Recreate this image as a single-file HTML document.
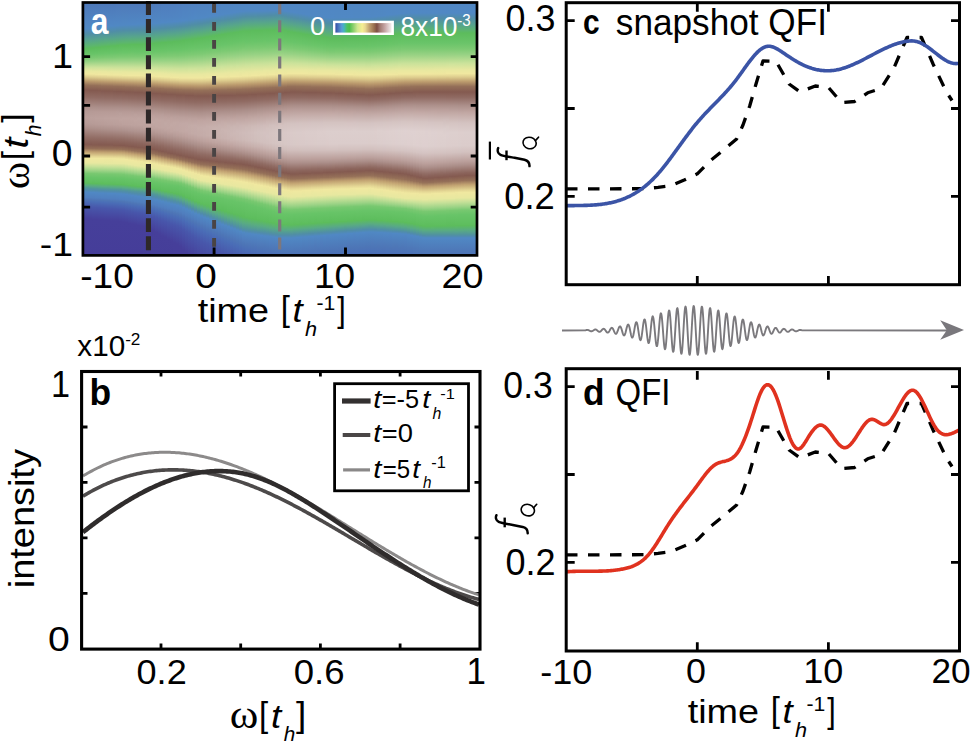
<!DOCTYPE html>
<html><head><meta charset="utf-8"><title>figure</title>
<style>html,body{margin:0;padding:0;background:#fff;} body{width:971px;height:742px;overflow:hidden;} svg{display:block;}</style>
</head><body>
<svg width="971" height="742" viewBox="0 0 971 742">
<rect width="971" height="742" fill="#fff"/>
<defs><linearGradient id="g0" x1="0" y1="0" x2="0" y2="1"><stop offset=".0000" stop-color="#4e78b8"/><stop offset=".0731" stop-color="#5084c2"/><stop offset=".1047" stop-color="#5088c3"/><stop offset=".1265" stop-color="#508ea6"/><stop offset=".1522" stop-color="#57a58b"/><stop offset=".1739" stop-color="#5cb66d"/><stop offset=".1838" stop-color="#5cbc5c"/><stop offset=".2075" stop-color="#6ac569"/><stop offset=".2213" stop-color="#7dca73"/><stop offset=".2332" stop-color="#94d182"/><stop offset=".2530" stop-color="#c5e098"/><stop offset=".2648" stop-color="#dee69e"/><stop offset=".2727" stop-color="#eae8a0"/><stop offset=".2826" stop-color="#efe79f"/><stop offset=".2945" stop-color="#dccb8c"/><stop offset=".3103" stop-color="#bb9b6d"/><stop offset=".3261" stop-color="#957058"/><stop offset=".3458" stop-color="#845a50"/><stop offset=".3735" stop-color="#906b63"/><stop offset=".4130" stop-color="#ab8e89"/><stop offset=".4289" stop-color="#b49995"/><stop offset=".4545" stop-color="#ba9f9b"/><stop offset=".4802" stop-color="#b59a96"/><stop offset=".4960" stop-color="#ac8f8b"/><stop offset=".5336" stop-color="#916c64"/><stop offset=".5613" stop-color="#845a50"/><stop offset=".5771" stop-color="#957058"/><stop offset=".5909" stop-color="#c2a372"/><stop offset=".6087" stop-color="#e5d795"/><stop offset=".6166" stop-color="#f0e8a0"/><stop offset=".6344" stop-color="#e8e8a0"/><stop offset=".6482" stop-color="#c5e098"/><stop offset=".6640" stop-color="#9bd386"/><stop offset=".6719" stop-color="#83cc78"/><stop offset=".6759" stop-color="#78c870"/><stop offset=".6917" stop-color="#67c467"/><stop offset=".7115" stop-color="#5ebe5e"/><stop offset=".7134" stop-color="#5cbc5c"/><stop offset=".7233" stop-color="#59ac81"/><stop offset=".7312" stop-color="#529997"/><stop offset=".7391" stop-color="#508ca8"/><stop offset=".7490" stop-color="#5088c3"/><stop offset=".7708" stop-color="#507ebe"/><stop offset=".7787" stop-color="#4d75b6"/><stop offset=".7866" stop-color="#4a6cb6"/><stop offset=".8063" stop-color="#4857ab"/><stop offset=".8538" stop-color="#463f9a"/><stop offset="1.0000" stop-color="#453d99"/></linearGradient>
<linearGradient id="g1" x1="0" y1="0" x2="0" y2="1"><stop offset=".0000" stop-color="#4e78b8"/><stop offset=".0731" stop-color="#5084c2"/><stop offset=".1028" stop-color="#5088c4"/><stop offset=".1245" stop-color="#508da7"/><stop offset=".1502" stop-color="#56a48c"/><stop offset=".1719" stop-color="#5cb56f"/><stop offset=".1818" stop-color="#5cbc5c"/><stop offset=".2055" stop-color="#69c468"/><stop offset=".2213" stop-color="#7eca74"/><stop offset=".2332" stop-color="#95d183"/><stop offset=".2549" stop-color="#cae29a"/><stop offset=".2708" stop-color="#e8e8a0"/><stop offset=".2826" stop-color="#f0e8a0"/><stop offset=".2945" stop-color="#ddcc8d"/><stop offset=".3103" stop-color="#bd9c6e"/><stop offset=".3261" stop-color="#967259"/><stop offset=".3458" stop-color="#855b50"/><stop offset=".3735" stop-color="#906a62"/><stop offset=".4130" stop-color="#ab8e89"/><stop offset=".4289" stop-color="#b49995"/><stop offset=".4545" stop-color="#bb9f9b"/><stop offset=".4802" stop-color="#b69a96"/><stop offset=".4960" stop-color="#ad908b"/><stop offset=".5336" stop-color="#926d65"/><stop offset=".5593" stop-color="#855b52"/><stop offset=".5632" stop-color="#865c51"/><stop offset=".5771" stop-color="#956f58"/><stop offset=".5909" stop-color="#c2a372"/><stop offset=".6087" stop-color="#e5d795"/><stop offset=".6166" stop-color="#f0e8a0"/><stop offset=".6344" stop-color="#e8e8a0"/><stop offset=".6482" stop-color="#c6e098"/><stop offset=".6640" stop-color="#9cd386"/><stop offset=".6719" stop-color="#84cc78"/><stop offset=".6759" stop-color="#78c870"/><stop offset=".6917" stop-color="#67c467"/><stop offset=".7115" stop-color="#5ebe5e"/><stop offset=".7134" stop-color="#5dbd5d"/><stop offset=".7154" stop-color="#5cba61"/><stop offset=".7233" stop-color="#5aad7f"/><stop offset=".7312" stop-color="#539a96"/><stop offset=".7411" stop-color="#508bac"/><stop offset=".7490" stop-color="#5088c1"/><stop offset=".7530" stop-color="#5087c3"/><stop offset=".7708" stop-color="#507fbf"/><stop offset=".7787" stop-color="#4e76b6"/><stop offset=".7866" stop-color="#4a6db7"/><stop offset=".8083" stop-color="#4857ab"/><stop offset=".8557" stop-color="#463f9a"/><stop offset="1.0000" stop-color="#453d99"/></linearGradient>
<linearGradient id="g2" x1="0" y1="0" x2="0" y2="1"><stop offset=".0000" stop-color="#4e78b8"/><stop offset=".0731" stop-color="#5084c2"/><stop offset=".1028" stop-color="#5088c3"/><stop offset=".1245" stop-color="#508ea5"/><stop offset=".1522" stop-color="#58a789"/><stop offset=".1719" stop-color="#5cb66c"/><stop offset=".1798" stop-color="#5cbb5e"/><stop offset=".1877" stop-color="#5fbf5f"/><stop offset=".2055" stop-color="#6ac469"/><stop offset=".2194" stop-color="#7bc972"/><stop offset=".2332" stop-color="#96d183"/><stop offset=".2549" stop-color="#cae29a"/><stop offset=".2708" stop-color="#e8e8a0"/><stop offset=".2826" stop-color="#f0e8a0"/><stop offset=".2945" stop-color="#dece8e"/><stop offset=".3123" stop-color="#b9986c"/><stop offset=".3281" stop-color="#946f58"/><stop offset=".3478" stop-color="#845a50"/><stop offset=".3755" stop-color="#916c64"/><stop offset=".4150" stop-color="#ad908b"/><stop offset=".4308" stop-color="#b59a96"/><stop offset=".4565" stop-color="#bba09c"/><stop offset=".4802" stop-color="#b69b97"/><stop offset=".4960" stop-color="#ae918c"/><stop offset=".5316" stop-color="#947068"/><stop offset=".5474" stop-color="#8a635a"/><stop offset=".5613" stop-color="#845a51"/><stop offset=".5771" stop-color="#946f58"/><stop offset=".5909" stop-color="#c1a271"/><stop offset=".6087" stop-color="#e4d694"/><stop offset=".6166" stop-color="#f0e8a0"/><stop offset=".6344" stop-color="#e8e8a0"/><stop offset=".6482" stop-color="#c6e098"/><stop offset=".6660" stop-color="#97d284"/><stop offset=".6759" stop-color="#79c870"/><stop offset=".6917" stop-color="#67c467"/><stop offset=".7115" stop-color="#5fbf5f"/><stop offset=".7154" stop-color="#5cbb5f"/><stop offset=".7253" stop-color="#59aa84"/><stop offset=".7352" stop-color="#51949d"/><stop offset=".7411" stop-color="#508caa"/><stop offset=".7510" stop-color="#5088c4"/><stop offset=".7708" stop-color="#507fbf"/><stop offset=".7787" stop-color="#4e76b6"/><stop offset=".7866" stop-color="#4a6eb7"/><stop offset=".8083" stop-color="#4857ab"/><stop offset=".8557" stop-color="#463f9a"/><stop offset="1.0000" stop-color="#453d99"/></linearGradient>
<linearGradient id="g3" x1="0" y1="0" x2="0" y2="1"><stop offset=".0000" stop-color="#4e78b8"/><stop offset=".0731" stop-color="#5084c2"/><stop offset=".1008" stop-color="#5088c4"/><stop offset=".1225" stop-color="#508da6"/><stop offset=".1482" stop-color="#57a48c"/><stop offset=".1700" stop-color="#5cb66e"/><stop offset=".1798" stop-color="#5cbc5c"/><stop offset=".2036" stop-color="#68c468"/><stop offset=".2194" stop-color="#7cc973"/><stop offset=".2332" stop-color="#96d283"/><stop offset=".2549" stop-color="#cae29a"/><stop offset=".2727" stop-color="#e9e8a0"/><stop offset=".2826" stop-color="#f0e8a0"/><stop offset=".2945" stop-color="#dfcf8f"/><stop offset=".3123" stop-color="#ba996d"/><stop offset=".3281" stop-color="#956f58"/><stop offset=".3478" stop-color="#845a50"/><stop offset=".3755" stop-color="#916c64"/><stop offset=".4150" stop-color="#ad908b"/><stop offset=".4308" stop-color="#b69a96"/><stop offset=".4565" stop-color="#bba09c"/><stop offset=".4802" stop-color="#b79b97"/><stop offset=".4960" stop-color="#ae928d"/><stop offset=".5336" stop-color="#936e66"/><stop offset=".5494" stop-color="#8a6259"/><stop offset=".5632" stop-color="#855b50"/><stop offset=".5771" stop-color="#946f58"/><stop offset=".5830" stop-color="#a68362"/><stop offset=".5909" stop-color="#c1a171"/><stop offset=".6087" stop-color="#e4d694"/><stop offset=".6166" stop-color="#f0e8a0"/><stop offset=".6344" stop-color="#e8e8a0"/><stop offset=".6482" stop-color="#c7e199"/><stop offset=".6660" stop-color="#98d284"/><stop offset=".6759" stop-color="#79c871"/><stop offset=".6917" stop-color="#68c468"/><stop offset=".7134" stop-color="#5dbd5d"/><stop offset=".7154" stop-color="#5cbc5d"/><stop offset=".7253" stop-color="#59ab82"/><stop offset=".7352" stop-color="#52959c"/><stop offset=".7411" stop-color="#508ca8"/><stop offset=".7510" stop-color="#5088c4"/><stop offset=".7727" stop-color="#507ebe"/><stop offset=".7806" stop-color="#4d75b6"/><stop offset=".7885" stop-color="#4a6db6"/><stop offset=".8103" stop-color="#4857ab"/><stop offset=".8577" stop-color="#463f9a"/><stop offset="1.0000" stop-color="#453d99"/></linearGradient>
<linearGradient id="g4" x1="0" y1="0" x2="0" y2="1"><stop offset=".0000" stop-color="#4e78b8"/><stop offset=".0731" stop-color="#5084c2"/><stop offset=".0988" stop-color="#5088c4"/><stop offset=".1225" stop-color="#508ea5"/><stop offset=".1482" stop-color="#57a68a"/><stop offset=".1700" stop-color="#5cb66c"/><stop offset=".1779" stop-color="#5cbc5d"/><stop offset=".1996" stop-color="#66c366"/><stop offset=".2174" stop-color="#7ac971"/><stop offset=".2332" stop-color="#97d284"/><stop offset=".2569" stop-color="#cee39b"/><stop offset=".2727" stop-color="#e9e8a0"/><stop offset=".2846" stop-color="#efe69f"/><stop offset=".2964" stop-color="#dcca8c"/><stop offset=".3123" stop-color="#bb9b6d"/><stop offset=".3281" stop-color="#957058"/><stop offset=".3478" stop-color="#845a50"/><stop offset=".3755" stop-color="#916b63"/><stop offset=".4150" stop-color="#ac908b"/><stop offset=".4328" stop-color="#b79b97"/><stop offset=".4585" stop-color="#bca19d"/><stop offset=".4822" stop-color="#b79b97"/><stop offset=".4980" stop-color="#ae918c"/><stop offset=".5336" stop-color="#936f67"/><stop offset=".5494" stop-color="#8a6259"/><stop offset=".5632" stop-color="#855b50"/><stop offset=".5771" stop-color="#946e57"/><stop offset=".5810" stop-color="#9e7b5d"/><stop offset=".5909" stop-color="#c0a070"/><stop offset=".6087" stop-color="#e4d594"/><stop offset=".6166" stop-color="#f0e8a0"/><stop offset=".6344" stop-color="#e8e8a0"/><stop offset=".6482" stop-color="#c8e199"/><stop offset=".6660" stop-color="#98d284"/><stop offset=".6759" stop-color="#7ac971"/><stop offset=".6917" stop-color="#68c468"/><stop offset=".7134" stop-color="#5ebe5e"/><stop offset=".7154" stop-color="#5cbc5c"/><stop offset=".7253" stop-color="#59ac80"/><stop offset=".7352" stop-color="#52969b"/><stop offset=".7431" stop-color="#508bac"/><stop offset=".7510" stop-color="#5088c2"/><stop offset=".7569" stop-color="#5086c3"/><stop offset=".7727" stop-color="#507fbf"/><stop offset=".7806" stop-color="#4e76b6"/><stop offset=".7885" stop-color="#4a6eb7"/><stop offset=".8103" stop-color="#4857ab"/><stop offset=".8577" stop-color="#463f9a"/><stop offset="1.0000" stop-color="#453d99"/></linearGradient>
<linearGradient id="g5" x1="0" y1="0" x2="0" y2="1"><stop offset=".0000" stop-color="#4e78b8"/><stop offset=".0751" stop-color="#5084c2"/><stop offset=".0988" stop-color="#5088c3"/><stop offset=".1206" stop-color="#508ea6"/><stop offset=".1462" stop-color="#57a58b"/><stop offset=".1680" stop-color="#5cb66d"/><stop offset=".1779" stop-color="#5cbc5c"/><stop offset=".2036" stop-color="#6ac569"/><stop offset=".2194" stop-color="#7eca74"/><stop offset=".2332" stop-color="#98d284"/><stop offset=".2569" stop-color="#cee39b"/><stop offset=".2727" stop-color="#e9e8a0"/><stop offset=".2846" stop-color="#f0e7a0"/><stop offset=".2964" stop-color="#ddcc8d"/><stop offset=".3123" stop-color="#bc9c6e"/><stop offset=".3281" stop-color="#967159"/><stop offset=".3478" stop-color="#855b50"/><stop offset=".3755" stop-color="#906b63"/><stop offset=".4150" stop-color="#ac8f8b"/><stop offset=".4328" stop-color="#b79b97"/><stop offset=".4585" stop-color="#bca19d"/><stop offset=".4822" stop-color="#b79c98"/><stop offset=".5000" stop-color="#ad908b"/><stop offset=".5356" stop-color="#926d65"/><stop offset=".5573" stop-color="#865d54"/><stop offset=".5632" stop-color="#845a50"/><stop offset=".5791" stop-color="#977259"/><stop offset=".5909" stop-color="#c0a070"/><stop offset=".6087" stop-color="#e3d593"/><stop offset=".6166" stop-color="#f0e8a0"/><stop offset=".6344" stop-color="#e8e8a0"/><stop offset=".6482" stop-color="#c8e199"/><stop offset=".6640" stop-color="#9fd487"/><stop offset=".6739" stop-color="#81cb76"/><stop offset=".6779" stop-color="#77c86f"/><stop offset=".6937" stop-color="#67c467"/><stop offset=".7134" stop-color="#5ebe5e"/><stop offset=".7154" stop-color="#5dbd5d"/><stop offset=".7174" stop-color="#5cba61"/><stop offset=".7273" stop-color="#58a985"/><stop offset=".7372" stop-color="#51949d"/><stop offset=".7431" stop-color="#508caa"/><stop offset=".7530" stop-color="#5088c4"/><stop offset=".7727" stop-color="#507fbf"/><stop offset=".7806" stop-color="#4e76b6"/><stop offset=".7885" stop-color="#4a6eb7"/><stop offset=".8123" stop-color="#4856ab"/><stop offset=".8597" stop-color="#463f9a"/><stop offset="1.0000" stop-color="#453d99"/></linearGradient>
<linearGradient id="g6" x1="0" y1="0" x2="0" y2="1"><stop offset=".0000" stop-color="#4e78b8"/><stop offset=".0751" stop-color="#5085c2"/><stop offset=".0968" stop-color="#5088c4"/><stop offset=".1186" stop-color="#508da7"/><stop offset=".1443" stop-color="#56a48c"/><stop offset=".1660" stop-color="#5cb56e"/><stop offset=".1759" stop-color="#5cbc5c"/><stop offset=".2016" stop-color="#69c468"/><stop offset=".2174" stop-color="#7cc972"/><stop offset=".2332" stop-color="#98d284"/><stop offset=".2569" stop-color="#cee39b"/><stop offset=".2727" stop-color="#e8e8a0"/><stop offset=".2846" stop-color="#f0e8a0"/><stop offset=".2964" stop-color="#decd8e"/><stop offset=".3123" stop-color="#bd9d6f"/><stop offset=".3300" stop-color="#946f58"/><stop offset=".3498" stop-color="#845a51"/><stop offset=".3775" stop-color="#916d65"/><stop offset=".4150" stop-color="#ac8f8a"/><stop offset=".4328" stop-color="#b79b97"/><stop offset=".4585" stop-color="#bca19d"/><stop offset=".4822" stop-color="#b89c98"/><stop offset=".5000" stop-color="#ad918c"/><stop offset=".5356" stop-color="#926e66"/><stop offset=".5514" stop-color="#896159"/><stop offset=".5632" stop-color="#845a50"/><stop offset=".5791" stop-color="#967158"/><stop offset=".5909" stop-color="#bf9f6f"/><stop offset=".6087" stop-color="#e3d593"/><stop offset=".6166" stop-color="#f0e8a0"/><stop offset=".6344" stop-color="#e8e8a0"/><stop offset=".6423" stop-color="#d7e59d"/><stop offset=".6601" stop-color="#aad78d"/><stop offset=".6719" stop-color="#88cd7b"/><stop offset=".6779" stop-color="#77c870"/><stop offset=".6937" stop-color="#67c467"/><stop offset=".7134" stop-color="#5ebe5e"/><stop offset=".7154" stop-color="#5dbd5d"/><stop offset=".7174" stop-color="#5cbb5f"/><stop offset=".7273" stop-color="#59ab83"/><stop offset=".7372" stop-color="#51959c"/><stop offset=".7431" stop-color="#508ca9"/><stop offset=".7530" stop-color="#5088c4"/><stop offset=".7727" stop-color="#5080c0"/><stop offset=".7826" stop-color="#4d75b6"/><stop offset=".7905" stop-color="#4a6db7"/><stop offset=".8123" stop-color="#4857ab"/><stop offset=".8597" stop-color="#463f9a"/><stop offset="1.0000" stop-color="#453d99"/></linearGradient>
<linearGradient id="g7" x1="0" y1="0" x2="0" y2="1"><stop offset=".0000" stop-color="#4e78b8"/><stop offset=".0751" stop-color="#5085c2"/><stop offset=".0968" stop-color="#5088c2"/><stop offset=".1186" stop-color="#508ea5"/><stop offset=".1462" stop-color="#58a789"/><stop offset=".1660" stop-color="#5cb66c"/><stop offset=".1739" stop-color="#5cbb5e"/><stop offset=".1858" stop-color="#60c060"/><stop offset=".2036" stop-color="#6cc56a"/><stop offset=".2174" stop-color="#7dca73"/><stop offset=".2332" stop-color="#99d284"/><stop offset=".2569" stop-color="#cde39b"/><stop offset=".2727" stop-color="#e8e8a0"/><stop offset=".2846" stop-color="#f0e8a0"/><stop offset=".2964" stop-color="#dfce8f"/><stop offset=".3142" stop-color="#ba996d"/><stop offset=".3300" stop-color="#956f58"/><stop offset=".3498" stop-color="#845a50"/><stop offset=".3775" stop-color="#916c64"/><stop offset=".4150" stop-color="#ac8f8a"/><stop offset=".4328" stop-color="#b79b97"/><stop offset=".4585" stop-color="#bda29e"/><stop offset=".4822" stop-color="#b89d99"/><stop offset=".5000" stop-color="#ae928d"/><stop offset=".5356" stop-color="#936e66"/><stop offset=".5494" stop-color="#8a635a"/><stop offset=".5632" stop-color="#845a50"/><stop offset=".5791" stop-color="#957058"/><stop offset=".5909" stop-color="#be9e6f"/><stop offset=".6087" stop-color="#e3d493"/><stop offset=".6166" stop-color="#efe79f"/><stop offset=".6364" stop-color="#e6e8a0"/><stop offset=".6502" stop-color="#c4e098"/><stop offset=".6660" stop-color="#9ad385"/><stop offset=".6779" stop-color="#77c870"/><stop offset=".6937" stop-color="#67c467"/><stop offset=".7134" stop-color="#5fbf5f"/><stop offset=".7174" stop-color="#5cbc5d"/><stop offset=".7273" stop-color="#59ac82"/><stop offset=".7372" stop-color="#52969b"/><stop offset=".7451" stop-color="#508bad"/><stop offset=".7530" stop-color="#5088c2"/><stop offset=".7727" stop-color="#5080c0"/><stop offset=".7826" stop-color="#4e76b6"/><stop offset=".7905" stop-color="#4a6eb7"/><stop offset=".8142" stop-color="#4856ab"/><stop offset=".8617" stop-color="#463f9a"/><stop offset="1.0000" stop-color="#453d99"/></linearGradient>
<linearGradient id="g8" x1="0" y1="0" x2="0" y2="1"><stop offset=".0000" stop-color="#4e78b8"/><stop offset=".0751" stop-color="#5085c2"/><stop offset=".0949" stop-color="#5088c3"/><stop offset=".1166" stop-color="#508da6"/><stop offset=".1423" stop-color="#57a48c"/><stop offset=".1640" stop-color="#5cb66e"/><stop offset=".1739" stop-color="#5cbc5c"/><stop offset=".1996" stop-color="#68c468"/><stop offset=".2174" stop-color="#7dca74"/><stop offset=".2332" stop-color="#9ad285"/><stop offset=".2569" stop-color="#cde39b"/><stop offset=".2747" stop-color="#e9e8a0"/><stop offset=".2846" stop-color="#efe8a0"/><stop offset=".2885" stop-color="#ece29c"/><stop offset=".2984" stop-color="#dcca8c"/><stop offset=".3142" stop-color="#bb9a6d"/><stop offset=".3300" stop-color="#957058"/><stop offset=".3498" stop-color="#845a50"/><stop offset=".3775" stop-color="#916c64"/><stop offset=".4150" stop-color="#ac8f8a"/><stop offset=".4328" stop-color="#b79b97"/><stop offset=".4585" stop-color="#bda29e"/><stop offset=".4822" stop-color="#b99e9a"/><stop offset=".5020" stop-color="#ad918c"/><stop offset=".5375" stop-color="#926d65"/><stop offset=".5632" stop-color="#845a50"/><stop offset=".5791" stop-color="#957058"/><stop offset=".5929" stop-color="#c2a472"/><stop offset=".6087" stop-color="#e2d492"/><stop offset=".6166" stop-color="#efe79f"/><stop offset=".6364" stop-color="#e7e8a0"/><stop offset=".6502" stop-color="#c5e098"/><stop offset=".6660" stop-color="#9bd386"/><stop offset=".6739" stop-color="#84cc78"/><stop offset=".6779" stop-color="#78c870"/><stop offset=".6937" stop-color="#67c467"/><stop offset=".7154" stop-color="#5ebe5e"/><stop offset=".7174" stop-color="#5cbc5c"/><stop offset=".7273" stop-color="#59ac80"/><stop offset=".7372" stop-color="#52979a"/><stop offset=".7451" stop-color="#508cab"/><stop offset=".7530" stop-color="#5088c1"/><stop offset=".7549" stop-color="#5088c4"/><stop offset=".7747" stop-color="#507fbf"/><stop offset=".7826" stop-color="#4e76b6"/><stop offset=".7925" stop-color="#4a6db6"/><stop offset=".8142" stop-color="#4857ab"/><stop offset=".8617" stop-color="#463f9a"/><stop offset="1.0000" stop-color="#453d99"/></linearGradient>
<linearGradient id="g9" x1="0" y1="0" x2="0" y2="1"><stop offset=".0000" stop-color="#4e78b8"/><stop offset=".0771" stop-color="#5085c3"/><stop offset=".0929" stop-color="#5088c4"/><stop offset=".1166" stop-color="#508ea5"/><stop offset=".1423" stop-color="#57a68a"/><stop offset=".1640" stop-color="#5cb66b"/><stop offset=".1719" stop-color="#5cbc5d"/><stop offset=".1976" stop-color="#68c468"/><stop offset=".2154" stop-color="#7bc972"/><stop offset=".2312" stop-color="#96d183"/><stop offset=".2549" stop-color="#c9e199"/><stop offset=".2727" stop-color="#e7e8a0"/><stop offset=".2866" stop-color="#efe79f"/><stop offset=".2984" stop-color="#ddcb8d"/><stop offset=".3142" stop-color="#bc9c6e"/><stop offset=".3300" stop-color="#967159"/><stop offset=".3498" stop-color="#855b50"/><stop offset=".3775" stop-color="#916c64"/><stop offset=".4150" stop-color="#ac8f8a"/><stop offset=".4328" stop-color="#b79b97"/><stop offset=".4585" stop-color="#bea39f"/><stop offset=".4822" stop-color="#ba9e9a"/><stop offset=".5020" stop-color="#ae918d"/><stop offset=".5375" stop-color="#926d65"/><stop offset=".5573" stop-color="#875e55"/><stop offset=".5632" stop-color="#845b51"/><stop offset=".5771" stop-color="#926c57"/><stop offset=".5791" stop-color="#946f58"/><stop offset=".5929" stop-color="#c2a372"/><stop offset=".6087" stop-color="#e2d392"/><stop offset=".6166" stop-color="#efe69f"/><stop offset=".6364" stop-color="#e7e8a0"/><stop offset=".6502" stop-color="#c5e098"/><stop offset=".6660" stop-color="#9cd386"/><stop offset=".6759" stop-color="#7eca74"/><stop offset=".6779" stop-color="#78c870"/><stop offset=".6937" stop-color="#68c468"/><stop offset=".7154" stop-color="#5ebe5e"/><stop offset=".7174" stop-color="#5dbd5d"/><stop offset=".7194" stop-color="#5cba61"/><stop offset=".7292" stop-color="#59aa85"/><stop offset=".7391" stop-color="#51959d"/><stop offset=".7451" stop-color="#508ca9"/><stop offset=".7549" stop-color="#5088c4"/><stop offset=".7767" stop-color="#507ebe"/><stop offset=".7846" stop-color="#4d75b6"/><stop offset=".7925" stop-color="#4a6db7"/><stop offset=".8162" stop-color="#4856ab"/><stop offset=".8636" stop-color="#463f9a"/><stop offset="1.0000" stop-color="#453d99"/></linearGradient>
<linearGradient id="g10" x1="0" y1="0" x2="0" y2="1"><stop offset=".0000" stop-color="#4e78b8"/><stop offset=".0791" stop-color="#5086c3"/><stop offset=".0929" stop-color="#5088c3"/><stop offset=".1146" stop-color="#508ea6"/><stop offset=".1403" stop-color="#57a58b"/><stop offset=".1621" stop-color="#5cb66d"/><stop offset=".1719" stop-color="#5cbc5c"/><stop offset=".1996" stop-color="#6ac469"/><stop offset=".2174" stop-color="#7fca75"/><stop offset=".2312" stop-color="#97d283"/><stop offset=".2549" stop-color="#c8e199"/><stop offset=".2727" stop-color="#e6e8a0"/><stop offset=".2866" stop-color="#f0e8a0"/><stop offset=".2984" stop-color="#decd8e"/><stop offset=".3142" stop-color="#bd9d6e"/><stop offset=".3320" stop-color="#946f58"/><stop offset=".3518" stop-color="#845b51"/><stop offset=".3775" stop-color="#906b63"/><stop offset=".4150" stop-color="#ac8f8a"/><stop offset=".4328" stop-color="#b79b97"/><stop offset=".4585" stop-color="#bea39f"/><stop offset=".4822" stop-color="#ba9f9b"/><stop offset=".5020" stop-color="#af928e"/><stop offset=".5356" stop-color="#947068"/><stop offset=".5494" stop-color="#8b645b"/><stop offset=".5652" stop-color="#855b50"/><stop offset=".5791" stop-color="#946f58"/><stop offset=".5889" stop-color="#b5936a"/><stop offset=".5949" stop-color="#c6a876"/><stop offset=".6107" stop-color="#e5d795"/><stop offset=".6166" stop-color="#efe69f"/><stop offset=".6245" stop-color="#ede8a0"/><stop offset=".6364" stop-color="#e7e8a0"/><stop offset=".6502" stop-color="#c6e098"/><stop offset=".6680" stop-color="#97d284"/><stop offset=".6779" stop-color="#79c871"/><stop offset=".6937" stop-color="#68c468"/><stop offset=".7154" stop-color="#5ebe5e"/><stop offset=".7174" stop-color="#5dbd5d"/><stop offset=".7194" stop-color="#5cbb5f"/><stop offset=".7292" stop-color="#59ab83"/><stop offset=".7391" stop-color="#52969b"/><stop offset=".7451" stop-color="#508ca8"/><stop offset=".7549" stop-color="#5088c3"/><stop offset=".7767" stop-color="#507ebe"/><stop offset=".7846" stop-color="#4e76b6"/><stop offset=".7925" stop-color="#4a6eb7"/><stop offset=".8162" stop-color="#4857ab"/><stop offset=".8636" stop-color="#463f9a"/><stop offset="1.0000" stop-color="#453d99"/></linearGradient>
<linearGradient id="g11" x1="0" y1="0" x2="0" y2="1"><stop offset=".0000" stop-color="#4f79b9"/><stop offset=".0791" stop-color="#5086c3"/><stop offset=".0909" stop-color="#5088c4"/><stop offset=".1126" stop-color="#508da6"/><stop offset=".1383" stop-color="#57a48c"/><stop offset=".1601" stop-color="#5cb56e"/><stop offset=".1700" stop-color="#5cbc5c"/><stop offset=".1976" stop-color="#69c468"/><stop offset=".2154" stop-color="#7dca73"/><stop offset=".2312" stop-color="#97d284"/><stop offset=".2549" stop-color="#c8e199"/><stop offset=".2727" stop-color="#e6e8a0"/><stop offset=".2866" stop-color="#f0e8a0"/><stop offset=".2984" stop-color="#dfce8f"/><stop offset=".3162" stop-color="#ba996c"/><stop offset=".3320" stop-color="#946f58"/><stop offset=".3518" stop-color="#845a50"/><stop offset=".3775" stop-color="#906b63"/><stop offset=".4150" stop-color="#ac8f8a"/><stop offset=".4328" stop-color="#b79c98"/><stop offset=".4585" stop-color="#bea39f"/><stop offset=".4822" stop-color="#bb9f9b"/><stop offset=".5020" stop-color="#af938f"/><stop offset=".5356" stop-color="#957169"/><stop offset=".5494" stop-color="#8b645c"/><stop offset=".5652" stop-color="#855b50"/><stop offset=".5791" stop-color="#946e57"/><stop offset=".5830" stop-color="#9f7b5e"/><stop offset=".5929" stop-color="#c1a171"/><stop offset=".6107" stop-color="#e5d795"/><stop offset=".6166" stop-color="#eee59e"/><stop offset=".6206" stop-color="#efe8a0"/><stop offset=".6364" stop-color="#e8e8a0"/><stop offset=".6502" stop-color="#c6e098"/><stop offset=".6680" stop-color="#98d284"/><stop offset=".6779" stop-color="#7ac971"/><stop offset=".6957" stop-color="#67c467"/><stop offset=".7154" stop-color="#5fbf5f"/><stop offset=".7194" stop-color="#5cbc5d"/><stop offset=".7292" stop-color="#59ac81"/><stop offset=".7411" stop-color="#51939e"/><stop offset=".7470" stop-color="#508cab"/><stop offset=".7549" stop-color="#5088c1"/><stop offset=".7589" stop-color="#5087c3"/><stop offset=".7767" stop-color="#507fbf"/><stop offset=".7846" stop-color="#4e77b7"/><stop offset=".7945" stop-color="#4a6db6"/><stop offset=".8182" stop-color="#4856ab"/><stop offset=".8636" stop-color="#463f9a"/><stop offset="1.0000" stop-color="#453d99"/></linearGradient>
<linearGradient id="g12" x1="0" y1="0" x2="0" y2="1"><stop offset=".0000" stop-color="#4f79b9"/><stop offset=".0791" stop-color="#5086c3"/><stop offset=".0909" stop-color="#5088c2"/><stop offset=".1126" stop-color="#508ea5"/><stop offset=".1383" stop-color="#57a58b"/><stop offset=".1601" stop-color="#5cb66c"/><stop offset=".1680" stop-color="#5cbc5d"/><stop offset=".1897" stop-color="#65c265"/><stop offset=".2016" stop-color="#6ec56b"/><stop offset=".2154" stop-color="#7eca74"/><stop offset=".2312" stop-color="#98d284"/><stop offset=".2549" stop-color="#c8e199"/><stop offset=".2727" stop-color="#e5e8a0"/><stop offset=".2866" stop-color="#efe8a0"/><stop offset=".2945" stop-color="#e6d896"/><stop offset=".3024" stop-color="#d8c388"/><stop offset=".3162" stop-color="#bb9a6d"/><stop offset=".3320" stop-color="#957058"/><stop offset=".3518" stop-color="#845a50"/><stop offset=".3794" stop-color="#916d65"/><stop offset=".4170" stop-color="#ad908c"/><stop offset=".4387" stop-color="#ba9f9b"/><stop offset=".4644" stop-color="#bfa4a0"/><stop offset=".4862" stop-color="#ba9e9a"/><stop offset=".5059" stop-color="#ad908b"/><stop offset=".5395" stop-color="#926d65"/><stop offset=".5632" stop-color="#855b51"/><stop offset=".5652" stop-color="#845a50"/><stop offset=".5810" stop-color="#977359"/><stop offset=".5929" stop-color="#c0a170"/><stop offset=".6107" stop-color="#e4d794"/><stop offset=".6186" stop-color="#f0e8a0"/><stop offset=".6364" stop-color="#e8e8a0"/><stop offset=".6502" stop-color="#c7e098"/><stop offset=".6680" stop-color="#98d284"/><stop offset=".6779" stop-color="#7bc972"/><stop offset=".6937" stop-color="#68c468"/><stop offset=".7174" stop-color="#5ebe5e"/><stop offset=".7194" stop-color="#5cbc5c"/><stop offset=".7292" stop-color="#5aad7f"/><stop offset=".7391" stop-color="#529799"/><stop offset=".7470" stop-color="#508caa"/><stop offset=".7569" stop-color="#5088c4"/><stop offset=".7767" stop-color="#5080c0"/><stop offset=".7866" stop-color="#4d75b6"/><stop offset=".7945" stop-color="#4a6eb7"/><stop offset=".8182" stop-color="#4857ab"/><stop offset=".8656" stop-color="#463f9a"/><stop offset="1.0000" stop-color="#453d99"/></linearGradient>
<linearGradient id="g13" x1="0" y1="0" x2="0" y2="1"><stop offset=".0000" stop-color="#4f79b9"/><stop offset=".0810" stop-color="#5087c3"/><stop offset=".0889" stop-color="#5088c4"/><stop offset=".1107" stop-color="#508da6"/><stop offset=".1364" stop-color="#57a48c"/><stop offset=".1581" stop-color="#5cb56e"/><stop offset=".1680" stop-color="#5cbc5c"/><stop offset=".1976" stop-color="#6ac569"/><stop offset=".2154" stop-color="#7eca74"/><stop offset=".2312" stop-color="#98d284"/><stop offset=".2549" stop-color="#c8e199"/><stop offset=".2747" stop-color="#e8e8a0"/><stop offset=".2885" stop-color="#efe79f"/><stop offset=".3004" stop-color="#dccb8c"/><stop offset=".3162" stop-color="#bc9b6e"/><stop offset=".3320" stop-color="#967158"/><stop offset=".3518" stop-color="#855b50"/><stop offset=".3775" stop-color="#906a62"/><stop offset=".4150" stop-color="#ac8e89"/><stop offset=".4328" stop-color="#b79b97"/><stop offset=".4585" stop-color="#bfa4a0"/><stop offset=".4822" stop-color="#bca19d"/><stop offset=".5040" stop-color="#af938f"/><stop offset=".5375" stop-color="#947068"/><stop offset=".5514" stop-color="#8b645b"/><stop offset=".5652" stop-color="#845a50"/><stop offset=".5810" stop-color="#957058"/><stop offset=".5929" stop-color="#be9e6f"/><stop offset=".6107" stop-color="#e3d593"/><stop offset=".6186" stop-color="#f0e8a0"/><stop offset=".6364" stop-color="#e8e8a0"/><stop offset=".6502" stop-color="#c9e199"/><stop offset=".6660" stop-color="#a0d488"/><stop offset=".6759" stop-color="#83cc77"/><stop offset=".6798" stop-color="#78c870"/><stop offset=".6957" stop-color="#67c467"/><stop offset=".7174" stop-color="#5ebe5e"/><stop offset=".7194" stop-color="#5dbd5d"/><stop offset=".7213" stop-color="#5cbb60"/><stop offset=".7312" stop-color="#59ab83"/><stop offset=".7431" stop-color="#51939f"/><stop offset=".7490" stop-color="#508bac"/><stop offset=".7569" stop-color="#5088c2"/><stop offset=".7648" stop-color="#5085c3"/><stop offset=".7787" stop-color="#507fbf"/><stop offset=".7866" stop-color="#4e76b6"/><stop offset=".7964" stop-color="#4a6db6"/><stop offset=".8202" stop-color="#4856ab"/><stop offset=".8676" stop-color="#463f9a"/><stop offset="1.0000" stop-color="#453d99"/></linearGradient>
<linearGradient id="g14" x1="0" y1="0" x2="0" y2="1"><stop offset=".0000" stop-color="#4f79b9"/><stop offset=".0810" stop-color="#5087c3"/><stop offset=".0889" stop-color="#5088c3"/><stop offset=".1107" stop-color="#508ea6"/><stop offset=".1364" stop-color="#57a58b"/><stop offset=".1581" stop-color="#5cb66d"/><stop offset=".1680" stop-color="#5cbc5c"/><stop offset=".1976" stop-color="#6ac569"/><stop offset=".2154" stop-color="#7eca74"/><stop offset=".2312" stop-color="#98d284"/><stop offset=".2549" stop-color="#c8e199"/><stop offset=".2747" stop-color="#e8e8a0"/><stop offset=".2885" stop-color="#efe79f"/><stop offset=".3004" stop-color="#ddcc8d"/><stop offset=".3162" stop-color="#bd9c6e"/><stop offset=".3340" stop-color="#946f58"/><stop offset=".3538" stop-color="#845a50"/><stop offset=".3794" stop-color="#916c64"/><stop offset=".4150" stop-color="#ab8e89"/><stop offset=".4328" stop-color="#b79b97"/><stop offset=".4585" stop-color="#bfa4a0"/><stop offset=".4822" stop-color="#bda19d"/><stop offset=".5040" stop-color="#b09490"/><stop offset=".5375" stop-color="#95726a"/><stop offset=".5514" stop-color="#8c655c"/><stop offset=".5672" stop-color="#845a50"/><stop offset=".5830" stop-color="#967259"/><stop offset=".5949" stop-color="#c0a070"/><stop offset=".6126" stop-color="#e4d594"/><stop offset=".6206" stop-color="#f0e8a0"/><stop offset=".6383" stop-color="#e8e8a0"/><stop offset=".6522" stop-color="#c8e199"/><stop offset=".6700" stop-color="#99d285"/><stop offset=".6818" stop-color="#77c870"/><stop offset=".6976" stop-color="#67c467"/><stop offset=".7194" stop-color="#5ebe5e"/><stop offset=".7213" stop-color="#5cbc5c"/><stop offset=".7332" stop-color="#59aa85"/><stop offset=".7431" stop-color="#51959c"/><stop offset=".7490" stop-color="#508ca8"/><stop offset=".7589" stop-color="#5088c3"/><stop offset=".7806" stop-color="#507fbf"/><stop offset=".7885" stop-color="#4e76b6"/><stop offset=".7984" stop-color="#4a6db6"/><stop offset=".8221" stop-color="#4857ab"/><stop offset=".8696" stop-color="#463f9a"/><stop offset="1.0000" stop-color="#453d99"/></linearGradient>
<linearGradient id="g15" x1="0" y1="0" x2="0" y2="1"><stop offset=".0000" stop-color="#4f79b9"/><stop offset=".0830" stop-color="#5087c4"/><stop offset=".0889" stop-color="#5088c3"/><stop offset=".1107" stop-color="#508ea5"/><stop offset=".1383" stop-color="#58a789"/><stop offset=".1581" stop-color="#5cb66c"/><stop offset=".1660" stop-color="#5cbb5e"/><stop offset=".1759" stop-color="#5fbf5f"/><stop offset=".1976" stop-color="#6bc569"/><stop offset=".2154" stop-color="#7fca74"/><stop offset=".2312" stop-color="#98d284"/><stop offset=".2549" stop-color="#c8e199"/><stop offset=".2747" stop-color="#e7e8a0"/><stop offset=".2885" stop-color="#f0e8a0"/><stop offset=".3004" stop-color="#decd8e"/><stop offset=".3182" stop-color="#b9986c"/><stop offset=".3340" stop-color="#946f58"/><stop offset=".3538" stop-color="#845a50"/><stop offset=".3794" stop-color="#906b63"/><stop offset=".4150" stop-color="#ab8e88"/><stop offset=".4328" stop-color="#b79b97"/><stop offset=".4565" stop-color="#bfa4a0"/><stop offset=".4822" stop-color="#bda29e"/><stop offset=".5059" stop-color="#b09490"/><stop offset=".5415" stop-color="#936f67"/><stop offset=".5553" stop-color="#8a635a"/><stop offset=".5692" stop-color="#855b50"/><stop offset=".5830" stop-color="#946f57"/><stop offset=".5870" stop-color="#9f7b5e"/><stop offset=".5968" stop-color="#c1a171"/><stop offset=".6146" stop-color="#e4d694"/><stop offset=".6225" stop-color="#f0e8a0"/><stop offset=".6403" stop-color="#e8e8a0"/><stop offset=".6542" stop-color="#c7e199"/><stop offset=".6719" stop-color="#98d284"/><stop offset=".6818" stop-color="#7ac971"/><stop offset=".6976" stop-color="#68c468"/><stop offset=".7194" stop-color="#5fbf5f"/><stop offset=".7233" stop-color="#5cbc5d"/><stop offset=".7332" stop-color="#59ac80"/><stop offset=".7431" stop-color="#529799"/><stop offset=".7510" stop-color="#508ca9"/><stop offset=".7609" stop-color="#5088c3"/><stop offset=".7826" stop-color="#507ebe"/><stop offset=".7905" stop-color="#4e76b6"/><stop offset=".8004" stop-color="#4a6db6"/><stop offset=".8241" stop-color="#4857ab"/><stop offset=".8735" stop-color="#463f9a"/><stop offset="1.0000" stop-color="#453d99"/></linearGradient>
<linearGradient id="g16" x1="0" y1="0" x2="0" y2="1"><stop offset=".0000" stop-color="#4f79b9"/><stop offset=".0870" stop-color="#5088c4"/><stop offset=".1107" stop-color="#508ea5"/><stop offset=".1364" stop-color="#57a68a"/><stop offset=".1581" stop-color="#5cb66b"/><stop offset=".1660" stop-color="#5cbc5d"/><stop offset=".1917" stop-color="#67c367"/><stop offset=".2134" stop-color="#7cc973"/><stop offset=".2312" stop-color="#99d284"/><stop offset=".2549" stop-color="#c8e199"/><stop offset=".2747" stop-color="#e7e8a0"/><stop offset=".2885" stop-color="#f0e8a0"/><stop offset=".3004" stop-color="#dece8e"/><stop offset=".3182" stop-color="#ba996d"/><stop offset=".3340" stop-color="#957058"/><stop offset=".3538" stop-color="#845b50"/><stop offset=".3794" stop-color="#906a62"/><stop offset=".4170" stop-color="#ac8f8a"/><stop offset=".4348" stop-color="#b79c98"/><stop offset=".4585" stop-color="#bfa4a0"/><stop offset=".4842" stop-color="#bda29e"/><stop offset=".5079" stop-color="#af938f"/><stop offset=".5415" stop-color="#947068"/><stop offset=".5553" stop-color="#8b645b"/><stop offset=".5692" stop-color="#845a50"/><stop offset=".5850" stop-color="#946f58"/><stop offset=".5988" stop-color="#c2a272"/><stop offset=".6166" stop-color="#e5d795"/><stop offset=".6245" stop-color="#f0e8a0"/><stop offset=".6423" stop-color="#e8e8a0"/><stop offset=".6561" stop-color="#c6e098"/><stop offset=".6719" stop-color="#9cd386"/><stop offset=".6818" stop-color="#7eca74"/><stop offset=".6838" stop-color="#78c870"/><stop offset=".6996" stop-color="#67c467"/><stop offset=".7213" stop-color="#5ebe5e"/><stop offset=".7233" stop-color="#5dbd5d"/><stop offset=".7253" stop-color="#5cbb5f"/><stop offset=".7352" stop-color="#59ab82"/><stop offset=".7451" stop-color="#52969b"/><stop offset=".7530" stop-color="#508caa"/><stop offset=".7628" stop-color="#5088c3"/><stop offset=".7846" stop-color="#507ebe"/><stop offset=".7925" stop-color="#4e76b6"/><stop offset=".8024" stop-color="#4a6db6"/><stop offset=".8281" stop-color="#4856aa"/><stop offset=".8755" stop-color="#463f9a"/><stop offset="1.0000" stop-color="#453d99"/></linearGradient>
<linearGradient id="g17" x1="0" y1="0" x2="0" y2="1"><stop offset=".0000" stop-color="#4f79b9"/><stop offset=".0870" stop-color="#5088c4"/><stop offset=".1087" stop-color="#508da7"/><stop offset=".1344" stop-color="#57a48c"/><stop offset=".1561" stop-color="#5cb56e"/><stop offset=".1660" stop-color="#5cbc5c"/><stop offset=".1957" stop-color="#69c469"/><stop offset=".2134" stop-color="#7cc973"/><stop offset=".2312" stop-color="#99d284"/><stop offset=".2569" stop-color="#cbe29a"/><stop offset=".2767" stop-color="#e9e8a0"/><stop offset=".2885" stop-color="#f0e8a0"/><stop offset=".3004" stop-color="#dfcf8f"/><stop offset=".3182" stop-color="#bb9b6d"/><stop offset=".3340" stop-color="#967159"/><stop offset=".3557" stop-color="#845a51"/><stop offset=".3814" stop-color="#916c64"/><stop offset=".4190" stop-color="#ad908b"/><stop offset=".4427" stop-color="#bba09c"/><stop offset=".4664" stop-color="#c0a5a1"/><stop offset=".4881" stop-color="#bca19d"/><stop offset=".5099" stop-color="#af938e"/><stop offset=".5435" stop-color="#947068"/><stop offset=".5573" stop-color="#8b635b"/><stop offset=".5711" stop-color="#845a50"/><stop offset=".5870" stop-color="#957058"/><stop offset=".6008" stop-color="#c2a472"/><stop offset=".6166" stop-color="#e2d392"/><stop offset=".6245" stop-color="#eee59e"/><stop offset=".6285" stop-color="#efe8a0"/><stop offset=".6443" stop-color="#e8e8a0"/><stop offset=".6581" stop-color="#c5e098"/><stop offset=".6739" stop-color="#9bd386"/><stop offset=".6818" stop-color="#83cc77"/><stop offset=".6858" stop-color="#77c870"/><stop offset=".7016" stop-color="#67c467"/><stop offset=".7233" stop-color="#5ebe5e"/><stop offset=".7253" stop-color="#5cbc5c"/><stop offset=".7372" stop-color="#59aa84"/><stop offset=".7470" stop-color="#52959c"/><stop offset=".7549" stop-color="#508cab"/><stop offset=".7648" stop-color="#5088c4"/><stop offset=".7866" stop-color="#507ebe"/><stop offset=".7945" stop-color="#4e76b6"/><stop offset=".8043" stop-color="#4a6db6"/><stop offset=".8300" stop-color="#4856ab"/><stop offset=".8775" stop-color="#463f9a"/><stop offset="1.0000" stop-color="#453d99"/></linearGradient>
<linearGradient id="g18" x1="0" y1="0" x2="0" y2="1"><stop offset=".0000" stop-color="#4f79b9"/><stop offset=".0850" stop-color="#5088c4"/><stop offset=".0909" stop-color="#5089be"/><stop offset=".1087" stop-color="#508da6"/><stop offset=".1344" stop-color="#57a48c"/><stop offset=".1561" stop-color="#5cb66d"/><stop offset=".1660" stop-color="#5cbc5c"/><stop offset=".1957" stop-color="#69c469"/><stop offset=".2134" stop-color="#7cc973"/><stop offset=".2312" stop-color="#99d284"/><stop offset=".2569" stop-color="#cbe29a"/><stop offset=".2767" stop-color="#e9e8a0"/><stop offset=".2885" stop-color="#f0e8a0"/><stop offset=".3004" stop-color="#e0d090"/><stop offset=".3182" stop-color="#bc9c6e"/><stop offset=".3360" stop-color="#946f58"/><stop offset=".3557" stop-color="#845a50"/><stop offset=".3814" stop-color="#906b63"/><stop offset=".4170" stop-color="#ab8e89"/><stop offset=".4348" stop-color="#b79b97"/><stop offset=".4585" stop-color="#bfa5a1"/><stop offset=".4842" stop-color="#bea39f"/><stop offset=".5079" stop-color="#b19591"/><stop offset=".5415" stop-color="#97746c"/><stop offset=".5553" stop-color="#8c665d"/><stop offset=".5731" stop-color="#855b50"/><stop offset=".5889" stop-color="#977259"/><stop offset=".6008" stop-color="#bf9e6f"/><stop offset=".6186" stop-color="#e2d392"/><stop offset=".6265" stop-color="#efe69f"/><stop offset=".6364" stop-color="#ece8a0"/><stop offset=".6462" stop-color="#e7e8a0"/><stop offset=".6601" stop-color="#c4e098"/><stop offset=".6759" stop-color="#9ad285"/><stop offset=".6877" stop-color="#77c86f"/><stop offset=".7036" stop-color="#67c367"/><stop offset=".7233" stop-color="#5fbf5f"/><stop offset=".7273" stop-color="#5cbc5d"/><stop offset=".7372" stop-color="#59ac80"/><stop offset=".7470" stop-color="#529799"/><stop offset=".7569" stop-color="#508bac"/><stop offset=".7668" stop-color="#5088c4"/><stop offset=".7885" stop-color="#507ebe"/><stop offset=".7964" stop-color="#4e76b6"/><stop offset=".8063" stop-color="#4a6db7"/><stop offset=".8320" stop-color="#4856ab"/><stop offset=".8814" stop-color="#463f9a"/><stop offset="1.0000" stop-color="#453d99"/></linearGradient>
<linearGradient id="g19" x1="0" y1="0" x2="0" y2="1"><stop offset=".0000" stop-color="#4f79b9"/><stop offset=".0850" stop-color="#5088c4"/><stop offset=".1087" stop-color="#508ea6"/><stop offset=".1344" stop-color="#57a58b"/><stop offset=".1561" stop-color="#5cb66d"/><stop offset=".1660" stop-color="#5cbc5c"/><stop offset=".1957" stop-color="#6ac469"/><stop offset=".2134" stop-color="#7dca73"/><stop offset=".2312" stop-color="#99d284"/><stop offset=".2569" stop-color="#cbe29a"/><stop offset=".2767" stop-color="#e9e8a0"/><stop offset=".2885" stop-color="#efe8a0"/><stop offset=".2964" stop-color="#e6d996"/><stop offset=".3043" stop-color="#d9c589"/><stop offset=".3182" stop-color="#bd9d6e"/><stop offset=".3360" stop-color="#956f58"/><stop offset=".3557" stop-color="#845b50"/><stop offset=".3814" stop-color="#906b63"/><stop offset=".4170" stop-color="#ab8e88"/><stop offset=".4348" stop-color="#b79b97"/><stop offset=".4585" stop-color="#c0a5a1"/><stop offset=".4842" stop-color="#bfa4a0"/><stop offset=".5079" stop-color="#b29793"/><stop offset=".5415" stop-color="#98756d"/><stop offset=".5573" stop-color="#8c655d"/><stop offset=".5731" stop-color="#845b51"/><stop offset=".5889" stop-color="#946f58"/><stop offset=".5949" stop-color="#a68361"/><stop offset=".6028" stop-color="#c0a070"/><stop offset=".6206" stop-color="#e3d493"/><stop offset=".6285" stop-color="#efe79f"/><stop offset=".6482" stop-color="#e7e8a0"/><stop offset=".6621" stop-color="#c3df97"/><stop offset=".6779" stop-color="#98d284"/><stop offset=".6877" stop-color="#79c871"/><stop offset=".7036" stop-color="#68c468"/><stop offset=".7253" stop-color="#5ebe5e"/><stop offset=".7273" stop-color="#5dbd5d"/><stop offset=".7292" stop-color="#5cbb5f"/><stop offset=".7391" stop-color="#59ab82"/><stop offset=".7490" stop-color="#52969a"/><stop offset=".7589" stop-color="#508bad"/><stop offset=".7688" stop-color="#5088c4"/><stop offset=".7905" stop-color="#507ebe"/><stop offset=".7984" stop-color="#4e76b6"/><stop offset=".8083" stop-color="#4a6db7"/><stop offset=".8340" stop-color="#4856ab"/><stop offset=".8834" stop-color="#463f9a"/><stop offset="1.0000" stop-color="#453d99"/></linearGradient>
<linearGradient id="g20" x1="0" y1="0" x2="0" y2="1"><stop offset=".0000" stop-color="#4f79b9"/><stop offset=".0850" stop-color="#5088c4"/><stop offset=".1087" stop-color="#508ea5"/><stop offset=".1344" stop-color="#57a58b"/><stop offset=".1561" stop-color="#5cb66c"/><stop offset=".1640" stop-color="#5cbc5d"/><stop offset=".1877" stop-color="#65c365"/><stop offset=".1996" stop-color="#6ec56b"/><stop offset=".2134" stop-color="#7dca73"/><stop offset=".2312" stop-color="#99d285"/><stop offset=".2569" stop-color="#cbe29a"/><stop offset=".2767" stop-color="#e8e8a0"/><stop offset=".2905" stop-color="#efe69f"/><stop offset=".3024" stop-color="#ddcc8d"/><stop offset=".3202" stop-color="#b9996c"/><stop offset=".3360" stop-color="#957058"/><stop offset=".3577" stop-color="#845b51"/><stop offset=".3834" stop-color="#916c64"/><stop offset=".4209" stop-color="#ad918c"/><stop offset=".4447" stop-color="#bca09c"/><stop offset=".4704" stop-color="#c0a6a2"/><stop offset=".4941" stop-color="#bca19d"/><stop offset=".5158" stop-color="#ae918c"/><stop offset=".5494" stop-color="#926e66"/><stop offset=".5672" stop-color="#885f56"/><stop offset=".5751" stop-color="#845a50"/><stop offset=".5909" stop-color="#956f58"/><stop offset=".6047" stop-color="#c1a171"/><stop offset=".6225" stop-color="#e3d593"/><stop offset=".6304" stop-color="#efe79f"/><stop offset=".6502" stop-color="#e6e8a0"/><stop offset=".6621" stop-color="#c8e199"/><stop offset=".6779" stop-color="#9dd386"/><stop offset=".6877" stop-color="#7eca74"/><stop offset=".6897" stop-color="#78c870"/><stop offset=".7055" stop-color="#67c467"/><stop offset=".7273" stop-color="#5ebe5e"/><stop offset=".7292" stop-color="#5cbc5c"/><stop offset=".7332" stop-color="#5cb769"/><stop offset=".7431" stop-color="#57a68a"/><stop offset=".7510" stop-color="#52969b"/><stop offset=".7609" stop-color="#508bae"/><stop offset=".7708" stop-color="#5088c4"/><stop offset=".7925" stop-color="#507ebe"/><stop offset=".8004" stop-color="#4e76b6"/><stop offset=".8103" stop-color="#4a6db7"/><stop offset=".8360" stop-color="#4856ab"/><stop offset=".8854" stop-color="#463f9a"/><stop offset="1.0000" stop-color="#453e99"/></linearGradient>
<linearGradient id="g21" x1="0" y1="0" x2="0" y2="1"><stop offset=".0000" stop-color="#4f79b9"/><stop offset=".0850" stop-color="#5088c4"/><stop offset=".1087" stop-color="#508fa5"/><stop offset=".1344" stop-color="#57a68a"/><stop offset=".1561" stop-color="#5cb76b"/><stop offset=".1640" stop-color="#5cbc5c"/><stop offset=".1937" stop-color="#68c468"/><stop offset=".2134" stop-color="#7dca73"/><stop offset=".2312" stop-color="#99d285"/><stop offset=".2569" stop-color="#cbe29a"/><stop offset=".2767" stop-color="#e8e8a0"/><stop offset=".2905" stop-color="#efe79f"/><stop offset=".3024" stop-color="#decd8e"/><stop offset=".3202" stop-color="#ba9a6d"/><stop offset=".3360" stop-color="#967159"/><stop offset=".3577" stop-color="#845a50"/><stop offset=".3834" stop-color="#916c64"/><stop offset=".4190" stop-color="#ac8e89"/><stop offset=".4387" stop-color="#b99d99"/><stop offset=".4625" stop-color="#c0a6a2"/><stop offset=".4881" stop-color="#bfa4a0"/><stop offset=".5138" stop-color="#b09490"/><stop offset=".5494" stop-color="#936f67"/><stop offset=".5632" stop-color="#8a635a"/><stop offset=".5771" stop-color="#855b50"/><stop offset=".5929" stop-color="#957058"/><stop offset=".6067" stop-color="#c2a372"/><stop offset=".6245" stop-color="#e4d594"/><stop offset=".6324" stop-color="#f0e8a0"/><stop offset=".6502" stop-color="#e8e8a0"/><stop offset=".6601" stop-color="#d1e49c"/><stop offset=".6779" stop-color="#a1d489"/><stop offset=".6858" stop-color="#8ace7c"/><stop offset=".6917" stop-color="#77c870"/><stop offset=".7075" stop-color="#67c467"/><stop offset=".7292" stop-color="#5dbd5d"/><stop offset=".7312" stop-color="#5cbc5c"/><stop offset=".7411" stop-color="#5aad80"/><stop offset=".7510" stop-color="#529799"/><stop offset=".7609" stop-color="#508cab"/><stop offset=".7727" stop-color="#5088c4"/><stop offset=".7925" stop-color="#507fbf"/><stop offset=".8024" stop-color="#4e76b6"/><stop offset=".8123" stop-color="#4a6db7"/><stop offset=".8379" stop-color="#4857ab"/><stop offset=".8893" stop-color="#463f9a"/><stop offset="1.0000" stop-color="#453e99"/></linearGradient>
<linearGradient id="g22" x1="0" y1="0" x2="0" y2="1"><stop offset=".0000" stop-color="#4f7aba"/><stop offset=".0830" stop-color="#5088c4"/><stop offset=".0968" stop-color="#508ab3"/><stop offset=".1087" stop-color="#518fa4"/><stop offset=".1403" stop-color="#59ac81"/><stop offset=".1561" stop-color="#5cb769"/><stop offset=".1640" stop-color="#5cbc5c"/><stop offset=".1937" stop-color="#69c468"/><stop offset=".2134" stop-color="#7eca74"/><stop offset=".2312" stop-color="#99d285"/><stop offset=".2569" stop-color="#cae29a"/><stop offset=".2787" stop-color="#e9e8a0"/><stop offset=".2905" stop-color="#f0e8a0"/><stop offset=".3043" stop-color="#dbc98b"/><stop offset=".3202" stop-color="#bc9b6e"/><stop offset=".3379" stop-color="#946f58"/><stop offset=".3577" stop-color="#845b50"/><stop offset=".3834" stop-color="#906b63"/><stop offset=".4190" stop-color="#ab8e88"/><stop offset=".4368" stop-color="#b79b97"/><stop offset=".4605" stop-color="#c0a5a1"/><stop offset=".4862" stop-color="#c0a5a1"/><stop offset=".5079" stop-color="#b69a96"/><stop offset=".5237" stop-color="#aa8d87"/><stop offset=".5613" stop-color="#8c665d"/><stop offset=".5791" stop-color="#845a50"/><stop offset=".5949" stop-color="#957058"/><stop offset=".6087" stop-color="#c1a271"/><stop offset=".6265" stop-color="#e3d593"/><stop offset=".6344" stop-color="#f0e7a0"/><stop offset=".6522" stop-color="#e8e8a0"/><stop offset=".6601" stop-color="#d6e59d"/><stop offset=".6779" stop-color="#a7d68b"/><stop offset=".6877" stop-color="#89ce7b"/><stop offset=".6937" stop-color="#77c870"/><stop offset=".7095" stop-color="#67c367"/><stop offset=".7312" stop-color="#5dbd5d"/><stop offset=".7332" stop-color="#5cbc5c"/><stop offset=".7431" stop-color="#5aad7e"/><stop offset=".7530" stop-color="#529898"/><stop offset=".7628" stop-color="#508ca9"/><stop offset=".7747" stop-color="#5088c4"/><stop offset=".7964" stop-color="#507ebe"/><stop offset=".8063" stop-color="#4d75b6"/><stop offset=".8142" stop-color="#4a6eb7"/><stop offset=".8419" stop-color="#4857ab"/><stop offset=".8953" stop-color="#463f9a"/><stop offset="1.0000" stop-color="#453e99"/></linearGradient>
<linearGradient id="g23" x1="0" y1="0" x2="0" y2="1"><stop offset=".0000" stop-color="#4f7aba"/><stop offset=".0830" stop-color="#5088c4"/><stop offset=".1047" stop-color="#508da7"/><stop offset=".1304" stop-color="#56a48c"/><stop offset=".1522" stop-color="#5cb56f"/><stop offset=".1621" stop-color="#5cbc5c"/><stop offset=".1937" stop-color="#69c469"/><stop offset=".2134" stop-color="#7eca74"/><stop offset=".2312" stop-color="#99d285"/><stop offset=".2589" stop-color="#cde39b"/><stop offset=".2787" stop-color="#e9e8a0"/><stop offset=".2905" stop-color="#f0e8a0"/><stop offset=".3024" stop-color="#e0d190"/><stop offset=".3221" stop-color="#b9986c"/><stop offset=".3379" stop-color="#957058"/><stop offset=".3597" stop-color="#845a51"/><stop offset=".3854" stop-color="#916c64"/><stop offset=".4229" stop-color="#ad908c"/><stop offset=".4486" stop-color="#bda19d"/><stop offset=".4743" stop-color="#c1a7a3"/><stop offset=".4980" stop-color="#bda29e"/><stop offset=".5217" stop-color="#ae918c"/><stop offset=".5553" stop-color="#926e66"/><stop offset=".5711" stop-color="#896158"/><stop offset=".5810" stop-color="#845a50"/><stop offset=".5968" stop-color="#946f58"/><stop offset=".6107" stop-color="#c0a170"/><stop offset=".6285" stop-color="#e3d493"/><stop offset=".6364" stop-color="#efe79f"/><stop offset=".6561" stop-color="#e6e8a0"/><stop offset=".6680" stop-color="#c7e199"/><stop offset=".6838" stop-color="#9bd386"/><stop offset=".6917" stop-color="#82cb77"/><stop offset=".6957" stop-color="#77c870"/><stop offset=".7095" stop-color="#68c468"/><stop offset=".7332" stop-color="#5ebe5e"/><stop offset=".7352" stop-color="#5dbd5d"/><stop offset=".7372" stop-color="#5cba60"/><stop offset=".7490" stop-color="#58a888"/><stop offset=".7589" stop-color="#51959d"/><stop offset=".7668" stop-color="#508cab"/><stop offset=".7767" stop-color="#5088c2"/><stop offset=".7806" stop-color="#5087c3"/><stop offset=".7984" stop-color="#507fbf"/><stop offset=".8083" stop-color="#4e76b6"/><stop offset=".8182" stop-color="#4a6eb7"/><stop offset=".8478" stop-color="#4856ab"/><stop offset=".9012" stop-color="#463f9a"/><stop offset="1.0000" stop-color="#453e99"/></linearGradient>
<linearGradient id="g24" x1="0" y1="0" x2="0" y2="1"><stop offset=".0000" stop-color="#4f7bbb"/><stop offset=".0830" stop-color="#5088c3"/><stop offset=".1047" stop-color="#508ea5"/><stop offset=".1324" stop-color="#58a789"/><stop offset=".1522" stop-color="#5cb66c"/><stop offset=".1601" stop-color="#5cbb5e"/><stop offset=".1680" stop-color="#5ebe5e"/><stop offset=".1937" stop-color="#6ac569"/><stop offset=".2134" stop-color="#7fca74"/><stop offset=".2312" stop-color="#9ad285"/><stop offset=".2589" stop-color="#cde39b"/><stop offset=".2787" stop-color="#e8e8a0"/><stop offset=".2925" stop-color="#efe79f"/><stop offset=".3043" stop-color="#decd8e"/><stop offset=".3221" stop-color="#bb9a6d"/><stop offset=".3379" stop-color="#977259"/><stop offset=".3597" stop-color="#845a50"/><stop offset=".3854" stop-color="#906b63"/><stop offset=".4209" stop-color="#ab8e88"/><stop offset=".4387" stop-color="#b79b97"/><stop offset=".4625" stop-color="#c0a6a2"/><stop offset=".4901" stop-color="#c0a6a2"/><stop offset=".5119" stop-color="#b79b97"/><stop offset=".5296" stop-color="#aa8c86"/><stop offset=".5672" stop-color="#8c655d"/><stop offset=".5830" stop-color="#845b51"/><stop offset=".5909" stop-color="#8b6353"/><stop offset=".6008" stop-color="#977359"/><stop offset=".6126" stop-color="#bf9f6f"/><stop offset=".6304" stop-color="#e2d392"/><stop offset=".6383" stop-color="#efe69f"/><stop offset=".6443" stop-color="#eee8a0"/><stop offset=".6581" stop-color="#e7e8a0"/><stop offset=".6700" stop-color="#c8e199"/><stop offset=".6858" stop-color="#9cd386"/><stop offset=".6937" stop-color="#82cb77"/><stop offset=".6976" stop-color="#77c870"/><stop offset=".7115" stop-color="#68c468"/><stop offset=".7352" stop-color="#5ebe5e"/><stop offset=".7391" stop-color="#5cbb5e"/><stop offset=".7490" stop-color="#5aad7f"/><stop offset=".7589" stop-color="#529997"/><stop offset=".7688" stop-color="#508ca9"/><stop offset=".7806" stop-color="#5088c4"/><stop offset=".8024" stop-color="#507ebe"/><stop offset=".8123" stop-color="#4e76b6"/><stop offset=".8221" stop-color="#4a6eb7"/><stop offset=".8518" stop-color="#4856ab"/><stop offset=".9091" stop-color="#463f9a"/><stop offset="1.0000" stop-color="#453e99"/></linearGradient>
<linearGradient id="g25" x1="0" y1="0" x2="0" y2="1"><stop offset=".0000" stop-color="#4f7bbb"/><stop offset=".0751" stop-color="#5087c3"/><stop offset=".0810" stop-color="#5088c4"/><stop offset=".1028" stop-color="#508da6"/><stop offset=".1285" stop-color="#57a48c"/><stop offset=".1502" stop-color="#5cb56e"/><stop offset=".1601" stop-color="#5cbc5c"/><stop offset=".1917" stop-color="#69c468"/><stop offset=".2115" stop-color="#7cc973"/><stop offset=".2292" stop-color="#96d283"/><stop offset=".2569" stop-color="#c8e199"/><stop offset=".2787" stop-color="#e8e8a0"/><stop offset=".2925" stop-color="#f0e8a0"/><stop offset=".3063" stop-color="#dcca8c"/><stop offset=".3221" stop-color="#bd9c6e"/><stop offset=".3399" stop-color="#956f58"/><stop offset=".3597" stop-color="#855b50"/><stop offset=".3854" stop-color="#906a62"/><stop offset=".4229" stop-color="#ac8f89"/><stop offset=".4447" stop-color="#ba9e9a"/><stop offset=".4664" stop-color="#c1a6a2"/><stop offset=".4941" stop-color="#c0a5a1"/><stop offset=".5158" stop-color="#b69a96"/><stop offset=".5316" stop-color="#aa8c87"/><stop offset=".5692" stop-color="#8c665d"/><stop offset=".5870" stop-color="#845a50"/><stop offset=".6028" stop-color="#967158"/><stop offset=".6166" stop-color="#c2a472"/><stop offset=".6344" stop-color="#e5d795"/><stop offset=".6423" stop-color="#f0e8a0"/><stop offset=".6601" stop-color="#e7e8a0"/><stop offset=".6719" stop-color="#c8e199"/><stop offset=".6877" stop-color="#9cd386"/><stop offset=".6957" stop-color="#82cb77"/><stop offset=".6996" stop-color="#77c870"/><stop offset=".7134" stop-color="#68c468"/><stop offset=".7391" stop-color="#5dbd5d"/><stop offset=".7411" stop-color="#5cbc5c"/><stop offset=".7530" stop-color="#59ab82"/><stop offset=".7648" stop-color="#52959c"/><stop offset=".7727" stop-color="#508cab"/><stop offset=".7826" stop-color="#5088c2"/><stop offset=".7866" stop-color="#5087c3"/><stop offset=".8063" stop-color="#507ebe"/><stop offset=".8162" stop-color="#4d75b6"/><stop offset=".8261" stop-color="#4a6db7"/><stop offset=".8557" stop-color="#4857ab"/><stop offset=".9150" stop-color="#463f9a"/><stop offset="1.0000" stop-color="#453e99"/></linearGradient>
<linearGradient id="g26" x1="0" y1="0" x2="0" y2="1"><stop offset=".0000" stop-color="#4f7cbc"/><stop offset=".0652" stop-color="#5085c3"/><stop offset=".0791" stop-color="#5088c4"/><stop offset=".1028" stop-color="#508ea5"/><stop offset=".1285" stop-color="#57a58b"/><stop offset=".1502" stop-color="#5cb66c"/><stop offset=".1581" stop-color="#5cbc5d"/><stop offset=".1818" stop-color="#64c264"/><stop offset=".1957" stop-color="#6dc56a"/><stop offset=".2115" stop-color="#7dca73"/><stop offset=".2292" stop-color="#96d283"/><stop offset=".2569" stop-color="#c8e199"/><stop offset=".2787" stop-color="#e7e8a0"/><stop offset=".2925" stop-color="#efe8a0"/><stop offset=".2984" stop-color="#e9de99"/><stop offset=".3083" stop-color="#d9c689"/><stop offset=".3241" stop-color="#ba996d"/><stop offset=".3399" stop-color="#967158"/><stop offset=".3617" stop-color="#845a50"/><stop offset=".3874" stop-color="#906b63"/><stop offset=".4229" stop-color="#ab8e88"/><stop offset=".4427" stop-color="#b89d99"/><stop offset=".4644" stop-color="#c0a6a2"/><stop offset=".4941" stop-color="#c0a6a2"/><stop offset=".5138" stop-color="#b99d99"/><stop offset=".5316" stop-color="#ac8f8a"/><stop offset=".5652" stop-color="#916b63"/><stop offset=".5889" stop-color="#845a50"/><stop offset=".6047" stop-color="#956f58"/><stop offset=".6186" stop-color="#c1a271"/><stop offset=".6364" stop-color="#e4d694"/><stop offset=".6443" stop-color="#f0e8a0"/><stop offset=".6621" stop-color="#e8e8a0"/><stop offset=".6739" stop-color="#c8e199"/><stop offset=".6897" stop-color="#9cd386"/><stop offset=".6976" stop-color="#83cc77"/><stop offset=".7016" stop-color="#77c86f"/><stop offset=".7154" stop-color="#68c468"/><stop offset=".7411" stop-color="#5ebe5e"/><stop offset=".7431" stop-color="#5dbd5d"/><stop offset=".7451" stop-color="#5cbb60"/><stop offset=".7569" stop-color="#59aa85"/><stop offset=".7688" stop-color="#51949d"/><stop offset=".7767" stop-color="#508bad"/><stop offset=".7866" stop-color="#5088c4"/><stop offset=".8083" stop-color="#507ebe"/><stop offset=".8202" stop-color="#4d75b6"/><stop offset=".8300" stop-color="#4a6db7"/><stop offset=".8617" stop-color="#4856ab"/><stop offset=".9229" stop-color="#463f9a"/><stop offset="1.0000" stop-color="#453e99"/></linearGradient>
<linearGradient id="g27" x1="0" y1="0" x2="0" y2="1"><stop offset=".0000" stop-color="#4f7dbd"/><stop offset=".0593" stop-color="#5084c2"/><stop offset=".0791" stop-color="#5088c3"/><stop offset=".1008" stop-color="#508da6"/><stop offset=".1265" stop-color="#57a48c"/><stop offset=".1482" stop-color="#5cb66e"/><stop offset=".1581" stop-color="#5cbc5c"/><stop offset=".1917" stop-color="#6ac469"/><stop offset=".2115" stop-color="#7dca73"/><stop offset=".2292" stop-color="#96d283"/><stop offset=".2589" stop-color="#cbe29a"/><stop offset=".2806" stop-color="#e8e8a0"/><stop offset=".2945" stop-color="#f0e8a0"/><stop offset=".3083" stop-color="#dbc88b"/><stop offset=".3241" stop-color="#bc9b6d"/><stop offset=".3419" stop-color="#946f58"/><stop offset=".3617" stop-color="#845a50"/><stop offset=".3893" stop-color="#916c64"/><stop offset=".4269" stop-color="#ad908b"/><stop offset=".4526" stop-color="#bda19d"/><stop offset=".4783" stop-color="#c1a8a4"/><stop offset=".5040" stop-color="#bfa4a0"/><stop offset=".5296" stop-color="#af938f"/><stop offset=".5632" stop-color="#957169"/><stop offset=".5771" stop-color="#8b645b"/><stop offset=".5909" stop-color="#845b51"/><stop offset=".5988" stop-color="#8b6453"/><stop offset=".6067" stop-color="#946f58"/><stop offset=".6126" stop-color="#a68361"/><stop offset=".6206" stop-color="#c0a170"/><stop offset=".6383" stop-color="#e4d594"/><stop offset=".6462" stop-color="#f0e8a0"/><stop offset=".6640" stop-color="#e8e8a0"/><stop offset=".6759" stop-color="#c9e199"/><stop offset=".6917" stop-color="#9cd386"/><stop offset=".6996" stop-color="#83cc77"/><stop offset=".7036" stop-color="#77c86f"/><stop offset=".7174" stop-color="#68c468"/><stop offset=".7431" stop-color="#5ebe5e"/><stop offset=".7470" stop-color="#5cbb5e"/><stop offset=".7589" stop-color="#59ab82"/><stop offset=".7727" stop-color="#51939f"/><stop offset=".7806" stop-color="#508baf"/><stop offset=".7885" stop-color="#5088c1"/><stop offset=".7925" stop-color="#5087c3"/><stop offset=".8123" stop-color="#507ebe"/><stop offset=".8221" stop-color="#4e76b6"/><stop offset=".8340" stop-color="#4a6db7"/><stop offset=".8656" stop-color="#4856ab"/><stop offset=".9289" stop-color="#463f9a"/><stop offset="1.0000" stop-color="#453e99"/></linearGradient>
<linearGradient id="g28" x1="0" y1="0" x2="0" y2="1"><stop offset=".0000" stop-color="#4f7dbd"/><stop offset=".0573" stop-color="#5084c2"/><stop offset=".0771" stop-color="#5088c4"/><stop offset=".1008" stop-color="#508ea5"/><stop offset=".1265" stop-color="#57a68a"/><stop offset=".1482" stop-color="#5cb66b"/><stop offset=".1561" stop-color="#5cbc5d"/><stop offset=".1877" stop-color="#68c468"/><stop offset=".2115" stop-color="#7eca74"/><stop offset=".2292" stop-color="#97d283"/><stop offset=".2589" stop-color="#cae29a"/><stop offset=".2826" stop-color="#e9e8a0"/><stop offset=".2945" stop-color="#f0e8a0"/><stop offset=".3083" stop-color="#dcca8c"/><stop offset=".3241" stop-color="#bd9d6e"/><stop offset=".3419" stop-color="#957058"/><stop offset=".3636" stop-color="#845b51"/><stop offset=".3893" stop-color="#916c64"/><stop offset=".4249" stop-color="#ab8e88"/><stop offset=".4447" stop-color="#b89c98"/><stop offset=".4664" stop-color="#c0a6a2"/><stop offset=".4960" stop-color="#c1a7a3"/><stop offset=".5158" stop-color="#bb9f9b"/><stop offset=".5356" stop-color="#ad908b"/><stop offset=".5711" stop-color="#906b63"/><stop offset=".5949" stop-color="#845a50"/><stop offset=".6107" stop-color="#977259"/><stop offset=".6225" stop-color="#bf9f70"/><stop offset=".6403" stop-color="#e3d493"/><stop offset=".6482" stop-color="#f0e7a0"/><stop offset=".6660" stop-color="#e8e8a0"/><stop offset=".6779" stop-color="#c9e29a"/><stop offset=".6937" stop-color="#9cd386"/><stop offset=".7016" stop-color="#83cc77"/><stop offset=".7055" stop-color="#77c86f"/><stop offset=".7194" stop-color="#68c468"/><stop offset=".7470" stop-color="#5dbd5d"/><stop offset=".7490" stop-color="#5cbc5c"/><stop offset=".7628" stop-color="#59aa85"/><stop offset=".7767" stop-color="#5192a0"/><stop offset=".7826" stop-color="#508bac"/><stop offset=".7925" stop-color="#5088c3"/><stop offset=".8142" stop-color="#507fbf"/><stop offset=".8261" stop-color="#4e75b6"/><stop offset=".8379" stop-color="#4a6db6"/><stop offset=".8696" stop-color="#4857ab"/><stop offset=".9368" stop-color="#463f9a"/><stop offset="1.0000" stop-color="#453e99"/></linearGradient>
<linearGradient id="g29" x1="0" y1="0" x2="0" y2="1"><stop offset=".0000" stop-color="#507ebe"/><stop offset=".0573" stop-color="#5084c2"/><stop offset=".0771" stop-color="#5088c3"/><stop offset=".0988" stop-color="#508ea6"/><stop offset=".1245" stop-color="#57a58b"/><stop offset=".1462" stop-color="#5cb66d"/><stop offset=".1561" stop-color="#5cbc5c"/><stop offset=".1897" stop-color="#69c469"/><stop offset=".2115" stop-color="#7eca74"/><stop offset=".2292" stop-color="#97d283"/><stop offset=".2589" stop-color="#c9e29a"/><stop offset=".2826" stop-color="#e9e8a0"/><stop offset=".2964" stop-color="#efe79f"/><stop offset=".3083" stop-color="#decd8e"/><stop offset=".3261" stop-color="#ba9a6d"/><stop offset=".3419" stop-color="#967159"/><stop offset=".3636" stop-color="#845a50"/><stop offset=".3913" stop-color="#926d65"/><stop offset=".4289" stop-color="#ad908b"/><stop offset=".4565" stop-color="#bea29e"/><stop offset=".4842" stop-color="#c2a8a4"/><stop offset=".5099" stop-color="#bfa4a0"/><stop offset=".5356" stop-color="#af928e"/><stop offset=".5692" stop-color="#947068"/><stop offset=".5830" stop-color="#8b635b"/><stop offset=".5968" stop-color="#845a50"/><stop offset=".6126" stop-color="#957058"/><stop offset=".6265" stop-color="#c3a473"/><stop offset=".6423" stop-color="#e2d492"/><stop offset=".6502" stop-color="#efe79f"/><stop offset=".6680" stop-color="#e8e8a0"/><stop offset=".6798" stop-color="#cae29a"/><stop offset=".6957" stop-color="#9cd386"/><stop offset=".7036" stop-color="#83cc77"/><stop offset=".7075" stop-color="#77c86f"/><stop offset=".7213" stop-color="#68c468"/><stop offset=".7490" stop-color="#5ebe5e"/><stop offset=".7510" stop-color="#5cbc5c"/><stop offset=".7549" stop-color="#5cb866"/><stop offset=".7668" stop-color="#58a887"/><stop offset=".7806" stop-color="#5191a2"/><stop offset=".7866" stop-color="#508bae"/><stop offset=".7964" stop-color="#5088c4"/><stop offset=".8182" stop-color="#507ebe"/><stop offset=".8300" stop-color="#4d75b6"/><stop offset=".8419" stop-color="#4a6db6"/><stop offset=".8755" stop-color="#4856ab"/><stop offset=".9427" stop-color="#463f9a"/><stop offset="1.0000" stop-color="#453e99"/></linearGradient>
<linearGradient id="g30" x1="0" y1="0" x2="0" y2="1"><stop offset=".0000" stop-color="#507ebe"/><stop offset=".0593" stop-color="#5085c2"/><stop offset=".0751" stop-color="#5088c4"/><stop offset=".0968" stop-color="#508da7"/><stop offset=".1225" stop-color="#56a48c"/><stop offset=".1443" stop-color="#5cb56f"/><stop offset=".1542" stop-color="#5cbc5c"/><stop offset=".1897" stop-color="#6ac469"/><stop offset=".2115" stop-color="#7fca74"/><stop offset=".2292" stop-color="#97d283"/><stop offset=".2589" stop-color="#c9e199"/><stop offset=".2826" stop-color="#e8e8a0"/><stop offset=".2964" stop-color="#f0e8a0"/><stop offset=".3103" stop-color="#dbc98b"/><stop offset=".3261" stop-color="#bc9c6e"/><stop offset=".3439" stop-color="#946f58"/><stop offset=".3636" stop-color="#845b50"/><stop offset=".3913" stop-color="#916c64"/><stop offset=".4289" stop-color="#ac8f8a"/><stop offset=".4526" stop-color="#bba09c"/><stop offset=".4763" stop-color="#c2a8a4"/><stop offset=".5059" stop-color="#c0a6a2"/><stop offset=".5277" stop-color="#b69b97"/><stop offset=".5455" stop-color="#a98c86"/><stop offset=".5830" stop-color="#8c655d"/><stop offset=".5988" stop-color="#845b51"/><stop offset=".6067" stop-color="#8c6454"/><stop offset=".6146" stop-color="#946f58"/><stop offset=".6285" stop-color="#c2a272"/><stop offset=".6443" stop-color="#e2d392"/><stop offset=".6522" stop-color="#eee69e"/><stop offset=".6581" stop-color="#eee8a0"/><stop offset=".6700" stop-color="#e8e8a0"/><stop offset=".6818" stop-color="#cae29a"/><stop offset=".6976" stop-color="#9dd386"/><stop offset=".7055" stop-color="#83cc77"/><stop offset=".7095" stop-color="#77c86f"/><stop offset=".7233" stop-color="#68c468"/><stop offset=".7510" stop-color="#5ebe5e"/><stop offset=".7549" stop-color="#5cbb5e"/><stop offset=".7688" stop-color="#59aa85"/><stop offset=".7826" stop-color="#51929f"/><stop offset=".7885" stop-color="#508cab"/><stop offset=".7984" stop-color="#5088c3"/><stop offset=".8202" stop-color="#507fbf"/><stop offset=".8320" stop-color="#4e76b6"/><stop offset=".8458" stop-color="#4a6db6"/><stop offset=".8794" stop-color="#4856ab"/><stop offset=".9506" stop-color="#463f9a"/><stop offset="1.0000" stop-color="#463e9a"/></linearGradient>
<linearGradient id="g31" x1="0" y1="0" x2="0" y2="1"><stop offset=".0000" stop-color="#507fbf"/><stop offset=".0573" stop-color="#5085c2"/><stop offset=".0751" stop-color="#5088c3"/><stop offset=".0968" stop-color="#508ea5"/><stop offset=".1245" stop-color="#58a789"/><stop offset=".1443" stop-color="#5cb66c"/><stop offset=".1522" stop-color="#5cbb5e"/><stop offset=".1601" stop-color="#5ebe5e"/><stop offset=".1897" stop-color="#6ac569"/><stop offset=".2095" stop-color="#7cc973"/><stop offset=".2292" stop-color="#97d283"/><stop offset=".2609" stop-color="#cce29a"/><stop offset=".2846" stop-color="#e9e8a0"/><stop offset=".2964" stop-color="#f0e8a0"/><stop offset=".3063" stop-color="#e3d593"/><stop offset=".3281" stop-color="#b9996c"/><stop offset=".3439" stop-color="#957058"/><stop offset=".3656" stop-color="#845a50"/><stop offset=".3913" stop-color="#906b63"/><stop offset=".4289" stop-color="#ac8e89"/><stop offset=".4506" stop-color="#ba9e9a"/><stop offset=".4723" stop-color="#c1a7a3"/><stop offset=".5040" stop-color="#c1a7a4"/><stop offset=".5237" stop-color="#bb9f9b"/><stop offset=".5435" stop-color="#ad908b"/><stop offset=".5791" stop-color="#906b63"/><stop offset=".6028" stop-color="#845a50"/><stop offset=".6186" stop-color="#987359"/><stop offset=".6304" stop-color="#c1a171"/><stop offset=".6482" stop-color="#e4d694"/><stop offset=".6561" stop-color="#f0e8a0"/><stop offset=".6719" stop-color="#e8e8a0"/><stop offset=".6779" stop-color="#dbe69e"/><stop offset=".6877" stop-color="#bfde96"/><stop offset=".7036" stop-color="#90d080"/><stop offset=".7115" stop-color="#77c86f"/><stop offset=".7253" stop-color="#67c467"/><stop offset=".7530" stop-color="#5ebe5e"/><stop offset=".7569" stop-color="#5cbc5c"/><stop offset=".7708" stop-color="#59ab82"/><stop offset=".7885" stop-color="#508fa5"/><stop offset=".8004" stop-color="#5088c1"/><stop offset=".8024" stop-color="#5088c4"/><stop offset=".8241" stop-color="#507ebe"/><stop offset=".8360" stop-color="#4e76b6"/><stop offset=".8478" stop-color="#4a6eb7"/><stop offset=".8834" stop-color="#4857ab"/><stop offset=".9565" stop-color="#463f9a"/><stop offset="1.0000" stop-color="#463e9a"/></linearGradient>
<linearGradient id="g32" x1="0" y1="0" x2="0" y2="1"><stop offset=".0000" stop-color="#507fbf"/><stop offset=".0573" stop-color="#5085c3"/><stop offset=".0731" stop-color="#5088c4"/><stop offset=".0949" stop-color="#508da6"/><stop offset=".1206" stop-color="#57a48c"/><stop offset=".1423" stop-color="#5cb56e"/><stop offset=".1522" stop-color="#5cbc5c"/><stop offset=".1877" stop-color="#69c469"/><stop offset=".2095" stop-color="#7dca73"/><stop offset=".2292" stop-color="#97d284"/><stop offset=".2609" stop-color="#cbe29a"/><stop offset=".2846" stop-color="#e9e8a0"/><stop offset=".2984" stop-color="#efe79f"/><stop offset=".3103" stop-color="#decd8e"/><stop offset=".3281" stop-color="#bb9a6d"/><stop offset=".3439" stop-color="#977259"/><stop offset=".3656" stop-color="#845a50"/><stop offset=".3933" stop-color="#916c64"/><stop offset=".4308" stop-color="#ac8f8a"/><stop offset=".4545" stop-color="#bba09c"/><stop offset=".4802" stop-color="#c2a8a5"/><stop offset=".5099" stop-color="#c1a7a3"/><stop offset=".5296" stop-color="#b89d99"/><stop offset=".5474" stop-color="#ac8f89"/><stop offset=".5810" stop-color="#906b63"/><stop offset=".6047" stop-color="#845a50"/><stop offset=".6206" stop-color="#957058"/><stop offset=".6324" stop-color="#bf9f6f"/><stop offset=".6502" stop-color="#e3d593"/><stop offset=".6581" stop-color="#f0e8a0"/><stop offset=".6759" stop-color="#e7e8a0"/><stop offset=".6877" stop-color="#c6e098"/><stop offset=".7016" stop-color="#9ed387"/><stop offset=".7095" stop-color="#84cc78"/><stop offset=".7134" stop-color="#77c870"/><stop offset=".7273" stop-color="#68c468"/><stop offset=".7569" stop-color="#5ebe5e"/><stop offset=".7609" stop-color="#5cbb5e"/><stop offset=".7747" stop-color="#59aa84"/><stop offset=".7925" stop-color="#508ea6"/><stop offset=".8043" stop-color="#5088c2"/><stop offset=".8142" stop-color="#5084c2"/><stop offset=".8281" stop-color="#507ebe"/><stop offset=".8399" stop-color="#4e76b6"/><stop offset=".8538" stop-color="#4a6db6"/><stop offset=".8893" stop-color="#4856ab"/><stop offset=".9644" stop-color="#463f9a"/><stop offset="1.0000" stop-color="#463e9a"/></linearGradient>
<linearGradient id="g33" x1="0" y1="0" x2="0" y2="1"><stop offset=".0000" stop-color="#5080c0"/><stop offset=".0573" stop-color="#5086c3"/><stop offset=".0711" stop-color="#5088c4"/><stop offset=".0929" stop-color="#508da7"/><stop offset=".1186" stop-color="#56a48c"/><stop offset=".1403" stop-color="#5cb56e"/><stop offset=".1502" stop-color="#5cbc5c"/><stop offset=".1858" stop-color="#69c468"/><stop offset=".2095" stop-color="#7eca74"/><stop offset=".2292" stop-color="#98d284"/><stop offset=".2609" stop-color="#cce29a"/><stop offset=".2846" stop-color="#e9e8a0"/><stop offset=".2984" stop-color="#f0e7a0"/><stop offset=".3123" stop-color="#dbc88b"/><stop offset=".3281" stop-color="#bc9b6e"/><stop offset=".3458" stop-color="#946f58"/><stop offset=".3656" stop-color="#855b50"/><stop offset=".3933" stop-color="#916c64"/><stop offset=".4308" stop-color="#ac8f8a"/><stop offset=".4545" stop-color="#bba09c"/><stop offset=".4783" stop-color="#c2a8a5"/><stop offset=".5099" stop-color="#c2a8a4"/><stop offset=".5296" stop-color="#bb9f9b"/><stop offset=".5494" stop-color="#ac908b"/><stop offset=".5830" stop-color="#916c64"/><stop offset=".6067" stop-color="#845b51"/><stop offset=".6206" stop-color="#926c57"/><stop offset=".6245" stop-color="#99755a"/><stop offset=".6364" stop-color="#c1a171"/><stop offset=".6542" stop-color="#e4d694"/><stop offset=".6621" stop-color="#f0e8a0"/><stop offset=".6798" stop-color="#e7e8a0"/><stop offset=".6917" stop-color="#c7e199"/><stop offset=".7055" stop-color="#9fd487"/><stop offset=".7154" stop-color="#7eca74"/><stop offset=".7174" stop-color="#78c870"/><stop offset=".7312" stop-color="#68c468"/><stop offset=".7609" stop-color="#5ebe5e"/><stop offset=".7648" stop-color="#5cbc5c"/><stop offset=".7787" stop-color="#59ac80"/><stop offset=".7964" stop-color="#5190a2"/><stop offset=".8043" stop-color="#508ab4"/><stop offset=".8103" stop-color="#5088c3"/><stop offset=".8340" stop-color="#507ebe"/><stop offset=".8478" stop-color="#4d74b7"/><stop offset=".8597" stop-color="#4a6db7"/><stop offset=".8972" stop-color="#4856ab"/><stop offset=".9763" stop-color="#463f9a"/><stop offset="1.0000" stop-color="#463f9a"/></linearGradient>
<linearGradient id="g34" x1="0" y1="0" x2="0" y2="1"><stop offset=".0000" stop-color="#5080c0"/><stop offset=".0573" stop-color="#5086c3"/><stop offset=".0692" stop-color="#5088c4"/><stop offset=".0929" stop-color="#508ea5"/><stop offset=".1186" stop-color="#57a68a"/><stop offset=".1403" stop-color="#5cb66b"/><stop offset=".1482" stop-color="#5cbc5d"/><stop offset=".1838" stop-color="#68c468"/><stop offset=".2075" stop-color="#7dca73"/><stop offset=".2273" stop-color="#96d283"/><stop offset=".2589" stop-color="#c9e199"/><stop offset=".2846" stop-color="#e9e8a0"/><stop offset=".2984" stop-color="#f0e7a0"/><stop offset=".3123" stop-color="#dbc88b"/><stop offset=".3281" stop-color="#bc9c6e"/><stop offset=".3458" stop-color="#957058"/><stop offset=".3676" stop-color="#845a51"/><stop offset=".3933" stop-color="#906b63"/><stop offset=".4308" stop-color="#ac8e89"/><stop offset=".4545" stop-color="#bb9f9b"/><stop offset=".4763" stop-color="#c2a8a5"/><stop offset=".5079" stop-color="#c3a9a6"/><stop offset=".5296" stop-color="#bda19d"/><stop offset=".5514" stop-color="#ad918c"/><stop offset=".5850" stop-color="#926d65"/><stop offset=".6087" stop-color="#855b51"/><stop offset=".6126" stop-color="#875d51"/><stop offset=".6265" stop-color="#967158"/><stop offset=".6403" stop-color="#c2a472"/><stop offset=".6581" stop-color="#e5d795"/><stop offset=".6660" stop-color="#f0e8a0"/><stop offset=".6838" stop-color="#e7e8a0"/><stop offset=".6957" stop-color="#c7e199"/><stop offset=".7115" stop-color="#9ad285"/><stop offset=".7213" stop-color="#79c871"/><stop offset=".7352" stop-color="#68c468"/><stop offset=".7668" stop-color="#5ebe5e"/><stop offset=".7708" stop-color="#5cbc5d"/><stop offset=".7846" stop-color="#59ac81"/><stop offset=".8024" stop-color="#5190a3"/><stop offset=".8103" stop-color="#508ab5"/><stop offset=".8162" stop-color="#5088c4"/><stop offset=".8399" stop-color="#507ebe"/><stop offset=".8538" stop-color="#4d75b6"/><stop offset=".8656" stop-color="#4a6eb7"/><stop offset=".9051" stop-color="#4857ab"/><stop offset=".9881" stop-color="#463f9a"/><stop offset="1.0000" stop-color="#463f9a"/></linearGradient>
<linearGradient id="g35" x1="0" y1="0" x2="0" y2="1"><stop offset=".0000" stop-color="#5081c0"/><stop offset=".0593" stop-color="#5087c3"/><stop offset=".0692" stop-color="#5088c2"/><stop offset=".0909" stop-color="#508ea5"/><stop offset=".1166" stop-color="#57a58b"/><stop offset=".1383" stop-color="#5cb66c"/><stop offset=".1462" stop-color="#5cbc5d"/><stop offset=".1759" stop-color="#66c366"/><stop offset=".1937" stop-color="#71c66d"/><stop offset=".2095" stop-color="#81cb76"/><stop offset=".2292" stop-color="#9bd385"/><stop offset=".2628" stop-color="#d0e49c"/><stop offset=".2846" stop-color="#e9e8a0"/><stop offset=".2984" stop-color="#f0e8a0"/><stop offset=".3123" stop-color="#dbc98b"/><stop offset=".3281" stop-color="#bd9c6e"/><stop offset=".3458" stop-color="#957058"/><stop offset=".3676" stop-color="#845a50"/><stop offset=".3953" stop-color="#916c64"/><stop offset=".4328" stop-color="#ac908b"/><stop offset=".4605" stop-color="#bea39f"/><stop offset=".4881" stop-color="#c3aba7"/><stop offset=".5178" stop-color="#c2a8a5"/><stop offset=".5356" stop-color="#bba09c"/><stop offset=".5553" stop-color="#ac908b"/><stop offset=".5889" stop-color="#916c64"/><stop offset=".6126" stop-color="#845a50"/><stop offset=".6285" stop-color="#946f58"/><stop offset=".6423" stop-color="#c0a070"/><stop offset=".6601" stop-color="#e2d392"/><stop offset=".6700" stop-color="#f0e8a0"/><stop offset=".6877" stop-color="#e7e8a0"/><stop offset=".6996" stop-color="#c8e199"/><stop offset=".7154" stop-color="#9bd385"/><stop offset=".7233" stop-color="#81cb76"/><stop offset=".7273" stop-color="#76c86f"/><stop offset=".7411" stop-color="#68c468"/><stop offset=".7727" stop-color="#5dbd5d"/><stop offset=".7747" stop-color="#5cbc5c"/><stop offset=".7787" stop-color="#5cb965"/><stop offset=".7925" stop-color="#58a887"/><stop offset=".8083" stop-color="#518fa3"/><stop offset=".8182" stop-color="#5089bb"/><stop offset=".8221" stop-color="#5088c4"/><stop offset=".8458" stop-color="#4f7dbd"/><stop offset=".8597" stop-color="#4d75b6"/><stop offset=".8735" stop-color="#4a6db6"/><stop offset=".9130" stop-color="#4857ab"/><stop offset="1.0000" stop-color="#463f9a"/></linearGradient>
<linearGradient id="g36" x1="0" y1="0" x2="0" y2="1"><stop offset=".0000" stop-color="#5081c1"/><stop offset=".0613" stop-color="#5087c4"/><stop offset=".0672" stop-color="#5088c3"/><stop offset=".0889" stop-color="#508ea5"/><stop offset=".1166" stop-color="#58a789"/><stop offset=".1364" stop-color="#5cb66c"/><stop offset=".1443" stop-color="#5cbb5e"/><stop offset=".1542" stop-color="#5ebe5e"/><stop offset=".1838" stop-color="#6ac569"/><stop offset=".2055" stop-color="#7dca73"/><stop offset=".2273" stop-color="#99d284"/><stop offset=".2609" stop-color="#cde39b"/><stop offset=".2846" stop-color="#e9e8a0"/><stop offset=".2984" stop-color="#f0e8a0"/><stop offset=".3123" stop-color="#dcc98c"/><stop offset=".3300" stop-color="#b9986c"/><stop offset=".3458" stop-color="#967159"/><stop offset=".3676" stop-color="#845a50"/><stop offset=".3953" stop-color="#916c64"/><stop offset=".4328" stop-color="#ac8f8a"/><stop offset=".4585" stop-color="#bca19d"/><stop offset=".4862" stop-color="#c4aba7"/><stop offset=".5178" stop-color="#c3aaa6"/><stop offset=".5375" stop-color="#bca09c"/><stop offset=".5573" stop-color="#ad918c"/><stop offset=".5909" stop-color="#916c64"/><stop offset=".6146" stop-color="#845a50"/><stop offset=".6324" stop-color="#967159"/><stop offset=".6462" stop-color="#c2a272"/><stop offset=".6640" stop-color="#e3d493"/><stop offset=".6719" stop-color="#efe69f"/><stop offset=".6779" stop-color="#eee8a0"/><stop offset=".6917" stop-color="#e8e8a0"/><stop offset=".7036" stop-color="#c8e199"/><stop offset=".7194" stop-color="#9cd386"/><stop offset=".7273" stop-color="#83cc77"/><stop offset=".7312" stop-color="#77c86f"/><stop offset=".7451" stop-color="#68c468"/><stop offset=".7767" stop-color="#5ebe5e"/><stop offset=".7806" stop-color="#5cbc5c"/><stop offset=".7945" stop-color="#5aad7f"/><stop offset=".8063" stop-color="#539b95"/><stop offset=".8162" stop-color="#508ca8"/><stop offset=".8281" stop-color="#5088c4"/><stop offset=".8518" stop-color="#4f7dbd"/><stop offset=".8656" stop-color="#4d75b6"/><stop offset=".8794" stop-color="#4a6db7"/><stop offset=".9209" stop-color="#4857ab"/><stop offset="1.0000" stop-color="#46409b"/></linearGradient>
<linearGradient id="g37" x1="0" y1="0" x2="0" y2="1"><stop offset=".0000" stop-color="#5081c1"/><stop offset=".0632" stop-color="#5088c4"/><stop offset=".0870" stop-color="#508ea6"/><stop offset=".1126" stop-color="#57a58b"/><stop offset=".1344" stop-color="#5cb66d"/><stop offset=".1443" stop-color="#5cbc5c"/><stop offset=".1818" stop-color="#6ac469"/><stop offset=".2055" stop-color="#7eca74"/><stop offset=".2273" stop-color="#9ad285"/><stop offset=".2609" stop-color="#cee39b"/><stop offset=".2846" stop-color="#e9e8a0"/><stop offset=".2984" stop-color="#f0e8a0"/><stop offset=".3123" stop-color="#dcca8c"/><stop offset=".3300" stop-color="#ba996c"/><stop offset=".3478" stop-color="#946f58"/><stop offset=".3696" stop-color="#845b51"/><stop offset=".3953" stop-color="#906b63"/><stop offset=".4328" stop-color="#ac8f89"/><stop offset=".4585" stop-color="#bca19d"/><stop offset=".4862" stop-color="#c4aba8"/><stop offset=".5198" stop-color="#c3aaa7"/><stop offset=".5395" stop-color="#bca19d"/><stop offset=".5613" stop-color="#ac908b"/><stop offset=".5929" stop-color="#926d65"/><stop offset=".6126" stop-color="#875e54"/><stop offset=".6186" stop-color="#855b50"/><stop offset=".6344" stop-color="#956f58"/><stop offset=".6482" stop-color="#bf9f6f"/><stop offset=".6680" stop-color="#e3d593"/><stop offset=".6759" stop-color="#efe69f"/><stop offset=".6957" stop-color="#e8e8a0"/><stop offset=".7095" stop-color="#c3df97"/><stop offset=".7253" stop-color="#97d283"/><stop offset=".7352" stop-color="#78c870"/><stop offset=".7490" stop-color="#68c468"/><stop offset=".7826" stop-color="#5ebe5e"/><stop offset=".7866" stop-color="#5cbb5e"/><stop offset=".8004" stop-color="#59ac80"/><stop offset=".8221" stop-color="#508ca8"/><stop offset=".8340" stop-color="#5088c4"/><stop offset=".8577" stop-color="#4f7dbd"/><stop offset=".8715" stop-color="#4d75b6"/><stop offset=".8854" stop-color="#4a6eb7"/><stop offset=".9289" stop-color="#4857ab"/><stop offset="1.0000" stop-color="#46439d"/></linearGradient>
<linearGradient id="g38" x1="0" y1="0" x2="0" y2="1"><stop offset=".0000" stop-color="#5082c1"/><stop offset=".0632" stop-color="#5088c3"/><stop offset=".0850" stop-color="#508da6"/><stop offset=".1107" stop-color="#57a48c"/><stop offset=".1324" stop-color="#5cb66d"/><stop offset=".1423" stop-color="#5cbc5c"/><stop offset=".1798" stop-color="#69c469"/><stop offset=".2036" stop-color="#7dca73"/><stop offset=".2253" stop-color="#98d284"/><stop offset=".2569" stop-color="#c8e199"/><stop offset=".2826" stop-color="#e8e8a0"/><stop offset=".2984" stop-color="#f0e8a0"/><stop offset=".3123" stop-color="#dcca8c"/><stop offset=".3300" stop-color="#ba9a6d"/><stop offset=".3478" stop-color="#946f58"/><stop offset=".3696" stop-color="#845a50"/><stop offset=".3972" stop-color="#926d65"/><stop offset=".4348" stop-color="#ad908b"/><stop offset=".4664" stop-color="#c0a5a1"/><stop offset=".4960" stop-color="#c5ada9"/><stop offset=".5257" stop-color="#c3aaa6"/><stop offset=".5455" stop-color="#bb9f9b"/><stop offset=".5652" stop-color="#ac8f89"/><stop offset=".6047" stop-color="#8c655c"/><stop offset=".6206" stop-color="#845a50"/><stop offset=".6383" stop-color="#977259"/><stop offset=".6522" stop-color="#c1a171"/><stop offset=".6719" stop-color="#e4d694"/><stop offset=".6798" stop-color="#efe79f"/><stop offset=".6996" stop-color="#e8e8a0"/><stop offset=".7115" stop-color="#c9e29a"/><stop offset=".7273" stop-color="#9ed387"/><stop offset=".7372" stop-color="#7fca74"/><stop offset=".7391" stop-color="#78c870"/><stop offset=".7549" stop-color="#67c467"/><stop offset=".7866" stop-color="#5ebe5e"/><stop offset=".7905" stop-color="#5cbc5c"/><stop offset=".8083" stop-color="#58a986"/><stop offset=".8281" stop-color="#508ca9"/><stop offset=".8379" stop-color="#5088c2"/><stop offset=".8419" stop-color="#5087c3"/><stop offset=".8636" stop-color="#4f7dbd"/><stop offset=".8775" stop-color="#4e75b6"/><stop offset=".8933" stop-color="#4a6db7"/><stop offset=".9368" stop-color="#4857ab"/><stop offset="1.0000" stop-color="#47469f"/></linearGradient>
<linearGradient id="g39" x1="0" y1="0" x2="0" y2="1"><stop offset=".0000" stop-color="#5082c1"/><stop offset=".0613" stop-color="#5088c4"/><stop offset=".0830" stop-color="#508da6"/><stop offset=".1087" stop-color="#57a48c"/><stop offset=".1304" stop-color="#5cb56e"/><stop offset=".1403" stop-color="#5cbc5c"/><stop offset=".1798" stop-color="#6ac569"/><stop offset=".2036" stop-color="#7eca74"/><stop offset=".2253" stop-color="#99d285"/><stop offset=".2589" stop-color="#cce39b"/><stop offset=".2846" stop-color="#e9e8a0"/><stop offset=".2984" stop-color="#f0e8a0"/><stop offset=".3123" stop-color="#dcca8c"/><stop offset=".3300" stop-color="#bb9a6d"/><stop offset=".3478" stop-color="#957058"/><stop offset=".3696" stop-color="#845a50"/><stop offset=".3972" stop-color="#916c64"/><stop offset=".4348" stop-color="#ac8f8a"/><stop offset=".4644" stop-color="#bfa4a0"/><stop offset=".4941" stop-color="#c5adaa"/><stop offset=".5257" stop-color="#c4aba8"/><stop offset=".5474" stop-color="#bba09c"/><stop offset=".5672" stop-color="#ac8f8b"/><stop offset=".5988" stop-color="#916d65"/><stop offset=".6206" stop-color="#855b52"/><stop offset=".6225" stop-color="#845a50"/><stop offset=".6403" stop-color="#957058"/><stop offset=".6561" stop-color="#c3a473"/><stop offset=".6759" stop-color="#e5d795"/><stop offset=".6838" stop-color="#f0e8a0"/><stop offset=".7036" stop-color="#e8e8a0"/><stop offset=".7174" stop-color="#c4df97"/><stop offset=".7332" stop-color="#98d284"/><stop offset=".7431" stop-color="#79c870"/><stop offset=".7589" stop-color="#68c468"/><stop offset=".7925" stop-color="#5ebe5e"/><stop offset=".7964" stop-color="#5cbc5d"/><stop offset=".8103" stop-color="#5aad7f"/><stop offset=".8221" stop-color="#549c94"/><stop offset=".8340" stop-color="#508caa"/><stop offset=".8439" stop-color="#5088c3"/><stop offset=".8676" stop-color="#507ebe"/><stop offset=".8834" stop-color="#4e75b6"/><stop offset=".8992" stop-color="#4a6db7"/><stop offset=".9447" stop-color="#4857ab"/><stop offset="1.0000" stop-color="#4749a1"/></linearGradient>
<linearGradient id="g40" x1="0" y1="0" x2="0" y2="1"><stop offset=".0000" stop-color="#5082c1"/><stop offset=".0593" stop-color="#5088c4"/><stop offset=".0810" stop-color="#508da6"/><stop offset=".1067" stop-color="#57a48c"/><stop offset=".1285" stop-color="#5cb56e"/><stop offset=".1383" stop-color="#5cbc5c"/><stop offset=".1779" stop-color="#6ac469"/><stop offset=".2016" stop-color="#7dca74"/><stop offset=".2233" stop-color="#98d284"/><stop offset=".2569" stop-color="#cae29a"/><stop offset=".2826" stop-color="#e8e8a0"/><stop offset=".2984" stop-color="#efe79f"/><stop offset=".3123" stop-color="#dbc98b"/><stop offset=".3300" stop-color="#ba996d"/><stop offset=".3478" stop-color="#946f58"/><stop offset=".3696" stop-color="#845a50"/><stop offset=".3972" stop-color="#916d65"/><stop offset=".4348" stop-color="#ad908b"/><stop offset=".4684" stop-color="#c1a6a3"/><stop offset=".4980" stop-color="#c6aeab"/><stop offset=".5277" stop-color="#c4aca9"/><stop offset=".5494" stop-color="#bca19d"/><stop offset=".5692" stop-color="#ac908b"/><stop offset=".6008" stop-color="#916c64"/><stop offset=".6225" stop-color="#855b51"/><stop offset=".6265" stop-color="#865d51"/><stop offset=".6423" stop-color="#967159"/><stop offset=".6561" stop-color="#c0a070"/><stop offset=".6759" stop-color="#e2d392"/><stop offset=".6858" stop-color="#f0e8a0"/><stop offset=".7055" stop-color="#e8e8a0"/><stop offset=".7194" stop-color="#c4e098"/><stop offset=".7352" stop-color="#99d285"/><stop offset=".7451" stop-color="#7ac971"/><stop offset=".7609" stop-color="#68c468"/><stop offset=".7964" stop-color="#5ebe5e"/><stop offset=".8004" stop-color="#5cbb5e"/><stop offset=".8142" stop-color="#5aad7e"/><stop offset=".8379" stop-color="#508ca8"/><stop offset=".8498" stop-color="#5088c4"/><stop offset=".8755" stop-color="#4f7cbc"/><stop offset=".8893" stop-color="#4d75b6"/><stop offset=".9051" stop-color="#4a6db7"/><stop offset=".9506" stop-color="#4857ab"/><stop offset="1.0000" stop-color="#474ba2"/></linearGradient>
<linearGradient id="g41" x1="0" y1="0" x2="0" y2="1"><stop offset=".0000" stop-color="#5082c1"/><stop offset=".0573" stop-color="#5088c4"/><stop offset=".0791" stop-color="#508da6"/><stop offset=".1047" stop-color="#57a48c"/><stop offset=".1265" stop-color="#5cb56e"/><stop offset=".1364" stop-color="#5cbc5c"/><stop offset=".1759" stop-color="#69c469"/><stop offset=".1996" stop-color="#7dca73"/><stop offset=".2233" stop-color="#9ad285"/><stop offset=".2589" stop-color="#cfe39b"/><stop offset=".2826" stop-color="#e9e8a0"/><stop offset=".2964" stop-color="#f0e8a0"/><stop offset=".3083" stop-color="#e1d291"/><stop offset=".3300" stop-color="#b9986c"/><stop offset=".3478" stop-color="#946f58"/><stop offset=".3696" stop-color="#845a50"/><stop offset=".3953" stop-color="#906b63"/><stop offset=".4328" stop-color="#ac8f8a"/><stop offset=".4605" stop-color="#bea39f"/><stop offset=".4901" stop-color="#c6aeab"/><stop offset=".5257" stop-color="#c6aeaa"/><stop offset=".5494" stop-color="#bea29e"/><stop offset=".5711" stop-color="#ad908b"/><stop offset=".6028" stop-color="#916c64"/><stop offset=".6245" stop-color="#845a51"/><stop offset=".6423" stop-color="#946f58"/><stop offset=".6502" stop-color="#a98763"/><stop offset=".6581" stop-color="#c1a171"/><stop offset=".6779" stop-color="#e3d493"/><stop offset=".6877" stop-color="#f0e8a0"/><stop offset=".7075" stop-color="#e8e8a0"/><stop offset=".7213" stop-color="#c5e098"/><stop offset=".7372" stop-color="#9ad285"/><stop offset=".7470" stop-color="#7bc972"/><stop offset=".7569" stop-color="#6ec56b"/><stop offset=".7648" stop-color="#67c467"/><stop offset=".8004" stop-color="#5dbd5d"/><stop offset=".8043" stop-color="#5cbb5e"/><stop offset=".8202" stop-color="#59ab82"/><stop offset=".8419" stop-color="#508da7"/><stop offset=".8538" stop-color="#5088c4"/><stop offset=".8794" stop-color="#4f7dbd"/><stop offset=".8953" stop-color="#4d75b6"/><stop offset=".9111" stop-color="#4a6db6"/><stop offset=".9565" stop-color="#4857ab"/><stop offset="1.0000" stop-color="#474da4"/></linearGradient>
<linearGradient id="g42" x1="0" y1="0" x2="0" y2="1"><stop offset=".0000" stop-color="#5083c1"/><stop offset=".0553" stop-color="#5088c4"/><stop offset=".0771" stop-color="#508da6"/><stop offset=".1028" stop-color="#57a48c"/><stop offset=".1245" stop-color="#5cb56e"/><stop offset=".1344" stop-color="#5cbc5c"/><stop offset=".1739" stop-color="#69c469"/><stop offset=".1976" stop-color="#7cc973"/><stop offset=".2213" stop-color="#98d284"/><stop offset=".2549" stop-color="#cae29a"/><stop offset=".2826" stop-color="#e9e8a0"/><stop offset=".2964" stop-color="#f0e8a0"/><stop offset=".3103" stop-color="#ddcc8d"/><stop offset=".3281" stop-color="#bc9c6e"/><stop offset=".3458" stop-color="#967159"/><stop offset=".3696" stop-color="#845b51"/><stop offset=".3953" stop-color="#916b63"/><stop offset=".4328" stop-color="#ac8f8a"/><stop offset=".4625" stop-color="#bfa4a0"/><stop offset=".4921" stop-color="#c7afac"/><stop offset=".5257" stop-color="#c7afac"/><stop offset=".5494" stop-color="#bfa4a0"/><stop offset=".5731" stop-color="#ad908b"/><stop offset=".6047" stop-color="#906b63"/><stop offset=".6265" stop-color="#845a50"/><stop offset=".6443" stop-color="#956f58"/><stop offset=".6601" stop-color="#c1a271"/><stop offset=".6798" stop-color="#e3d493"/><stop offset=".6897" stop-color="#f0e8a0"/><stop offset=".7095" stop-color="#e8e8a0"/><stop offset=".7233" stop-color="#c5e098"/><stop offset=".7391" stop-color="#9bd385"/><stop offset=".7510" stop-color="#77c870"/><stop offset=".7668" stop-color="#67c467"/><stop offset=".8043" stop-color="#5dbd5d"/><stop offset=".8083" stop-color="#5cbb5f"/><stop offset=".8241" stop-color="#59ac81"/><stop offset=".8458" stop-color="#508ea6"/><stop offset=".8577" stop-color="#5088c2"/><stop offset=".8715" stop-color="#5083c1"/><stop offset=".8992" stop-color="#4d75b6"/><stop offset=".9150" stop-color="#4a6db7"/><stop offset=".9625" stop-color="#4857ab"/><stop offset="1.0000" stop-color="#474ea5"/></linearGradient>
<linearGradient id="g43" x1="0" y1="0" x2="0" y2="1"><stop offset=".0000" stop-color="#5083c1"/><stop offset=".0534" stop-color="#5088c4"/><stop offset=".0751" stop-color="#508da7"/><stop offset=".1008" stop-color="#56a48c"/><stop offset=".1225" stop-color="#5cb56e"/><stop offset=".1324" stop-color="#5cbc5c"/><stop offset=".1719" stop-color="#69c468"/><stop offset=".1976" stop-color="#7eca74"/><stop offset=".2194" stop-color="#97d284"/><stop offset=".2549" stop-color="#cbe29a"/><stop offset=".2826" stop-color="#e9e8a0"/><stop offset=".2964" stop-color="#f0e8a0"/><stop offset=".3103" stop-color="#dccb8c"/><stop offset=".3281" stop-color="#bb9b6d"/><stop offset=".3458" stop-color="#957058"/><stop offset=".3676" stop-color="#855b50"/><stop offset=".3953" stop-color="#916c64"/><stop offset=".4328" stop-color="#ac908b"/><stop offset=".4664" stop-color="#c1a7a3"/><stop offset=".4960" stop-color="#c8b1ae"/><stop offset=".5296" stop-color="#c7afac"/><stop offset=".5534" stop-color="#bea39f"/><stop offset=".5751" stop-color="#ad908b"/><stop offset=".6067" stop-color="#906b63"/><stop offset=".6265" stop-color="#855b51"/><stop offset=".6324" stop-color="#886052"/><stop offset=".6462" stop-color="#957058"/><stop offset=".6621" stop-color="#c2a372"/><stop offset=".6818" stop-color="#e3d593"/><stop offset=".6917" stop-color="#f0e8a0"/><stop offset=".7115" stop-color="#e8e8a0"/><stop offset=".7253" stop-color="#c5e098"/><stop offset=".7411" stop-color="#9bd386"/><stop offset=".7490" stop-color="#84cc78"/><stop offset=".7530" stop-color="#78c870"/><stop offset=".7688" stop-color="#68c468"/><stop offset=".8063" stop-color="#5ebe5e"/><stop offset=".8103" stop-color="#5cbc5c"/><stop offset=".8300" stop-color="#59aa85"/><stop offset=".8478" stop-color="#5192a1"/><stop offset=".8538" stop-color="#508bad"/><stop offset=".8636" stop-color="#5088c4"/><stop offset=".8893" stop-color="#4f7dbd"/><stop offset=".9051" stop-color="#4d75b6"/><stop offset=".9209" stop-color="#4a6db7"/><stop offset=".9704" stop-color="#4857ab"/><stop offset="1.0000" stop-color="#4750a6"/></linearGradient>
<linearGradient id="g44" x1="0" y1="0" x2="0" y2="1"><stop offset=".0000" stop-color="#5083c2"/><stop offset=".0514" stop-color="#5088c4"/><stop offset=".0731" stop-color="#508da7"/><stop offset=".0988" stop-color="#56a48c"/><stop offset=".1206" stop-color="#5cb56e"/><stop offset=".1304" stop-color="#5cbc5c"/><stop offset=".1719" stop-color="#6ac569"/><stop offset=".1957" stop-color="#7dca73"/><stop offset=".2194" stop-color="#99d284"/><stop offset=".2530" stop-color="#cae29a"/><stop offset=".2806" stop-color="#e9e8a0"/><stop offset=".2964" stop-color="#efe79f"/><stop offset=".3103" stop-color="#dcc98c"/><stop offset=".3281" stop-color="#bb9a6d"/><stop offset=".3458" stop-color="#957058"/><stop offset=".3676" stop-color="#845b50"/><stop offset=".3953" stop-color="#916c64"/><stop offset=".4328" stop-color="#ad908b"/><stop offset=".4664" stop-color="#c1a7a4"/><stop offset=".4960" stop-color="#c8b2ae"/><stop offset=".5296" stop-color="#c8b1ae"/><stop offset=".5534" stop-color="#c0a5a1"/><stop offset=".5771" stop-color="#ad908b"/><stop offset=".6087" stop-color="#906a62"/><stop offset=".6285" stop-color="#845a50"/><stop offset=".6482" stop-color="#977259"/><stop offset=".6621" stop-color="#bf9f6f"/><stop offset=".6838" stop-color="#e4d594"/><stop offset=".6937" stop-color="#f0e8a0"/><stop offset=".7134" stop-color="#e8e8a0"/><stop offset=".7273" stop-color="#c6e098"/><stop offset=".7431" stop-color="#9cd386"/><stop offset=".7530" stop-color="#7eca74"/><stop offset=".7549" stop-color="#78c870"/><stop offset=".7708" stop-color="#68c468"/><stop offset=".8103" stop-color="#5ebe5e"/><stop offset=".8142" stop-color="#5cbc5c"/><stop offset=".8340" stop-color="#59aa84"/><stop offset=".8518" stop-color="#51939f"/><stop offset=".8577" stop-color="#508cab"/><stop offset=".8676" stop-color="#5088c4"/><stop offset=".8933" stop-color="#4f7dbd"/><stop offset=".9091" stop-color="#4d75b6"/><stop offset=".9269" stop-color="#4a6db6"/><stop offset=".9763" stop-color="#4857ab"/><stop offset="1.0000" stop-color="#4751a7"/></linearGradient>
<linearGradient id="g45" x1="0" y1="0" x2="0" y2="1"><stop offset=".0000" stop-color="#5083c2"/><stop offset=".0494" stop-color="#5088c4"/><stop offset=".0711" stop-color="#508da7"/><stop offset=".0968" stop-color="#56a48c"/><stop offset=".1186" stop-color="#5cb56f"/><stop offset=".1285" stop-color="#5cbc5c"/><stop offset=".1700" stop-color="#6ac469"/><stop offset=".1937" stop-color="#7cc973"/><stop offset=".2174" stop-color="#98d284"/><stop offset=".2530" stop-color="#cbe29a"/><stop offset=".2806" stop-color="#e9e8a0"/><stop offset=".2945" stop-color="#f0e8a0"/><stop offset=".3083" stop-color="#decd8e"/><stop offset=".3281" stop-color="#ba996c"/><stop offset=".3458" stop-color="#956f58"/><stop offset=".3676" stop-color="#845a50"/><stop offset=".3933" stop-color="#906b63"/><stop offset=".4308" stop-color="#ac8f8a"/><stop offset=".4565" stop-color="#bda29e"/><stop offset=".4862" stop-color="#c7b0ad"/><stop offset=".5138" stop-color="#c9b3b0"/><stop offset=".5375" stop-color="#c7b0ac"/><stop offset=".5613" stop-color="#bca09c"/><stop offset=".5791" stop-color="#ad908b"/><stop offset=".6087" stop-color="#916c64"/><stop offset=".6304" stop-color="#845a50"/><stop offset=".6482" stop-color="#946f58"/><stop offset=".6640" stop-color="#c0a070"/><stop offset=".6858" stop-color="#e4d694"/><stop offset=".6957" stop-color="#f0e8a0"/><stop offset=".7154" stop-color="#e8e8a0"/><stop offset=".7292" stop-color="#c6e098"/><stop offset=".7470" stop-color="#97d284"/><stop offset=".7569" stop-color="#79c871"/><stop offset=".7727" stop-color="#68c468"/><stop offset=".8142" stop-color="#5ebe5e"/><stop offset=".8182" stop-color="#5cbc5c"/><stop offset=".8379" stop-color="#59ab83"/><stop offset=".8557" stop-color="#51949e"/><stop offset=".8636" stop-color="#508bae"/><stop offset=".8715" stop-color="#5088c2"/><stop offset=".8775" stop-color="#5086c3"/><stop offset=".9012" stop-color="#4f7bbb"/><stop offset=".9150" stop-color="#4d75b6"/><stop offset=".9328" stop-color="#4a6cb6"/><stop offset=".9822" stop-color="#4857ab"/><stop offset="1.0000" stop-color="#4853a8"/></linearGradient>
<linearGradient id="g46" x1="0" y1="0" x2="0" y2="1"><stop offset=".0000" stop-color="#5084c2"/><stop offset=".0474" stop-color="#5088c4"/><stop offset=".0711" stop-color="#508fa5"/><stop offset=".0968" stop-color="#57a68a"/><stop offset=".1186" stop-color="#5cb76b"/><stop offset=".1265" stop-color="#5cbc5c"/><stop offset=".1680" stop-color="#69c469"/><stop offset=".1937" stop-color="#7eca74"/><stop offset=".2174" stop-color="#99d285"/><stop offset=".2530" stop-color="#cce39b"/><stop offset=".2806" stop-color="#e9e8a0"/><stop offset=".2945" stop-color="#f0e8a0"/><stop offset=".3083" stop-color="#ddcc8d"/><stop offset=".3261" stop-color="#bd9d6e"/><stop offset=".3458" stop-color="#946f58"/><stop offset=".3676" stop-color="#845a50"/><stop offset=".3933" stop-color="#906b63"/><stop offset=".4289" stop-color="#ab8d88"/><stop offset=".4486" stop-color="#b89d99"/><stop offset=".4723" stop-color="#c4aba8"/><stop offset=".5020" stop-color="#cab4b1"/><stop offset=".5356" stop-color="#c8b2af"/><stop offset=".5593" stop-color="#bfa4a0"/><stop offset=".5810" stop-color="#ad908b"/><stop offset=".6107" stop-color="#916c64"/><stop offset=".6304" stop-color="#845b51"/><stop offset=".6502" stop-color="#957058"/><stop offset=".6660" stop-color="#c1a171"/><stop offset=".6877" stop-color="#e4d694"/><stop offset=".6976" stop-color="#f0e8a0"/><stop offset=".7174" stop-color="#e8e8a0"/><stop offset=".7312" stop-color="#c6e098"/><stop offset=".7490" stop-color="#98d284"/><stop offset=".7589" stop-color="#7ac972"/><stop offset=".7747" stop-color="#68c468"/><stop offset=".8182" stop-color="#5dbd5d"/><stop offset=".8221" stop-color="#5cbc5c"/><stop offset=".8399" stop-color="#5aad7f"/><stop offset=".8617" stop-color="#5192a0"/><stop offset=".8676" stop-color="#508bad"/><stop offset=".8775" stop-color="#5088c4"/><stop offset=".9051" stop-color="#4f7cbc"/><stop offset=".9190" stop-color="#4d75b6"/><stop offset=".9368" stop-color="#4a6db7"/><stop offset=".9881" stop-color="#4857ab"/><stop offset="1.0000" stop-color="#4854a9"/></linearGradient>
<linearGradient id="g47" x1="0" y1="0" x2="0" y2="1"><stop offset=".0000" stop-color="#5084c2"/><stop offset=".0455" stop-color="#5088c4"/><stop offset=".0692" stop-color="#508ea5"/><stop offset=".0949" stop-color="#57a68a"/><stop offset=".1166" stop-color="#5cb66b"/><stop offset=".1245" stop-color="#5cbc5c"/><stop offset=".1660" stop-color="#69c469"/><stop offset=".1917" stop-color="#7dca73"/><stop offset=".2154" stop-color="#98d284"/><stop offset=".2510" stop-color="#cae29a"/><stop offset=".2787" stop-color="#e9e8a0"/><stop offset=".2945" stop-color="#f0e7a0"/><stop offset=".3083" stop-color="#ddcb8d"/><stop offset=".3261" stop-color="#bc9c6e"/><stop offset=".3458" stop-color="#946f58"/><stop offset=".3676" stop-color="#845a50"/><stop offset=".3933" stop-color="#906b63"/><stop offset=".4289" stop-color="#ab8e89"/><stop offset=".4506" stop-color="#ba9e9a"/><stop offset=".4763" stop-color="#c6aeaa"/><stop offset=".5059" stop-color="#cbb5b2"/><stop offset=".5375" stop-color="#c9b2af"/><stop offset=".5613" stop-color="#bfa4a0"/><stop offset=".5830" stop-color="#ad908b"/><stop offset=".6107" stop-color="#926e66"/><stop offset=".6245" stop-color="#896057"/><stop offset=".6324" stop-color="#845a50"/><stop offset=".6522" stop-color="#967159"/><stop offset=".6680" stop-color="#c2a272"/><stop offset=".6897" stop-color="#e5d795"/><stop offset=".6976" stop-color="#efe69f"/><stop offset=".7194" stop-color="#e8e8a0"/><stop offset=".7332" stop-color="#c7e199"/><stop offset=".7510" stop-color="#99d284"/><stop offset=".7628" stop-color="#77c870"/><stop offset=".7787" stop-color="#68c468"/><stop offset=".8221" stop-color="#5dbd5d"/><stop offset=".8261" stop-color="#5cbc5d"/><stop offset=".8439" stop-color="#5aad7f"/><stop offset=".8597" stop-color="#539b95"/><stop offset=".8715" stop-color="#508cab"/><stop offset=".8814" stop-color="#5088c3"/><stop offset=".9071" stop-color="#4f7dbd"/><stop offset=".9249" stop-color="#4d75b6"/><stop offset=".9427" stop-color="#4a6db6"/><stop offset=".9941" stop-color="#4857ab"/><stop offset="1.0000" stop-color="#4856aa"/></linearGradient>
<linearGradient id="g48" x1="0" y1="0" x2="0" y2="1"><stop offset=".0000" stop-color="#5084c2"/><stop offset=".0435" stop-color="#5088c4"/><stop offset=".0672" stop-color="#508ea5"/><stop offset=".0929" stop-color="#57a68a"/><stop offset=".1146" stop-color="#5cb66b"/><stop offset=".1225" stop-color="#5cbc5d"/><stop offset=".1640" stop-color="#69c468"/><stop offset=".1897" stop-color="#7cc973"/><stop offset=".2134" stop-color="#97d284"/><stop offset=".2490" stop-color="#c9e199"/><stop offset=".2767" stop-color="#e8e8a0"/><stop offset=".2945" stop-color="#efe69f"/><stop offset=".3083" stop-color="#dcca8c"/><stop offset=".3261" stop-color="#bb9b6d"/><stop offset=".3439" stop-color="#967158"/><stop offset=".3676" stop-color="#845a50"/><stop offset=".3933" stop-color="#916c64"/><stop offset=".4289" stop-color="#ab8e89"/><stop offset=".4545" stop-color="#bda29e"/><stop offset=".4862" stop-color="#c8b2af"/><stop offset=".5119" stop-color="#cbb6b3"/><stop offset=".5375" stop-color="#cab4b1"/><stop offset=".5593" stop-color="#c2a8a4"/><stop offset=".5850" stop-color="#ad908b"/><stop offset=".6126" stop-color="#926d65"/><stop offset=".6285" stop-color="#875e55"/><stop offset=".6344" stop-color="#855b50"/><stop offset=".6522" stop-color="#946f58"/><stop offset=".6660" stop-color="#b9986c"/><stop offset=".6739" stop-color="#c9ad79"/><stop offset=".6917" stop-color="#e5d795"/><stop offset=".6996" stop-color="#efe79f"/><stop offset=".7213" stop-color="#e8e8a0"/><stop offset=".7352" stop-color="#c7e199"/><stop offset=".7530" stop-color="#9ad285"/><stop offset=".7648" stop-color="#78c870"/><stop offset=".7806" stop-color="#68c468"/><stop offset=".8241" stop-color="#5ebe5e"/><stop offset=".8300" stop-color="#5cbc5d"/><stop offset=".8498" stop-color="#59ab82"/><stop offset=".8696" stop-color="#51949e"/><stop offset=".8775" stop-color="#508bae"/><stop offset=".8854" stop-color="#5088c2"/><stop offset=".8893" stop-color="#5087c3"/><stop offset=".9150" stop-color="#4f7cbc"/><stop offset=".9289" stop-color="#4d75b6"/><stop offset=".9466" stop-color="#4a6db7"/><stop offset="1.0000" stop-color="#4857ab"/></linearGradient>
<linearGradient id="g49" x1="0" y1="0" x2="0" y2="1"><stop offset=".0000" stop-color="#5084c2"/><stop offset=".0415" stop-color="#5088c4"/><stop offset=".0652" stop-color="#508ea5"/><stop offset=".0909" stop-color="#57a68a"/><stop offset=".1126" stop-color="#5cb66b"/><stop offset=".1206" stop-color="#5cbc5d"/><stop offset=".1621" stop-color="#69c468"/><stop offset=".1897" stop-color="#7eca74"/><stop offset=".2134" stop-color="#99d284"/><stop offset=".2510" stop-color="#cde39b"/><stop offset=".2787" stop-color="#e9e8a0"/><stop offset=".2925" stop-color="#f0e8a0"/><stop offset=".3063" stop-color="#dece8e"/><stop offset=".3261" stop-color="#ba9a6d"/><stop offset=".3439" stop-color="#957058"/><stop offset=".3676" stop-color="#845a51"/><stop offset=".3933" stop-color="#916c64"/><stop offset=".4308" stop-color="#ad918c"/><stop offset=".4644" stop-color="#c2a8a5"/><stop offset=".4941" stop-color="#cab5b2"/><stop offset=".5237" stop-color="#ccb7b5"/><stop offset=".5455" stop-color="#c9b2af"/><stop offset=".5692" stop-color="#bda19d"/><stop offset=".5870" stop-color="#ad908b"/><stop offset=".6146" stop-color="#916c64"/><stop offset=".6344" stop-color="#845a51"/><stop offset=".6542" stop-color="#957058"/><stop offset=".6700" stop-color="#c0a070"/><stop offset=".6917" stop-color="#e3d493"/><stop offset=".7016" stop-color="#efe79f"/><stop offset=".7233" stop-color="#e8e8a0"/><stop offset=".7372" stop-color="#c7e199"/><stop offset=".7549" stop-color="#9ad385"/><stop offset=".7648" stop-color="#7eca74"/><stop offset=".7668" stop-color="#78c870"/><stop offset=".7826" stop-color="#68c468"/><stop offset=".8281" stop-color="#5ebe5e"/><stop offset=".8340" stop-color="#5cbb5e"/><stop offset=".8538" stop-color="#59ac81"/><stop offset=".8735" stop-color="#51959c"/><stop offset=".8814" stop-color="#508bac"/><stop offset=".8913" stop-color="#5088c4"/><stop offset=".9190" stop-color="#4f7cbc"/><stop offset=".9348" stop-color="#4d75b6"/><stop offset=".9526" stop-color="#4a6db7"/><stop offset="1.0000" stop-color="#4858ac"/></linearGradient>
<linearGradient id="g50" x1="0" y1="0" x2="0" y2="1"><stop offset=".0000" stop-color="#5085c2"/><stop offset=".0395" stop-color="#5088c4"/><stop offset=".0632" stop-color="#508ea5"/><stop offset=".0889" stop-color="#57a68a"/><stop offset=".1107" stop-color="#5cb66b"/><stop offset=".1186" stop-color="#5cbc5d"/><stop offset=".1561" stop-color="#67c367"/><stop offset=".1858" stop-color="#7bc972"/><stop offset=".2115" stop-color="#97d284"/><stop offset=".2470" stop-color="#c8e199"/><stop offset=".2747" stop-color="#e7e8a0"/><stop offset=".2925" stop-color="#f0e8a0"/><stop offset=".3063" stop-color="#decc8e"/><stop offset=".3261" stop-color="#ba996c"/><stop offset=".3439" stop-color="#957058"/><stop offset=".3676" stop-color="#845b51"/><stop offset=".3933" stop-color="#916c64"/><stop offset=".4289" stop-color="#ac8f8a"/><stop offset=".4605" stop-color="#c1a6a2"/><stop offset=".4901" stop-color="#cab5b2"/><stop offset=".5158" stop-color="#cdb8b6"/><stop offset=".5415" stop-color="#cbb5b2"/><stop offset=".5632" stop-color="#c2a8a5"/><stop offset=".5889" stop-color="#ad908b"/><stop offset=".6166" stop-color="#916c64"/><stop offset=".6364" stop-color="#845a50"/><stop offset=".6561" stop-color="#967158"/><stop offset=".6719" stop-color="#c0a170"/><stop offset=".6937" stop-color="#e3d493"/><stop offset=".7036" stop-color="#f0e7a0"/><stop offset=".7253" stop-color="#e8e8a0"/><stop offset=".7391" stop-color="#c8e199"/><stop offset=".7569" stop-color="#9bd386"/><stop offset=".7668" stop-color="#7fca75"/><stop offset=".7688" stop-color="#79c871"/><stop offset=".7846" stop-color="#68c468"/><stop offset=".8320" stop-color="#5ebe5e"/><stop offset=".8379" stop-color="#5cbb5e"/><stop offset=".8577" stop-color="#59ac81"/><stop offset=".8775" stop-color="#52969b"/><stop offset=".8854" stop-color="#508cab"/><stop offset=".8953" stop-color="#5088c3"/><stop offset=".9209" stop-color="#4f7dbd"/><stop offset=".9387" stop-color="#4e75b6"/><stop offset=".9585" stop-color="#4a6db6"/><stop offset="1.0000" stop-color="#485bad"/></linearGradient>
<linearGradient id="g51" x1="0" y1="0" x2="0" y2="1"><stop offset=".0000" stop-color="#5085c2"/><stop offset=".0375" stop-color="#5088c4"/><stop offset=".0613" stop-color="#508ea5"/><stop offset=".0870" stop-color="#57a58b"/><stop offset=".1087" stop-color="#5cb66c"/><stop offset=".1166" stop-color="#5cbc5d"/><stop offset=".1542" stop-color="#67c367"/><stop offset=".1858" stop-color="#7cc973"/><stop offset=".2115" stop-color="#99d285"/><stop offset=".2490" stop-color="#cce39b"/><stop offset=".2767" stop-color="#e9e8a0"/><stop offset=".2925" stop-color="#f0e7a0"/><stop offset=".3063" stop-color="#ddcb8d"/><stop offset=".3241" stop-color="#bd9c6e"/><stop offset=".3439" stop-color="#946f58"/><stop offset=".3656" stop-color="#845b50"/><stop offset=".3913" stop-color="#906b63"/><stop offset=".4269" stop-color="#ab8e89"/><stop offset=".4486" stop-color="#ba9f9b"/><stop offset=".4783" stop-color="#c8b1ae"/><stop offset=".5099" stop-color="#cdb9b7"/><stop offset=".5415" stop-color="#ccb7b4"/><stop offset=".5632" stop-color="#c3aaa7"/><stop offset=".5830" stop-color="#b49894"/><stop offset=".6047" stop-color="#9f7f77"/><stop offset=".6225" stop-color="#8d675e"/><stop offset=".6383" stop-color="#855b50"/><stop offset=".6581" stop-color="#977259"/><stop offset=".6739" stop-color="#c1a271"/><stop offset=".6957" stop-color="#e3d593"/><stop offset=".7055" stop-color="#f0e8a0"/><stop offset=".7273" stop-color="#e8e8a0"/><stop offset=".7411" stop-color="#c8e199"/><stop offset=".7589" stop-color="#9cd386"/><stop offset=".7688" stop-color="#80cb75"/><stop offset=".7727" stop-color="#77c86f"/><stop offset=".7885" stop-color="#68c468"/><stop offset=".8360" stop-color="#5ebe5e"/><stop offset=".8399" stop-color="#5cbc5c"/><stop offset=".8636" stop-color="#59aa84"/><stop offset=".8834" stop-color="#51949e"/><stop offset=".8913" stop-color="#508bae"/><stop offset=".8992" stop-color="#5088c1"/><stop offset=".9032" stop-color="#5087c3"/><stop offset=".9308" stop-color="#4f7bbb"/><stop offset=".9447" stop-color="#4d75b6"/><stop offset=".9625" stop-color="#4a6db7"/><stop offset="1.0000" stop-color="#485daf"/></linearGradient>
<linearGradient id="g52" x1="0" y1="0" x2="0" y2="1"><stop offset=".0000" stop-color="#5085c2"/><stop offset=".0356" stop-color="#5088c4"/><stop offset=".0593" stop-color="#508ea5"/><stop offset=".0850" stop-color="#57a58b"/><stop offset=".1067" stop-color="#5cb66c"/><stop offset=".1146" stop-color="#5cbc5d"/><stop offset=".1502" stop-color="#66c366"/><stop offset=".1798" stop-color="#78c870"/><stop offset=".2095" stop-color="#98d284"/><stop offset=".2451" stop-color="#c8e199"/><stop offset=".2727" stop-color="#e6e8a0"/><stop offset=".2925" stop-color="#efe69f"/><stop offset=".3063" stop-color="#dcca8c"/><stop offset=".3241" stop-color="#bc9c6e"/><stop offset=".3439" stop-color="#946f58"/><stop offset=".3656" stop-color="#845a50"/><stop offset=".3913" stop-color="#906b63"/><stop offset=".4269" stop-color="#ab8e89"/><stop offset=".4526" stop-color="#bda29e"/><stop offset=".4862" stop-color="#cab4b2"/><stop offset=".5138" stop-color="#cebab8"/><stop offset=".5435" stop-color="#ccb7b5"/><stop offset=".5652" stop-color="#c3aba7"/><stop offset=".5850" stop-color="#b49894"/><stop offset=".6067" stop-color="#9f7f77"/><stop offset=".6245" stop-color="#8d665e"/><stop offset=".6383" stop-color="#845a50"/><stop offset=".6581" stop-color="#946f58"/><stop offset=".6759" stop-color="#c2a372"/><stop offset=".6976" stop-color="#e4d594"/><stop offset=".7075" stop-color="#f0e8a0"/><stop offset=".7292" stop-color="#e8e8a0"/><stop offset=".7431" stop-color="#c8e199"/><stop offset=".7609" stop-color="#9dd386"/><stop offset=".7747" stop-color="#77c86f"/><stop offset=".7905" stop-color="#68c468"/><stop offset=".8399" stop-color="#5dbd5d"/><stop offset=".8439" stop-color="#5cbc5c"/><stop offset=".8676" stop-color="#59ab83"/><stop offset=".8874" stop-color="#51959c"/><stop offset=".8953" stop-color="#508bac"/><stop offset=".9051" stop-color="#5088c4"/><stop offset=".9348" stop-color="#4f7bbb"/><stop offset=".9506" stop-color="#4d75b6"/><stop offset=".9704" stop-color="#4a6cb6"/><stop offset="1.0000" stop-color="#4960b0"/></linearGradient>
<linearGradient id="g53" x1="0" y1="0" x2="0" y2="1"><stop offset=".0000" stop-color="#5085c3"/><stop offset=".0356" stop-color="#5088c3"/><stop offset=".0573" stop-color="#508ea5"/><stop offset=".0830" stop-color="#57a58b"/><stop offset=".1047" stop-color="#5cb66c"/><stop offset=".1126" stop-color="#5cbc5d"/><stop offset=".1482" stop-color="#66c366"/><stop offset=".1739" stop-color="#75c76e"/><stop offset=".2055" stop-color="#94d182"/><stop offset=".2431" stop-color="#c7e098"/><stop offset=".2668" stop-color="#e1e79f"/><stop offset=".2787" stop-color="#eae8a0"/><stop offset=".2905" stop-color="#f0e8a0"/><stop offset=".3043" stop-color="#dfce8f"/><stop offset=".3241" stop-color="#bb9b6d"/><stop offset=".3419" stop-color="#967159"/><stop offset=".3656" stop-color="#845a50"/><stop offset=".3913" stop-color="#916b63"/><stop offset=".4269" stop-color="#ac8f8a"/><stop offset=".4506" stop-color="#bca19d"/><stop offset=".4862" stop-color="#cbb5b2"/><stop offset=".5138" stop-color="#cfbbb9"/><stop offset=".5435" stop-color="#cdb9b6"/><stop offset=".5652" stop-color="#c5aca9"/><stop offset=".5830" stop-color="#b89c98"/><stop offset=".5968" stop-color="#ab8d88"/><stop offset=".6265" stop-color="#8c665d"/><stop offset=".6403" stop-color="#845a50"/><stop offset=".6601" stop-color="#957058"/><stop offset=".6779" stop-color="#c3a473"/><stop offset=".6996" stop-color="#e4d694"/><stop offset=".7095" stop-color="#f0e8a0"/><stop offset=".7312" stop-color="#e8e8a0"/><stop offset=".7451" stop-color="#c9e199"/><stop offset=".7628" stop-color="#9dd387"/><stop offset=".7727" stop-color="#82cb77"/><stop offset=".7767" stop-color="#77c870"/><stop offset=".7925" stop-color="#68c468"/><stop offset=".8439" stop-color="#5dbd5d"/><stop offset=".8478" stop-color="#5cbc5c"/><stop offset=".8715" stop-color="#59ab83"/><stop offset=".8913" stop-color="#52969b"/><stop offset=".8992" stop-color="#508caa"/><stop offset=".9091" stop-color="#5088c3"/><stop offset=".9348" stop-color="#507ebe"/><stop offset=".9545" stop-color="#4d75b6"/><stop offset=".9743" stop-color="#4a6db6"/><stop offset="1.0000" stop-color="#4962b1"/></linearGradient>
<linearGradient id="g54" x1="0" y1="0" x2="0" y2="1"><stop offset=".0000" stop-color="#5085c3"/><stop offset=".0336" stop-color="#5088c4"/><stop offset=".0553" stop-color="#508da6"/><stop offset=".0810" stop-color="#57a48c"/><stop offset=".1028" stop-color="#5cb66e"/><stop offset=".1126" stop-color="#5cbc5c"/><stop offset=".1561" stop-color="#69c469"/><stop offset=".1838" stop-color="#7eca74"/><stop offset=".2075" stop-color="#98d284"/><stop offset=".2451" stop-color="#cae29a"/><stop offset=".2747" stop-color="#e9e8a0"/><stop offset=".2905" stop-color="#f0e8a0"/><stop offset=".3043" stop-color="#ddcc8d"/><stop offset=".3241" stop-color="#ba996d"/><stop offset=".3419" stop-color="#957058"/><stop offset=".3656" stop-color="#845a50"/><stop offset=".3913" stop-color="#916c64"/><stop offset=".4269" stop-color="#ac908b"/><stop offset=".4625" stop-color="#c3a9a6"/><stop offset=".4941" stop-color="#cdb9b6"/><stop offset=".5178" stop-color="#cfbcba"/><stop offset=".5455" stop-color="#cebab7"/><stop offset=".5672" stop-color="#c5adaa"/><stop offset=".5850" stop-color="#b89d99"/><stop offset=".5988" stop-color="#ab8e88"/><stop offset=".6285" stop-color="#8c665d"/><stop offset=".6423" stop-color="#845a50"/><stop offset=".6621" stop-color="#957058"/><stop offset=".6798" stop-color="#c2a372"/><stop offset=".7016" stop-color="#e4d594"/><stop offset=".7115" stop-color="#f0e8a0"/><stop offset=".7332" stop-color="#e8e8a0"/><stop offset=".7490" stop-color="#c5e098"/><stop offset=".7668" stop-color="#9ad385"/><stop offset=".7767" stop-color="#7fca74"/><stop offset=".7787" stop-color="#79c871"/><stop offset=".7964" stop-color="#68c468"/><stop offset=".8458" stop-color="#5ebe5e"/><stop offset=".8518" stop-color="#5cbb5e"/><stop offset=".8735" stop-color="#59ab82"/><stop offset=".8953" stop-color="#51949d"/><stop offset=".9032" stop-color="#508bae"/><stop offset=".9111" stop-color="#5088c1"/><stop offset=".9150" stop-color="#5087c3"/><stop offset=".9447" stop-color="#4f7bbb"/><stop offset=".9585" stop-color="#4d75b6"/><stop offset=".9783" stop-color="#4a6db6"/><stop offset="1.0000" stop-color="#4964b2"/></linearGradient>
<linearGradient id="g55" x1="0" y1="0" x2="0" y2="1"><stop offset=".0000" stop-color="#5086c3"/><stop offset=".0336" stop-color="#5088c4"/><stop offset=".0553" stop-color="#508ea6"/><stop offset=".0810" stop-color="#57a58b"/><stop offset=".1028" stop-color="#5cb66d"/><stop offset=".1126" stop-color="#5cbc5c"/><stop offset=".1561" stop-color="#6ac469"/><stop offset=".1838" stop-color="#7fca74"/><stop offset=".2075" stop-color="#99d284"/><stop offset=".2451" stop-color="#cbe29a"/><stop offset=".2747" stop-color="#e9e8a0"/><stop offset=".2905" stop-color="#efe79f"/><stop offset=".3043" stop-color="#dcca8c"/><stop offset=".3221" stop-color="#bd9c6e"/><stop offset=".3419" stop-color="#956f58"/><stop offset=".3636" stop-color="#855b50"/><stop offset=".3893" stop-color="#906b63"/><stop offset=".4249" stop-color="#ac8f8a"/><stop offset=".4506" stop-color="#bea39f"/><stop offset=".4862" stop-color="#ccb7b4"/><stop offset=".5138" stop-color="#d0bdbb"/><stop offset=".5455" stop-color="#cfbbb9"/><stop offset=".5672" stop-color="#c7afac"/><stop offset=".5870" stop-color="#b99d99"/><stop offset=".6008" stop-color="#ab8e89"/><stop offset=".6265" stop-color="#906b63"/><stop offset=".6443" stop-color="#845a50"/><stop offset=".6640" stop-color="#946f58"/><stop offset=".6818" stop-color="#c2a272"/><stop offset=".7036" stop-color="#e3d593"/><stop offset=".7134" stop-color="#efe79f"/><stop offset=".7352" stop-color="#e8e8a0"/><stop offset=".7470" stop-color="#d0e49c"/><stop offset=".7668" stop-color="#a2d489"/><stop offset=".7787" stop-color="#82cb77"/><stop offset=".7826" stop-color="#77c870"/><stop offset=".8004" stop-color="#68c468"/><stop offset=".8478" stop-color="#5ebe5e"/><stop offset=".8538" stop-color="#5cbc5d"/><stop offset=".8735" stop-color="#5aad7f"/><stop offset=".8893" stop-color="#549d93"/><stop offset=".8992" stop-color="#5191a2"/><stop offset=".9051" stop-color="#508bae"/><stop offset=".9130" stop-color="#5088c2"/><stop offset=".9190" stop-color="#5086c3"/><stop offset=".9486" stop-color="#4f7aba"/><stop offset=".9625" stop-color="#4d74b7"/><stop offset=".9822" stop-color="#4a6cb6"/><stop offset="1.0000" stop-color="#4965b3"/></linearGradient>
<linearGradient id="g56" x1="0" y1="0" x2="0" y2="1"><stop offset=".0000" stop-color="#5086c3"/><stop offset=".0336" stop-color="#5088c4"/><stop offset=".0553" stop-color="#508ea5"/><stop offset=".0810" stop-color="#57a58b"/><stop offset=".1028" stop-color="#5cb66c"/><stop offset=".1107" stop-color="#5cbc5d"/><stop offset=".1443" stop-color="#65c365"/><stop offset=".1640" stop-color="#6fc66c"/><stop offset=".1838" stop-color="#7fca75"/><stop offset=".2075" stop-color="#99d285"/><stop offset=".2470" stop-color="#cfe39b"/><stop offset=".2747" stop-color="#e9e8a0"/><stop offset=".2885" stop-color="#f0e8a0"/><stop offset=".3024" stop-color="#dfce8f"/><stop offset=".3221" stop-color="#bb9b6d"/><stop offset=".3399" stop-color="#967259"/><stop offset=".3636" stop-color="#845a50"/><stop offset=".3893" stop-color="#916c64"/><stop offset=".4249" stop-color="#ad908b"/><stop offset=".4585" stop-color="#c2a9a5"/><stop offset=".4901" stop-color="#cebab7"/><stop offset=".5138" stop-color="#d1bebc"/><stop offset=".5474" stop-color="#cfbcba"/><stop offset=".5692" stop-color="#c7b0ac"/><stop offset=".5889" stop-color="#b99e9a"/><stop offset=".6028" stop-color="#ac8f8a"/><stop offset=".6285" stop-color="#916c64"/><stop offset=".6462" stop-color="#845b51"/><stop offset=".6680" stop-color="#977259"/><stop offset=".6838" stop-color="#c1a171"/><stop offset=".7055" stop-color="#e3d493"/><stop offset=".7154" stop-color="#efe69f"/><stop offset=".7391" stop-color="#e7e8a0"/><stop offset=".7530" stop-color="#c9e199"/><stop offset=".7727" stop-color="#9ad285"/><stop offset=".7826" stop-color="#7fca75"/><stop offset=".7866" stop-color="#77c86f"/><stop offset=".8024" stop-color="#68c468"/><stop offset=".8498" stop-color="#5ebe5e"/><stop offset=".8557" stop-color="#5cbc5c"/><stop offset=".8755" stop-color="#5aad7e"/><stop offset=".8913" stop-color="#549d93"/><stop offset=".8992" stop-color="#51939e"/><stop offset=".9071" stop-color="#508baf"/><stop offset=".9150" stop-color="#5088c3"/><stop offset=".9427" stop-color="#4f7dbd"/><stop offset=".9625" stop-color="#4d75b6"/><stop offset=".9842" stop-color="#4a6db6"/><stop offset="1.0000" stop-color="#4967b3"/></linearGradient>
<linearGradient id="g57" x1="0" y1="0" x2="0" y2="1"><stop offset=".0000" stop-color="#5086c3"/><stop offset=".0336" stop-color="#5088c4"/><stop offset=".0553" stop-color="#508fa5"/><stop offset=".0810" stop-color="#57a68a"/><stop offset=".1028" stop-color="#5cb76b"/><stop offset=".1107" stop-color="#5cbc5c"/><stop offset=".1542" stop-color="#69c469"/><stop offset=".1818" stop-color="#7eca74"/><stop offset=".2055" stop-color="#98d284"/><stop offset=".2431" stop-color="#cae29a"/><stop offset=".2727" stop-color="#e9e8a0"/><stop offset=".2885" stop-color="#f0e8a0"/><stop offset=".3024" stop-color="#ddcc8d"/><stop offset=".3221" stop-color="#ba996d"/><stop offset=".3399" stop-color="#957058"/><stop offset=".3636" stop-color="#845a50"/><stop offset=".3874" stop-color="#906b63"/><stop offset=".4229" stop-color="#ac8f8a"/><stop offset=".4545" stop-color="#c1a7a3"/><stop offset=".4881" stop-color="#cebab7"/><stop offset=".5138" stop-color="#d2c0be"/><stop offset=".5474" stop-color="#d0bebb"/><stop offset=".5692" stop-color="#c8b2af"/><stop offset=".5909" stop-color="#ba9e9a"/><stop offset=".6047" stop-color="#ad908b"/><stop offset=".6304" stop-color="#916d65"/><stop offset=".6482" stop-color="#855b51"/><stop offset=".6522" stop-color="#865d51"/><stop offset=".6700" stop-color="#967158"/><stop offset=".6858" stop-color="#c0a070"/><stop offset=".7095" stop-color="#e5d795"/><stop offset=".7194" stop-color="#f0e8a0"/><stop offset=".7411" stop-color="#e8e8a0"/><stop offset=".7569" stop-color="#c6e098"/><stop offset=".7747" stop-color="#9cd386"/><stop offset=".7866" stop-color="#7dca73"/><stop offset=".7905" stop-color="#76c76f"/><stop offset=".8063" stop-color="#68c468"/><stop offset=".8538" stop-color="#5dbd5d"/><stop offset=".8577" stop-color="#5cbc5c"/><stop offset=".8794" stop-color="#59ac82"/><stop offset=".8992" stop-color="#52959b"/><stop offset=".9071" stop-color="#508cab"/><stop offset=".9170" stop-color="#5088c3"/><stop offset=".9466" stop-color="#4f7cbc"/><stop offset=".9664" stop-color="#4d74b7"/><stop offset=".9881" stop-color="#4a6cb6"/><stop offset="1.0000" stop-color="#4968b4"/></linearGradient>
<linearGradient id="g58" x1="0" y1="0" x2="0" y2="1"><stop offset=".0000" stop-color="#5086c3"/><stop offset=".0336" stop-color="#5088c4"/><stop offset=".0534" stop-color="#508da6"/><stop offset=".0791" stop-color="#57a48c"/><stop offset=".1008" stop-color="#5cb66e"/><stop offset=".1107" stop-color="#5cbc5c"/><stop offset=".1542" stop-color="#6ac469"/><stop offset=".1818" stop-color="#7eca74"/><stop offset=".2055" stop-color="#98d284"/><stop offset=".2431" stop-color="#cbe29a"/><stop offset=".2727" stop-color="#e9e8a0"/><stop offset=".2885" stop-color="#efe79f"/><stop offset=".3024" stop-color="#dcca8c"/><stop offset=".3202" stop-color="#bd9c6e"/><stop offset=".3399" stop-color="#956f58"/><stop offset=".3617" stop-color="#855b50"/><stop offset=".3874" stop-color="#916c64"/><stop offset=".4209" stop-color="#ac8f89"/><stop offset=".4427" stop-color="#bba09c"/><stop offset=".4842" stop-color="#ceb9b7"/><stop offset=".5119" stop-color="#d2c1bf"/><stop offset=".5494" stop-color="#d1bfbc"/><stop offset=".5711" stop-color="#c9b2af"/><stop offset=".5929" stop-color="#ba9f9b"/><stop offset=".6087" stop-color="#ab8e89"/><stop offset=".6383" stop-color="#8d665e"/><stop offset=".6522" stop-color="#845a50"/><stop offset=".6719" stop-color="#957058"/><stop offset=".6897" stop-color="#c3a473"/><stop offset=".7115" stop-color="#e4d694"/><stop offset=".7213" stop-color="#f0e8a0"/><stop offset=".7431" stop-color="#e8e8a0"/><stop offset=".7589" stop-color="#c7e199"/><stop offset=".7787" stop-color="#9ad285"/><stop offset=".7925" stop-color="#77c86f"/><stop offset=".8103" stop-color="#68c468"/><stop offset=".8557" stop-color="#5ebe5e"/><stop offset=".8597" stop-color="#5cbc5c"/><stop offset=".8834" stop-color="#59aa85"/><stop offset=".9012" stop-color="#52959c"/><stop offset=".9091" stop-color="#508bac"/><stop offset=".9190" stop-color="#5088c4"/><stop offset=".9526" stop-color="#4f7bbb"/><stop offset=".9684" stop-color="#4d75b6"/><stop offset=".9901" stop-color="#4a6db6"/><stop offset="1.0000" stop-color="#4969b5"/></linearGradient>
<linearGradient id="g59" x1="0" y1="0" x2="0" y2="1"><stop offset=".0000" stop-color="#5086c3"/><stop offset=".0336" stop-color="#5088c3"/><stop offset=".0534" stop-color="#508ea6"/><stop offset=".0791" stop-color="#57a58b"/><stop offset=".1008" stop-color="#5cb66d"/><stop offset=".1107" stop-color="#5cbc5c"/><stop offset=".1542" stop-color="#6ac469"/><stop offset=".1798" stop-color="#7dca73"/><stop offset=".2055" stop-color="#99d285"/><stop offset=".2431" stop-color="#cce29a"/><stop offset=".2727" stop-color="#e9e8a0"/><stop offset=".2866" stop-color="#f0e8a0"/><stop offset=".3004" stop-color="#dfce8f"/><stop offset=".3202" stop-color="#bb9b6d"/><stop offset=".3379" stop-color="#967159"/><stop offset=".3617" stop-color="#845a50"/><stop offset=".3854" stop-color="#906b63"/><stop offset=".4209" stop-color="#ac908b"/><stop offset=".4545" stop-color="#c2a9a5"/><stop offset=".4881" stop-color="#cfbcba"/><stop offset=".5138" stop-color="#d3c2c0"/><stop offset=".5514" stop-color="#d2c0be"/><stop offset=".5751" stop-color="#c8b1ae"/><stop offset=".5968" stop-color="#b99e9a"/><stop offset=".6107" stop-color="#ac8f8a"/><stop offset=".6364" stop-color="#906b63"/><stop offset=".6542" stop-color="#845a50"/><stop offset=".6739" stop-color="#946f58"/><stop offset=".6917" stop-color="#c2a372"/><stop offset=".7134" stop-color="#e4d594"/><stop offset=".7233" stop-color="#f0e8a0"/><stop offset=".7470" stop-color="#e6e8a0"/><stop offset=".7628" stop-color="#c5e098"/><stop offset=".7826" stop-color="#98d284"/><stop offset=".7945" stop-color="#78c870"/><stop offset=".8123" stop-color="#68c468"/><stop offset=".8577" stop-color="#5ebe5e"/><stop offset=".8636" stop-color="#5cbb5e"/><stop offset=".8834" stop-color="#59ac81"/><stop offset=".9032" stop-color="#51959c"/><stop offset=".9111" stop-color="#508bac"/><stop offset=".9209" stop-color="#5088c4"/><stop offset=".9565" stop-color="#4f7aba"/><stop offset=".9704" stop-color="#4d75b6"/><stop offset=".9921" stop-color="#4a6db7"/><stop offset="1.0000" stop-color="#4a6ab5"/></linearGradient>
<linearGradient id="g60" x1="0" y1="0" x2="0" y2="1"><stop offset=".0000" stop-color="#5086c3"/><stop offset=".0336" stop-color="#5088c3"/><stop offset=".0534" stop-color="#508ea5"/><stop offset=".0791" stop-color="#57a58b"/><stop offset=".1008" stop-color="#5cb66c"/><stop offset=".1087" stop-color="#5cbc5d"/><stop offset=".1443" stop-color="#66c366"/><stop offset=".1719" stop-color="#76c86f"/><stop offset=".2016" stop-color="#95d182"/><stop offset=".2391" stop-color="#c7e199"/><stop offset=".2688" stop-color="#e8e8a0"/><stop offset=".2866" stop-color="#f0e8a0"/><stop offset=".3004" stop-color="#ddcc8d"/><stop offset=".3202" stop-color="#ba996d"/><stop offset=".3379" stop-color="#957058"/><stop offset=".3617" stop-color="#845a50"/><stop offset=".3854" stop-color="#916c64"/><stop offset=".4190" stop-color="#ac8f8a"/><stop offset=".4447" stop-color="#bea39f"/><stop offset=".4862" stop-color="#d0bcba"/><stop offset=".5138" stop-color="#d4c2c1"/><stop offset=".5534" stop-color="#d2c0be"/><stop offset=".5751" stop-color="#cab4b1"/><stop offset=".5988" stop-color="#ba9e9a"/><stop offset=".6126" stop-color="#ac908b"/><stop offset=".6383" stop-color="#916c64"/><stop offset=".6561" stop-color="#855b51"/><stop offset=".6719" stop-color="#916a56"/><stop offset=".6779" stop-color="#977359"/><stop offset=".6937" stop-color="#c1a271"/><stop offset=".7154" stop-color="#e3d593"/><stop offset=".7253" stop-color="#efe79f"/><stop offset=".7490" stop-color="#e7e8a0"/><stop offset=".7648" stop-color="#c6e098"/><stop offset=".7846" stop-color="#9ad285"/><stop offset=".7984" stop-color="#77c870"/><stop offset=".8162" stop-color="#68c468"/><stop offset=".8597" stop-color="#5ebe5e"/><stop offset=".8656" stop-color="#5cbc5d"/><stop offset=".8854" stop-color="#59ac81"/><stop offset=".9051" stop-color="#51949d"/><stop offset=".9130" stop-color="#508bad"/><stop offset=".9229" stop-color="#5088c4"/><stop offset=".9625" stop-color="#4e78b8"/><stop offset=".9763" stop-color="#4c74b7"/><stop offset="1.0000" stop-color="#4a6bb6"/></linearGradient>
<linearGradient id="g61" x1="0" y1="0" x2="0" y2="1"><stop offset=".0000" stop-color="#5086c3"/><stop offset=".0336" stop-color="#5088c2"/><stop offset=".0514" stop-color="#508da7"/><stop offset=".0771" stop-color="#56a48c"/><stop offset=".0988" stop-color="#5cb56f"/><stop offset=".1087" stop-color="#5cbc5c"/><stop offset=".1522" stop-color="#69c469"/><stop offset=".1798" stop-color="#7eca74"/><stop offset=".2036" stop-color="#98d284"/><stop offset=".2391" stop-color="#c8e199"/><stop offset=".2688" stop-color="#e8e8a0"/><stop offset=".2866" stop-color="#efe69f"/><stop offset=".3004" stop-color="#dcca8c"/><stop offset=".3182" stop-color="#bc9c6e"/><stop offset=".3379" stop-color="#946f58"/><stop offset=".3597" stop-color="#855b50"/><stop offset=".3834" stop-color="#906a62"/><stop offset=".4170" stop-color="#ab8e89"/><stop offset=".4368" stop-color="#ba9e9a"/><stop offset=".4723" stop-color="#ccb7b4"/><stop offset=".4980" stop-color="#d3c1bf"/><stop offset=".5296" stop-color="#d4c3c2"/><stop offset=".5573" stop-color="#d2c0be"/><stop offset=".5791" stop-color="#c9b3b0"/><stop offset=".6008" stop-color="#ba9f9b"/><stop offset=".6166" stop-color="#ab8e89"/><stop offset=".6462" stop-color="#8c665d"/><stop offset=".6601" stop-color="#845b50"/><stop offset=".6798" stop-color="#967159"/><stop offset=".6957" stop-color="#c0a170"/><stop offset=".7174" stop-color="#e3d493"/><stop offset=".7273" stop-color="#efe69f"/><stop offset=".7510" stop-color="#e8e8a0"/><stop offset=".7668" stop-color="#c8e199"/><stop offset=".7866" stop-color="#9cd386"/><stop offset=".7984" stop-color="#7eca74"/><stop offset=".8024" stop-color="#77c86f"/><stop offset=".8202" stop-color="#68c468"/><stop offset=".8636" stop-color="#5dbd5d"/><stop offset=".8676" stop-color="#5cbc5c"/><stop offset=".8874" stop-color="#59ac81"/><stop offset=".9071" stop-color="#51949e"/><stop offset=".9150" stop-color="#508bae"/><stop offset=".9229" stop-color="#5088c2"/><stop offset=".9269" stop-color="#5087c3"/><stop offset=".9743" stop-color="#4d75b6"/><stop offset=".9980" stop-color="#4a6db7"/><stop offset="1.0000" stop-color="#4a6cb6"/></linearGradient>
<linearGradient id="g62" x1="0" y1="0" x2="0" y2="1"><stop offset=".0000" stop-color="#5086c3"/><stop offset=".0316" stop-color="#5088c4"/><stop offset=".0514" stop-color="#508da6"/><stop offset=".0771" stop-color="#57a48c"/><stop offset=".0988" stop-color="#5cb66e"/><stop offset=".1087" stop-color="#5cbc5c"/><stop offset=".1522" stop-color="#6ac469"/><stop offset=".1798" stop-color="#7fca74"/><stop offset=".2036" stop-color="#99d284"/><stop offset=".2411" stop-color="#cce29a"/><stop offset=".2708" stop-color="#e9e8a0"/><stop offset=".2846" stop-color="#f0e8a0"/><stop offset=".2984" stop-color="#dece8e"/><stop offset=".3182" stop-color="#bb9b6d"/><stop offset=".3360" stop-color="#967159"/><stop offset=".3597" stop-color="#845a50"/><stop offset=".3834" stop-color="#906b63"/><stop offset=".4170" stop-color="#ac8f8a"/><stop offset=".4447" stop-color="#c0a5a1"/><stop offset=".4862" stop-color="#d1bfbd"/><stop offset=".5158" stop-color="#d5c4c2"/><stop offset=".5553" stop-color="#d4c2c0"/><stop offset=".5751" stop-color="#cdb8b5"/><stop offset=".6028" stop-color="#bba09c"/><stop offset=".6186" stop-color="#ac8f8a"/><stop offset=".6443" stop-color="#906b63"/><stop offset=".6621" stop-color="#845a50"/><stop offset=".6818" stop-color="#957058"/><stop offset=".6976" stop-color="#bf9f70"/><stop offset=".7213" stop-color="#e4d794"/><stop offset=".7312" stop-color="#f0e8a0"/><stop offset=".7530" stop-color="#e8e8a0"/><stop offset=".7688" stop-color="#c9e199"/><stop offset=".7885" stop-color="#9ed487"/><stop offset=".7984" stop-color="#86cd7a"/><stop offset=".8043" stop-color="#78c870"/><stop offset=".8241" stop-color="#67c467"/><stop offset=".8656" stop-color="#5ebe5e"/><stop offset=".8696" stop-color="#5cbc5c"/><stop offset=".8913" stop-color="#59aa85"/><stop offset=".9091" stop-color="#51939e"/><stop offset=".9170" stop-color="#508baf"/><stop offset=".9249" stop-color="#5088c2"/><stop offset=".9427" stop-color="#5081c1"/><stop offset=".9763" stop-color="#4d75b6"/><stop offset="1.0000" stop-color="#4a6db7"/></linearGradient>
<linearGradient id="g63" x1="0" y1="0" x2="0" y2="1"><stop offset=".0000" stop-color="#5086c3"/><stop offset=".0316" stop-color="#5088c4"/><stop offset=".0514" stop-color="#508ea6"/><stop offset=".0771" stop-color="#57a58b"/><stop offset=".0988" stop-color="#5cb66d"/><stop offset=".1087" stop-color="#5cbc5c"/><stop offset=".1522" stop-color="#6ac569"/><stop offset=".1779" stop-color="#7dca73"/><stop offset=".2016" stop-color="#97d284"/><stop offset=".2391" stop-color="#cae29a"/><stop offset=".2688" stop-color="#e9e8a0"/><stop offset=".2846" stop-color="#f0e8a0"/><stop offset=".2984" stop-color="#ddcc8d"/><stop offset=".3182" stop-color="#ba996c"/><stop offset=".3360" stop-color="#957058"/><stop offset=".3597" stop-color="#845a50"/><stop offset=".3834" stop-color="#916c64"/><stop offset=".4170" stop-color="#ad908b"/><stop offset=".4486" stop-color="#c2a9a5"/><stop offset=".4862" stop-color="#d2c0be"/><stop offset=".5158" stop-color="#d6c5c3"/><stop offset=".5573" stop-color="#d4c3c1"/><stop offset=".5771" stop-color="#cdb9b6"/><stop offset=".6047" stop-color="#bca09c"/><stop offset=".6206" stop-color="#ac8f8b"/><stop offset=".6462" stop-color="#916c64"/><stop offset=".6640" stop-color="#845a51"/><stop offset=".6838" stop-color="#946f58"/><stop offset=".7016" stop-color="#c2a372"/><stop offset=".7233" stop-color="#e4d694"/><stop offset=".7332" stop-color="#f0e8a0"/><stop offset=".7569" stop-color="#e6e8a0"/><stop offset=".7727" stop-color="#c7e098"/><stop offset=".7945" stop-color="#98d284"/><stop offset=".8063" stop-color="#7ac971"/><stop offset=".8261" stop-color="#68c468"/><stop offset=".8676" stop-color="#5ebe5e"/><stop offset=".8715" stop-color="#5cbc5c"/><stop offset=".8794" stop-color="#5cb76b"/><stop offset=".8972" stop-color="#57a58b"/><stop offset=".9111" stop-color="#51939f"/><stop offset=".9170" stop-color="#508cab"/><stop offset=".9269" stop-color="#5088c3"/><stop offset=".9605" stop-color="#4f7bbb"/><stop offset=".9802" stop-color="#4d75b6"/><stop offset="1.0000" stop-color="#4a6eb7"/></linearGradient>
<linearGradient id="g64" x1="0" y1="0" x2="0" y2="1"><stop offset=".0000" stop-color="#5086c3"/><stop offset=".0316" stop-color="#5088c4"/><stop offset=".0494" stop-color="#508da7"/><stop offset=".0751" stop-color="#56a38d"/><stop offset=".0968" stop-color="#5cb56f"/><stop offset=".1067" stop-color="#5cbc5d"/><stop offset=".1423" stop-color="#66c366"/><stop offset=".1719" stop-color="#78c870"/><stop offset=".2016" stop-color="#98d284"/><stop offset=".2372" stop-color="#c8e199"/><stop offset=".2648" stop-color="#e6e8a0"/><stop offset=".2846" stop-color="#efe69f"/><stop offset=".2984" stop-color="#dcca8c"/><stop offset=".3162" stop-color="#bc9c6e"/><stop offset=".3360" stop-color="#946f58"/><stop offset=".3577" stop-color="#855b50"/><stop offset=".3814" stop-color="#906b63"/><stop offset=".4130" stop-color="#ab8d88"/><stop offset=".4328" stop-color="#ba9e9a"/><stop offset=".4684" stop-color="#ccb7b5"/><stop offset=".4921" stop-color="#d4c2c0"/><stop offset=".5178" stop-color="#d6c6c4"/><stop offset=".5573" stop-color="#d5c4c2"/><stop offset=".5751" stop-color="#cfbcba"/><stop offset=".6087" stop-color="#ba9f9b"/><stop offset=".6245" stop-color="#ab8e88"/><stop offset=".6542" stop-color="#8c655d"/><stop offset=".6680" stop-color="#855b50"/><stop offset=".6877" stop-color="#977359"/><stop offset=".7036" stop-color="#c1a271"/><stop offset=".7253" stop-color="#e3d593"/><stop offset=".7352" stop-color="#f0e8a0"/><stop offset=".7589" stop-color="#e7e8a0"/><stop offset=".7747" stop-color="#c8e199"/><stop offset=".7945" stop-color="#9ed487"/><stop offset=".8063" stop-color="#82cb77"/><stop offset=".8103" stop-color="#78c870"/><stop offset=".8300" stop-color="#68c468"/><stop offset=".8696" stop-color="#5ebe5e"/><stop offset=".8755" stop-color="#5cbb5e"/><stop offset=".8933" stop-color="#59ac81"/><stop offset=".9130" stop-color="#51929f"/><stop offset=".9190" stop-color="#508cab"/><stop offset=".9289" stop-color="#5088c4"/><stop offset=".9743" stop-color="#4e77b7"/><stop offset="1.0000" stop-color="#4a6fb8"/></linearGradient>
<linearGradient id="g65" x1="0" y1="0" x2="0" y2="1"><stop offset=".0000" stop-color="#5086c3"/><stop offset=".0316" stop-color="#5088c4"/><stop offset=".0494" stop-color="#508da7"/><stop offset=".0751" stop-color="#56a48c"/><stop offset=".0968" stop-color="#5cb56e"/><stop offset=".1067" stop-color="#5cbc5c"/><stop offset=".1502" stop-color="#69c469"/><stop offset=".1779" stop-color="#7eca74"/><stop offset=".2016" stop-color="#99d284"/><stop offset=".2391" stop-color="#cce29a"/><stop offset=".2688" stop-color="#e9e8a0"/><stop offset=".2826" stop-color="#f0e8a0"/><stop offset=".2964" stop-color="#dece8e"/><stop offset=".3162" stop-color="#bb9a6d"/><stop offset=".3340" stop-color="#967159"/><stop offset=".3577" stop-color="#845a50"/><stop offset=".3814" stop-color="#916c64"/><stop offset=".4150" stop-color="#ad908c"/><stop offset=".4466" stop-color="#c3a9a6"/><stop offset=".4842" stop-color="#d3c1bf"/><stop offset=".5138" stop-color="#d7c7c5"/><stop offset=".5593" stop-color="#d5c5c3"/><stop offset=".5791" stop-color="#cfbcb9"/><stop offset=".6107" stop-color="#bba09c"/><stop offset=".6265" stop-color="#ac8f89"/><stop offset=".6561" stop-color="#8d665e"/><stop offset=".6700" stop-color="#845a50"/><stop offset=".6897" stop-color="#967159"/><stop offset=".7055" stop-color="#c1a171"/><stop offset=".7273" stop-color="#e3d493"/><stop offset=".7372" stop-color="#efe79f"/><stop offset=".7609" stop-color="#e8e8a0"/><stop offset=".7787" stop-color="#c5e098"/><stop offset=".8004" stop-color="#98d284"/><stop offset=".8142" stop-color="#77c870"/><stop offset=".8340" stop-color="#67c467"/><stop offset=".8735" stop-color="#5dbd5d"/><stop offset=".8775" stop-color="#5cbc5d"/><stop offset=".8953" stop-color="#59ac81"/><stop offset=".9150" stop-color="#5192a0"/><stop offset=".9209" stop-color="#508bac"/><stop offset=".9308" stop-color="#5088c4"/><stop offset=".9842" stop-color="#4d75b6"/><stop offset="1.0000" stop-color="#4a70b8"/></linearGradient>
<linearGradient id="g66" x1="0" y1="0" x2="0" y2="1"><stop offset=".0000" stop-color="#5086c3"/><stop offset=".0336" stop-color="#5088c3"/><stop offset=".0514" stop-color="#508da7"/><stop offset=".0771" stop-color="#56a48c"/><stop offset=".0988" stop-color="#5cb56f"/><stop offset=".1087" stop-color="#5cbc5c"/><stop offset=".1522" stop-color="#6ac469"/><stop offset=".1779" stop-color="#7dca74"/><stop offset=".2016" stop-color="#98d284"/><stop offset=".2372" stop-color="#c9e199"/><stop offset=".2668" stop-color="#e9e8a0"/><stop offset=".2826" stop-color="#f0e8a0"/><stop offset=".2964" stop-color="#ddcc8d"/><stop offset=".3162" stop-color="#ba996c"/><stop offset=".3340" stop-color="#957058"/><stop offset=".3577" stop-color="#845b51"/><stop offset=".3794" stop-color="#906b63"/><stop offset=".4111" stop-color="#ab8e88"/><stop offset=".4289" stop-color="#b99d99"/><stop offset=".4585" stop-color="#c9b3b0"/><stop offset=".4862" stop-color="#d4c2c0"/><stop offset=".5158" stop-color="#d8c8c6"/><stop offset=".5593" stop-color="#d6c6c4"/><stop offset=".5791" stop-color="#d0bdbb"/><stop offset=".6126" stop-color="#bba09c"/><stop offset=".6285" stop-color="#ac8f8a"/><stop offset=".6542" stop-color="#906b63"/><stop offset=".6719" stop-color="#845a50"/><stop offset=".6917" stop-color="#967158"/><stop offset=".7075" stop-color="#c0a170"/><stop offset=".7292" stop-color="#e3d493"/><stop offset=".7391" stop-color="#efe79f"/><stop offset=".7628" stop-color="#e8e8a0"/><stop offset=".7787" stop-color="#c9e199"/><stop offset=".8004" stop-color="#9bd386"/><stop offset=".8142" stop-color="#79c871"/><stop offset=".8340" stop-color="#68c468"/><stop offset=".8735" stop-color="#5ebe5e"/><stop offset=".8775" stop-color="#5cbc5c"/><stop offset=".8972" stop-color="#59aa84"/><stop offset=".9150" stop-color="#51929f"/><stop offset=".9209" stop-color="#508cab"/><stop offset=".9308" stop-color="#5088c4"/><stop offset=".9862" stop-color="#4d75b6"/><stop offset="1.0000" stop-color="#4a71b8"/></linearGradient>
<linearGradient id="g67" x1="0" y1="0" x2="0" y2="1"><stop offset=".0000" stop-color="#5086c3"/><stop offset=".0336" stop-color="#5088c4"/><stop offset=".0553" stop-color="#508ea5"/><stop offset=".0810" stop-color="#57a58b"/><stop offset=".1028" stop-color="#5cb66c"/><stop offset=".1107" stop-color="#5cbc5d"/><stop offset=".1423" stop-color="#65c265"/><stop offset=".1621" stop-color="#70c66c"/><stop offset=".1798" stop-color="#7eca74"/><stop offset=".2036" stop-color="#99d285"/><stop offset=".2391" stop-color="#cbe29a"/><stop offset=".2668" stop-color="#e9e8a0"/><stop offset=".2826" stop-color="#efe79f"/><stop offset=".2964" stop-color="#dcca8c"/><stop offset=".3142" stop-color="#bc9c6e"/><stop offset=".3340" stop-color="#946f58"/><stop offset=".3557" stop-color="#845a50"/><stop offset=".3794" stop-color="#916c64"/><stop offset=".4111" stop-color="#ac8f8a"/><stop offset=".4387" stop-color="#c0a6a2"/><stop offset=".4802" stop-color="#d3c1bf"/><stop offset=".5138" stop-color="#d8c8c7"/><stop offset=".5593" stop-color="#d7c7c5"/><stop offset=".5810" stop-color="#d0bebb"/><stop offset=".6146" stop-color="#bba09c"/><stop offset=".6304" stop-color="#ac8f8a"/><stop offset=".6561" stop-color="#906b63"/><stop offset=".6739" stop-color="#845a50"/><stop offset=".6937" stop-color="#967158"/><stop offset=".7095" stop-color="#c0a170"/><stop offset=".7312" stop-color="#e3d493"/><stop offset=".7411" stop-color="#efe79f"/><stop offset=".7648" stop-color="#e8e8a0"/><stop offset=".7806" stop-color="#c9e199"/><stop offset=".8004" stop-color="#9ed487"/><stop offset=".8123" stop-color="#82cb76"/><stop offset=".8162" stop-color="#78c870"/><stop offset=".8360" stop-color="#68c468"/><stop offset=".8735" stop-color="#5ebe5e"/><stop offset=".8775" stop-color="#5cbc5c"/><stop offset=".8854" stop-color="#5cb66c"/><stop offset=".9012" stop-color="#57a68a"/><stop offset=".9150" stop-color="#51929f"/><stop offset=".9209" stop-color="#508cab"/><stop offset=".9308" stop-color="#5088c4"/><stop offset=".9862" stop-color="#4d75b6"/><stop offset="1.0000" stop-color="#4b71b8"/></linearGradient>
<linearGradient id="g68" x1="0" y1="0" x2="0" y2="1"><stop offset=".0000" stop-color="#5086c3"/><stop offset=".0356" stop-color="#5088c3"/><stop offset=".0573" stop-color="#508ea6"/><stop offset=".0830" stop-color="#57a58b"/><stop offset=".1047" stop-color="#5cb66d"/><stop offset=".1146" stop-color="#5cbc5c"/><stop offset=".1561" stop-color="#6ac569"/><stop offset=".1818" stop-color="#7fca75"/><stop offset=".2036" stop-color="#98d284"/><stop offset=".2391" stop-color="#cbe29a"/><stop offset=".2668" stop-color="#e9e8a0"/><stop offset=".2806" stop-color="#f0e8a0"/><stop offset=".2945" stop-color="#dfce8f"/><stop offset=".3142" stop-color="#ba9a6d"/><stop offset=".3320" stop-color="#957058"/><stop offset=".3557" stop-color="#845b51"/><stop offset=".3775" stop-color="#906b63"/><stop offset=".4091" stop-color="#ac8e89"/><stop offset=".4289" stop-color="#bb9f9b"/><stop offset=".4783" stop-color="#d3c1bf"/><stop offset=".5138" stop-color="#d9c9c8"/><stop offset=".5613" stop-color="#d7c7c6"/><stop offset=".5830" stop-color="#d1bebc"/><stop offset=".6166" stop-color="#bba09c"/><stop offset=".6324" stop-color="#ac8f8a"/><stop offset=".6581" stop-color="#906b63"/><stop offset=".6759" stop-color="#845a50"/><stop offset=".6957" stop-color="#967158"/><stop offset=".7115" stop-color="#c0a170"/><stop offset=".7332" stop-color="#e3d493"/><stop offset=".7431" stop-color="#efe79f"/><stop offset=".7668" stop-color="#e8e8a0"/><stop offset=".7826" stop-color="#c8e199"/><stop offset=".8024" stop-color="#9dd387"/><stop offset=".8123" stop-color="#85cc79"/><stop offset=".8182" stop-color="#77c870"/><stop offset=".8360" stop-color="#68c468"/><stop offset=".8755" stop-color="#5dbd5d"/><stop offset=".8794" stop-color="#5cbb5e"/><stop offset=".8972" stop-color="#59ab83"/><stop offset=".9150" stop-color="#51929f"/><stop offset=".9209" stop-color="#508cab"/><stop offset=".9308" stop-color="#5088c4"/><stop offset=".9862" stop-color="#4d75b6"/><stop offset="1.0000" stop-color="#4b71b8"/></linearGradient>
<linearGradient id="g69" x1="0" y1="0" x2="0" y2="1"><stop offset=".0000" stop-color="#5086c3"/><stop offset=".0375" stop-color="#5088c4"/><stop offset=".0593" stop-color="#508da6"/><stop offset=".0850" stop-color="#57a48c"/><stop offset=".1067" stop-color="#5cb56e"/><stop offset=".1166" stop-color="#5cbc5c"/><stop offset=".1561" stop-color="#69c468"/><stop offset=".1818" stop-color="#7eca74"/><stop offset=".2036" stop-color="#97d284"/><stop offset=".2391" stop-color="#cbe29a"/><stop offset=".2668" stop-color="#e9e8a0"/><stop offset=".2806" stop-color="#f0e8a0"/><stop offset=".2945" stop-color="#ddcc8d"/><stop offset=".3123" stop-color="#bd9d6e"/><stop offset=".3320" stop-color="#946f58"/><stop offset=".3538" stop-color="#845a50"/><stop offset=".3755" stop-color="#906a62"/><stop offset=".4071" stop-color="#ab8e88"/><stop offset=".4249" stop-color="#b99d99"/><stop offset=".4545" stop-color="#c9b3b0"/><stop offset=".4802" stop-color="#d4c3c1"/><stop offset=".5138" stop-color="#dacac9"/><stop offset=".5613" stop-color="#d8c8c7"/><stop offset=".5850" stop-color="#d1bebc"/><stop offset=".6186" stop-color="#bba09c"/><stop offset=".6344" stop-color="#ac8f8a"/><stop offset=".6581" stop-color="#926e66"/><stop offset=".6680" stop-color="#8a635a"/><stop offset=".6779" stop-color="#845a50"/><stop offset=".6976" stop-color="#957158"/><stop offset=".7134" stop-color="#c0a070"/><stop offset=".7352" stop-color="#e3d493"/><stop offset=".7451" stop-color="#efe79f"/><stop offset=".7688" stop-color="#e8e8a0"/><stop offset=".7846" stop-color="#c7e199"/><stop offset=".8043" stop-color="#9cd386"/><stop offset=".8162" stop-color="#7eca74"/><stop offset=".8202" stop-color="#76c86f"/><stop offset=".8379" stop-color="#68c468"/><stop offset=".8755" stop-color="#5ebe5e"/><stop offset=".8794" stop-color="#5cbc5d"/><stop offset=".8972" stop-color="#59ab83"/><stop offset=".9170" stop-color="#5190a3"/><stop offset=".9249" stop-color="#508ab5"/><stop offset=".9308" stop-color="#5088c4"/><stop offset=".9881" stop-color="#4d75b6"/><stop offset="1.0000" stop-color="#4b72b7"/></linearGradient>
<linearGradient id="g70" x1="0" y1="0" x2="0" y2="1"><stop offset=".0000" stop-color="#5086c3"/><stop offset=".0395" stop-color="#5088c4"/><stop offset=".0613" stop-color="#508da6"/><stop offset=".0870" stop-color="#57a48c"/><stop offset=".1087" stop-color="#5cb66e"/><stop offset=".1186" stop-color="#5cbc5c"/><stop offset=".1581" stop-color="#69c469"/><stop offset=".1818" stop-color="#7cc973"/><stop offset=".2055" stop-color="#99d284"/><stop offset=".2391" stop-color="#cae29a"/><stop offset=".2668" stop-color="#e9e8a0"/><stop offset=".2806" stop-color="#f0e8a0"/><stop offset=".2945" stop-color="#decc8e"/><stop offset=".3142" stop-color="#b9986c"/><stop offset=".3320" stop-color="#946f58"/><stop offset=".3538" stop-color="#845a50"/><stop offset=".3755" stop-color="#906a62"/><stop offset=".4071" stop-color="#ab8e89"/><stop offset=".4249" stop-color="#b99e9a"/><stop offset=".4526" stop-color="#c8b2af"/><stop offset=".4802" stop-color="#d4c3c1"/><stop offset=".5138" stop-color="#dacbc9"/><stop offset=".5613" stop-color="#d8c9c7"/><stop offset=".5850" stop-color="#d1bebc"/><stop offset=".6186" stop-color="#bba09c"/><stop offset=".6344" stop-color="#ac8f8a"/><stop offset=".6581" stop-color="#926e66"/><stop offset=".6700" stop-color="#896158"/><stop offset=".6779" stop-color="#845a50"/><stop offset=".6976" stop-color="#967159"/><stop offset=".7134" stop-color="#c1a171"/><stop offset=".7352" stop-color="#e3d593"/><stop offset=".7451" stop-color="#f0e8a0"/><stop offset=".7688" stop-color="#e7e8a0"/><stop offset=".7846" stop-color="#c6e098"/><stop offset=".8043" stop-color="#9bd385"/><stop offset=".8182" stop-color="#78c870"/><stop offset=".8379" stop-color="#67c467"/><stop offset=".8755" stop-color="#5dbd5d"/><stop offset=".8794" stop-color="#5cbb5e"/><stop offset=".8953" stop-color="#59ac81"/><stop offset=".9170" stop-color="#508ea5"/><stop offset=".9289" stop-color="#5088c1"/><stop offset=".9328" stop-color="#5087c3"/><stop offset=".9862" stop-color="#4d75b6"/><stop offset="1.0000" stop-color="#4b71b8"/></linearGradient>
<linearGradient id="g71" x1="0" y1="0" x2="0" y2="1"><stop offset=".0000" stop-color="#5086c3"/><stop offset=".0415" stop-color="#5088c3"/><stop offset=".0632" stop-color="#508da6"/><stop offset=".0889" stop-color="#57a48c"/><stop offset=".1107" stop-color="#5cb66e"/><stop offset=".1206" stop-color="#5cbc5c"/><stop offset=".1601" stop-color="#6ac469"/><stop offset=".1838" stop-color="#7dca73"/><stop offset=".2055" stop-color="#97d284"/><stop offset=".2411" stop-color="#cce39b"/><stop offset=".2668" stop-color="#e9e8a0"/><stop offset=".2806" stop-color="#f0e8a0"/><stop offset=".2945" stop-color="#decd8e"/><stop offset=".3142" stop-color="#ba996c"/><stop offset=".3320" stop-color="#957058"/><stop offset=".3538" stop-color="#845b50"/><stop offset=".3755" stop-color="#8f6a62"/><stop offset=".4071" stop-color="#ab8e89"/><stop offset=".4249" stop-color="#b99e9a"/><stop offset=".4526" stop-color="#c9b2af"/><stop offset=".4783" stop-color="#d4c2c1"/><stop offset=".5138" stop-color="#dacbca"/><stop offset=".5613" stop-color="#d9c9c7"/><stop offset=".5850" stop-color="#d1bebc"/><stop offset=".6186" stop-color="#bba09c"/><stop offset=".6344" stop-color="#ac8f8a"/><stop offset=".6640" stop-color="#8c665d"/><stop offset=".6779" stop-color="#855b50"/><stop offset=".6957" stop-color="#946f58"/><stop offset=".7055" stop-color="#ad8b66"/><stop offset=".7134" stop-color="#c2a272"/><stop offset=".7352" stop-color="#e4d694"/><stop offset=".7451" stop-color="#f0e8a0"/><stop offset=".7668" stop-color="#e8e8a0"/><stop offset=".7826" stop-color="#c9e199"/><stop offset=".8024" stop-color="#9ed387"/><stop offset=".8123" stop-color="#86cd79"/><stop offset=".8182" stop-color="#77c870"/><stop offset=".8360" stop-color="#68c468"/><stop offset=".8735" stop-color="#5ebe5e"/><stop offset=".8775" stop-color="#5cbc5c"/><stop offset=".8953" stop-color="#59ab82"/><stop offset=".9150" stop-color="#5190a3"/><stop offset=".9229" stop-color="#508ab5"/><stop offset=".9289" stop-color="#5088c4"/><stop offset=".9862" stop-color="#4d75b6"/><stop offset="1.0000" stop-color="#4b71b8"/></linearGradient>
<linearGradient id="g72" x1="0" y1="0" x2="0" y2="1"><stop offset=".0000" stop-color="#5086c3"/><stop offset=".0435" stop-color="#5088c3"/><stop offset=".0652" stop-color="#508ea6"/><stop offset=".0909" stop-color="#57a58b"/><stop offset=".1126" stop-color="#5cb66d"/><stop offset=".1225" stop-color="#5cbc5c"/><stop offset=".1621" stop-color="#6ac569"/><stop offset=".1858" stop-color="#7eca74"/><stop offset=".2075" stop-color="#99d284"/><stop offset=".2411" stop-color="#cce29a"/><stop offset=".2668" stop-color="#e9e8a0"/><stop offset=".2806" stop-color="#f0e8a0"/><stop offset=".2945" stop-color="#dece8e"/><stop offset=".3142" stop-color="#ba9a6d"/><stop offset=".3320" stop-color="#957058"/><stop offset=".3538" stop-color="#855b50"/><stop offset=".3755" stop-color="#8f6a62"/><stop offset=".4071" stop-color="#ab8e89"/><stop offset=".4229" stop-color="#b89c98"/><stop offset=".4466" stop-color="#c6aeab"/><stop offset=".4783" stop-color="#d4c3c1"/><stop offset=".5138" stop-color="#dacbca"/><stop offset=".5613" stop-color="#d9c9c8"/><stop offset=".5850" stop-color="#d1bfbc"/><stop offset=".6186" stop-color="#bba09c"/><stop offset=".6344" stop-color="#ac8e89"/><stop offset=".6640" stop-color="#8c655d"/><stop offset=".6759" stop-color="#845b51"/><stop offset=".6957" stop-color="#956f58"/><stop offset=".7134" stop-color="#c3a473"/><stop offset=".7352" stop-color="#e5d795"/><stop offset=".7451" stop-color="#f0e8a0"/><stop offset=".7668" stop-color="#e8e8a0"/><stop offset=".7826" stop-color="#c8e199"/><stop offset=".8024" stop-color="#9cd386"/><stop offset=".8142" stop-color="#7fca74"/><stop offset=".8182" stop-color="#77c86f"/><stop offset=".8360" stop-color="#68c468"/><stop offset=".8735" stop-color="#5dbd5d"/><stop offset=".8775" stop-color="#5cbb5e"/><stop offset=".8933" stop-color="#59ac80"/><stop offset=".9150" stop-color="#508fa5"/><stop offset=".9269" stop-color="#5088c1"/><stop offset=".9289" stop-color="#5088c4"/><stop offset=".9862" stop-color="#4d75b6"/><stop offset="1.0000" stop-color="#4b71b8"/></linearGradient>
<linearGradient id="g73" x1="0" y1="0" x2="0" y2="1"><stop offset=".0000" stop-color="#5086c3"/><stop offset=".0455" stop-color="#5088c3"/><stop offset=".0672" stop-color="#508ea6"/><stop offset=".0929" stop-color="#57a58b"/><stop offset=".1146" stop-color="#5cb66d"/><stop offset=".1245" stop-color="#5cbc5c"/><stop offset=".1621" stop-color="#69c469"/><stop offset=".1858" stop-color="#7dca73"/><stop offset=".2075" stop-color="#98d284"/><stop offset=".2411" stop-color="#cbe29a"/><stop offset=".2668" stop-color="#e9e8a0"/><stop offset=".2806" stop-color="#f0e8a0"/><stop offset=".2945" stop-color="#dfce8f"/><stop offset=".3142" stop-color="#bb9a6d"/><stop offset=".3320" stop-color="#957058"/><stop offset=".3557" stop-color="#845b51"/><stop offset=".3775" stop-color="#916c64"/><stop offset=".4091" stop-color="#ad908b"/><stop offset=".4387" stop-color="#c2a9a5"/><stop offset=".4763" stop-color="#d4c2c0"/><stop offset=".5119" stop-color="#dbcbca"/><stop offset=".5613" stop-color="#d9c9c8"/><stop offset=".5850" stop-color="#d1bfbd"/><stop offset=".6186" stop-color="#bba09c"/><stop offset=".6344" stop-color="#ab8e89"/><stop offset=".6640" stop-color="#8c655c"/><stop offset=".6759" stop-color="#845a50"/><stop offset=".6957" stop-color="#957058"/><stop offset=".7115" stop-color="#c0a070"/><stop offset=".7332" stop-color="#e3d493"/><stop offset=".7431" stop-color="#efe79f"/><stop offset=".7668" stop-color="#e7e8a0"/><stop offset=".7826" stop-color="#c6e098"/><stop offset=".8024" stop-color="#9bd385"/><stop offset=".8162" stop-color="#78c870"/><stop offset=".8360" stop-color="#67c467"/><stop offset=".8715" stop-color="#5ebe5e"/><stop offset=".8755" stop-color="#5cbc5c"/><stop offset=".8933" stop-color="#59ab82"/><stop offset=".9150" stop-color="#508da6"/><stop offset=".9269" stop-color="#5088c3"/><stop offset=".9743" stop-color="#4e78b8"/><stop offset=".9941" stop-color="#4c72b7"/><stop offset="1.0000" stop-color="#4a71b8"/></linearGradient>
<linearGradient id="g74" x1="0" y1="0" x2="0" y2="1"><stop offset=".0000" stop-color="#5086c3"/><stop offset=".0474" stop-color="#5088c3"/><stop offset=".0692" stop-color="#508ea6"/><stop offset=".0949" stop-color="#57a58b"/><stop offset=".1166" stop-color="#5cb66d"/><stop offset=".1265" stop-color="#5cbc5c"/><stop offset=".1640" stop-color="#69c469"/><stop offset=".1877" stop-color="#7eca74"/><stop offset=".2075" stop-color="#96d283"/><stop offset=".2411" stop-color="#cae29a"/><stop offset=".2668" stop-color="#e9e8a0"/><stop offset=".2806" stop-color="#efe8a0"/><stop offset=".2885" stop-color="#e7db97"/><stop offset=".2984" stop-color="#d8c488"/><stop offset=".3142" stop-color="#bb9b6d"/><stop offset=".3320" stop-color="#967158"/><stop offset=".3557" stop-color="#845a50"/><stop offset=".3775" stop-color="#916c64"/><stop offset=".4091" stop-color="#ad908b"/><stop offset=".4387" stop-color="#c2a9a5"/><stop offset=".4763" stop-color="#d4c2c0"/><stop offset=".5119" stop-color="#dbcccb"/><stop offset=".5593" stop-color="#d9cac9"/><stop offset=".5850" stop-color="#d1bfbd"/><stop offset=".6186" stop-color="#bba09c"/><stop offset=".6344" stop-color="#ab8e89"/><stop offset=".6621" stop-color="#8d665e"/><stop offset=".6759" stop-color="#845a50"/><stop offset=".6957" stop-color="#967259"/><stop offset=".7115" stop-color="#c1a271"/><stop offset=".7332" stop-color="#e4d594"/><stop offset=".7431" stop-color="#f0e8a0"/><stop offset=".7648" stop-color="#e8e8a0"/><stop offset=".7806" stop-color="#c9e29a"/><stop offset=".8004" stop-color="#9ed487"/><stop offset=".8103" stop-color="#86cd79"/><stop offset=".8162" stop-color="#77c870"/><stop offset=".8340" stop-color="#68c468"/><stop offset=".8715" stop-color="#5ebe5e"/><stop offset=".8755" stop-color="#5cbc5d"/><stop offset=".8933" stop-color="#59aa84"/><stop offset=".9130" stop-color="#508fa4"/><stop offset=".9209" stop-color="#508ab7"/><stop offset=".9269" stop-color="#5088c4"/><stop offset=".9842" stop-color="#4d75b6"/><stop offset="1.0000" stop-color="#4a71b8"/></linearGradient>
<linearGradient id="g75" x1="0" y1="0" x2="0" y2="1"><stop offset=".0000" stop-color="#5086c3"/><stop offset=".0494" stop-color="#5088c3"/><stop offset=".0711" stop-color="#508ea6"/><stop offset=".0968" stop-color="#57a58b"/><stop offset=".1186" stop-color="#5cb66d"/><stop offset=".1285" stop-color="#5cbc5c"/><stop offset=".1660" stop-color="#6ac469"/><stop offset=".1877" stop-color="#7cc973"/><stop offset=".2095" stop-color="#98d284"/><stop offset=".2411" stop-color="#c9e199"/><stop offset=".2668" stop-color="#e8e8a0"/><stop offset=".2826" stop-color="#efe79f"/><stop offset=".2964" stop-color="#dcca8c"/><stop offset=".3142" stop-color="#bc9b6e"/><stop offset=".3320" stop-color="#967159"/><stop offset=".3557" stop-color="#845a50"/><stop offset=".3775" stop-color="#916b63"/><stop offset=".4091" stop-color="#ad908b"/><stop offset=".4387" stop-color="#c2a9a5"/><stop offset=".4763" stop-color="#d4c2c1"/><stop offset=".5119" stop-color="#dbcccb"/><stop offset=".5593" stop-color="#dacac9"/><stop offset=".5850" stop-color="#d1bfbd"/><stop offset=".6186" stop-color="#bba09c"/><stop offset=".6344" stop-color="#ab8e88"/><stop offset=".6621" stop-color="#8d665e"/><stop offset=".6759" stop-color="#855b50"/><stop offset=".6937" stop-color="#946f58"/><stop offset=".7055" stop-color="#b39169"/><stop offset=".7115" stop-color="#c2a372"/><stop offset=".7332" stop-color="#e4d794"/><stop offset=".7431" stop-color="#f0e8a0"/><stop offset=".7648" stop-color="#e8e8a0"/><stop offset=".7806" stop-color="#c8e199"/><stop offset=".8004" stop-color="#9dd386"/><stop offset=".8123" stop-color="#7fca75"/><stop offset=".8162" stop-color="#77c86f"/><stop offset=".8340" stop-color="#68c468"/><stop offset=".8715" stop-color="#5dbd5d"/><stop offset=".8755" stop-color="#5cbb5f"/><stop offset=".8913" stop-color="#59ac81"/><stop offset=".9130" stop-color="#508da6"/><stop offset=".9249" stop-color="#5088c3"/><stop offset=".9664" stop-color="#4f7aba"/><stop offset=".9842" stop-color="#4d75b6"/><stop offset="1.0000" stop-color="#4a70b8"/></linearGradient>
<linearGradient id="g76" x1="0" y1="0" x2="0" y2="1"><stop offset=".0000" stop-color="#5086c3"/><stop offset=".0514" stop-color="#5088c3"/><stop offset=".0731" stop-color="#508ea6"/><stop offset=".0988" stop-color="#57a58b"/><stop offset=".1206" stop-color="#5cb66d"/><stop offset=".1304" stop-color="#5cbc5c"/><stop offset=".1680" stop-color="#6ac569"/><stop offset=".1897" stop-color="#7dca74"/><stop offset=".2095" stop-color="#96d283"/><stop offset=".2411" stop-color="#c8e199"/><stop offset=".2668" stop-color="#e8e8a0"/><stop offset=".2826" stop-color="#efe79f"/><stop offset=".2964" stop-color="#dcca8c"/><stop offset=".3142" stop-color="#bc9c6e"/><stop offset=".3340" stop-color="#946f58"/><stop offset=".3557" stop-color="#845a50"/><stop offset=".3775" stop-color="#906b63"/><stop offset=".4091" stop-color="#ad908b"/><stop offset=".4387" stop-color="#c2a9a5"/><stop offset=".4763" stop-color="#d4c3c1"/><stop offset=".5119" stop-color="#dbcccb"/><stop offset=".5593" stop-color="#dacac9"/><stop offset=".5850" stop-color="#d1bfbd"/><stop offset=".6186" stop-color="#bb9f9b"/><stop offset=".6324" stop-color="#ad908b"/><stop offset=".6561" stop-color="#926d65"/><stop offset=".6680" stop-color="#886057"/><stop offset=".6739" stop-color="#845b51"/><stop offset=".6937" stop-color="#956f58"/><stop offset=".7095" stop-color="#bf9f70"/><stop offset=".7312" stop-color="#e3d493"/><stop offset=".7411" stop-color="#efe79f"/><stop offset=".7648" stop-color="#e7e8a0"/><stop offset=".7806" stop-color="#c7e199"/><stop offset=".8004" stop-color="#9bd386"/><stop offset=".8123" stop-color="#7dca74"/><stop offset=".8142" stop-color="#78c870"/><stop offset=".8340" stop-color="#67c467"/><stop offset=".8696" stop-color="#5ebe5e"/><stop offset=".8735" stop-color="#5cbc5c"/><stop offset=".8913" stop-color="#59ab83"/><stop offset=".9130" stop-color="#508ca8"/><stop offset=".9249" stop-color="#5088c4"/><stop offset=".9822" stop-color="#4d75b6"/><stop offset="1.0000" stop-color="#4a70b8"/></linearGradient>
<linearGradient id="g77" x1="0" y1="0" x2="0" y2="1"><stop offset=".0000" stop-color="#5086c3"/><stop offset=".0534" stop-color="#5088c3"/><stop offset=".0751" stop-color="#508ea5"/><stop offset=".1028" stop-color="#58a789"/><stop offset=".1225" stop-color="#5cb66c"/><stop offset=".1304" stop-color="#5cbb5e"/><stop offset=".1403" stop-color="#5ebe5e"/><stop offset=".1700" stop-color="#6bc569"/><stop offset=".1917" stop-color="#7eca74"/><stop offset=".2115" stop-color="#98d284"/><stop offset=".2431" stop-color="#cbe29a"/><stop offset=".2688" stop-color="#e9e8a0"/><stop offset=".2826" stop-color="#efe79f"/><stop offset=".2964" stop-color="#ddcb8d"/><stop offset=".3142" stop-color="#bd9c6e"/><stop offset=".3340" stop-color="#946f58"/><stop offset=".3557" stop-color="#845a50"/><stop offset=".3775" stop-color="#906b63"/><stop offset=".4091" stop-color="#ad908b"/><stop offset=".4387" stop-color="#c2a9a5"/><stop offset=".4763" stop-color="#d4c3c1"/><stop offset=".5119" stop-color="#dbcccb"/><stop offset=".5593" stop-color="#dacbc9"/><stop offset=".5850" stop-color="#d1bfbd"/><stop offset=".6186" stop-color="#bb9f9b"/><stop offset=".6324" stop-color="#ad908b"/><stop offset=".6561" stop-color="#926d65"/><stop offset=".6739" stop-color="#845a50"/><stop offset=".6937" stop-color="#957058"/><stop offset=".7095" stop-color="#c0a170"/><stop offset=".7312" stop-color="#e3d593"/><stop offset=".7411" stop-color="#f0e8a0"/><stop offset=".7648" stop-color="#e6e8a0"/><stop offset=".7806" stop-color="#c5e098"/><stop offset=".8004" stop-color="#9ad285"/><stop offset=".8142" stop-color="#77c870"/><stop offset=".8340" stop-color="#67c467"/><stop offset=".8696" stop-color="#5dbd5d"/><stop offset=".8735" stop-color="#5cbb5e"/><stop offset=".8893" stop-color="#59ac81"/><stop offset=".9111" stop-color="#508ea6"/><stop offset=".9229" stop-color="#5088c3"/><stop offset=".9625" stop-color="#4f7aba"/><stop offset=".9822" stop-color="#4d75b6"/><stop offset="1.0000" stop-color="#4a70b8"/></linearGradient>
<linearGradient id="g78" x1="0" y1="0" x2="0" y2="1"><stop offset=".0000" stop-color="#5086c3"/><stop offset=".0553" stop-color="#5088c2"/><stop offset=".0771" stop-color="#508ea5"/><stop offset=".1047" stop-color="#58a789"/><stop offset=".1245" stop-color="#5cb66c"/><stop offset=".1324" stop-color="#5cbb5e"/><stop offset=".1502" stop-color="#61c061"/><stop offset=".1719" stop-color="#6bc56a"/><stop offset=".1917" stop-color="#7dca73"/><stop offset=".2115" stop-color="#97d283"/><stop offset=".2411" stop-color="#c7e098"/><stop offset=".2589" stop-color="#dfe69e"/><stop offset=".2688" stop-color="#e9e8a0"/><stop offset=".2826" stop-color="#f0e8a0"/><stop offset=".2964" stop-color="#ddcb8d"/><stop offset=".3142" stop-color="#bd9d6e"/><stop offset=".3340" stop-color="#956f58"/><stop offset=".3557" stop-color="#855b50"/><stop offset=".3775" stop-color="#906b63"/><stop offset=".4091" stop-color="#ad908b"/><stop offset=".4387" stop-color="#c2a9a5"/><stop offset=".4763" stop-color="#d4c3c1"/><stop offset=".5119" stop-color="#dccdcc"/><stop offset=".5593" stop-color="#dacbca"/><stop offset=".5850" stop-color="#d1bfbd"/><stop offset=".6186" stop-color="#bb9f9b"/><stop offset=".6324" stop-color="#ac8f8b"/><stop offset=".6561" stop-color="#916c64"/><stop offset=".6739" stop-color="#845a50"/><stop offset=".6937" stop-color="#977259"/><stop offset=".7095" stop-color="#c1a271"/><stop offset=".7312" stop-color="#e4d694"/><stop offset=".7411" stop-color="#f0e8a0"/><stop offset=".7628" stop-color="#e8e8a0"/><stop offset=".7787" stop-color="#c8e199"/><stop offset=".7984" stop-color="#9dd386"/><stop offset=".8083" stop-color="#84cc78"/><stop offset=".8142" stop-color="#77c86f"/><stop offset=".8320" stop-color="#68c468"/><stop offset=".8676" stop-color="#5ebe5e"/><stop offset=".8715" stop-color="#5cbc5c"/><stop offset=".8893" stop-color="#59ab83"/><stop offset=".9111" stop-color="#508ca8"/><stop offset=".9229" stop-color="#5088c4"/><stop offset=".9802" stop-color="#4d75b6"/><stop offset="1.0000" stop-color="#4a70b8"/></linearGradient>
<linearGradient id="g79" x1="0" y1="0" x2="0" y2="1"><stop offset=".0000" stop-color="#5086c3"/><stop offset=".0553" stop-color="#5088c4"/><stop offset=".0791" stop-color="#508ea5"/><stop offset=".1047" stop-color="#57a58b"/><stop offset=".1265" stop-color="#5cb66c"/><stop offset=".1344" stop-color="#5cbc5d"/><stop offset=".1621" stop-color="#65c365"/><stop offset=".1779" stop-color="#6fc66c"/><stop offset=".1957" stop-color="#80cb76"/><stop offset=".2134" stop-color="#98d284"/><stop offset=".2451" stop-color="#cce39b"/><stop offset=".2688" stop-color="#e9e8a0"/><stop offset=".2826" stop-color="#f0e8a0"/><stop offset=".2964" stop-color="#ddcc8d"/><stop offset=".3162" stop-color="#b9996c"/><stop offset=".3340" stop-color="#957058"/><stop offset=".3577" stop-color="#845b51"/><stop offset=".3775" stop-color="#906a62"/><stop offset=".4091" stop-color="#ad908b"/><stop offset=".4387" stop-color="#c3a9a6"/><stop offset=".4763" stop-color="#d4c3c2"/><stop offset=".5119" stop-color="#dccdcc"/><stop offset=".5593" stop-color="#dacbca"/><stop offset=".5850" stop-color="#d2bfbd"/><stop offset=".6186" stop-color="#ba9f9b"/><stop offset=".6324" stop-color="#ac8f8a"/><stop offset=".6561" stop-color="#916c64"/><stop offset=".6739" stop-color="#855b50"/><stop offset=".6917" stop-color="#946f58"/><stop offset=".7095" stop-color="#c2a372"/><stop offset=".7292" stop-color="#e2d392"/><stop offset=".7391" stop-color="#efe79f"/><stop offset=".7628" stop-color="#e8e8a0"/><stop offset=".7787" stop-color="#c7e199"/><stop offset=".7984" stop-color="#9bd386"/><stop offset=".8103" stop-color="#7eca74"/><stop offset=".8142" stop-color="#76c86f"/><stop offset=".8320" stop-color="#67c467"/><stop offset=".8676" stop-color="#5ebe5e"/><stop offset=".8715" stop-color="#5cbc5d"/><stop offset=".8874" stop-color="#59ac81"/><stop offset=".9091" stop-color="#508ea6"/><stop offset=".9209" stop-color="#5088c2"/><stop offset=".9466" stop-color="#507ebe"/><stop offset=".9802" stop-color="#4d75b6"/><stop offset="1.0000" stop-color="#4a6fb8"/></linearGradient>
<linearGradient id="g80" x1="0" y1="0" x2="0" y2="1"><stop offset=".0000" stop-color="#5086c3"/><stop offset=".0573" stop-color="#5088c4"/><stop offset=".0810" stop-color="#508ea5"/><stop offset=".1067" stop-color="#57a58b"/><stop offset=".1285" stop-color="#5cb66c"/><stop offset=".1364" stop-color="#5cbc5d"/><stop offset=".1640" stop-color="#65c365"/><stop offset=".1818" stop-color="#71c66d"/><stop offset=".1976" stop-color="#81cb76"/><stop offset=".2154" stop-color="#9ad385"/><stop offset=".2470" stop-color="#cfe39b"/><stop offset=".2688" stop-color="#e9e8a0"/><stop offset=".2826" stop-color="#f0e8a0"/><stop offset=".2964" stop-color="#decc8e"/><stop offset=".3162" stop-color="#ba996d"/><stop offset=".3340" stop-color="#957058"/><stop offset=".3577" stop-color="#845a50"/><stop offset=".3775" stop-color="#906a62"/><stop offset=".4091" stop-color="#ad908b"/><stop offset=".4387" stop-color="#c3a9a6"/><stop offset=".4743" stop-color="#d4c3c1"/><stop offset=".5099" stop-color="#dccdcc"/><stop offset=".5593" stop-color="#dacbca"/><stop offset=".5850" stop-color="#d2bfbd"/><stop offset=".6186" stop-color="#ba9f9b"/><stop offset=".6324" stop-color="#ac8f8a"/><stop offset=".6601" stop-color="#8d665e"/><stop offset=".6719" stop-color="#855b51"/><stop offset=".6917" stop-color="#957058"/><stop offset=".7075" stop-color="#c0a070"/><stop offset=".7292" stop-color="#e3d593"/><stop offset=".7391" stop-color="#f0e8a0"/><stop offset=".7628" stop-color="#e6e8a0"/><stop offset=".7787" stop-color="#c6e098"/><stop offset=".7984" stop-color="#9ad385"/><stop offset=".8123" stop-color="#78c870"/><stop offset=".8320" stop-color="#67c467"/><stop offset=".8676" stop-color="#5dbd5d"/><stop offset=".8696" stop-color="#5cbc5c"/><stop offset=".8735" stop-color="#5cb964"/><stop offset=".8893" stop-color="#58a986"/><stop offset=".9071" stop-color="#518fa4"/><stop offset=".9150" stop-color="#508ab6"/><stop offset=".9209" stop-color="#5088c4"/><stop offset=".9783" stop-color="#4d75b6"/><stop offset="1.0000" stop-color="#4a6fb8"/></linearGradient>
<linearGradient id="g81" x1="0" y1="0" x2="0" y2="1"><stop offset=".0000" stop-color="#5086c3"/><stop offset=".0593" stop-color="#5088c4"/><stop offset=".0830" stop-color="#508ea5"/><stop offset=".1087" stop-color="#57a58b"/><stop offset=".1304" stop-color="#5cb66c"/><stop offset=".1383" stop-color="#5cbc5d"/><stop offset=".1680" stop-color="#66c366"/><stop offset=".1917" stop-color="#79c870"/><stop offset=".2154" stop-color="#99d284"/><stop offset=".2451" stop-color="#cae29a"/><stop offset=".2688" stop-color="#e9e8a0"/><stop offset=".2826" stop-color="#f0e8a0"/><stop offset=".2964" stop-color="#decd8e"/><stop offset=".3162" stop-color="#ba9a6d"/><stop offset=".3340" stop-color="#967158"/><stop offset=".3577" stop-color="#845a50"/><stop offset=".3794" stop-color="#916c64"/><stop offset=".4091" stop-color="#ad908b"/><stop offset=".4368" stop-color="#c2a8a4"/><stop offset=".4743" stop-color="#d4c3c1"/><stop offset=".5099" stop-color="#dccecd"/><stop offset=".5593" stop-color="#dbcbca"/><stop offset=".5830" stop-color="#d3c1bf"/><stop offset=".6186" stop-color="#ba9f9b"/><stop offset=".6324" stop-color="#ac8f8a"/><stop offset=".6601" stop-color="#8c665d"/><stop offset=".6719" stop-color="#845a50"/><stop offset=".6917" stop-color="#957058"/><stop offset=".7075" stop-color="#c1a171"/><stop offset=".7292" stop-color="#e4d694"/><stop offset=".7391" stop-color="#f0e8a0"/><stop offset=".7609" stop-color="#e8e8a0"/><stop offset=".7767" stop-color="#c9e199"/><stop offset=".7964" stop-color="#9dd387"/><stop offset=".8063" stop-color="#85cc79"/><stop offset=".8123" stop-color="#77c86f"/><stop offset=".8300" stop-color="#68c468"/><stop offset=".8656" stop-color="#5ebe5e"/><stop offset=".8696" stop-color="#5cbc5c"/><stop offset=".8874" stop-color="#59aa84"/><stop offset=".9071" stop-color="#508ea6"/><stop offset=".9190" stop-color="#5088c2"/><stop offset=".9289" stop-color="#5084c2"/><stop offset=".9783" stop-color="#4d75b6"/><stop offset="1.0000" stop-color="#4a6fb7"/></linearGradient>
<linearGradient id="g82" x1="0" y1="0" x2="0" y2="1"><stop offset=".0000" stop-color="#5086c3"/><stop offset=".0613" stop-color="#5088c4"/><stop offset=".0830" stop-color="#508da6"/><stop offset=".1087" stop-color="#57a48c"/><stop offset=".1304" stop-color="#5cb56e"/><stop offset=".1403" stop-color="#5cbc5c"/><stop offset=".1759" stop-color="#6ac569"/><stop offset=".1957" stop-color="#7cc973"/><stop offset=".2154" stop-color="#97d284"/><stop offset=".2451" stop-color="#cae29a"/><stop offset=".2688" stop-color="#e9e8a0"/><stop offset=".2826" stop-color="#f0e8a0"/><stop offset=".2964" stop-color="#dece8e"/><stop offset=".3162" stop-color="#bb9a6d"/><stop offset=".3340" stop-color="#967159"/><stop offset=".3577" stop-color="#845a50"/><stop offset=".3794" stop-color="#916c64"/><stop offset=".4091" stop-color="#ad908b"/><stop offset=".4368" stop-color="#c2a8a4"/><stop offset=".4743" stop-color="#d4c3c1"/><stop offset=".5099" stop-color="#dccecd"/><stop offset=".5593" stop-color="#dbcccb"/><stop offset=".5830" stop-color="#d3c1bf"/><stop offset=".6186" stop-color="#ba9f9b"/><stop offset=".6324" stop-color="#ab8e89"/><stop offset=".6601" stop-color="#8c655d"/><stop offset=".6719" stop-color="#845a50"/><stop offset=".6917" stop-color="#977259"/><stop offset=".7075" stop-color="#c2a272"/><stop offset=".7292" stop-color="#e4d794"/><stop offset=".7391" stop-color="#f0e8a0"/><stop offset=".7609" stop-color="#e8e8a0"/><stop offset=".7767" stop-color="#c7e199"/><stop offset=".7964" stop-color="#9cd386"/><stop offset=".8083" stop-color="#7eca74"/><stop offset=".8123" stop-color="#76c86f"/><stop offset=".8300" stop-color="#67c467"/><stop offset=".8656" stop-color="#5dbd5d"/><stop offset=".8696" stop-color="#5cbb5e"/><stop offset=".8854" stop-color="#59ab82"/><stop offset=".9071" stop-color="#508da7"/><stop offset=".9190" stop-color="#5088c4"/><stop offset=".9763" stop-color="#4d75b6"/><stop offset="1.0000" stop-color="#4a6fb7"/></linearGradient>
<linearGradient id="g83" x1="0" y1="0" x2="0" y2="1"><stop offset=".0000" stop-color="#5086c3"/><stop offset=".0613" stop-color="#5088c4"/><stop offset=".0830" stop-color="#508da6"/><stop offset=".1087" stop-color="#57a48c"/><stop offset=".1304" stop-color="#5cb66e"/><stop offset=".1403" stop-color="#5cbc5c"/><stop offset=".1739" stop-color="#69c468"/><stop offset=".1957" stop-color="#7cc973"/><stop offset=".2154" stop-color="#97d284"/><stop offset=".2470" stop-color="#cde39b"/><stop offset=".2688" stop-color="#e8e8a0"/><stop offset=".2826" stop-color="#f0e8a0"/><stop offset=".2964" stop-color="#dfcf8f"/><stop offset=".3162" stop-color="#bc9b6e"/><stop offset=".3360" stop-color="#946f58"/><stop offset=".3577" stop-color="#855b50"/><stop offset=".3794" stop-color="#916c64"/><stop offset=".4091" stop-color="#ac8f8a"/><stop offset=".4387" stop-color="#c3a9a6"/><stop offset=".4743" stop-color="#d4c3c1"/><stop offset=".5099" stop-color="#dccecd"/><stop offset=".5593" stop-color="#dbcccb"/><stop offset=".5830" stop-color="#d3c1bf"/><stop offset=".6166" stop-color="#bca09c"/><stop offset=".6324" stop-color="#ab8e88"/><stop offset=".6601" stop-color="#8c655c"/><stop offset=".6719" stop-color="#855b50"/><stop offset=".6897" stop-color="#946f58"/><stop offset=".7075" stop-color="#c2a472"/><stop offset=".7273" stop-color="#e2d492"/><stop offset=".7372" stop-color="#efe79f"/><stop offset=".7609" stop-color="#e7e8a0"/><stop offset=".7767" stop-color="#c6e098"/><stop offset=".7964" stop-color="#9bd385"/><stop offset=".8103" stop-color="#78c870"/><stop offset=".8300" stop-color="#67c467"/><stop offset=".8636" stop-color="#5ebe5e"/><stop offset=".8676" stop-color="#5cbc5c"/><stop offset=".8854" stop-color="#59aa84"/><stop offset=".9071" stop-color="#508ca9"/><stop offset=".9170" stop-color="#5088c2"/><stop offset=".9209" stop-color="#5087c3"/><stop offset=".9763" stop-color="#4d75b6"/><stop offset="1.0000" stop-color="#4a6fb7"/></linearGradient>
<linearGradient id="g84" x1="0" y1="0" x2="0" y2="1"><stop offset=".0000" stop-color="#5086c3"/><stop offset=".0613" stop-color="#5088c3"/><stop offset=".0830" stop-color="#508ea6"/><stop offset=".1087" stop-color="#57a58b"/><stop offset=".1304" stop-color="#5cb66d"/><stop offset=".1403" stop-color="#5cbc5c"/><stop offset=".1739" stop-color="#69c468"/><stop offset=".1957" stop-color="#7dca73"/><stop offset=".2154" stop-color="#97d284"/><stop offset=".2470" stop-color="#cce39b"/><stop offset=".2688" stop-color="#e8e8a0"/><stop offset=".2846" stop-color="#efe69f"/><stop offset=".2984" stop-color="#dcca8c"/><stop offset=".3162" stop-color="#bd9c6e"/><stop offset=".3360" stop-color="#957058"/><stop offset=".3597" stop-color="#845b51"/><stop offset=".3794" stop-color="#906b63"/><stop offset=".4091" stop-color="#ac8f8a"/><stop offset=".4328" stop-color="#bfa5a1"/><stop offset=".4743" stop-color="#d4c3c1"/><stop offset=".5099" stop-color="#dccecd"/><stop offset=".5593" stop-color="#dbcccb"/><stop offset=".5830" stop-color="#d2c1bf"/><stop offset=".6166" stop-color="#bba09c"/><stop offset=".6304" stop-color="#ad908b"/><stop offset=".6542" stop-color="#916b63"/><stop offset=".6700" stop-color="#845b51"/><stop offset=".6897" stop-color="#957058"/><stop offset=".7055" stop-color="#c0a070"/><stop offset=".7273" stop-color="#e3d493"/><stop offset=".7372" stop-color="#f0e7a0"/><stop offset=".7609" stop-color="#e6e8a0"/><stop offset=".7767" stop-color="#c6e098"/><stop offset=".7964" stop-color="#9ad285"/><stop offset=".8103" stop-color="#77c870"/><stop offset=".8281" stop-color="#68c468"/><stop offset=".8636" stop-color="#5ebe5e"/><stop offset=".8676" stop-color="#5cbc5d"/><stop offset=".8834" stop-color="#59ac81"/><stop offset=".9051" stop-color="#508da7"/><stop offset=".9170" stop-color="#5088c4"/><stop offset=".9763" stop-color="#4d75b6"/><stop offset="1.0000" stop-color="#4a6eb7"/></linearGradient>
<linearGradient id="g85" x1="0" y1="0" x2="0" y2="1"><stop offset=".0000" stop-color="#5086c3"/><stop offset=".0613" stop-color="#5088c3"/><stop offset=".0830" stop-color="#508ea6"/><stop offset=".1087" stop-color="#57a58b"/><stop offset=".1304" stop-color="#5cb66d"/><stop offset=".1403" stop-color="#5cbc5c"/><stop offset=".1739" stop-color="#69c468"/><stop offset=".1957" stop-color="#7dca73"/><stop offset=".2154" stop-color="#97d284"/><stop offset=".2470" stop-color="#cce39b"/><stop offset=".2708" stop-color="#e9e8a0"/><stop offset=".2846" stop-color="#efe79f"/><stop offset=".2984" stop-color="#ddcb8d"/><stop offset=".3182" stop-color="#ba996c"/><stop offset=".3360" stop-color="#957058"/><stop offset=".3597" stop-color="#845a50"/><stop offset=".3794" stop-color="#906a62"/><stop offset=".4091" stop-color="#ac8e89"/><stop offset=".4289" stop-color="#bca19d"/><stop offset=".4743" stop-color="#d4c3c1"/><stop offset=".5099" stop-color="#dccecd"/><stop offset=".5573" stop-color="#dbcccb"/><stop offset=".5830" stop-color="#d2c0be"/><stop offset=".6166" stop-color="#bba09c"/><stop offset=".6304" stop-color="#ac8f8a"/><stop offset=".6581" stop-color="#8c665d"/><stop offset=".6700" stop-color="#845a50"/><stop offset=".6897" stop-color="#957058"/><stop offset=".7055" stop-color="#c1a171"/><stop offset=".7273" stop-color="#e3d593"/><stop offset=".7372" stop-color="#f0e8a0"/><stop offset=".7589" stop-color="#e8e8a0"/><stop offset=".7747" stop-color="#c9e199"/><stop offset=".7945" stop-color="#9dd387"/><stop offset=".8043" stop-color="#84cc78"/><stop offset=".8103" stop-color="#77c86f"/><stop offset=".8281" stop-color="#68c468"/><stop offset=".8617" stop-color="#5ebe5e"/><stop offset=".8656" stop-color="#5cbc5c"/><stop offset=".8696" stop-color="#5cb964"/><stop offset=".8854" stop-color="#58a987"/><stop offset=".9032" stop-color="#508ea5"/><stop offset=".9150" stop-color="#5088c1"/><stop offset=".9190" stop-color="#5087c3"/><stop offset=".9743" stop-color="#4d75b6"/><stop offset="1.0000" stop-color="#4a6eb7"/></linearGradient>
<linearGradient id="g86" x1="0" y1="0" x2="0" y2="1"><stop offset=".0000" stop-color="#5086c3"/><stop offset=".0593" stop-color="#5088c4"/><stop offset=".0830" stop-color="#508ea5"/><stop offset=".1087" stop-color="#57a58b"/><stop offset=".1304" stop-color="#5cb66c"/><stop offset=".1383" stop-color="#5cbb5d"/><stop offset=".1640" stop-color="#64c264"/><stop offset=".1798" stop-color="#6ec56b"/><stop offset=".1976" stop-color="#7fca75"/><stop offset=".2154" stop-color="#97d284"/><stop offset=".2470" stop-color="#cce29a"/><stop offset=".2708" stop-color="#e9e8a0"/><stop offset=".2846" stop-color="#f0e8a0"/><stop offset=".2984" stop-color="#decc8e"/><stop offset=".3182" stop-color="#bb9a6d"/><stop offset=".3360" stop-color="#967159"/><stop offset=".3597" stop-color="#845a50"/><stop offset=".3814" stop-color="#916c64"/><stop offset=".4111" stop-color="#ad908b"/><stop offset=".4387" stop-color="#c2a9a5"/><stop offset=".4743" stop-color="#d4c3c1"/><stop offset=".5099" stop-color="#dccecd"/><stop offset=".5573" stop-color="#dbcccb"/><stop offset=".5830" stop-color="#d2c0be"/><stop offset=".6166" stop-color="#ba9f9b"/><stop offset=".6304" stop-color="#ac8f89"/><stop offset=".6581" stop-color="#8c655d"/><stop offset=".6700" stop-color="#845b50"/><stop offset=".6897" stop-color="#977259"/><stop offset=".7055" stop-color="#c1a271"/><stop offset=".7273" stop-color="#e4d694"/><stop offset=".7372" stop-color="#f0e8a0"/><stop offset=".7589" stop-color="#e8e8a0"/><stop offset=".7747" stop-color="#c8e199"/><stop offset=".7945" stop-color="#9cd386"/><stop offset=".8063" stop-color="#7eca74"/><stop offset=".8103" stop-color="#76c86f"/><stop offset=".8281" stop-color="#67c467"/><stop offset=".8617" stop-color="#5ebe5e"/><stop offset=".8656" stop-color="#5cbc5c"/><stop offset=".8834" stop-color="#59aa85"/><stop offset=".9032" stop-color="#508da6"/><stop offset=".9150" stop-color="#5088c3"/><stop offset=".9743" stop-color="#4d75b6"/><stop offset="1.0000" stop-color="#4a6eb7"/></linearGradient>
<linearGradient id="g87" x1="0" y1="0" x2="0" y2="1"><stop offset=".0000" stop-color="#5086c3"/><stop offset=".0593" stop-color="#5088c4"/><stop offset=".0830" stop-color="#508ea5"/><stop offset=".1087" stop-color="#57a68a"/><stop offset=".1304" stop-color="#5cb66c"/><stop offset=".1383" stop-color="#5cbc5d"/><stop offset=".1700" stop-color="#67c367"/><stop offset=".1957" stop-color="#7dca73"/><stop offset=".2154" stop-color="#97d284"/><stop offset=".2470" stop-color="#cce29a"/><stop offset=".2708" stop-color="#e9e8a0"/><stop offset=".2846" stop-color="#f0e8a0"/><stop offset=".2984" stop-color="#decd8e"/><stop offset=".3182" stop-color="#bb9b6d"/><stop offset=".3379" stop-color="#946f58"/><stop offset=".3617" stop-color="#855b51"/><stop offset=".3814" stop-color="#916b63"/><stop offset=".4111" stop-color="#ad908b"/><stop offset=".4387" stop-color="#c2a8a5"/><stop offset=".4763" stop-color="#d5c4c2"/><stop offset=".5099" stop-color="#dccecd"/><stop offset=".5573" stop-color="#dbcccb"/><stop offset=".5830" stop-color="#d2c0be"/><stop offset=".6166" stop-color="#ba9f9b"/><stop offset=".6304" stop-color="#ab8e89"/><stop offset=".6522" stop-color="#916c64"/><stop offset=".6680" stop-color="#855b51"/><stop offset=".6779" stop-color="#8c6454"/><stop offset=".6877" stop-color="#946f58"/><stop offset=".7055" stop-color="#c2a372"/><stop offset=".7273" stop-color="#e4d694"/><stop offset=".7372" stop-color="#f0e8a0"/><stop offset=".7589" stop-color="#e8e8a0"/><stop offset=".7747" stop-color="#c7e199"/><stop offset=".7945" stop-color="#9bd385"/><stop offset=".8083" stop-color="#78c870"/><stop offset=".8261" stop-color="#68c468"/><stop offset=".8617" stop-color="#5ebe5e"/><stop offset=".8656" stop-color="#5cbb5d"/><stop offset=".8794" stop-color="#5aad7e"/><stop offset=".8933" stop-color="#539a96"/><stop offset=".9032" stop-color="#508ca8"/><stop offset=".9150" stop-color="#5088c4"/><stop offset=".9723" stop-color="#4d75b6"/><stop offset="1.0000" stop-color="#4a6eb7"/></linearGradient>
<linearGradient id="g88" x1="0" y1="0" x2="0" y2="1"><stop offset=".0000" stop-color="#5086c3"/><stop offset=".0593" stop-color="#5088c4"/><stop offset=".0830" stop-color="#508fa5"/><stop offset=".1087" stop-color="#57a68a"/><stop offset=".1304" stop-color="#5cb76b"/><stop offset=".1383" stop-color="#5cbc5c"/><stop offset=".1739" stop-color="#69c469"/><stop offset=".1957" stop-color="#7dca73"/><stop offset=".2154" stop-color="#97d284"/><stop offset=".2470" stop-color="#cbe29a"/><stop offset=".2708" stop-color="#e9e8a0"/><stop offset=".2846" stop-color="#f0e8a0"/><stop offset=".3004" stop-color="#dbc98b"/><stop offset=".3182" stop-color="#bc9c6e"/><stop offset=".3379" stop-color="#957058"/><stop offset=".3617" stop-color="#845a50"/><stop offset=".3814" stop-color="#906b63"/><stop offset=".4091" stop-color="#aa8d88"/><stop offset=".4229" stop-color="#b69b97"/><stop offset=".4447" stop-color="#c5ada9"/><stop offset=".4763" stop-color="#d5c3c2"/><stop offset=".5099" stop-color="#dccecd"/><stop offset=".5573" stop-color="#dbcccb"/><stop offset=".5830" stop-color="#d2c0be"/><stop offset=".6146" stop-color="#bca09c"/><stop offset=".6285" stop-color="#ad908b"/><stop offset=".6502" stop-color="#936f67"/><stop offset=".6581" stop-color="#8b645b"/><stop offset=".6680" stop-color="#845a50"/><stop offset=".6877" stop-color="#957058"/><stop offset=".7036" stop-color="#bf9f70"/><stop offset=".7253" stop-color="#e2d392"/><stop offset=".7372" stop-color="#f0e8a0"/><stop offset=".7589" stop-color="#e8e8a0"/><stop offset=".7747" stop-color="#c6e098"/><stop offset=".7945" stop-color="#9ad285"/><stop offset=".8083" stop-color="#77c870"/><stop offset=".8261" stop-color="#68c468"/><stop offset=".8597" stop-color="#5ebe5e"/><stop offset=".8636" stop-color="#5cbc5c"/><stop offset=".8814" stop-color="#59aa84"/><stop offset=".9012" stop-color="#508ea6"/><stop offset=".9130" stop-color="#5088c3"/><stop offset=".9545" stop-color="#4f7aba"/><stop offset=".9743" stop-color="#4d74b7"/><stop offset="1.0000" stop-color="#4a6db7"/></linearGradient>
<linearGradient id="g89" x1="0" y1="0" x2="0" y2="1"><stop offset=".0000" stop-color="#5086c3"/><stop offset=".0593" stop-color="#5088c4"/><stop offset=".0810" stop-color="#508da6"/><stop offset=".1067" stop-color="#57a48c"/><stop offset=".1285" stop-color="#5cb56e"/><stop offset=".1383" stop-color="#5cbc5c"/><stop offset=".1739" stop-color="#69c469"/><stop offset=".1957" stop-color="#7dca73"/><stop offset=".2154" stop-color="#97d284"/><stop offset=".2470" stop-color="#cbe29a"/><stop offset=".2708" stop-color="#e9e8a0"/><stop offset=".2846" stop-color="#f0e8a0"/><stop offset=".3004" stop-color="#dcca8c"/><stop offset=".3202" stop-color="#b9986c"/><stop offset=".3379" stop-color="#957058"/><stop offset=".3617" stop-color="#845a50"/><stop offset=".3814" stop-color="#906a62"/><stop offset=".4111" stop-color="#ac8f8a"/><stop offset=".4348" stop-color="#c0a5a1"/><stop offset=".4763" stop-color="#d5c3c2"/><stop offset=".5099" stop-color="#dccecd"/><stop offset=".5573" stop-color="#dbcccb"/><stop offset=".5810" stop-color="#d3c1bf"/><stop offset=".6146" stop-color="#bba09c"/><stop offset=".6285" stop-color="#ac8f8b"/><stop offset=".6561" stop-color="#8c655d"/><stop offset=".6680" stop-color="#845a50"/><stop offset=".6877" stop-color="#967158"/><stop offset=".7036" stop-color="#c0a070"/><stop offset=".7253" stop-color="#e3d493"/><stop offset=".7352" stop-color="#efe79f"/><stop offset=".7589" stop-color="#e7e8a0"/><stop offset=".7747" stop-color="#c6e098"/><stop offset=".7945" stop-color="#99d284"/><stop offset=".8063" stop-color="#7ac971"/><stop offset=".8261" stop-color="#67c467"/><stop offset=".8597" stop-color="#5ebe5e"/><stop offset=".8636" stop-color="#5cbc5c"/><stop offset=".8794" stop-color="#59ac81"/><stop offset=".9012" stop-color="#508ca8"/><stop offset=".9130" stop-color="#5088c4"/><stop offset=".9704" stop-color="#4d75b6"/><stop offset="1.0000" stop-color="#4a6db7"/></linearGradient>
<linearGradient id="g90" x1="0" y1="0" x2="0" y2="1"><stop offset=".0000" stop-color="#5086c3"/><stop offset=".0593" stop-color="#5088c3"/><stop offset=".0810" stop-color="#508da6"/><stop offset=".1067" stop-color="#57a48c"/><stop offset=".1285" stop-color="#5cb66e"/><stop offset=".1383" stop-color="#5cbc5c"/><stop offset=".1739" stop-color="#69c469"/><stop offset=".1957" stop-color="#7dca73"/><stop offset=".2154" stop-color="#97d283"/><stop offset=".2470" stop-color="#cbe29a"/><stop offset=".2708" stop-color="#e9e8a0"/><stop offset=".2866" stop-color="#efe69f"/><stop offset=".3004" stop-color="#ddcb8d"/><stop offset=".3202" stop-color="#ba996d"/><stop offset=".3379" stop-color="#967159"/><stop offset=".3617" stop-color="#855b50"/><stop offset=".3814" stop-color="#8f6961"/><stop offset=".4111" stop-color="#ac8e89"/><stop offset=".4308" stop-color="#bca19d"/><stop offset=".4743" stop-color="#d4c2c1"/><stop offset=".5079" stop-color="#dccecd"/><stop offset=".5573" stop-color="#dbcccb"/><stop offset=".5810" stop-color="#d3c1bf"/><stop offset=".6146" stop-color="#bba09c"/><stop offset=".6285" stop-color="#ac8f8a"/><stop offset=".6561" stop-color="#8c655d"/><stop offset=".6680" stop-color="#855b50"/><stop offset=".6877" stop-color="#977259"/><stop offset=".7036" stop-color="#c1a271"/><stop offset=".7253" stop-color="#e3d593"/><stop offset=".7352" stop-color="#f0e7a0"/><stop offset=".7589" stop-color="#e6e8a0"/><stop offset=".7747" stop-color="#c5e098"/><stop offset=".7945" stop-color="#98d284"/><stop offset=".8063" stop-color="#78c870"/><stop offset=".8261" stop-color="#67c467"/><stop offset=".8597" stop-color="#5dbd5d"/><stop offset=".8636" stop-color="#5cbb5e"/><stop offset=".8775" stop-color="#5aad7f"/><stop offset=".9012" stop-color="#508caa"/><stop offset=".9111" stop-color="#5088c2"/><stop offset=".9209" stop-color="#5084c2"/><stop offset=".9704" stop-color="#4d75b6"/><stop offset="1.0000" stop-color="#4a6db7"/></linearGradient>
<linearGradient id="g91" x1="0" y1="0" x2="0" y2="1"><stop offset=".0000" stop-color="#5086c3"/><stop offset=".0593" stop-color="#5088c3"/><stop offset=".0810" stop-color="#508ea6"/><stop offset=".1067" stop-color="#57a58b"/><stop offset=".1285" stop-color="#5cb66d"/><stop offset=".1383" stop-color="#5cbc5c"/><stop offset=".1739" stop-color="#6ac469"/><stop offset=".1957" stop-color="#7dca73"/><stop offset=".2154" stop-color="#97d283"/><stop offset=".2451" stop-color="#c7e199"/><stop offset=".2668" stop-color="#e4e79f"/><stop offset=".2787" stop-color="#ede8a0"/><stop offset=".2866" stop-color="#efe79f"/><stop offset=".3004" stop-color="#ddcc8d"/><stop offset=".3202" stop-color="#bb9a6d"/><stop offset=".3399" stop-color="#946f58"/><stop offset=".3636" stop-color="#845a51"/><stop offset=".3834" stop-color="#916b63"/><stop offset=".4130" stop-color="#ad908b"/><stop offset=".4407" stop-color="#c2a9a6"/><stop offset=".4763" stop-color="#d4c3c2"/><stop offset=".5099" stop-color="#dccecd"/><stop offset=".5573" stop-color="#dbcccb"/><stop offset=".5810" stop-color="#d3c1bf"/><stop offset=".6146" stop-color="#ba9f9b"/><stop offset=".6285" stop-color="#ab8e89"/><stop offset=".6502" stop-color="#916c64"/><stop offset=".6660" stop-color="#845b51"/><stop offset=".6858" stop-color="#946f58"/><stop offset=".7036" stop-color="#c2a372"/><stop offset=".7253" stop-color="#e4d594"/><stop offset=".7352" stop-color="#f0e8a0"/><stop offset=".7569" stop-color="#e8e8a0"/><stop offset=".7727" stop-color="#c8e199"/><stop offset=".7925" stop-color="#9bd386"/><stop offset=".8063" stop-color="#78c870"/><stop offset=".8241" stop-color="#68c468"/><stop offset=".8577" stop-color="#5ebe5e"/><stop offset=".8617" stop-color="#5cbc5c"/><stop offset=".8794" stop-color="#59aa85"/><stop offset=".8992" stop-color="#508da7"/><stop offset=".9111" stop-color="#5088c4"/><stop offset=".9704" stop-color="#4d75b6"/><stop offset="1.0000" stop-color="#4a6db6"/></linearGradient>
<linearGradient id="g92" x1="0" y1="0" x2="0" y2="1"><stop offset=".0000" stop-color="#5086c3"/><stop offset=".0593" stop-color="#5088c3"/><stop offset=".0810" stop-color="#508ea5"/><stop offset=".1087" stop-color="#58a789"/><stop offset=".1285" stop-color="#5cb66c"/><stop offset=".1364" stop-color="#5cbb5e"/><stop offset=".1443" stop-color="#5ebe5e"/><stop offset=".1759" stop-color="#6bc56a"/><stop offset=".1957" stop-color="#7dca73"/><stop offset=".2154" stop-color="#97d283"/><stop offset=".2451" stop-color="#c7e199"/><stop offset=".2648" stop-color="#e1e79f"/><stop offset=".2747" stop-color="#eae8a0"/><stop offset=".2866" stop-color="#f0e7a0"/><stop offset=".3004" stop-color="#decd8e"/><stop offset=".3202" stop-color="#bc9b6e"/><stop offset=".3399" stop-color="#957058"/><stop offset=".3636" stop-color="#845a50"/><stop offset=".3834" stop-color="#906b63"/><stop offset=".4111" stop-color="#ab8e88"/><stop offset=".4249" stop-color="#b79b97"/><stop offset=".4447" stop-color="#c4aca9"/><stop offset=".4763" stop-color="#d4c3c1"/><stop offset=".5099" stop-color="#dccecd"/><stop offset=".5573" stop-color="#dbcccb"/><stop offset=".5810" stop-color="#d2c1bf"/><stop offset=".6146" stop-color="#ba9f9b"/><stop offset=".6285" stop-color="#ab8e88"/><stop offset=".6542" stop-color="#8c665e"/><stop offset=".6660" stop-color="#845a50"/><stop offset=".6858" stop-color="#957058"/><stop offset=".7036" stop-color="#c2a472"/><stop offset=".7253" stop-color="#e4d694"/><stop offset=".7352" stop-color="#f0e8a0"/><stop offset=".7569" stop-color="#e8e8a0"/><stop offset=".7727" stop-color="#c7e199"/><stop offset=".7925" stop-color="#9ad385"/><stop offset=".8063" stop-color="#77c870"/><stop offset=".8241" stop-color="#67c467"/><stop offset=".8577" stop-color="#5ebe5e"/><stop offset=".8617" stop-color="#5cbc5d"/><stop offset=".8755" stop-color="#5aad7e"/><stop offset=".8992" stop-color="#508ca9"/><stop offset=".9091" stop-color="#5088c2"/><stop offset=".9130" stop-color="#5087c3"/><stop offset=".9684" stop-color="#4d75b6"/><stop offset=".9980" stop-color="#4a6db7"/><stop offset="1.0000" stop-color="#4a6db6"/></linearGradient>
<linearGradient id="g93" x1="0" y1="0" x2="0" y2="1"><stop offset=".0000" stop-color="#5086c3"/><stop offset=".0573" stop-color="#5088c4"/><stop offset=".0810" stop-color="#508ea5"/><stop offset=".1067" stop-color="#57a58b"/><stop offset=".1285" stop-color="#5cb66c"/><stop offset=".1364" stop-color="#5cbc5d"/><stop offset=".1640" stop-color="#65c265"/><stop offset=".1798" stop-color="#6fc66b"/><stop offset=".1976" stop-color="#80cb75"/><stop offset=".2154" stop-color="#97d283"/><stop offset=".2451" stop-color="#c7e199"/><stop offset=".2628" stop-color="#dfe69e"/><stop offset=".2727" stop-color="#e9e8a0"/><stop offset=".2866" stop-color="#f0e8a0"/><stop offset=".3024" stop-color="#dbc98b"/><stop offset=".3202" stop-color="#bd9c6e"/><stop offset=".3399" stop-color="#957058"/><stop offset=".3636" stop-color="#845b50"/><stop offset=".3834" stop-color="#906a62"/><stop offset=".4111" stop-color="#aa8d88"/><stop offset=".4249" stop-color="#b79b97"/><stop offset=".4447" stop-color="#c4aca8"/><stop offset=".4763" stop-color="#d4c3c1"/><stop offset=".5099" stop-color="#dccecd"/><stop offset=".5573" stop-color="#dbcccb"/><stop offset=".5810" stop-color="#d2c0be"/><stop offset=".6126" stop-color="#bca09c"/><stop offset=".6265" stop-color="#ad908b"/><stop offset=".6542" stop-color="#8c655d"/><stop offset=".6660" stop-color="#855b50"/><stop offset=".6858" stop-color="#967158"/><stop offset=".7016" stop-color="#c0a070"/><stop offset=".7253" stop-color="#e5d795"/><stop offset=".7352" stop-color="#f0e8a0"/><stop offset=".7569" stop-color="#e8e8a0"/><stop offset=".7727" stop-color="#c6e098"/><stop offset=".7905" stop-color="#9ed387"/><stop offset=".8004" stop-color="#84cc78"/><stop offset=".8043" stop-color="#79c871"/><stop offset=".8221" stop-color="#68c468"/><stop offset=".8577" stop-color="#5dbd5d"/><stop offset=".8597" stop-color="#5cbc5c"/><stop offset=".8636" stop-color="#5cb964"/><stop offset=".8794" stop-color="#58a888"/><stop offset=".8972" stop-color="#508da7"/><stop offset=".9091" stop-color="#5088c4"/><stop offset=".9684" stop-color="#4d75b6"/><stop offset=".9980" stop-color="#4a6db7"/><stop offset="1.0000" stop-color="#4a6cb6"/></linearGradient>
<linearGradient id="g94" x1="0" y1="0" x2="0" y2="1"><stop offset=".0000" stop-color="#5086c3"/><stop offset=".0573" stop-color="#5088c4"/><stop offset=".0810" stop-color="#508ea5"/><stop offset=".1067" stop-color="#57a68a"/><stop offset=".1285" stop-color="#5cb66b"/><stop offset=".1364" stop-color="#5cbc5d"/><stop offset=".1719" stop-color="#68c468"/><stop offset=".1957" stop-color="#7dca73"/><stop offset=".2154" stop-color="#97d283"/><stop offset=".2451" stop-color="#c6e098"/><stop offset=".2628" stop-color="#dee69e"/><stop offset=".2727" stop-color="#e9e8a0"/><stop offset=".2866" stop-color="#f0e8a0"/><stop offset=".3024" stop-color="#dcca8c"/><stop offset=".3221" stop-color="#ba996c"/><stop offset=".3419" stop-color="#946f58"/><stop offset=".3656" stop-color="#845b51"/><stop offset=".3854" stop-color="#916c64"/><stop offset=".4130" stop-color="#ac8f8a"/><stop offset=".4368" stop-color="#c0a5a1"/><stop offset=".4763" stop-color="#d4c3c1"/><stop offset=".5099" stop-color="#dccecd"/><stop offset=".5573" stop-color="#dbcccb"/><stop offset=".5810" stop-color="#d2c0be"/><stop offset=".6126" stop-color="#bba09c"/><stop offset=".6265" stop-color="#ac8f8a"/><stop offset=".6542" stop-color="#8c655c"/><stop offset=".6640" stop-color="#855b51"/><stop offset=".6838" stop-color="#946f58"/><stop offset=".6897" stop-color="#a27e5f"/><stop offset=".7016" stop-color="#c1a171"/><stop offset=".7233" stop-color="#e3d493"/><stop offset=".7352" stop-color="#f0e8a0"/><stop offset=".7569" stop-color="#e8e8a0"/><stop offset=".7727" stop-color="#c6e098"/><stop offset=".7905" stop-color="#9dd386"/><stop offset=".8024" stop-color="#7dca74"/><stop offset=".8043" stop-color="#78c870"/><stop offset=".8221" stop-color="#68c468"/><stop offset=".8557" stop-color="#5ebe5e"/><stop offset=".8597" stop-color="#5cbc5c"/><stop offset=".8775" stop-color="#58a986"/><stop offset=".8972" stop-color="#508ca9"/><stop offset=".9071" stop-color="#5088c1"/><stop offset=".9111" stop-color="#5087c3"/><stop offset=".9664" stop-color="#4d75b6"/><stop offset=".9960" stop-color="#4a6db7"/><stop offset="1.0000" stop-color="#4a6cb6"/></linearGradient>
<linearGradient id="g95" x1="0" y1="0" x2="0" y2="1"><stop offset=".0000" stop-color="#5086c3"/><stop offset=".0573" stop-color="#5088c4"/><stop offset=".0791" stop-color="#508da7"/><stop offset=".1047" stop-color="#56a48c"/><stop offset=".1265" stop-color="#5cb56f"/><stop offset=".1364" stop-color="#5cbc5c"/><stop offset=".1739" stop-color="#6ac569"/><stop offset=".1957" stop-color="#7dca73"/><stop offset=".2154" stop-color="#97d283"/><stop offset=".2451" stop-color="#c6e098"/><stop offset=".2628" stop-color="#dee69e"/><stop offset=".2727" stop-color="#e9e8a0"/><stop offset=".2866" stop-color="#f0e8a0"/><stop offset=".3024" stop-color="#dccb8c"/><stop offset=".3221" stop-color="#bb9a6d"/><stop offset=".3419" stop-color="#946f58"/><stop offset=".3656" stop-color="#845a50"/><stop offset=".3854" stop-color="#916b63"/><stop offset=".4130" stop-color="#ac8e89"/><stop offset=".4328" stop-color="#bda29e"/><stop offset=".4763" stop-color="#d4c3c1"/><stop offset=".5099" stop-color="#dccecd"/><stop offset=".5573" stop-color="#dbccca"/><stop offset=".5810" stop-color="#d2c0be"/><stop offset=".6126" stop-color="#bba09c"/><stop offset=".6265" stop-color="#ac8f89"/><stop offset=".6482" stop-color="#916c64"/><stop offset=".6640" stop-color="#845a50"/><stop offset=".6838" stop-color="#946f58"/><stop offset=".7016" stop-color="#c1a271"/><stop offset=".7233" stop-color="#e3d593"/><stop offset=".7332" stop-color="#efe79f"/><stop offset=".7569" stop-color="#e7e8a0"/><stop offset=".7727" stop-color="#c5e098"/><stop offset=".7925" stop-color="#97d283"/><stop offset=".8043" stop-color="#77c870"/><stop offset=".8221" stop-color="#68c468"/><stop offset=".8557" stop-color="#5ebe5e"/><stop offset=".8597" stop-color="#5cbb5e"/><stop offset=".8735" stop-color="#5aad7f"/><stop offset=".8854" stop-color="#539c94"/><stop offset=".8972" stop-color="#508cab"/><stop offset=".9071" stop-color="#5088c3"/><stop offset=".9664" stop-color="#4d75b6"/><stop offset=".9960" stop-color="#4a6db7"/><stop offset="1.0000" stop-color="#4a6cb6"/></linearGradient>
<linearGradient id="g96" x1="0" y1="0" x2="0" y2="1"><stop offset=".0000" stop-color="#5086c3"/><stop offset=".0573" stop-color="#5088c3"/><stop offset=".0791" stop-color="#508ea6"/><stop offset=".1047" stop-color="#57a58b"/><stop offset=".1265" stop-color="#5cb66d"/><stop offset=".1364" stop-color="#5cbc5c"/><stop offset=".1719" stop-color="#69c469"/><stop offset=".1957" stop-color="#7eca74"/><stop offset=".2154" stop-color="#98d284"/><stop offset=".2470" stop-color="#cae29a"/><stop offset=".2727" stop-color="#e9e8a0"/><stop offset=".2866" stop-color="#f0e8a0"/><stop offset=".3024" stop-color="#dcca8c"/><stop offset=".3221" stop-color="#ba996d"/><stop offset=".3419" stop-color="#946f58"/><stop offset=".3656" stop-color="#845a51"/><stop offset=".3854" stop-color="#916c64"/><stop offset=".4150" stop-color="#ae918d"/><stop offset=".4407" stop-color="#c2a9a5"/><stop offset=".4763" stop-color="#d4c3c2"/><stop offset=".5099" stop-color="#dccecd"/><stop offset=".5573" stop-color="#dbcccb"/><stop offset=".5810" stop-color="#d2c0be"/><stop offset=".6126" stop-color="#bba09c"/><stop offset=".6265" stop-color="#ac8f8a"/><stop offset=".6542" stop-color="#8c655c"/><stop offset=".6640" stop-color="#855b51"/><stop offset=".6858" stop-color="#977259"/><stop offset=".7016" stop-color="#c0a070"/><stop offset=".7253" stop-color="#e4d794"/><stop offset=".7352" stop-color="#f0e8a0"/><stop offset=".7569" stop-color="#e8e8a0"/><stop offset=".7727" stop-color="#c6e098"/><stop offset=".7905" stop-color="#9dd386"/><stop offset=".8004" stop-color="#83cc77"/><stop offset=".8043" stop-color="#78c870"/><stop offset=".8221" stop-color="#68c468"/><stop offset=".8557" stop-color="#5ebe5e"/><stop offset=".8597" stop-color="#5cbc5d"/><stop offset=".8735" stop-color="#5aad7e"/><stop offset=".8854" stop-color="#549c94"/><stop offset=".8972" stop-color="#508caa"/><stop offset=".9071" stop-color="#5088c3"/><stop offset=".9526" stop-color="#4f79b9"/><stop offset=".9684" stop-color="#4d75b6"/><stop offset=".9980" stop-color="#4a6db6"/><stop offset="1.0000" stop-color="#4a6cb6"/></linearGradient>
<linearGradient id="g97" x1="0" y1="0" x2="0" y2="1"><stop offset=".0000" stop-color="#5086c3"/><stop offset=".0553" stop-color="#5088c4"/><stop offset=".0771" stop-color="#508da6"/><stop offset=".1028" stop-color="#57a48c"/><stop offset=".1245" stop-color="#5cb66e"/><stop offset=".1344" stop-color="#5cbc5c"/><stop offset=".1719" stop-color="#6ac469"/><stop offset=".1937" stop-color="#7dca73"/><stop offset=".2154" stop-color="#99d284"/><stop offset=".2490" stop-color="#cee39b"/><stop offset=".2727" stop-color="#e9e8a0"/><stop offset=".2866" stop-color="#f0e8a0"/><stop offset=".3024" stop-color="#dbc98b"/><stop offset=".3202" stop-color="#bd9c6e"/><stop offset=".3399" stop-color="#957058"/><stop offset=".3636" stop-color="#845b50"/><stop offset=".3834" stop-color="#906a62"/><stop offset=".4111" stop-color="#ab8e88"/><stop offset=".4249" stop-color="#b79b97"/><stop offset=".4447" stop-color="#c5aca9"/><stop offset=".4763" stop-color="#d5c4c2"/><stop offset=".5099" stop-color="#ddcecd"/><stop offset=".5573" stop-color="#dbcccb"/><stop offset=".5810" stop-color="#d3c1bf"/><stop offset=".6146" stop-color="#ba9f9b"/><stop offset=".6285" stop-color="#ab8e89"/><stop offset=".6502" stop-color="#906b63"/><stop offset=".6660" stop-color="#845a50"/><stop offset=".6858" stop-color="#946f58"/><stop offset=".7036" stop-color="#c1a271"/><stop offset=".7253" stop-color="#e2d492"/><stop offset=".7372" stop-color="#f0e8a0"/><stop offset=".7589" stop-color="#e8e8a0"/><stop offset=".7747" stop-color="#c5e098"/><stop offset=".7925" stop-color="#9bd385"/><stop offset=".8024" stop-color="#80cb75"/><stop offset=".8063" stop-color="#77c86f"/><stop offset=".8241" stop-color="#67c467"/><stop offset=".8557" stop-color="#5ebe5e"/><stop offset=".8597" stop-color="#5cbc5c"/><stop offset=".8775" stop-color="#59aa85"/><stop offset=".8972" stop-color="#508ca8"/><stop offset=".9071" stop-color="#5088c1"/><stop offset=".9111" stop-color="#5087c3"/><stop offset=".9684" stop-color="#4d75b6"/><stop offset=".9980" stop-color="#4a6db6"/><stop offset="1.0000" stop-color="#4a6cb6"/></linearGradient>
<linearGradient id="g98" x1="0" y1="0" x2="0" y2="1"><stop offset=".0000" stop-color="#5086c3"/><stop offset=".0534" stop-color="#5088c4"/><stop offset=".0771" stop-color="#508ea5"/><stop offset=".1028" stop-color="#57a68a"/><stop offset=".1245" stop-color="#5cb66b"/><stop offset=".1324" stop-color="#5cbc5d"/><stop offset=".1700" stop-color="#69c469"/><stop offset=".1937" stop-color="#7eca74"/><stop offset=".2154" stop-color="#9ad385"/><stop offset=".2470" stop-color="#cce29a"/><stop offset=".2708" stop-color="#e8e8a0"/><stop offset=".2866" stop-color="#f0e8a0"/><stop offset=".3004" stop-color="#decd8e"/><stop offset=".3202" stop-color="#bc9b6e"/><stop offset=".3399" stop-color="#956f58"/><stop offset=".3636" stop-color="#845a50"/><stop offset=".3834" stop-color="#916b63"/><stop offset=".4130" stop-color="#ad918c"/><stop offset=".4387" stop-color="#c2a8a4"/><stop offset=".4743" stop-color="#d4c3c1"/><stop offset=".5079" stop-color="#ddcfce"/><stop offset=".5573" stop-color="#dbcdcc"/><stop offset=".5810" stop-color="#d3c2c0"/><stop offset=".6146" stop-color="#bba09c"/><stop offset=".6285" stop-color="#ac8f8b"/><stop offset=".6561" stop-color="#8c655d"/><stop offset=".6680" stop-color="#855b50"/><stop offset=".6877" stop-color="#957058"/><stop offset=".7055" stop-color="#c2a372"/><stop offset=".7273" stop-color="#e3d493"/><stop offset=".7391" stop-color="#f0e8a0"/><stop offset=".7609" stop-color="#e7e8a0"/><stop offset=".7747" stop-color="#c8e199"/><stop offset=".7925" stop-color="#9dd387"/><stop offset=".8024" stop-color="#83cc77"/><stop offset=".8063" stop-color="#78c870"/><stop offset=".8241" stop-color="#67c467"/><stop offset=".8577" stop-color="#5ebe5e"/><stop offset=".8617" stop-color="#5cbc5d"/><stop offset=".8755" stop-color="#5aad7f"/><stop offset=".8992" stop-color="#508cab"/><stop offset=".9091" stop-color="#5088c4"/><stop offset=".9644" stop-color="#4e76b6"/><stop offset=".9980" stop-color="#4a6db7"/><stop offset="1.0000" stop-color="#4a6db6"/></linearGradient>
<linearGradient id="g99" x1="0" y1="0" x2="0" y2="1"><stop offset=".0000" stop-color="#5086c3"/><stop offset=".0534" stop-color="#5088c2"/><stop offset=".0751" stop-color="#508ea5"/><stop offset=".1028" stop-color="#58a789"/><stop offset=".1225" stop-color="#5cb66c"/><stop offset=".1304" stop-color="#5cbb5e"/><stop offset=".1443" stop-color="#5fbf5f"/><stop offset=".1719" stop-color="#6cc56a"/><stop offset=".1917" stop-color="#7dca73"/><stop offset=".2134" stop-color="#98d284"/><stop offset=".2451" stop-color="#cae29a"/><stop offset=".2708" stop-color="#e9e8a0"/><stop offset=".2866" stop-color="#efe79f"/><stop offset=".3004" stop-color="#ddcc8d"/><stop offset=".3202" stop-color="#ba9a6d"/><stop offset=".3399" stop-color="#946f58"/><stop offset=".3617" stop-color="#855b50"/><stop offset=".3814" stop-color="#8f6a62"/><stop offset=".4091" stop-color="#aa8d88"/><stop offset=".4229" stop-color="#b79b97"/><stop offset=".4427" stop-color="#c4aca8"/><stop offset=".4743" stop-color="#d4c3c2"/><stop offset=".5079" stop-color="#ddcfce"/><stop offset=".5573" stop-color="#dccdcc"/><stop offset=".5830" stop-color="#d3c1bf"/><stop offset=".6166" stop-color="#ba9f9b"/><stop offset=".6304" stop-color="#ab8e89"/><stop offset=".6522" stop-color="#916c64"/><stop offset=".6680" stop-color="#845a51"/><stop offset=".6897" stop-color="#967259"/><stop offset=".7055" stop-color="#bf9f70"/><stop offset=".7292" stop-color="#e3d593"/><stop offset=".7391" stop-color="#efe79f"/><stop offset=".7628" stop-color="#e6e8a0"/><stop offset=".7767" stop-color="#c7e098"/><stop offset=".7945" stop-color="#9bd386"/><stop offset=".8043" stop-color="#80cb75"/><stop offset=".8083" stop-color="#77c86f"/><stop offset=".8241" stop-color="#68c468"/><stop offset=".8577" stop-color="#5ebe5e"/><stop offset=".8617" stop-color="#5cbc5c"/><stop offset=".8794" stop-color="#59aa85"/><stop offset=".8972" stop-color="#508fa4"/><stop offset=".9051" stop-color="#508ab8"/><stop offset=".9091" stop-color="#5088c3"/><stop offset=".9486" stop-color="#4f7bbb"/><stop offset=".9704" stop-color="#4d75b6"/><stop offset="1.0000" stop-color="#4a6db7"/></linearGradient>
<linearGradient id="g100" x1="0" y1="0" x2="0" y2="1"><stop offset=".0000" stop-color="#5086c3"/><stop offset=".0514" stop-color="#5088c3"/><stop offset=".0731" stop-color="#508ea6"/><stop offset=".0988" stop-color="#57a58b"/><stop offset=".1206" stop-color="#5cb66d"/><stop offset=".1304" stop-color="#5cbc5c"/><stop offset=".1680" stop-color="#69c469"/><stop offset=".1917" stop-color="#7eca74"/><stop offset=".2115" stop-color="#96d283"/><stop offset=".2451" stop-color="#cae29a"/><stop offset=".2708" stop-color="#e9e8a0"/><stop offset=".2846" stop-color="#f0e8a0"/><stop offset=".2984" stop-color="#e0cf90"/><stop offset=".3182" stop-color="#bd9d6e"/><stop offset=".3379" stop-color="#957058"/><stop offset=".3617" stop-color="#845a50"/><stop offset=".3814" stop-color="#906b63"/><stop offset=".4091" stop-color="#ab8e89"/><stop offset=".4249" stop-color="#b99d99"/><stop offset=".4506" stop-color="#c9b3b0"/><stop offset=".4763" stop-color="#d5c5c3"/><stop offset=".5099" stop-color="#ddcfce"/><stop offset=".5573" stop-color="#dccdcd"/><stop offset=".5830" stop-color="#d3c1c0"/><stop offset=".6166" stop-color="#bca09c"/><stop offset=".6304" stop-color="#ad908b"/><stop offset=".6581" stop-color="#8c655d"/><stop offset=".6700" stop-color="#845a50"/><stop offset=".6897" stop-color="#946f58"/><stop offset=".7075" stop-color="#c0a170"/><stop offset=".7312" stop-color="#e4d694"/><stop offset=".7411" stop-color="#f0e7a0"/><stop offset=".7628" stop-color="#e8e8a0"/><stop offset=".7787" stop-color="#c5e098"/><stop offset=".7964" stop-color="#99d284"/><stop offset=".8083" stop-color="#78c870"/><stop offset=".8241" stop-color="#68c468"/><stop offset=".8597" stop-color="#5ebe5e"/><stop offset=".8636" stop-color="#5cbb5e"/><stop offset=".8775" stop-color="#5aad7f"/><stop offset=".8992" stop-color="#508da6"/><stop offset=".9091" stop-color="#5088c1"/><stop offset=".9111" stop-color="#5088c4"/><stop offset=".9684" stop-color="#4e75b6"/><stop offset="1.0000" stop-color="#4a6db7"/></linearGradient>
<linearGradient id="g101" x1="0" y1="0" x2="0" y2="1"><stop offset=".0000" stop-color="#5086c3"/><stop offset=".0494" stop-color="#5088c4"/><stop offset=".0711" stop-color="#508da7"/><stop offset=".0968" stop-color="#56a48c"/><stop offset=".1186" stop-color="#5cb56e"/><stop offset=".1285" stop-color="#5cbc5c"/><stop offset=".1660" stop-color="#69c468"/><stop offset=".1897" stop-color="#7dca73"/><stop offset=".2115" stop-color="#98d284"/><stop offset=".2431" stop-color="#c8e199"/><stop offset=".2688" stop-color="#e8e8a0"/><stop offset=".2846" stop-color="#f0e8a0"/><stop offset=".2984" stop-color="#dfce8f"/><stop offset=".3182" stop-color="#bc9b6e"/><stop offset=".3379" stop-color="#946f58"/><stop offset=".3617" stop-color="#855b51"/><stop offset=".3814" stop-color="#916c64"/><stop offset=".4111" stop-color="#ae918c"/><stop offset=".4368" stop-color="#c2a8a5"/><stop offset=".4743" stop-color="#d5c4c2"/><stop offset=".5099" stop-color="#decfcf"/><stop offset=".5573" stop-color="#dccecd"/><stop offset=".5830" stop-color="#d4c2c0"/><stop offset=".6186" stop-color="#bb9f9b"/><stop offset=".6324" stop-color="#ac8e89"/><stop offset=".6581" stop-color="#8d675e"/><stop offset=".6700" stop-color="#855b51"/><stop offset=".6818" stop-color="#8d6554"/><stop offset=".6917" stop-color="#957058"/><stop offset=".7095" stop-color="#c1a271"/><stop offset=".7332" stop-color="#e4d694"/><stop offset=".7431" stop-color="#f0e8a0"/><stop offset=".7648" stop-color="#e8e8a0"/><stop offset=".7787" stop-color="#c8e199"/><stop offset=".7964" stop-color="#9cd386"/><stop offset=".8063" stop-color="#80cb75"/><stop offset=".8103" stop-color="#76c86f"/><stop offset=".8261" stop-color="#67c467"/><stop offset=".8597" stop-color="#5ebe5e"/><stop offset=".8636" stop-color="#5cbc5c"/><stop offset=".8814" stop-color="#59aa85"/><stop offset=".8972" stop-color="#5192a0"/><stop offset=".9032" stop-color="#508bae"/><stop offset=".9111" stop-color="#5088c4"/><stop offset=".9644" stop-color="#4e77b7"/><stop offset="1.0000" stop-color="#4a6eb7"/></linearGradient>
<linearGradient id="g102" x1="0" y1="0" x2="0" y2="1"><stop offset=".0000" stop-color="#5086c3"/><stop offset=".0474" stop-color="#5088c4"/><stop offset=".0711" stop-color="#508ea5"/><stop offset=".0968" stop-color="#57a58b"/><stop offset=".1186" stop-color="#5cb66c"/><stop offset=".1265" stop-color="#5cbc5d"/><stop offset=".1561" stop-color="#65c365"/><stop offset=".1719" stop-color="#6ec66b"/><stop offset=".1917" stop-color="#80cb75"/><stop offset=".2115" stop-color="#99d284"/><stop offset=".2451" stop-color="#cce39b"/><stop offset=".2708" stop-color="#e9e8a0"/><stop offset=".2846" stop-color="#f0e8a0"/><stop offset=".2984" stop-color="#decd8e"/><stop offset=".3182" stop-color="#bb9a6d"/><stop offset=".3360" stop-color="#967159"/><stop offset=".3597" stop-color="#845a50"/><stop offset=".3794" stop-color="#906b63"/><stop offset=".4071" stop-color="#ab8d88"/><stop offset=".4209" stop-color="#b79b97"/><stop offset=".4407" stop-color="#c4aca9"/><stop offset=".4743" stop-color="#d5c4c3"/><stop offset=".5099" stop-color="#ded0cf"/><stop offset=".5593" stop-color="#dccecd"/><stop offset=".5850" stop-color="#d3c1bf"/><stop offset=".6186" stop-color="#bca09c"/><stop offset=".6324" stop-color="#ad908b"/><stop offset=".6561" stop-color="#906b63"/><stop offset=".6719" stop-color="#845a50"/><stop offset=".6937" stop-color="#967159"/><stop offset=".7115" stop-color="#c2a372"/><stop offset=".7332" stop-color="#e2d392"/><stop offset=".7451" stop-color="#f0e8a0"/><stop offset=".7668" stop-color="#e8e8a0"/><stop offset=".7806" stop-color="#c7e199"/><stop offset=".7984" stop-color="#9ad285"/><stop offset=".8103" stop-color="#77c870"/><stop offset=".8261" stop-color="#68c468"/><stop offset=".8617" stop-color="#5dbd5d"/><stop offset=".8656" stop-color="#5cbb5e"/><stop offset=".8794" stop-color="#5aad7f"/><stop offset=".8992" stop-color="#5190a3"/><stop offset=".9051" stop-color="#508bb2"/><stop offset=".9111" stop-color="#5088c2"/><stop offset=".9209" stop-color="#5084c2"/><stop offset=".9723" stop-color="#4d75b6"/><stop offset="1.0000" stop-color="#4a6eb7"/></linearGradient>
<linearGradient id="g103" x1="0" y1="0" x2="0" y2="1"><stop offset=".0000" stop-color="#5086c3"/><stop offset=".0474" stop-color="#5088c3"/><stop offset=".0692" stop-color="#508ea6"/><stop offset=".0949" stop-color="#57a58b"/><stop offset=".1166" stop-color="#5cb66d"/><stop offset=".1265" stop-color="#5cbc5c"/><stop offset=".1640" stop-color="#69c468"/><stop offset=".1877" stop-color="#7dca73"/><stop offset=".2095" stop-color="#97d284"/><stop offset=".2431" stop-color="#cae29a"/><stop offset=".2688" stop-color="#e8e8a0"/><stop offset=".2846" stop-color="#f0e7a0"/><stop offset=".2984" stop-color="#ddcc8d"/><stop offset=".3182" stop-color="#b9996c"/><stop offset=".3360" stop-color="#957058"/><stop offset=".3597" stop-color="#845b51"/><stop offset=".3794" stop-color="#916c64"/><stop offset=".4091" stop-color="#ad918c"/><stop offset=".4368" stop-color="#c3a9a6"/><stop offset=".4723" stop-color="#d5c4c2"/><stop offset=".5079" stop-color="#ded0cf"/><stop offset=".5593" stop-color="#ddcecd"/><stop offset=".5850" stop-color="#d4c2c0"/><stop offset=".6206" stop-color="#bb9f9b"/><stop offset=".6344" stop-color="#ac8f8a"/><stop offset=".6621" stop-color="#8c655d"/><stop offset=".6739" stop-color="#845b50"/><stop offset=".6937" stop-color="#946f58"/><stop offset=".7134" stop-color="#c3a473"/><stop offset=".7352" stop-color="#e3d493"/><stop offset=".7470" stop-color="#f0e8a0"/><stop offset=".7688" stop-color="#e7e8a0"/><stop offset=".7826" stop-color="#c5e098"/><stop offset=".8004" stop-color="#97d284"/><stop offset=".8103" stop-color="#79c871"/><stop offset=".8261" stop-color="#68c468"/><stop offset=".8617" stop-color="#5ebe5e"/><stop offset=".8656" stop-color="#5cbc5c"/><stop offset=".8814" stop-color="#59ac81"/><stop offset=".8992" stop-color="#5192a1"/><stop offset=".9051" stop-color="#508baf"/><stop offset=".9130" stop-color="#5088c4"/><stop offset=".9684" stop-color="#4e76b6"/><stop offset="1.0000" stop-color="#4a6eb7"/></linearGradient>
<linearGradient id="g104" x1="0" y1="0" x2="0" y2="1"><stop offset=".0000" stop-color="#5086c3"/><stop offset=".0455" stop-color="#5088c4"/><stop offset=".0672" stop-color="#508da6"/><stop offset=".0929" stop-color="#57a48c"/><stop offset=".1146" stop-color="#5cb56e"/><stop offset=".1245" stop-color="#5cbc5c"/><stop offset=".1640" stop-color="#6ac469"/><stop offset=".1877" stop-color="#7eca74"/><stop offset=".2095" stop-color="#98d284"/><stop offset=".2411" stop-color="#c8e199"/><stop offset=".2668" stop-color="#e7e8a0"/><stop offset=".2846" stop-color="#efe79f"/><stop offset=".2984" stop-color="#dcca8c"/><stop offset=".3162" stop-color="#bc9c6e"/><stop offset=".3360" stop-color="#946f58"/><stop offset=".3577" stop-color="#845a50"/><stop offset=".3775" stop-color="#906a62"/><stop offset=".4051" stop-color="#aa8d88"/><stop offset=".4190" stop-color="#b69b97"/><stop offset=".4387" stop-color="#c4aca8"/><stop offset=".4723" stop-color="#d5c4c2"/><stop offset=".5079" stop-color="#ded0d0"/><stop offset=".5593" stop-color="#ddcece"/><stop offset=".5850" stop-color="#d4c3c1"/><stop offset=".6206" stop-color="#bca09c"/><stop offset=".6344" stop-color="#ad908b"/><stop offset=".6561" stop-color="#936f67"/><stop offset=".6640" stop-color="#8b645c"/><stop offset=".6739" stop-color="#845b51"/><stop offset=".6957" stop-color="#957058"/><stop offset=".7134" stop-color="#c1a171"/><stop offset=".7372" stop-color="#e3d593"/><stop offset=".7490" stop-color="#f0e8a0"/><stop offset=".7708" stop-color="#e6e8a0"/><stop offset=".7846" stop-color="#c4df97"/><stop offset=".8004" stop-color="#9ad385"/><stop offset=".8123" stop-color="#77c870"/><stop offset=".8281" stop-color="#68c468"/><stop offset=".8617" stop-color="#5ebe5e"/><stop offset=".8656" stop-color="#5cbc5c"/><stop offset=".8696" stop-color="#5cb964"/><stop offset=".8854" stop-color="#58a987"/><stop offset=".8992" stop-color="#51939e"/><stop offset=".9051" stop-color="#508bad"/><stop offset=".9130" stop-color="#5088c4"/><stop offset=".9644" stop-color="#4e77b7"/><stop offset="1.0000" stop-color="#4a6eb7"/></linearGradient>
<linearGradient id="g105" x1="0" y1="0" x2="0" y2="1"><stop offset=".0000" stop-color="#5086c3"/><stop offset=".0435" stop-color="#5088c4"/><stop offset=".0672" stop-color="#508ea5"/><stop offset=".0929" stop-color="#57a68a"/><stop offset=".1146" stop-color="#5cb66c"/><stop offset=".1225" stop-color="#5cbc5d"/><stop offset=".1581" stop-color="#67c467"/><stop offset=".1858" stop-color="#7cc973"/><stop offset=".2095" stop-color="#9ad285"/><stop offset=".2451" stop-color="#cfe49c"/><stop offset=".2688" stop-color="#e9e8a0"/><stop offset=".2826" stop-color="#f0e8a0"/><stop offset=".2964" stop-color="#dfce8f"/><stop offset=".3162" stop-color="#bb9a6d"/><stop offset=".3340" stop-color="#967158"/><stop offset=".3577" stop-color="#845a50"/><stop offset=".3775" stop-color="#906b63"/><stop offset=".4051" stop-color="#ab8e89"/><stop offset=".4209" stop-color="#b99d99"/><stop offset=".4447" stop-color="#c8b1ae"/><stop offset=".4723" stop-color="#d5c4c3"/><stop offset=".5079" stop-color="#ded1d0"/><stop offset=".5593" stop-color="#ddcfce"/><stop offset=".5850" stop-color="#d4c3c2"/><stop offset=".6225" stop-color="#bb9f9b"/><stop offset=".6364" stop-color="#ac8f8a"/><stop offset=".6640" stop-color="#8c655d"/><stop offset=".6759" stop-color="#845a50"/><stop offset=".6976" stop-color="#967159"/><stop offset=".7154" stop-color="#c1a271"/><stop offset=".7391" stop-color="#e4d694"/><stop offset=".7490" stop-color="#efe79f"/><stop offset=".7708" stop-color="#e8e8a0"/><stop offset=".7846" stop-color="#c7e199"/><stop offset=".8004" stop-color="#9dd387"/><stop offset=".8103" stop-color="#7fca75"/><stop offset=".8123" stop-color="#79c871"/><stop offset=".8281" stop-color="#68c468"/><stop offset=".8636" stop-color="#5ebe5e"/><stop offset=".8676" stop-color="#5cbc5c"/><stop offset=".8834" stop-color="#59ac81"/><stop offset=".8992" stop-color="#51959c"/><stop offset=".9051" stop-color="#508caa"/><stop offset=".9130" stop-color="#5088c2"/><stop offset=".9170" stop-color="#5087c3"/><stop offset=".9743" stop-color="#4d75b6"/><stop offset="1.0000" stop-color="#4a6fb7"/></linearGradient>
<linearGradient id="g106" x1="0" y1="0" x2="0" y2="1"><stop offset=".0000" stop-color="#5086c3"/><stop offset=".0435" stop-color="#5088c3"/><stop offset=".0652" stop-color="#508ea6"/><stop offset=".0909" stop-color="#57a58b"/><stop offset=".1126" stop-color="#5cb66d"/><stop offset=".1225" stop-color="#5cbc5c"/><stop offset=".1621" stop-color="#6ac569"/><stop offset=".1858" stop-color="#7eca74"/><stop offset=".2075" stop-color="#98d284"/><stop offset=".2411" stop-color="#cae29a"/><stop offset=".2688" stop-color="#e9e8a0"/><stop offset=".2826" stop-color="#f0e8a0"/><stop offset=".2964" stop-color="#decd8e"/><stop offset=".3162" stop-color="#ba996c"/><stop offset=".3340" stop-color="#957058"/><stop offset=".3557" stop-color="#845b50"/><stop offset=".3755" stop-color="#8f6a62"/><stop offset=".4051" stop-color="#ac8f8a"/><stop offset=".4269" stop-color="#bea39f"/><stop offset=".4704" stop-color="#d5c4c2"/><stop offset=".5079" stop-color="#dfd1d0"/><stop offset=".5593" stop-color="#ddcfcf"/><stop offset=".5850" stop-color="#d5c4c2"/><stop offset=".6225" stop-color="#bca19d"/><stop offset=".6383" stop-color="#ab8e88"/><stop offset=".6601" stop-color="#916c64"/><stop offset=".6759" stop-color="#855b51"/><stop offset=".6838" stop-color="#896153"/><stop offset=".6996" stop-color="#987359"/><stop offset=".7174" stop-color="#c2a372"/><stop offset=".7411" stop-color="#e4d694"/><stop offset=".7510" stop-color="#f0e7a0"/><stop offset=".7727" stop-color="#e8e8a0"/><stop offset=".7846" stop-color="#cbe29a"/><stop offset=".8004" stop-color="#a1d488"/><stop offset=".8083" stop-color="#89ce7b"/><stop offset=".8142" stop-color="#77c870"/><stop offset=".8281" stop-color="#68c468"/><stop offset=".8636" stop-color="#5ebe5e"/><stop offset=".8676" stop-color="#5cbc5c"/><stop offset=".8755" stop-color="#5cb66e"/><stop offset=".8893" stop-color="#57a68a"/><stop offset=".9012" stop-color="#51939e"/><stop offset=".9071" stop-color="#508bad"/><stop offset=".9150" stop-color="#5088c4"/><stop offset=".9664" stop-color="#4e77b7"/><stop offset="1.0000" stop-color="#4a6fb7"/></linearGradient>
<linearGradient id="g107" x1="0" y1="0" x2="0" y2="1"><stop offset=".0000" stop-color="#5086c3"/><stop offset=".0415" stop-color="#5088c4"/><stop offset=".0632" stop-color="#508da7"/><stop offset=".0889" stop-color="#56a48c"/><stop offset=".1107" stop-color="#5cb56e"/><stop offset=".1206" stop-color="#5cbc5c"/><stop offset=".1601" stop-color="#69c469"/><stop offset=".1838" stop-color="#7cc973"/><stop offset=".2075" stop-color="#99d284"/><stop offset=".2411" stop-color="#cae29a"/><stop offset=".2688" stop-color="#e9e8a0"/><stop offset=".2826" stop-color="#f0e8a0"/><stop offset=".2964" stop-color="#ddcc8d"/><stop offset=".3142" stop-color="#bd9c6e"/><stop offset=".3340" stop-color="#946f58"/><stop offset=".3557" stop-color="#845a50"/><stop offset=".3755" stop-color="#906b63"/><stop offset=".4032" stop-color="#aa8d88"/><stop offset=".4170" stop-color="#b69b97"/><stop offset=".4368" stop-color="#c4aba8"/><stop offset=".4704" stop-color="#d5c4c2"/><stop offset=".5079" stop-color="#dfd1d1"/><stop offset=".5613" stop-color="#ddcfce"/><stop offset=".5870" stop-color="#d4c3c2"/><stop offset=".6245" stop-color="#bba09c"/><stop offset=".6383" stop-color="#ad908b"/><stop offset=".6621" stop-color="#916b63"/><stop offset=".6779" stop-color="#845b51"/><stop offset=".6996" stop-color="#956f58"/><stop offset=".7174" stop-color="#c0a070"/><stop offset=".7411" stop-color="#e2d492"/><stop offset=".7530" stop-color="#f0e8a0"/><stop offset=".7747" stop-color="#e7e8a0"/><stop offset=".7885" stop-color="#c4df97"/><stop offset=".8043" stop-color="#99d284"/><stop offset=".8142" stop-color="#79c871"/><stop offset=".8300" stop-color="#68c468"/><stop offset=".8656" stop-color="#5ebe5e"/><stop offset=".8696" stop-color="#5cbc5c"/><stop offset=".8854" stop-color="#59ac80"/><stop offset=".9012" stop-color="#52969b"/><stop offset=".9071" stop-color="#508caa"/><stop offset=".9150" stop-color="#5088c2"/><stop offset=".9249" stop-color="#5084c2"/><stop offset=".9763" stop-color="#4d75b6"/><stop offset="1.0000" stop-color="#4a6fb8"/></linearGradient>
<linearGradient id="g108" x1="0" y1="0" x2="0" y2="1"><stop offset=".0000" stop-color="#5086c3"/><stop offset=".0415" stop-color="#5088c4"/><stop offset=".0632" stop-color="#508da7"/><stop offset=".0889" stop-color="#56a48c"/><stop offset=".1107" stop-color="#5cb56e"/><stop offset=".1206" stop-color="#5cbc5c"/><stop offset=".1601" stop-color="#69c469"/><stop offset=".1838" stop-color="#7cc973"/><stop offset=".2075" stop-color="#99d284"/><stop offset=".2411" stop-color="#cae29a"/><stop offset=".2688" stop-color="#e9e8a0"/><stop offset=".2826" stop-color="#f0e8a0"/><stop offset=".2964" stop-color="#ddcc8d"/><stop offset=".3142" stop-color="#bd9c6e"/><stop offset=".3340" stop-color="#946f58"/><stop offset=".3557" stop-color="#845a50"/><stop offset=".3755" stop-color="#906b63"/><stop offset=".4032" stop-color="#ab8d88"/><stop offset=".4170" stop-color="#b69b97"/><stop offset=".4387" stop-color="#c5ada9"/><stop offset=".4723" stop-color="#d6c5c3"/><stop offset=".5079" stop-color="#dfd1d0"/><stop offset=".5613" stop-color="#decfcf"/><stop offset=".5870" stop-color="#d5c4c3"/><stop offset=".6265" stop-color="#bba09c"/><stop offset=".6403" stop-color="#ad908b"/><stop offset=".6640" stop-color="#916c64"/><stop offset=".6798" stop-color="#855b52"/><stop offset=".6838" stop-color="#865d51"/><stop offset=".7016" stop-color="#946f58"/><stop offset=".7194" stop-color="#c1a171"/><stop offset=".7431" stop-color="#e4d594"/><stop offset=".7530" stop-color="#efe79f"/><stop offset=".7747" stop-color="#e8e8a0"/><stop offset=".7885" stop-color="#c7e199"/><stop offset=".8063" stop-color="#98d284"/><stop offset=".8162" stop-color="#79c871"/><stop offset=".8320" stop-color="#68c468"/><stop offset=".8676" stop-color="#5ebe5e"/><stop offset=".8715" stop-color="#5cbc5c"/><stop offset=".8893" stop-color="#59aa83"/><stop offset=".9051" stop-color="#51939f"/><stop offset=".9091" stop-color="#508ca8"/><stop offset=".9170" stop-color="#5088c1"/><stop offset=".9190" stop-color="#5088c4"/><stop offset=".9723" stop-color="#4e77b7"/><stop offset="1.0000" stop-color="#4a70b8"/></linearGradient>
<linearGradient id="g109" x1="0" y1="0" x2="0" y2="1"><stop offset=".0000" stop-color="#5086c3"/><stop offset=".0415" stop-color="#5088c4"/><stop offset=".0632" stop-color="#508da7"/><stop offset=".0889" stop-color="#56a48c"/><stop offset=".1107" stop-color="#5cb56e"/><stop offset=".1206" stop-color="#5cbc5c"/><stop offset=".1601" stop-color="#69c469"/><stop offset=".1838" stop-color="#7cc973"/><stop offset=".2075" stop-color="#99d284"/><stop offset=".2411" stop-color="#cae29a"/><stop offset=".2688" stop-color="#e9e8a0"/><stop offset=".2826" stop-color="#f0e8a0"/><stop offset=".2964" stop-color="#ddcc8d"/><stop offset=".3142" stop-color="#bc9c6e"/><stop offset=".3320" stop-color="#967159"/><stop offset=".3557" stop-color="#845b51"/><stop offset=".3755" stop-color="#906b63"/><stop offset=".4032" stop-color="#ab8d88"/><stop offset=".4190" stop-color="#b89c98"/><stop offset=".4427" stop-color="#c7b0ad"/><stop offset=".4723" stop-color="#d6c5c3"/><stop offset=".5099" stop-color="#dfd1d1"/><stop offset=".5632" stop-color="#ddcfce"/><stop offset=".5889" stop-color="#d5c4c2"/><stop offset=".6285" stop-color="#bba09c"/><stop offset=".6423" stop-color="#ad908c"/><stop offset=".6660" stop-color="#926d65"/><stop offset=".6818" stop-color="#855c52"/><stop offset=".6838" stop-color="#845a50"/><stop offset=".7036" stop-color="#946f58"/><stop offset=".7213" stop-color="#c1a271"/><stop offset=".7431" stop-color="#e3d493"/><stop offset=".7549" stop-color="#f0e8a0"/><stop offset=".7747" stop-color="#e8e8a0"/><stop offset=".7846" stop-color="#d3e59d"/><stop offset=".8043" stop-color="#a1d489"/><stop offset=".8142" stop-color="#85cc79"/><stop offset=".8182" stop-color="#79c871"/><stop offset=".8340" stop-color="#68c468"/><stop offset=".8696" stop-color="#5ebe5e"/><stop offset=".8735" stop-color="#5cbc5c"/><stop offset=".8775" stop-color="#5cb964"/><stop offset=".8933" stop-color="#58a987"/><stop offset=".9071" stop-color="#51949e"/><stop offset=".9130" stop-color="#508bad"/><stop offset=".9209" stop-color="#5088c4"/><stop offset=".9723" stop-color="#4e77b7"/><stop offset="1.0000" stop-color="#4a70b8"/></linearGradient>
<linearGradient id="g110" x1="0" y1="0" x2="0" y2="1"><stop offset=".0000" stop-color="#5086c3"/><stop offset=".0415" stop-color="#5088c4"/><stop offset=".0632" stop-color="#508da7"/><stop offset=".0889" stop-color="#56a48c"/><stop offset=".1107" stop-color="#5cb56e"/><stop offset=".1206" stop-color="#5cbc5c"/><stop offset=".1601" stop-color="#69c469"/><stop offset=".1838" stop-color="#7cc973"/><stop offset=".2075" stop-color="#99d284"/><stop offset=".2411" stop-color="#cae29a"/><stop offset=".2688" stop-color="#e9e8a0"/><stop offset=".2826" stop-color="#f0e8a0"/><stop offset=".2964" stop-color="#ddcb8d"/><stop offset=".3142" stop-color="#bc9b6e"/><stop offset=".3320" stop-color="#967158"/><stop offset=".3538" stop-color="#855b50"/><stop offset=".3715" stop-color="#8d675f"/><stop offset=".4071" stop-color="#ae928d"/><stop offset=".4348" stop-color="#c3aaa6"/><stop offset=".4723" stop-color="#d5c4c3"/><stop offset=".5099" stop-color="#dfd1d1"/><stop offset=".5632" stop-color="#ded0cf"/><stop offset=".5909" stop-color="#d5c4c2"/><stop offset=".6304" stop-color="#bba09c"/><stop offset=".6462" stop-color="#ab8e89"/><stop offset=".6739" stop-color="#8d665e"/><stop offset=".6858" stop-color="#855b51"/><stop offset=".6996" stop-color="#8f6855"/><stop offset=".7075" stop-color="#98735a"/><stop offset=".7233" stop-color="#c2a372"/><stop offset=".7451" stop-color="#e4d694"/><stop offset=".7549" stop-color="#f0e8a0"/><stop offset=".7767" stop-color="#e7e8a0"/><stop offset=".7905" stop-color="#c7e199"/><stop offset=".8083" stop-color="#9bd385"/><stop offset=".8182" stop-color="#7fca75"/><stop offset=".8202" stop-color="#79c871"/><stop offset=".8379" stop-color="#67c467"/><stop offset=".8735" stop-color="#5dbd5d"/><stop offset=".8775" stop-color="#5cbb5e"/><stop offset=".8933" stop-color="#59ab82"/><stop offset=".9091" stop-color="#51949d"/><stop offset=".9150" stop-color="#508bac"/><stop offset=".9229" stop-color="#5088c4"/><stop offset=".9723" stop-color="#4e78b8"/><stop offset=".9921" stop-color="#4c73b7"/><stop offset="1.0000" stop-color="#4b71b8"/></linearGradient>
<linearGradient id="g111" x1="0" y1="0" x2="0" y2="1"><stop offset=".0000" stop-color="#5086c3"/><stop offset=".0415" stop-color="#5088c4"/><stop offset=".0632" stop-color="#508da7"/><stop offset=".0889" stop-color="#56a48c"/><stop offset=".1107" stop-color="#5cb56e"/><stop offset=".1206" stop-color="#5cbc5c"/><stop offset=".1601" stop-color="#69c469"/><stop offset=".1838" stop-color="#7cc973"/><stop offset=".2075" stop-color="#99d284"/><stop offset=".2411" stop-color="#cae29a"/><stop offset=".2688" stop-color="#e9e8a0"/><stop offset=".2826" stop-color="#f0e8a0"/><stop offset=".2964" stop-color="#ddcb8d"/><stop offset=".3142" stop-color="#bc9b6e"/><stop offset=".3320" stop-color="#957058"/><stop offset=".3538" stop-color="#855b50"/><stop offset=".3755" stop-color="#916c64"/><stop offset=".4051" stop-color="#ac8f8a"/><stop offset=".4328" stop-color="#c2a8a4"/><stop offset=".4723" stop-color="#d5c4c3"/><stop offset=".5099" stop-color="#dfd1d0"/><stop offset=".5652" stop-color="#decfcf"/><stop offset=".5929" stop-color="#d5c4c2"/><stop offset=".6324" stop-color="#bba09c"/><stop offset=".6482" stop-color="#ab8e89"/><stop offset=".6759" stop-color="#8d665e"/><stop offset=".6897" stop-color="#845a50"/><stop offset=".7075" stop-color="#946f58"/><stop offset=".7154" stop-color="#a88563"/><stop offset=".7253" stop-color="#c2a372"/><stop offset=".7451" stop-color="#e3d493"/><stop offset=".7549" stop-color="#efe79f"/><stop offset=".7767" stop-color="#e8e8a0"/><stop offset=".7925" stop-color="#c5e098"/><stop offset=".8103" stop-color="#9ad285"/><stop offset=".8202" stop-color="#7fca74"/><stop offset=".8241" stop-color="#76c86f"/><stop offset=".8399" stop-color="#68c468"/><stop offset=".8755" stop-color="#5ebe5e"/><stop offset=".8794" stop-color="#5cbc5d"/><stop offset=".8953" stop-color="#59ac81"/><stop offset=".9111" stop-color="#52959c"/><stop offset=".9170" stop-color="#508caa"/><stop offset=".9249" stop-color="#5088c3"/><stop offset=".9743" stop-color="#4e78b8"/><stop offset=".9921" stop-color="#4c74b7"/><stop offset="1.0000" stop-color="#4b72b7"/></linearGradient>
<linearGradient id="g112" x1="0" y1="0" x2="0" y2="1"><stop offset=".0000" stop-color="#5086c3"/><stop offset=".0415" stop-color="#5088c4"/><stop offset=".0632" stop-color="#508da7"/><stop offset=".0889" stop-color="#56a48c"/><stop offset=".1107" stop-color="#5cb56e"/><stop offset=".1206" stop-color="#5cbc5c"/><stop offset=".1601" stop-color="#69c469"/><stop offset=".1838" stop-color="#7cc973"/><stop offset=".2075" stop-color="#99d284"/><stop offset=".2411" stop-color="#cae29a"/><stop offset=".2688" stop-color="#e9e8a0"/><stop offset=".2826" stop-color="#f0e8a0"/><stop offset=".2964" stop-color="#ddcb8d"/><stop offset=".3142" stop-color="#bb9b6d"/><stop offset=".3320" stop-color="#957058"/><stop offset=".3538" stop-color="#845a50"/><stop offset=".3755" stop-color="#916c64"/><stop offset=".4051" stop-color="#ac8f8a"/><stop offset=".4348" stop-color="#c3a9a6"/><stop offset=".4723" stop-color="#d5c4c2"/><stop offset=".5099" stop-color="#dfd1d0"/><stop offset=".5672" stop-color="#ddcfce"/><stop offset=".5949" stop-color="#d4c3c2"/><stop offset=".6344" stop-color="#bba09c"/><stop offset=".6502" stop-color="#ac8f8a"/><stop offset=".6798" stop-color="#8c655d"/><stop offset=".6917" stop-color="#845a50"/><stop offset=".7115" stop-color="#977359"/><stop offset=".7253" stop-color="#bf9f70"/><stop offset=".7470" stop-color="#e4d694"/><stop offset=".7569" stop-color="#f0e8a0"/><stop offset=".7767" stop-color="#e8e8a0"/><stop offset=".7925" stop-color="#c7e199"/><stop offset=".8103" stop-color="#9ed387"/><stop offset=".8202" stop-color="#84cc78"/><stop offset=".8241" stop-color="#79c870"/><stop offset=".8419" stop-color="#68c468"/><stop offset=".8775" stop-color="#5ebe5e"/><stop offset=".8814" stop-color="#5cbc5c"/><stop offset=".8992" stop-color="#59aa84"/><stop offset=".9130" stop-color="#52969b"/><stop offset=".9190" stop-color="#508ca9"/><stop offset=".9269" stop-color="#5088c2"/><stop offset=".9308" stop-color="#5087c3"/><stop offset=".9881" stop-color="#4d75b6"/><stop offset="1.0000" stop-color="#4b72b7"/></linearGradient>
<linearGradient id="g113" x1="0" y1="0" x2="0" y2="1"><stop offset=".0000" stop-color="#5086c3"/><stop offset=".0415" stop-color="#5088c4"/><stop offset=".0632" stop-color="#508da7"/><stop offset=".0889" stop-color="#56a48c"/><stop offset=".1107" stop-color="#5cb56e"/><stop offset=".1206" stop-color="#5cbc5c"/><stop offset=".1601" stop-color="#69c469"/><stop offset=".1838" stop-color="#7cc973"/><stop offset=".2075" stop-color="#99d284"/><stop offset=".2411" stop-color="#cae29a"/><stop offset=".2688" stop-color="#e9e8a0"/><stop offset=".2826" stop-color="#f0e8a0"/><stop offset=".2964" stop-color="#dccb8c"/><stop offset=".3142" stop-color="#bb9a6d"/><stop offset=".3320" stop-color="#957058"/><stop offset=".3538" stop-color="#845a50"/><stop offset=".3755" stop-color="#916c64"/><stop offset=".4051" stop-color="#ac8f8a"/><stop offset=".4348" stop-color="#c3a9a6"/><stop offset=".4723" stop-color="#d5c4c2"/><stop offset=".5099" stop-color="#dfd1d0"/><stop offset=".5672" stop-color="#decfcf"/><stop offset=".5949" stop-color="#d5c4c3"/><stop offset=".6364" stop-color="#bba09c"/><stop offset=".6522" stop-color="#ac8f8a"/><stop offset=".6759" stop-color="#926d65"/><stop offset=".6897" stop-color="#875f55"/><stop offset=".6957" stop-color="#855b50"/><stop offset=".7134" stop-color="#977259"/><stop offset=".7273" stop-color="#c0a070"/><stop offset=".7470" stop-color="#e3d493"/><stop offset=".7569" stop-color="#f0e8a0"/><stop offset=".7787" stop-color="#e7e8a0"/><stop offset=".7945" stop-color="#c5e098"/><stop offset=".8142" stop-color="#98d284"/><stop offset=".8261" stop-color="#79c870"/><stop offset=".8439" stop-color="#68c468"/><stop offset=".8794" stop-color="#5ebe5e"/><stop offset=".8834" stop-color="#5cbc5c"/><stop offset=".9012" stop-color="#59ab83"/><stop offset=".9170" stop-color="#51939e"/><stop offset=".9209" stop-color="#508ca8"/><stop offset=".9289" stop-color="#5089c0"/><stop offset=".9308" stop-color="#5088c4"/><stop offset=".9822" stop-color="#4e77b7"/><stop offset="1.0000" stop-color="#4c73b7"/></linearGradient>
<linearGradient id="g114" x1="0" y1="0" x2="0" y2="1"><stop offset=".0000" stop-color="#5086c3"/><stop offset=".0415" stop-color="#5088c4"/><stop offset=".0632" stop-color="#508da7"/><stop offset=".0889" stop-color="#56a48c"/><stop offset=".1107" stop-color="#5cb56e"/><stop offset=".1206" stop-color="#5cbc5c"/><stop offset=".1601" stop-color="#69c469"/><stop offset=".1838" stop-color="#7cc973"/><stop offset=".2055" stop-color="#96d183"/><stop offset=".2391" stop-color="#c7e199"/><stop offset=".2628" stop-color="#e4e79f"/><stop offset=".2767" stop-color="#ede8a0"/><stop offset=".2826" stop-color="#f0e8a0"/><stop offset=".2964" stop-color="#dcca8c"/><stop offset=".3142" stop-color="#bb9a6d"/><stop offset=".3320" stop-color="#957058"/><stop offset=".3538" stop-color="#845a50"/><stop offset=".3755" stop-color="#916c64"/><stop offset=".4051" stop-color="#ac8f8a"/><stop offset=".4348" stop-color="#c2a9a5"/><stop offset=".4723" stop-color="#d5c4c2"/><stop offset=".5099" stop-color="#ded0d0"/><stop offset=".5672" stop-color="#decfcf"/><stop offset=".5949" stop-color="#d5c4c3"/><stop offset=".6364" stop-color="#bca09c"/><stop offset=".6522" stop-color="#ac8f8a"/><stop offset=".6759" stop-color="#926e66"/><stop offset=".6877" stop-color="#896158"/><stop offset=".6957" stop-color="#855b50"/><stop offset=".7134" stop-color="#977259"/><stop offset=".7273" stop-color="#c0a070"/><stop offset=".7470" stop-color="#e3d493"/><stop offset=".7569" stop-color="#f0e8a0"/><stop offset=".7787" stop-color="#e7e8a0"/><stop offset=".7945" stop-color="#c5e098"/><stop offset=".8142" stop-color="#98d284"/><stop offset=".8261" stop-color="#79c871"/><stop offset=".8458" stop-color="#67c467"/><stop offset=".8814" stop-color="#5dbd5d"/><stop offset=".8854" stop-color="#5cbb5e"/><stop offset=".9012" stop-color="#59ab82"/><stop offset=".9170" stop-color="#51949d"/><stop offset=".9229" stop-color="#508cab"/><stop offset=".9308" stop-color="#5088c4"/><stop offset=".9802" stop-color="#4e78b8"/><stop offset="1.0000" stop-color="#4c73b7"/></linearGradient>
<linearGradient id="g115" x1="0" y1="0" x2="0" y2="1"><stop offset=".0000" stop-color="#5086c3"/><stop offset=".0415" stop-color="#5088c4"/><stop offset=".0632" stop-color="#508da7"/><stop offset=".0889" stop-color="#56a48c"/><stop offset=".1107" stop-color="#5cb56e"/><stop offset=".1206" stop-color="#5cbc5c"/><stop offset=".1601" stop-color="#69c469"/><stop offset=".1838" stop-color="#7cc973"/><stop offset=".2075" stop-color="#99d284"/><stop offset=".2411" stop-color="#cbe29a"/><stop offset=".2688" stop-color="#e9e8a0"/><stop offset=".2826" stop-color="#f0e8a0"/><stop offset=".2964" stop-color="#dcca8c"/><stop offset=".3142" stop-color="#bb9a6d"/><stop offset=".3320" stop-color="#957058"/><stop offset=".3538" stop-color="#845a50"/><stop offset=".3755" stop-color="#916c64"/><stop offset=".4051" stop-color="#ac8f8a"/><stop offset=".4328" stop-color="#c1a7a4"/><stop offset=".4743" stop-color="#d5c4c3"/><stop offset=".5119" stop-color="#dfd1d0"/><stop offset=".5672" stop-color="#ddcfce"/><stop offset=".5949" stop-color="#d5c4c2"/><stop offset=".6364" stop-color="#bba09c"/><stop offset=".6522" stop-color="#ab8e89"/><stop offset=".6818" stop-color="#8c655d"/><stop offset=".6937" stop-color="#845a51"/><stop offset=".7115" stop-color="#946f58"/><stop offset=".7273" stop-color="#c1a271"/><stop offset=".7470" stop-color="#e3d593"/><stop offset=".7569" stop-color="#f0e8a0"/><stop offset=".7767" stop-color="#e8e8a0"/><stop offset=".7925" stop-color="#c9e199"/><stop offset=".8123" stop-color="#9cd386"/><stop offset=".8241" stop-color="#7dca73"/><stop offset=".8261" stop-color="#78c870"/><stop offset=".8439" stop-color="#68c468"/><stop offset=".8814" stop-color="#5dbd5d"/><stop offset=".8854" stop-color="#5cbb5e"/><stop offset=".9012" stop-color="#59ab82"/><stop offset=".9170" stop-color="#51949d"/><stop offset=".9229" stop-color="#508cab"/><stop offset=".9308" stop-color="#5088c4"/><stop offset=".9802" stop-color="#4e78b8"/><stop offset="1.0000" stop-color="#4c73b7"/></linearGradient>
<linearGradient id="g116" x1="0" y1="0" x2="0" y2="1"><stop offset=".0000" stop-color="#5086c3"/><stop offset=".0415" stop-color="#5088c4"/><stop offset=".0632" stop-color="#508da7"/><stop offset=".0889" stop-color="#56a48c"/><stop offset=".1107" stop-color="#5cb56e"/><stop offset=".1206" stop-color="#5cbc5c"/><stop offset=".1601" stop-color="#69c469"/><stop offset=".1838" stop-color="#7cc973"/><stop offset=".2075" stop-color="#99d284"/><stop offset=".2411" stop-color="#cbe29a"/><stop offset=".2688" stop-color="#e9e8a0"/><stop offset=".2826" stop-color="#f0e7a0"/><stop offset=".2964" stop-color="#dcca8c"/><stop offset=".3142" stop-color="#ba9a6d"/><stop offset=".3320" stop-color="#957058"/><stop offset=".3538" stop-color="#845a50"/><stop offset=".3755" stop-color="#916c64"/><stop offset=".4051" stop-color="#ac8f8a"/><stop offset=".4308" stop-color="#c0a6a2"/><stop offset=".4743" stop-color="#d5c4c3"/><stop offset=".5119" stop-color="#ded0d0"/><stop offset=".5672" stop-color="#ddcfce"/><stop offset=".5949" stop-color="#d5c3c2"/><stop offset=".6344" stop-color="#bca19d"/><stop offset=".6502" stop-color="#ad908b"/><stop offset=".6739" stop-color="#936e66"/><stop offset=".6838" stop-color="#8a635a"/><stop offset=".6937" stop-color="#845a50"/><stop offset=".7115" stop-color="#957058"/><stop offset=".7273" stop-color="#c2a472"/><stop offset=".7470" stop-color="#e4d694"/><stop offset=".7549" stop-color="#efe79f"/><stop offset=".7767" stop-color="#e8e8a0"/><stop offset=".7925" stop-color="#c8e199"/><stop offset=".8123" stop-color="#9bd385"/><stop offset=".8261" stop-color="#77c870"/><stop offset=".8439" stop-color="#68c468"/><stop offset=".8814" stop-color="#5dbd5d"/><stop offset=".8834" stop-color="#5cbc5c"/><stop offset=".8913" stop-color="#5cb66d"/><stop offset=".9071" stop-color="#56a48c"/><stop offset=".9170" stop-color="#51949d"/><stop offset=".9229" stop-color="#508cab"/><stop offset=".9308" stop-color="#5088c4"/><stop offset=".9802" stop-color="#4e78b8"/><stop offset="1.0000" stop-color="#4c73b7"/></linearGradient>
<linearGradient id="g117" x1="0" y1="0" x2="0" y2="1"><stop offset=".0000" stop-color="#5086c3"/><stop offset=".0415" stop-color="#5088c4"/><stop offset=".0632" stop-color="#508da7"/><stop offset=".0889" stop-color="#56a48c"/><stop offset=".1107" stop-color="#5cb56e"/><stop offset=".1206" stop-color="#5cbc5c"/><stop offset=".1601" stop-color="#69c469"/><stop offset=".1838" stop-color="#7cc973"/><stop offset=".2075" stop-color="#99d285"/><stop offset=".2411" stop-color="#cbe29a"/><stop offset=".2668" stop-color="#e8e8a0"/><stop offset=".2826" stop-color="#efe79f"/><stop offset=".2964" stop-color="#dcca8c"/><stop offset=".3142" stop-color="#ba9a6d"/><stop offset=".3320" stop-color="#956f58"/><stop offset=".3538" stop-color="#845a50"/><stop offset=".3755" stop-color="#916c64"/><stop offset=".4051" stop-color="#ac8f8a"/><stop offset=".4289" stop-color="#bfa4a0"/><stop offset=".4743" stop-color="#d5c4c2"/><stop offset=".5119" stop-color="#ded0d0"/><stop offset=".5672" stop-color="#ddcece"/><stop offset=".5949" stop-color="#d4c3c1"/><stop offset=".6344" stop-color="#bba09c"/><stop offset=".6502" stop-color="#ac8f8a"/><stop offset=".6798" stop-color="#8c655d"/><stop offset=".6917" stop-color="#855b51"/><stop offset=".7095" stop-color="#946f57"/><stop offset=".7134" stop-color="#9d795d"/><stop offset=".7253" stop-color="#c0a070"/><stop offset=".7451" stop-color="#e2d392"/><stop offset=".7549" stop-color="#f0e8a0"/><stop offset=".7767" stop-color="#e8e8a0"/><stop offset=".7925" stop-color="#c6e098"/><stop offset=".8123" stop-color="#99d285"/><stop offset=".8261" stop-color="#77c86f"/><stop offset=".8439" stop-color="#67c467"/><stop offset=".8794" stop-color="#5ebe5e"/><stop offset=".8834" stop-color="#5cbc5c"/><stop offset=".9012" stop-color="#59ab82"/><stop offset=".9170" stop-color="#51949d"/><stop offset=".9229" stop-color="#508cab"/><stop offset=".9308" stop-color="#5088c4"/><stop offset=".9802" stop-color="#4e78b8"/><stop offset="1.0000" stop-color="#4c73b7"/></linearGradient>
<linearGradient id="g118" x1="0" y1="0" x2="0" y2="1"><stop offset=".0000" stop-color="#5086c3"/><stop offset=".0415" stop-color="#5088c4"/><stop offset=".0632" stop-color="#508da7"/><stop offset=".0889" stop-color="#56a48c"/><stop offset=".1107" stop-color="#5cb56e"/><stop offset=".1206" stop-color="#5cbc5c"/><stop offset=".1601" stop-color="#69c469"/><stop offset=".1838" stop-color="#7cc973"/><stop offset=".2075" stop-color="#99d285"/><stop offset=".2411" stop-color="#cbe29a"/><stop offset=".2668" stop-color="#e8e8a0"/><stop offset=".2826" stop-color="#efe79f"/><stop offset=".2964" stop-color="#dbc98b"/><stop offset=".3142" stop-color="#ba996d"/><stop offset=".3320" stop-color="#956f58"/><stop offset=".3538" stop-color="#845a50"/><stop offset=".3755" stop-color="#916c64"/><stop offset=".4051" stop-color="#ac8f89"/><stop offset=".4269" stop-color="#bda29e"/><stop offset=".4743" stop-color="#d5c4c2"/><stop offset=".5119" stop-color="#ded0cf"/><stop offset=".5672" stop-color="#ddcecd"/><stop offset=".5949" stop-color="#d4c3c1"/><stop offset=".6344" stop-color="#bb9f9b"/><stop offset=".6502" stop-color="#ab8e88"/><stop offset=".6779" stop-color="#8d675e"/><stop offset=".6917" stop-color="#845a50"/><stop offset=".7095" stop-color="#956f58"/><stop offset=".7253" stop-color="#c1a271"/><stop offset=".7451" stop-color="#e3d493"/><stop offset=".7549" stop-color="#f0e8a0"/><stop offset=".7767" stop-color="#e7e8a0"/><stop offset=".7925" stop-color="#c5e098"/><stop offset=".8123" stop-color="#98d284"/><stop offset=".8241" stop-color="#79c871"/><stop offset=".8419" stop-color="#68c468"/><stop offset=".8794" stop-color="#5ebe5e"/><stop offset=".8834" stop-color="#5cbc5c"/><stop offset=".9012" stop-color="#59ab83"/><stop offset=".9170" stop-color="#51949d"/><stop offset=".9229" stop-color="#508cab"/><stop offset=".9308" stop-color="#5088c4"/><stop offset=".9802" stop-color="#4e78b8"/><stop offset="1.0000" stop-color="#4c73b7"/></linearGradient>
<linearGradient id="g119" x1="0" y1="0" x2="0" y2="1"><stop offset=".0000" stop-color="#5086c3"/><stop offset=".0415" stop-color="#5088c4"/><stop offset=".0632" stop-color="#508da7"/><stop offset=".0889" stop-color="#56a48c"/><stop offset=".1107" stop-color="#5cb56e"/><stop offset=".1206" stop-color="#5cbc5c"/><stop offset=".1601" stop-color="#69c469"/><stop offset=".1838" stop-color="#7dca73"/><stop offset=".2075" stop-color="#99d285"/><stop offset=".2411" stop-color="#cbe29a"/><stop offset=".2668" stop-color="#e9e8a0"/><stop offset=".2826" stop-color="#efe79f"/><stop offset=".2964" stop-color="#dbc98b"/><stop offset=".3142" stop-color="#ba996d"/><stop offset=".3320" stop-color="#956f58"/><stop offset=".3538" stop-color="#845a50"/><stop offset=".3755" stop-color="#916c64"/><stop offset=".4051" stop-color="#ac8e89"/><stop offset=".4249" stop-color="#bba09c"/><stop offset=".4743" stop-color="#d5c4c2"/><stop offset=".5119" stop-color="#ded0cf"/><stop offset=".5672" stop-color="#dccecd"/><stop offset=".5949" stop-color="#d4c2c0"/><stop offset=".6324" stop-color="#bca19d"/><stop offset=".6482" stop-color="#ac8f8a"/><stop offset=".6719" stop-color="#926d65"/><stop offset=".6858" stop-color="#875f55"/><stop offset=".6917" stop-color="#855b50"/><stop offset=".7095" stop-color="#967158"/><stop offset=".7253" stop-color="#c2a472"/><stop offset=".7451" stop-color="#e4d694"/><stop offset=".7549" stop-color="#f0e8a0"/><stop offset=".7767" stop-color="#e6e8a0"/><stop offset=".7925" stop-color="#c4e098"/><stop offset=".8123" stop-color="#97d283"/><stop offset=".8241" stop-color="#78c870"/><stop offset=".8419" stop-color="#68c468"/><stop offset=".8794" stop-color="#5ebe5e"/><stop offset=".8834" stop-color="#5cbc5c"/><stop offset=".8992" stop-color="#5aad7f"/><stop offset=".9170" stop-color="#51949d"/><stop offset=".9229" stop-color="#508cab"/><stop offset=".9308" stop-color="#5088c4"/><stop offset=".9802" stop-color="#4e78b8"/><stop offset="1.0000" stop-color="#4c73b7"/></linearGradient>
<linearGradient id="g120" x1="0" y1="0" x2="0" y2="1"><stop offset=".0000" stop-color="#5086c3"/><stop offset=".0415" stop-color="#5088c4"/><stop offset=".0632" stop-color="#508da7"/><stop offset=".0889" stop-color="#56a48c"/><stop offset=".1107" stop-color="#5cb56e"/><stop offset=".1206" stop-color="#5cbc5c"/><stop offset=".1601" stop-color="#69c469"/><stop offset=".1838" stop-color="#7dca73"/><stop offset=".2075" stop-color="#99d285"/><stop offset=".2411" stop-color="#cbe29a"/><stop offset=".2668" stop-color="#e9e8a0"/><stop offset=".2826" stop-color="#efe69f"/><stop offset=".2964" stop-color="#dbc98b"/><stop offset=".3142" stop-color="#ba996d"/><stop offset=".3320" stop-color="#946f58"/><stop offset=".3538" stop-color="#845a50"/><stop offset=".3755" stop-color="#916c64"/><stop offset=".4051" stop-color="#ab8e89"/><stop offset=".4229" stop-color="#ba9e9a"/><stop offset=".4664" stop-color="#d1bfbd"/><stop offset=".5000" stop-color="#dbcdcc"/><stop offset=".5237" stop-color="#ded0cf"/><stop offset=".5672" stop-color="#dccecd"/><stop offset=".5949" stop-color="#d3c2c0"/><stop offset=".6324" stop-color="#bba09c"/><stop offset=".6482" stop-color="#ab8e89"/><stop offset=".6779" stop-color="#8c655d"/><stop offset=".6897" stop-color="#845a50"/><stop offset=".7075" stop-color="#946f58"/><stop offset=".7154" stop-color="#a98663"/><stop offset=".7233" stop-color="#c0a070"/><stop offset=".7451" stop-color="#e4d794"/><stop offset=".7530" stop-color="#efe79f"/><stop offset=".7747" stop-color="#e8e8a0"/><stop offset=".7905" stop-color="#c8e199"/><stop offset=".8103" stop-color="#9bd385"/><stop offset=".8241" stop-color="#77c870"/><stop offset=".8419" stop-color="#68c468"/><stop offset=".8794" stop-color="#5ebe5e"/><stop offset=".8834" stop-color="#5cbc5d"/><stop offset=".9012" stop-color="#59ab83"/><stop offset=".9170" stop-color="#51949d"/><stop offset=".9229" stop-color="#508cab"/><stop offset=".9308" stop-color="#5088c4"/><stop offset=".9802" stop-color="#4e78b8"/><stop offset="1.0000" stop-color="#4c73b7"/></linearGradient>
<linearGradient id="g121" x1="0" y1="0" x2="0" y2="1"><stop offset=".0000" stop-color="#5086c3"/><stop offset=".0415" stop-color="#5088c4"/><stop offset=".0632" stop-color="#508da7"/><stop offset=".0889" stop-color="#56a48c"/><stop offset=".1107" stop-color="#5cb56e"/><stop offset=".1206" stop-color="#5cbc5c"/><stop offset=".1601" stop-color="#69c469"/><stop offset=".1838" stop-color="#7dca73"/><stop offset=".2075" stop-color="#9ad285"/><stop offset=".2431" stop-color="#cfe39b"/><stop offset=".2668" stop-color="#e9e8a0"/><stop offset=".2806" stop-color="#f0e8a0"/><stop offset=".2905" stop-color="#e4d694"/><stop offset=".3024" stop-color="#d0b880"/><stop offset=".3142" stop-color="#ba996c"/><stop offset=".3320" stop-color="#946f58"/><stop offset=".3538" stop-color="#845a50"/><stop offset=".3755" stop-color="#916b63"/><stop offset=".4051" stop-color="#ab8e89"/><stop offset=".4229" stop-color="#ba9e9a"/><stop offset=".4625" stop-color="#cfbcba"/><stop offset=".4901" stop-color="#d9cac8"/><stop offset=".5178" stop-color="#ddcfcf"/><stop offset=".5672" stop-color="#dccdcc"/><stop offset=".5949" stop-color="#d3c1bf"/><stop offset=".6324" stop-color="#ba9f9b"/><stop offset=".6462" stop-color="#ad908b"/><stop offset=".6700" stop-color="#926e66"/><stop offset=".6798" stop-color="#8a625a"/><stop offset=".6897" stop-color="#855b50"/><stop offset=".7075" stop-color="#957058"/><stop offset=".7233" stop-color="#c1a271"/><stop offset=".7431" stop-color="#e2d492"/><stop offset=".7530" stop-color="#f0e8a0"/><stop offset=".7747" stop-color="#e8e8a0"/><stop offset=".7905" stop-color="#c7e098"/><stop offset=".8103" stop-color="#99d285"/><stop offset=".8221" stop-color="#7ac971"/><stop offset=".8399" stop-color="#68c468"/><stop offset=".8794" stop-color="#5dbd5d"/><stop offset=".8834" stop-color="#5cbc5d"/><stop offset=".9012" stop-color="#59ab83"/><stop offset=".9170" stop-color="#51949d"/><stop offset=".9229" stop-color="#508cab"/><stop offset=".9308" stop-color="#5088c4"/><stop offset=".9802" stop-color="#4e78b8"/><stop offset="1.0000" stop-color="#4c73b7"/></linearGradient>
<linearGradient id="g122" x1="0" y1="0" x2="0" y2="1"><stop offset=".0000" stop-color="#5086c3"/><stop offset=".0415" stop-color="#5088c4"/><stop offset=".0632" stop-color="#508da7"/><stop offset=".0889" stop-color="#56a48c"/><stop offset=".1107" stop-color="#5cb56e"/><stop offset=".1206" stop-color="#5cbc5c"/><stop offset=".1601" stop-color="#69c469"/><stop offset=".1838" stop-color="#7dca73"/><stop offset=".2075" stop-color="#9ad285"/><stop offset=".2431" stop-color="#cfe49c"/><stop offset=".2668" stop-color="#e9e8a0"/><stop offset=".2806" stop-color="#f0e8a0"/><stop offset=".2945" stop-color="#dece8e"/><stop offset=".3142" stop-color="#ba996c"/><stop offset=".3320" stop-color="#946f58"/><stop offset=".3538" stop-color="#845a50"/><stop offset=".3755" stop-color="#916b63"/><stop offset=".4071" stop-color="#ad908b"/><stop offset=".4368" stop-color="#c2a9a5"/><stop offset=".4763" stop-color="#d5c4c2"/><stop offset=".5138" stop-color="#ddcfce"/><stop offset=".5672" stop-color="#dccdcc"/><stop offset=".5949" stop-color="#d3c1bf"/><stop offset=".6304" stop-color="#bba09c"/><stop offset=".6462" stop-color="#ac8f8a"/><stop offset=".6759" stop-color="#8c655d"/><stop offset=".6877" stop-color="#845b51"/><stop offset=".7075" stop-color="#967259"/><stop offset=".7233" stop-color="#c2a372"/><stop offset=".7431" stop-color="#e3d593"/><stop offset=".7530" stop-color="#f0e8a0"/><stop offset=".7747" stop-color="#e8e8a0"/><stop offset=".7905" stop-color="#c6e098"/><stop offset=".8083" stop-color="#9dd386"/><stop offset=".8182" stop-color="#83cc78"/><stop offset=".8221" stop-color="#78c870"/><stop offset=".8399" stop-color="#68c468"/><stop offset=".8794" stop-color="#5dbd5d"/><stop offset=".8834" stop-color="#5cbb5e"/><stop offset=".9012" stop-color="#59ab83"/><stop offset=".9170" stop-color="#51949d"/><stop offset=".9229" stop-color="#508cab"/><stop offset=".9308" stop-color="#5088c4"/><stop offset=".9802" stop-color="#4e78b8"/><stop offset="1.0000" stop-color="#4c73b7"/></linearGradient>
<linearGradient id="g123" x1="0" y1="0" x2="0" y2="1"><stop offset=".0000" stop-color="#5086c3"/><stop offset=".0415" stop-color="#5088c4"/><stop offset=".0632" stop-color="#508da7"/><stop offset=".0889" stop-color="#56a48c"/><stop offset=".1107" stop-color="#5cb56e"/><stop offset=".1206" stop-color="#5cbc5c"/><stop offset=".1601" stop-color="#69c469"/><stop offset=".1838" stop-color="#7dca73"/><stop offset=".2075" stop-color="#9ad285"/><stop offset=".2431" stop-color="#cfe49c"/><stop offset=".2668" stop-color="#e9e8a0"/><stop offset=".2806" stop-color="#f0e8a0"/><stop offset=".2945" stop-color="#decd8e"/><stop offset=".3142" stop-color="#b9996c"/><stop offset=".3320" stop-color="#946f58"/><stop offset=".3538" stop-color="#845a50"/><stop offset=".3755" stop-color="#906b63"/><stop offset=".4071" stop-color="#ad908b"/><stop offset=".4368" stop-color="#c2a9a5"/><stop offset=".4763" stop-color="#d5c4c2"/><stop offset=".5138" stop-color="#ddcfce"/><stop offset=".5652" stop-color="#dccdcc"/><stop offset=".5929" stop-color="#d3c2c0"/><stop offset=".6304" stop-color="#bb9f9b"/><stop offset=".6462" stop-color="#ab8e88"/><stop offset=".6739" stop-color="#8d665e"/><stop offset=".6877" stop-color="#845a50"/><stop offset=".7055" stop-color="#946f58"/><stop offset=".7213" stop-color="#c0a070"/><stop offset=".7431" stop-color="#e4d694"/><stop offset=".7530" stop-color="#f0e8a0"/><stop offset=".7747" stop-color="#e7e8a0"/><stop offset=".7905" stop-color="#c5e098"/><stop offset=".8103" stop-color="#97d283"/><stop offset=".8221" stop-color="#78c870"/><stop offset=".8399" stop-color="#68c468"/><stop offset=".8794" stop-color="#5dbd5d"/><stop offset=".8834" stop-color="#5cbb5e"/><stop offset=".9012" stop-color="#59aa84"/><stop offset=".9170" stop-color="#51949d"/><stop offset=".9229" stop-color="#508cab"/><stop offset=".9308" stop-color="#5088c4"/><stop offset=".9802" stop-color="#4e78b8"/><stop offset="1.0000" stop-color="#4c73b7"/></linearGradient>
<linearGradient id="g124" x1="0" y1="0" x2="0" y2="1"><stop offset=".0000" stop-color="#5086c3"/><stop offset=".0415" stop-color="#5088c4"/><stop offset=".0632" stop-color="#508da7"/><stop offset=".0889" stop-color="#56a48c"/><stop offset=".1107" stop-color="#5cb56e"/><stop offset=".1206" stop-color="#5cbc5c"/><stop offset=".1601" stop-color="#69c469"/><stop offset=".1838" stop-color="#7dca73"/><stop offset=".2055" stop-color="#97d283"/><stop offset=".2411" stop-color="#cce39b"/><stop offset=".2668" stop-color="#e9e8a0"/><stop offset=".2806" stop-color="#f0e8a0"/><stop offset=".2945" stop-color="#decd8e"/><stop offset=".3142" stop-color="#b9986c"/><stop offset=".3320" stop-color="#946f58"/><stop offset=".3538" stop-color="#845a50"/><stop offset=".3755" stop-color="#906b63"/><stop offset=".4071" stop-color="#ac908b"/><stop offset=".4368" stop-color="#c2a9a5"/><stop offset=".4763" stop-color="#d5c4c2"/><stop offset=".5138" stop-color="#ddcfce"/><stop offset=".5652" stop-color="#dccdcc"/><stop offset=".5929" stop-color="#d3c1bf"/><stop offset=".6304" stop-color="#ba9f9b"/><stop offset=".6443" stop-color="#ac8f8a"/><stop offset=".6680" stop-color="#926d65"/><stop offset=".6818" stop-color="#875e55"/><stop offset=".6877" stop-color="#855b50"/><stop offset=".7055" stop-color="#957058"/><stop offset=".7213" stop-color="#c1a271"/><stop offset=".7431" stop-color="#e5d795"/><stop offset=".7510" stop-color="#efe79f"/><stop offset=".7727" stop-color="#e8e8a0"/><stop offset=".7885" stop-color="#c8e199"/><stop offset=".8083" stop-color="#9ad385"/><stop offset=".8221" stop-color="#77c870"/><stop offset=".8399" stop-color="#68c468"/><stop offset=".8775" stop-color="#5ebe5e"/><stop offset=".8814" stop-color="#5cbc5c"/><stop offset=".8874" stop-color="#5cb868"/><stop offset=".9051" stop-color="#57a68a"/><stop offset=".9150" stop-color="#529898"/><stop offset=".9229" stop-color="#508cab"/><stop offset=".9308" stop-color="#5088c4"/><stop offset=".9802" stop-color="#4e78b8"/><stop offset="1.0000" stop-color="#4c73b7"/></linearGradient>
<linearGradient id="g125" x1="0" y1="0" x2="0" y2="1"><stop offset=".0000" stop-color="#5086c3"/><stop offset=".0415" stop-color="#5088c4"/><stop offset=".0632" stop-color="#508da7"/><stop offset=".0889" stop-color="#56a48c"/><stop offset=".1107" stop-color="#5cb56e"/><stop offset=".1206" stop-color="#5cbc5c"/><stop offset=".1601" stop-color="#6ac469"/><stop offset=".1838" stop-color="#7dca73"/><stop offset=".2055" stop-color="#97d284"/><stop offset=".2411" stop-color="#cce39b"/><stop offset=".2668" stop-color="#e9e8a0"/><stop offset=".2806" stop-color="#f0e8a0"/><stop offset=".2945" stop-color="#decd8e"/><stop offset=".3142" stop-color="#b9986c"/><stop offset=".3320" stop-color="#946f58"/><stop offset=".3538" stop-color="#845a50"/><stop offset=".3755" stop-color="#906b63"/><stop offset=".4071" stop-color="#ac8f8a"/><stop offset=".4368" stop-color="#c2a8a5"/><stop offset=".4763" stop-color="#d4c3c2"/><stop offset=".5138" stop-color="#ddcecd"/><stop offset=".5652" stop-color="#dbcdcc"/><stop offset=".5929" stop-color="#d2c1bf"/><stop offset=".6285" stop-color="#bba09c"/><stop offset=".6443" stop-color="#ab8e89"/><stop offset=".6739" stop-color="#8c655c"/><stop offset=".6858" stop-color="#845a50"/><stop offset=".7055" stop-color="#977259"/><stop offset=".7213" stop-color="#c2a372"/><stop offset=".7411" stop-color="#e3d493"/><stop offset=".7510" stop-color="#f0e8a0"/><stop offset=".7727" stop-color="#e8e8a0"/><stop offset=".7885" stop-color="#c7e199"/><stop offset=".8063" stop-color="#9ed387"/><stop offset=".8162" stop-color="#84cc78"/><stop offset=".8202" stop-color="#79c871"/><stop offset=".8379" stop-color="#68c468"/><stop offset=".8775" stop-color="#5ebe5e"/><stop offset=".8814" stop-color="#5cbc5c"/><stop offset=".9012" stop-color="#59aa84"/><stop offset=".9170" stop-color="#51949d"/><stop offset=".9229" stop-color="#508cab"/><stop offset=".9308" stop-color="#5088c4"/><stop offset=".9802" stop-color="#4e78b8"/><stop offset="1.0000" stop-color="#4c73b7"/></linearGradient>
<linearGradient id="g126" x1="0" y1="0" x2="0" y2="1"><stop offset=".0000" stop-color="#5086c3"/><stop offset=".0415" stop-color="#5088c4"/><stop offset=".0632" stop-color="#508da7"/><stop offset=".0889" stop-color="#56a48c"/><stop offset=".1107" stop-color="#5cb56e"/><stop offset=".1206" stop-color="#5cbc5c"/><stop offset=".1601" stop-color="#6ac469"/><stop offset=".1838" stop-color="#7dca73"/><stop offset=".2055" stop-color="#97d284"/><stop offset=".2411" stop-color="#cce39b"/><stop offset=".2668" stop-color="#e9e8a0"/><stop offset=".2806" stop-color="#f0e8a0"/><stop offset=".2945" stop-color="#decc8e"/><stop offset=".3123" stop-color="#bd9d6e"/><stop offset=".3320" stop-color="#946f58"/><stop offset=".3538" stop-color="#845a50"/><stop offset=".3755" stop-color="#906b63"/><stop offset=".4071" stop-color="#ac8f8a"/><stop offset=".4368" stop-color="#c2a8a4"/><stop offset=".4763" stop-color="#d4c3c1"/><stop offset=".5138" stop-color="#ddcecd"/><stop offset=".5652" stop-color="#dbcccb"/><stop offset=".5909" stop-color="#d3c1c0"/><stop offset=".6285" stop-color="#ba9f9b"/><stop offset=".6423" stop-color="#ad908b"/><stop offset=".6660" stop-color="#926e66"/><stop offset=".6779" stop-color="#896057"/><stop offset=".6858" stop-color="#855b50"/><stop offset=".7036" stop-color="#956f58"/><stop offset=".7194" stop-color="#c0a070"/><stop offset=".7411" stop-color="#e3d593"/><stop offset=".7510" stop-color="#f0e8a0"/><stop offset=".7727" stop-color="#e8e8a0"/><stop offset=".7885" stop-color="#c6e098"/><stop offset=".8063" stop-color="#9dd386"/><stop offset=".8182" stop-color="#7dca74"/><stop offset=".8202" stop-color="#78c870"/><stop offset=".8379" stop-color="#68c468"/><stop offset=".8775" stop-color="#5ebe5e"/><stop offset=".8814" stop-color="#5cbc5c"/><stop offset=".9012" stop-color="#59aa84"/><stop offset=".9170" stop-color="#51949d"/><stop offset=".9229" stop-color="#508cab"/><stop offset=".9308" stop-color="#5088c4"/><stop offset=".9802" stop-color="#4e78b8"/><stop offset="1.0000" stop-color="#4c73b7"/></linearGradient>
<linearGradient id="g127" x1="0" y1="0" x2="0" y2="1"><stop offset=".0000" stop-color="#5086c3"/><stop offset=".0415" stop-color="#5088c4"/><stop offset=".0632" stop-color="#508da7"/><stop offset=".0889" stop-color="#56a48c"/><stop offset=".1107" stop-color="#5cb56e"/><stop offset=".1206" stop-color="#5cbc5c"/><stop offset=".1601" stop-color="#6ac469"/><stop offset=".1838" stop-color="#7dca73"/><stop offset=".2055" stop-color="#97d284"/><stop offset=".2391" stop-color="#cae29a"/><stop offset=".2668" stop-color="#e9e8a0"/><stop offset=".2806" stop-color="#f0e8a0"/><stop offset=".2945" stop-color="#ddcc8d"/><stop offset=".3123" stop-color="#bd9d6e"/><stop offset=".3320" stop-color="#946f58"/><stop offset=".3538" stop-color="#845a50"/><stop offset=".3755" stop-color="#906b63"/><stop offset=".4071" stop-color="#ac8f8a"/><stop offset=".4348" stop-color="#c1a7a3"/><stop offset=".4763" stop-color="#d4c3c1"/><stop offset=".5138" stop-color="#dccecd"/><stop offset=".5652" stop-color="#dbcccb"/><stop offset=".5909" stop-color="#d3c1bf"/><stop offset=".6265" stop-color="#bca09c"/><stop offset=".6423" stop-color="#ac8f8a"/><stop offset=".6719" stop-color="#8c655d"/><stop offset=".6838" stop-color="#845a50"/><stop offset=".7036" stop-color="#967158"/><stop offset=".7194" stop-color="#c1a271"/><stop offset=".7411" stop-color="#e4d694"/><stop offset=".7510" stop-color="#f0e8a0"/><stop offset=".7727" stop-color="#e7e8a0"/><stop offset=".7885" stop-color="#c5e098"/><stop offset=".8083" stop-color="#97d283"/><stop offset=".8202" stop-color="#77c870"/><stop offset=".8379" stop-color="#68c468"/><stop offset=".8775" stop-color="#5ebe5e"/><stop offset=".8814" stop-color="#5cbc5c"/><stop offset=".8992" stop-color="#59ac81"/><stop offset=".9170" stop-color="#51949d"/><stop offset=".9229" stop-color="#508cab"/><stop offset=".9308" stop-color="#5088c4"/><stop offset=".9802" stop-color="#4e78b8"/><stop offset="1.0000" stop-color="#4c73b7"/></linearGradient>
<linearGradient id="g128" x1="0" y1="0" x2="0" y2="1"><stop offset=".0000" stop-color="#5086c3"/><stop offset=".0415" stop-color="#5088c4"/><stop offset=".0632" stop-color="#508da7"/><stop offset=".0889" stop-color="#56a48c"/><stop offset=".1107" stop-color="#5cb56e"/><stop offset=".1206" stop-color="#5cbc5c"/><stop offset=".1601" stop-color="#6ac469"/><stop offset=".1838" stop-color="#7dca73"/><stop offset=".2055" stop-color="#97d284"/><stop offset=".2391" stop-color="#cae29a"/><stop offset=".2668" stop-color="#e9e8a0"/><stop offset=".2806" stop-color="#f0e8a0"/><stop offset=".2945" stop-color="#ddcc8d"/><stop offset=".3123" stop-color="#bd9d6e"/><stop offset=".3320" stop-color="#946f58"/><stop offset=".3538" stop-color="#845a50"/><stop offset=".3755" stop-color="#906b63"/><stop offset=".4071" stop-color="#ac8f8a"/><stop offset=".4328" stop-color="#c0a5a1"/><stop offset=".4763" stop-color="#d4c3c1"/><stop offset=".5138" stop-color="#dccecd"/><stop offset=".5652" stop-color="#dbcccb"/><stop offset=".5909" stop-color="#d3c1bf"/><stop offset=".6265" stop-color="#bba09c"/><stop offset=".6423" stop-color="#ac8e89"/><stop offset=".6719" stop-color="#8c655c"/><stop offset=".6838" stop-color="#845a50"/><stop offset=".7036" stop-color="#967259"/><stop offset=".7194" stop-color="#c1a271"/><stop offset=".7411" stop-color="#e4d794"/><stop offset=".7510" stop-color="#f0e8a0"/><stop offset=".7727" stop-color="#e7e8a0"/><stop offset=".7885" stop-color="#c4e098"/><stop offset=".8083" stop-color="#96d283"/><stop offset=".8202" stop-color="#77c870"/><stop offset=".8379" stop-color="#68c468"/><stop offset=".8775" stop-color="#5ebe5e"/><stop offset=".8814" stop-color="#5cbc5c"/><stop offset=".8972" stop-color="#5aae7d"/><stop offset=".9091" stop-color="#55a090"/><stop offset=".9170" stop-color="#51949d"/><stop offset=".9229" stop-color="#508cab"/><stop offset=".9308" stop-color="#5088c4"/><stop offset=".9802" stop-color="#4e78b8"/><stop offset="1.0000" stop-color="#4c73b7"/></linearGradient>
<linearGradient id="g129" x1="0" y1="0" x2="0" y2="1"><stop offset=".0000" stop-color="#5086c3"/><stop offset=".0415" stop-color="#5088c4"/><stop offset=".0632" stop-color="#508da7"/><stop offset=".0889" stop-color="#56a48c"/><stop offset=".1107" stop-color="#5cb56e"/><stop offset=".1206" stop-color="#5cbc5c"/><stop offset=".1601" stop-color="#6ac469"/><stop offset=".1838" stop-color="#7dca73"/><stop offset=".2055" stop-color="#97d284"/><stop offset=".2391" stop-color="#cae29a"/><stop offset=".2668" stop-color="#e9e8a0"/><stop offset=".2806" stop-color="#f0e8a0"/><stop offset=".2945" stop-color="#ddcc8d"/><stop offset=".3123" stop-color="#bd9d6e"/><stop offset=".3320" stop-color="#946f58"/><stop offset=".3538" stop-color="#845a50"/><stop offset=".3755" stop-color="#906b63"/><stop offset=".4071" stop-color="#ac8f8a"/><stop offset=".4328" stop-color="#c0a5a1"/><stop offset=".4763" stop-color="#d4c3c1"/><stop offset=".5138" stop-color="#dccecd"/><stop offset=".5652" stop-color="#dbcccb"/><stop offset=".5909" stop-color="#d3c1bf"/><stop offset=".6265" stop-color="#bba09c"/><stop offset=".6423" stop-color="#ac8e89"/><stop offset=".6719" stop-color="#8c655c"/><stop offset=".6838" stop-color="#845a50"/><stop offset=".7036" stop-color="#967259"/><stop offset=".7194" stop-color="#c1a271"/><stop offset=".7411" stop-color="#e4d794"/><stop offset=".7510" stop-color="#f0e8a0"/><stop offset=".7727" stop-color="#e7e8a0"/><stop offset=".7885" stop-color="#c4e098"/><stop offset=".8083" stop-color="#96d283"/><stop offset=".8202" stop-color="#77c870"/><stop offset=".8379" stop-color="#68c468"/><stop offset=".8775" stop-color="#5ebe5e"/><stop offset=".8814" stop-color="#5cbc5c"/><stop offset=".8972" stop-color="#5aae7d"/><stop offset=".9091" stop-color="#55a090"/><stop offset=".9170" stop-color="#51949d"/><stop offset=".9229" stop-color="#508cab"/><stop offset=".9308" stop-color="#5088c4"/><stop offset=".9802" stop-color="#4e78b8"/><stop offset="1.0000" stop-color="#4c73b7"/></linearGradient>
<linearGradient id="g130" x1="0" y1="0" x2="0" y2="1"><stop offset=".0000" stop-color="#5086c3"/><stop offset=".0415" stop-color="#5088c4"/><stop offset=".0632" stop-color="#508da7"/><stop offset=".0889" stop-color="#56a48c"/><stop offset=".1107" stop-color="#5cb56e"/><stop offset=".1206" stop-color="#5cbc5c"/><stop offset=".1601" stop-color="#6ac469"/><stop offset=".1838" stop-color="#7dca73"/><stop offset=".2055" stop-color="#97d284"/><stop offset=".2391" stop-color="#cae29a"/><stop offset=".2668" stop-color="#e9e8a0"/><stop offset=".2806" stop-color="#f0e8a0"/><stop offset=".2945" stop-color="#ddcc8d"/><stop offset=".3123" stop-color="#bd9d6e"/><stop offset=".3320" stop-color="#946f58"/><stop offset=".3538" stop-color="#845a50"/><stop offset=".3755" stop-color="#906b63"/><stop offset=".4071" stop-color="#ac8f8a"/><stop offset=".4328" stop-color="#c0a5a1"/><stop offset=".4763" stop-color="#d4c3c1"/><stop offset=".5138" stop-color="#dccecd"/><stop offset=".5652" stop-color="#dbcccb"/><stop offset=".5909" stop-color="#d3c1bf"/><stop offset=".6265" stop-color="#bba09c"/><stop offset=".6423" stop-color="#ac8e89"/><stop offset=".6719" stop-color="#8c655c"/><stop offset=".6838" stop-color="#845a50"/><stop offset=".7036" stop-color="#967259"/><stop offset=".7194" stop-color="#c1a271"/><stop offset=".7411" stop-color="#e4d794"/><stop offset=".7510" stop-color="#f0e8a0"/><stop offset=".7727" stop-color="#e7e8a0"/><stop offset=".7885" stop-color="#c4e098"/><stop offset=".8083" stop-color="#96d283"/><stop offset=".8202" stop-color="#77c870"/><stop offset=".8379" stop-color="#68c468"/><stop offset=".8775" stop-color="#5ebe5e"/><stop offset=".8814" stop-color="#5cbc5c"/><stop offset=".8972" stop-color="#5aae7d"/><stop offset=".9091" stop-color="#55a090"/><stop offset=".9170" stop-color="#51949d"/><stop offset=".9229" stop-color="#508cab"/><stop offset=".9308" stop-color="#5088c4"/><stop offset=".9802" stop-color="#4e78b8"/><stop offset="1.0000" stop-color="#4c73b7"/></linearGradient>
<linearGradient id="g131" x1="0" y1="0" x2="0" y2="1"><stop offset=".0000" stop-color="#5086c3"/><stop offset=".0415" stop-color="#5088c4"/><stop offset=".0632" stop-color="#508da7"/><stop offset=".0889" stop-color="#56a48c"/><stop offset=".1107" stop-color="#5cb56e"/><stop offset=".1206" stop-color="#5cbc5c"/><stop offset=".1601" stop-color="#6ac469"/><stop offset=".1838" stop-color="#7dca73"/><stop offset=".2055" stop-color="#97d284"/><stop offset=".2391" stop-color="#cae29a"/><stop offset=".2668" stop-color="#e9e8a0"/><stop offset=".2806" stop-color="#f0e8a0"/><stop offset=".2945" stop-color="#ddcc8d"/><stop offset=".3123" stop-color="#bd9d6e"/><stop offset=".3320" stop-color="#946f58"/><stop offset=".3538" stop-color="#845a50"/><stop offset=".3755" stop-color="#906b63"/><stop offset=".4071" stop-color="#ac8f8a"/><stop offset=".4328" stop-color="#c0a5a1"/><stop offset=".4763" stop-color="#d4c3c1"/><stop offset=".5138" stop-color="#dccecd"/><stop offset=".5652" stop-color="#dbcccb"/><stop offset=".5909" stop-color="#d3c1bf"/><stop offset=".6265" stop-color="#bba09c"/><stop offset=".6423" stop-color="#ac8e89"/><stop offset=".6719" stop-color="#8c655c"/><stop offset=".6838" stop-color="#845a50"/><stop offset=".7036" stop-color="#967259"/><stop offset=".7194" stop-color="#c1a271"/><stop offset=".7411" stop-color="#e4d794"/><stop offset=".7510" stop-color="#f0e8a0"/><stop offset=".7727" stop-color="#e7e8a0"/><stop offset=".7885" stop-color="#c4e098"/><stop offset=".8083" stop-color="#96d283"/><stop offset=".8202" stop-color="#77c870"/><stop offset=".8379" stop-color="#68c468"/><stop offset=".8775" stop-color="#5ebe5e"/><stop offset=".8814" stop-color="#5cbc5c"/><stop offset=".8972" stop-color="#5aae7d"/><stop offset=".9091" stop-color="#55a090"/><stop offset=".9170" stop-color="#51949d"/><stop offset=".9229" stop-color="#508cab"/><stop offset=".9308" stop-color="#5088c4"/><stop offset=".9802" stop-color="#4e78b8"/><stop offset="1.0000" stop-color="#4c73b7"/></linearGradient><clipPath id="cpA"><rect x="82.9" y="2.5" width="394.1" height="253"/></clipPath><clipPath id="cpC"><rect x="566.2" y="2.7" width="393.3" height="282"/></clipPath><clipPath id="cpD"><rect x="566.2" y="368.7" width="393.3" height="282.3"/></clipPath><clipPath id="cpB"><rect x="82" y="371.5" width="398" height="277.3"/></clipPath></defs>
<g clip-path="url(#cpA)"><g shape-rendering="crispEdges"><rect x="83" y="2.5" width="3" height="253.0" fill="url(#g0)"/>
<rect x="86" y="2.5" width="3" height="253.0" fill="url(#g1)"/>
<rect x="89" y="2.5" width="3" height="253.0" fill="url(#g2)"/>
<rect x="92" y="2.5" width="3" height="253.0" fill="url(#g3)"/>
<rect x="95" y="2.5" width="3" height="253.0" fill="url(#g4)"/>
<rect x="98" y="2.5" width="3" height="253.0" fill="url(#g5)"/>
<rect x="101" y="2.5" width="3" height="253.0" fill="url(#g6)"/>
<rect x="104" y="2.5" width="3" height="253.0" fill="url(#g7)"/>
<rect x="107" y="2.5" width="3" height="253.0" fill="url(#g8)"/>
<rect x="110" y="2.5" width="3" height="253.0" fill="url(#g9)"/>
<rect x="113" y="2.5" width="3" height="253.0" fill="url(#g10)"/>
<rect x="116" y="2.5" width="3" height="253.0" fill="url(#g11)"/>
<rect x="119" y="2.5" width="3" height="253.0" fill="url(#g12)"/>
<rect x="122" y="2.5" width="3" height="253.0" fill="url(#g13)"/>
<rect x="125" y="2.5" width="3" height="253.0" fill="url(#g14)"/>
<rect x="128" y="2.5" width="3" height="253.0" fill="url(#g15)"/>
<rect x="131" y="2.5" width="3" height="253.0" fill="url(#g16)"/>
<rect x="134" y="2.5" width="3" height="253.0" fill="url(#g17)"/>
<rect x="137" y="2.5" width="3" height="253.0" fill="url(#g18)"/>
<rect x="140" y="2.5" width="3" height="253.0" fill="url(#g19)"/>
<rect x="143" y="2.5" width="3" height="253.0" fill="url(#g20)"/>
<rect x="146" y="2.5" width="3" height="253.0" fill="url(#g21)"/>
<rect x="149" y="2.5" width="3" height="253.0" fill="url(#g22)"/>
<rect x="152" y="2.5" width="3" height="253.0" fill="url(#g23)"/>
<rect x="155" y="2.5" width="3" height="253.0" fill="url(#g24)"/>
<rect x="158" y="2.5" width="3" height="253.0" fill="url(#g25)"/>
<rect x="161" y="2.5" width="3" height="253.0" fill="url(#g26)"/>
<rect x="164" y="2.5" width="3" height="253.0" fill="url(#g27)"/>
<rect x="167" y="2.5" width="3" height="253.0" fill="url(#g28)"/>
<rect x="170" y="2.5" width="3" height="253.0" fill="url(#g29)"/>
<rect x="173" y="2.5" width="3" height="253.0" fill="url(#g30)"/>
<rect x="176" y="2.5" width="3" height="253.0" fill="url(#g31)"/>
<rect x="179" y="2.5" width="3" height="253.0" fill="url(#g32)"/>
<rect x="182" y="2.5" width="3" height="253.0" fill="url(#g33)"/>
<rect x="185" y="2.5" width="3" height="253.0" fill="url(#g34)"/>
<rect x="188" y="2.5" width="3" height="253.0" fill="url(#g35)"/>
<rect x="191" y="2.5" width="3" height="253.0" fill="url(#g36)"/>
<rect x="194" y="2.5" width="3" height="253.0" fill="url(#g37)"/>
<rect x="197" y="2.5" width="3" height="253.0" fill="url(#g38)"/>
<rect x="200" y="2.5" width="3" height="253.0" fill="url(#g39)"/>
<rect x="203" y="2.5" width="3" height="253.0" fill="url(#g40)"/>
<rect x="206" y="2.5" width="3" height="253.0" fill="url(#g41)"/>
<rect x="209" y="2.5" width="3" height="253.0" fill="url(#g42)"/>
<rect x="212" y="2.5" width="3" height="253.0" fill="url(#g43)"/>
<rect x="215" y="2.5" width="3" height="253.0" fill="url(#g44)"/>
<rect x="218" y="2.5" width="3" height="253.0" fill="url(#g45)"/>
<rect x="221" y="2.5" width="3" height="253.0" fill="url(#g46)"/>
<rect x="224" y="2.5" width="3" height="253.0" fill="url(#g47)"/>
<rect x="227" y="2.5" width="3" height="253.0" fill="url(#g48)"/>
<rect x="230" y="2.5" width="3" height="253.0" fill="url(#g49)"/>
<rect x="233" y="2.5" width="3" height="253.0" fill="url(#g50)"/>
<rect x="236" y="2.5" width="3" height="253.0" fill="url(#g51)"/>
<rect x="239" y="2.5" width="3" height="253.0" fill="url(#g52)"/>
<rect x="242" y="2.5" width="3" height="253.0" fill="url(#g53)"/>
<rect x="245" y="2.5" width="3" height="253.0" fill="url(#g54)"/>
<rect x="248" y="2.5" width="3" height="253.0" fill="url(#g55)"/>
<rect x="251" y="2.5" width="3" height="253.0" fill="url(#g56)"/>
<rect x="254" y="2.5" width="3" height="253.0" fill="url(#g57)"/>
<rect x="257" y="2.5" width="3" height="253.0" fill="url(#g58)"/>
<rect x="260" y="2.5" width="3" height="253.0" fill="url(#g59)"/>
<rect x="263" y="2.5" width="3" height="253.0" fill="url(#g60)"/>
<rect x="266" y="2.5" width="3" height="253.0" fill="url(#g61)"/>
<rect x="269" y="2.5" width="3" height="253.0" fill="url(#g62)"/>
<rect x="272" y="2.5" width="3" height="253.0" fill="url(#g63)"/>
<rect x="275" y="2.5" width="3" height="253.0" fill="url(#g64)"/>
<rect x="278" y="2.5" width="3" height="253.0" fill="url(#g65)"/>
<rect x="281" y="2.5" width="3" height="253.0" fill="url(#g66)"/>
<rect x="284" y="2.5" width="3" height="253.0" fill="url(#g67)"/>
<rect x="287" y="2.5" width="3" height="253.0" fill="url(#g68)"/>
<rect x="290" y="2.5" width="3" height="253.0" fill="url(#g69)"/>
<rect x="293" y="2.5" width="3" height="253.0" fill="url(#g70)"/>
<rect x="296" y="2.5" width="3" height="253.0" fill="url(#g71)"/>
<rect x="299" y="2.5" width="3" height="253.0" fill="url(#g72)"/>
<rect x="302" y="2.5" width="3" height="253.0" fill="url(#g73)"/>
<rect x="305" y="2.5" width="3" height="253.0" fill="url(#g74)"/>
<rect x="308" y="2.5" width="3" height="253.0" fill="url(#g75)"/>
<rect x="311" y="2.5" width="3" height="253.0" fill="url(#g76)"/>
<rect x="314" y="2.5" width="3" height="253.0" fill="url(#g77)"/>
<rect x="317" y="2.5" width="3" height="253.0" fill="url(#g78)"/>
<rect x="320" y="2.5" width="3" height="253.0" fill="url(#g79)"/>
<rect x="323" y="2.5" width="3" height="253.0" fill="url(#g80)"/>
<rect x="326" y="2.5" width="3" height="253.0" fill="url(#g81)"/>
<rect x="329" y="2.5" width="3" height="253.0" fill="url(#g82)"/>
<rect x="332" y="2.5" width="3" height="253.0" fill="url(#g83)"/>
<rect x="335" y="2.5" width="3" height="253.0" fill="url(#g84)"/>
<rect x="338" y="2.5" width="3" height="253.0" fill="url(#g85)"/>
<rect x="341" y="2.5" width="3" height="253.0" fill="url(#g86)"/>
<rect x="344" y="2.5" width="3" height="253.0" fill="url(#g87)"/>
<rect x="347" y="2.5" width="3" height="253.0" fill="url(#g88)"/>
<rect x="350" y="2.5" width="3" height="253.0" fill="url(#g89)"/>
<rect x="353" y="2.5" width="3" height="253.0" fill="url(#g90)"/>
<rect x="356" y="2.5" width="3" height="253.0" fill="url(#g91)"/>
<rect x="359" y="2.5" width="3" height="253.0" fill="url(#g92)"/>
<rect x="362" y="2.5" width="3" height="253.0" fill="url(#g93)"/>
<rect x="365" y="2.5" width="3" height="253.0" fill="url(#g94)"/>
<rect x="368" y="2.5" width="3" height="253.0" fill="url(#g95)"/>
<rect x="371" y="2.5" width="3" height="253.0" fill="url(#g96)"/>
<rect x="374" y="2.5" width="3" height="253.0" fill="url(#g97)"/>
<rect x="377" y="2.5" width="3" height="253.0" fill="url(#g98)"/>
<rect x="380" y="2.5" width="3" height="253.0" fill="url(#g99)"/>
<rect x="383" y="2.5" width="3" height="253.0" fill="url(#g100)"/>
<rect x="386" y="2.5" width="3" height="253.0" fill="url(#g101)"/>
<rect x="389" y="2.5" width="3" height="253.0" fill="url(#g102)"/>
<rect x="392" y="2.5" width="3" height="253.0" fill="url(#g103)"/>
<rect x="395" y="2.5" width="3" height="253.0" fill="url(#g104)"/>
<rect x="398" y="2.5" width="3" height="253.0" fill="url(#g105)"/>
<rect x="401" y="2.5" width="3" height="253.0" fill="url(#g106)"/>
<rect x="404" y="2.5" width="3" height="253.0" fill="url(#g107)"/>
<rect x="407" y="2.5" width="3" height="253.0" fill="url(#g108)"/>
<rect x="410" y="2.5" width="3" height="253.0" fill="url(#g109)"/>
<rect x="413" y="2.5" width="3" height="253.0" fill="url(#g110)"/>
<rect x="416" y="2.5" width="3" height="253.0" fill="url(#g111)"/>
<rect x="419" y="2.5" width="3" height="253.0" fill="url(#g112)"/>
<rect x="422" y="2.5" width="3" height="253.0" fill="url(#g113)"/>
<rect x="425" y="2.5" width="3" height="253.0" fill="url(#g114)"/>
<rect x="428" y="2.5" width="3" height="253.0" fill="url(#g115)"/>
<rect x="431" y="2.5" width="3" height="253.0" fill="url(#g116)"/>
<rect x="434" y="2.5" width="3" height="253.0" fill="url(#g117)"/>
<rect x="437" y="2.5" width="3" height="253.0" fill="url(#g118)"/>
<rect x="440" y="2.5" width="3" height="253.0" fill="url(#g119)"/>
<rect x="443" y="2.5" width="3" height="253.0" fill="url(#g120)"/>
<rect x="446" y="2.5" width="3" height="253.0" fill="url(#g121)"/>
<rect x="449" y="2.5" width="3" height="253.0" fill="url(#g122)"/>
<rect x="452" y="2.5" width="3" height="253.0" fill="url(#g123)"/>
<rect x="455" y="2.5" width="3" height="253.0" fill="url(#g124)"/>
<rect x="458" y="2.5" width="3" height="253.0" fill="url(#g125)"/>
<rect x="461" y="2.5" width="3" height="253.0" fill="url(#g126)"/>
<rect x="464" y="2.5" width="3" height="253.0" fill="url(#g127)"/>
<rect x="467" y="2.5" width="3" height="253.0" fill="url(#g128)"/>
<rect x="470" y="2.5" width="3" height="253.0" fill="url(#g129)"/>
<rect x="473" y="2.5" width="3" height="253.0" fill="url(#g130)"/>
<rect x="476" y="2.5" width="1" height="253.0" fill="url(#g131)"/></g></g>
<defs><linearGradient id="cbg" x1="0" y1="0" x2="1" y2="0"><stop offset="0" stop-color="#2c3c9c"/><stop offset="0.07" stop-color="#4a74bc"/><stop offset="0.13" stop-color="#5a9cd4"/><stop offset="0.165" stop-color="#44b4c0"/><stop offset="0.22" stop-color="#50c060"/><stop offset="0.26" stop-color="#4cc04c"/><stop offset="0.33" stop-color="#90d070"/><stop offset="0.4" stop-color="#d0e890"/><stop offset="0.48" stop-color="#f6ee92"/><stop offset="0.53" stop-color="#e8d890"/><stop offset="0.6" stop-color="#c0a070"/><stop offset="0.68" stop-color="#9a7050"/><stop offset="0.73" stop-color="#7e4e44"/><stop offset="0.78" stop-color="#a07870"/><stop offset="0.87" stop-color="#c8a8a8"/><stop offset="0.95" stop-color="#e8dcdc"/><stop offset="1" stop-color="#f8f4f4"/></linearGradient></defs>
<rect x="334.2" y="21.9" width="58.5" height="11.9" fill="url(#cbg)" stroke="#fff" stroke-width="2.4"/>
<path d="M82.9,56.6 h7.2 M477,56.6 h-6.3 M82.9,105.4 h7.2 M477,105.4 h-6.3 M82.9,156 h7.2 M477,156 h-6.3 M82.9,207.1 h7.2 M477,207.1 h-6.3 M214.1,255.4 v-8 M214.1,2.5 v7.5 M345.5,255.4 v-8 M345.5,2.5 v7.5" stroke="#000" stroke-width="2.9" fill="none"/>
<line x1="148.45" y1="1" x2="148.45" y2="255" stroke="#2e2828" stroke-width="5.1" stroke-dasharray="13.9 4.2" stroke-dashoffset="0"/>
<line x1="214.1" y1="4.1" x2="214.1" y2="255" stroke="#4a4444" stroke-width="3.9" stroke-dasharray="8.6 9.4" stroke-dashoffset="0"/>
<line x1="279.7" y1="2.2" x2="279.7" y2="255" stroke="#7d777c" stroke-width="3.2" stroke-dasharray="12 6.1" stroke-dashoffset="0"/>
<rect x="82.9" y="2.5" width="394.1" height="252.9" fill="none" stroke="#000" stroke-width="2.7"/>
<path d="M81.6,593.3 h5.9 M480,593.3 h-5.5 M161.0,649 v-5.5 M161.0,371.5 v5 M81.6,537.9 h5.9 M480,537.9 h-5.5 M240.7,649 v-5.5 M240.7,371.5 v5 M81.6,482.4 h5.9 M480,482.4 h-5.5 M320.4,649 v-5.5 M320.4,371.5 v5 M81.6,427.0 h5.9 M480,427.0 h-5.5 M400.1,649 v-5.5 M400.1,371.5 v5" stroke="#000" stroke-width="2.8" fill="none"/>
<g clip-path="url(#cpB)" fill="none" stroke-linecap="butt" stroke-linejoin="round"><path d="M83.0,475.99 L84.5,475.08 L86.0,474.19 L87.5,473.32 L89.0,472.46 L90.5,471.63 L92.0,470.82 L93.5,470.02 L95.0,469.25 L96.5,468.49 L98.0,467.75 L99.5,467.03 L101.0,466.33 L102.5,465.65 L104.0,464.98 L105.5,464.34 L107.0,463.71 L108.5,463.10 L110.0,462.51 L111.5,461.93 L113.0,461.37 L114.5,460.84 L116.0,460.31 L117.5,459.81 L119.0,459.32 L120.5,458.85 L122.0,458.40 L123.5,457.96 L125.0,457.54 L126.5,457.14 L128.0,456.76 L129.5,456.39 L131.0,456.03 L132.5,455.70 L134.0,455.38 L135.5,455.07 L137.0,454.79 L138.5,454.52 L140.0,454.26 L141.5,454.02 L143.0,453.80 L144.5,453.59 L146.0,453.39 L147.5,453.22 L149.0,453.05 L150.5,452.91 L152.0,452.77 L153.5,452.66 L155.0,452.56 L156.5,452.47 L158.0,452.39 L159.5,452.34 L161.0,452.29 L162.5,452.26 L164.0,452.25 L165.5,452.25 L167.0,452.26 L168.5,452.29 L170.0,452.33 L171.5,452.39 L173.0,452.45 L174.5,452.54 L176.0,452.63 L177.5,452.74 L179.0,452.86 L180.5,453.00 L182.0,453.15 L183.5,453.31 L185.0,453.49 L186.5,453.67 L188.0,453.87 L189.5,454.09 L191.0,454.31 L192.5,454.55 L194.0,454.80 L195.5,455.06 L197.0,455.34 L198.5,455.62 L200.0,455.92 L201.5,456.23 L203.0,456.55 L204.5,456.89 L206.0,457.23 L207.5,457.59 L209.0,457.96 L210.5,458.34 L212.0,458.73 L213.5,459.13 L215.0,459.54 L216.5,459.96 L218.0,460.40 L219.5,460.84 L221.0,461.29 L222.5,461.76 L224.0,462.23 L225.5,462.72 L227.0,463.22 L228.5,463.72 L230.0,464.24 L231.5,464.76 L233.0,465.30 L234.5,465.84 L236.0,466.40 L237.5,466.96 L239.0,467.54 L240.5,468.12 L242.0,468.71 L243.5,469.31 L245.0,469.92 L246.5,470.54 L248.0,471.16 L249.5,471.80 L251.0,472.44 L252.5,473.10 L254.0,473.76 L255.5,474.43 L257.0,475.10 L258.5,475.79 L260.0,476.48 L261.5,477.18 L263.0,477.89 L264.5,478.61 L266.0,479.33 L267.5,480.06 L269.0,480.80 L270.5,481.54 L272.0,482.29 L273.5,483.05 L275.0,483.81 L276.5,484.58 L278.0,485.36 L279.5,486.14 L281.0,486.93 L282.5,487.73 L284.0,488.53 L285.5,489.33 L287.0,490.14 L288.5,490.96 L290.0,491.78 L291.5,492.61 L293.0,493.44 L294.5,494.28 L296.0,495.12 L297.5,495.97 L299.0,496.82 L300.5,497.68 L302.0,498.54 L303.5,499.40 L305.0,500.27 L306.5,501.15 L308.0,502.02 L309.5,502.90 L311.0,503.78 L312.5,504.67 L314.0,505.56 L315.5,506.45 L317.0,507.35 L318.5,508.25 L320.0,509.15 L321.5,510.06 L323.0,510.96 L324.5,511.87 L326.0,512.79 L327.5,513.70 L329.0,514.62 L330.5,515.53 L332.0,516.45 L333.5,517.37 L335.0,518.30 L336.5,519.22 L338.0,520.15 L339.5,521.07 L341.0,522.00 L342.5,522.93 L344.0,523.86 L345.5,524.79 L347.0,525.72 L348.5,526.65 L350.0,527.58 L351.5,528.51 L353.0,529.45 L354.5,530.38 L356.0,531.31 L357.5,532.24 L359.0,533.17 L360.5,534.10 L362.0,535.03 L363.5,535.96 L365.0,536.88 L366.5,537.81 L368.0,538.73 L369.5,539.66 L371.0,540.58 L372.5,541.50 L374.0,542.42 L375.5,543.34 L377.0,544.25 L378.5,545.16 L380.0,546.07 L381.5,546.98 L383.0,547.89 L384.5,548.79 L386.0,549.69 L387.5,550.59 L389.0,551.48 L390.5,552.37 L392.0,553.26 L393.5,554.15 L395.0,555.03 L396.5,555.91 L398.0,556.78 L399.5,557.65 L401.0,558.52 L402.5,559.38 L404.0,560.23 L405.5,561.09 L407.0,561.94 L408.5,562.78 L410.0,563.62 L411.5,564.45 L413.0,565.28 L414.5,566.11 L416.0,566.93 L417.5,567.74 L419.0,568.55 L420.5,569.35 L422.0,570.15 L423.5,570.94 L425.0,571.73 L426.5,572.50 L428.0,573.28 L429.5,574.04 L431.0,574.80 L432.5,575.56 L434.0,576.30 L435.5,577.04 L437.0,577.78 L438.5,578.50 L440.0,579.22 L441.5,579.93 L443.0,580.63 L444.5,581.33 L446.0,582.02 L447.5,582.70 L449.0,583.37 L450.5,584.03 L452.0,584.69 L453.5,585.34 L455.0,585.97 L456.5,586.60 L458.0,587.23 L459.5,587.84 L461.0,588.44 L462.5,589.04 L464.0,589.62 L465.5,590.20 L467.0,590.76 L468.5,591.32 L470.0,591.87 L471.5,592.40 L473.0,592.93 L474.5,593.45 L476.0,593.95 L477.5,594.45 L479.0,594.94" stroke="#8c8a8a" stroke-width="3"/><path d="M83.0,496.19 L84.5,495.27 L86.0,494.38 L87.5,493.50 L89.0,492.64 L90.5,491.80 L92.0,490.97 L93.5,490.16 L95.0,489.37 L96.5,488.60 L98.0,487.84 L99.5,487.10 L101.0,486.37 L102.5,485.66 L104.0,484.97 L105.5,484.30 L107.0,483.64 L108.5,483.00 L110.0,482.37 L111.5,481.76 L113.0,481.17 L114.5,480.59 L116.0,480.03 L117.5,479.49 L119.0,478.96 L120.5,478.44 L122.0,477.95 L123.5,477.46 L125.0,477.00 L126.5,476.55 L128.0,476.11 L129.5,475.69 L131.0,475.28 L132.5,474.89 L134.0,474.52 L135.5,474.16 L137.0,473.82 L138.5,473.49 L140.0,473.17 L141.5,472.87 L143.0,472.58 L144.5,472.31 L146.0,472.06 L147.5,471.81 L149.0,471.59 L150.5,471.37 L152.0,471.17 L153.5,470.99 L155.0,470.82 L156.5,470.66 L158.0,470.52 L159.5,470.39 L161.0,470.27 L162.5,470.17 L164.0,470.08 L165.5,470.00 L167.0,469.94 L168.5,469.90 L170.0,469.86 L171.5,469.84 L173.0,469.83 L174.5,469.84 L176.0,469.85 L177.5,469.88 L179.0,469.93 L180.5,469.98 L182.0,470.05 L183.5,470.14 L185.0,470.23 L186.5,470.34 L188.0,470.46 L189.5,470.59 L191.0,470.73 L192.5,470.89 L194.0,471.06 L195.5,471.24 L197.0,471.43 L198.5,471.63 L200.0,471.85 L201.5,472.08 L203.0,472.32 L204.5,472.57 L206.0,472.83 L207.5,473.10 L209.0,473.39 L210.5,473.68 L212.0,473.99 L213.5,474.31 L215.0,474.64 L216.5,474.98 L218.0,475.33 L219.5,475.70 L221.0,476.07 L222.5,476.46 L224.0,476.85 L225.5,477.26 L227.0,477.67 L228.5,478.10 L230.0,478.54 L231.5,478.98 L233.0,479.44 L234.5,479.91 L236.0,480.39 L237.5,480.87 L239.0,481.37 L240.5,481.88 L242.0,482.39 L243.5,482.92 L245.0,483.46 L246.5,484.00 L248.0,484.56 L249.5,485.12 L251.0,485.70 L252.5,486.28 L254.0,486.87 L255.5,487.47 L257.0,488.08 L258.5,488.70 L260.0,489.33 L261.5,489.96 L263.0,490.61 L264.5,491.26 L266.0,491.92 L267.5,492.59 L269.0,493.26 L270.5,493.94 L272.0,494.63 L273.5,495.33 L275.0,496.04 L276.5,496.75 L278.0,497.47 L279.5,498.19 L281.0,498.92 L282.5,499.66 L284.0,500.41 L285.5,501.16 L287.0,501.91 L288.5,502.68 L290.0,503.45 L291.5,504.22 L293.0,505.00 L294.5,505.78 L296.0,506.57 L297.5,507.37 L299.0,508.17 L300.5,508.98 L302.0,509.79 L303.5,510.60 L305.0,511.42 L306.5,512.24 L308.0,513.07 L309.5,513.90 L311.0,514.73 L312.5,515.57 L314.0,516.42 L315.5,517.26 L317.0,518.11 L318.5,518.96 L320.0,519.82 L321.5,520.68 L323.0,521.54 L324.5,522.40 L326.0,523.27 L327.5,524.13 L329.0,525.00 L330.5,525.88 L332.0,526.75 L333.5,527.63 L335.0,528.50 L336.5,529.38 L338.0,530.26 L339.5,531.15 L341.0,532.03 L342.5,532.91 L344.0,533.80 L345.5,534.68 L347.0,535.57 L348.5,536.45 L350.0,537.34 L351.5,538.23 L353.0,539.11 L354.5,540.00 L356.0,540.89 L357.5,541.77 L359.0,542.66 L360.5,543.54 L362.0,544.43 L363.5,545.31 L365.0,546.19 L366.5,547.07 L368.0,547.95 L369.5,548.83 L371.0,549.70 L372.5,550.58 L374.0,551.45 L375.5,552.32 L377.0,553.19 L378.5,554.05 L380.0,554.92 L381.5,555.78 L383.0,556.64 L384.5,557.49 L386.0,558.34 L387.5,559.19 L389.0,560.04 L390.5,560.88 L392.0,561.71 L393.5,562.55 L395.0,563.38 L396.5,564.21 L398.0,565.03 L399.5,565.85 L401.0,566.66 L402.5,567.47 L404.0,568.27 L405.5,569.07 L407.0,569.87 L408.5,570.66 L410.0,571.44 L411.5,572.22 L413.0,572.99 L414.5,573.76 L416.0,574.52 L417.5,575.28 L419.0,576.03 L420.5,576.77 L422.0,577.51 L423.5,578.24 L425.0,578.97 L426.5,579.68 L428.0,580.39 L429.5,581.10 L431.0,581.79 L432.5,582.48 L434.0,583.17 L435.5,583.84 L437.0,584.51 L438.5,585.16 L440.0,585.82 L441.5,586.46 L443.0,587.09 L444.5,587.72 L446.0,588.33 L447.5,588.94 L449.0,589.54 L450.5,590.13 L452.0,590.72 L453.5,591.29 L455.0,591.85 L456.5,592.40 L458.0,592.95 L459.5,593.48 L461.0,594.01 L462.5,594.52 L464.0,595.02 L465.5,595.52 L467.0,596.00 L468.5,596.47 L470.0,596.93 L471.5,597.39 L473.0,597.83 L474.5,598.25 L476.0,598.67 L477.5,599.08 L479.0,599.47" stroke="#4d4a4a" stroke-width="3.6"/><path d="M83.0,532.18 L84.5,531.00 L86.0,529.82 L87.5,528.65 L89.0,527.50 L90.5,526.34 L92.0,525.20 L93.5,524.07 L95.0,522.94 L96.5,521.83 L98.0,520.72 L99.5,519.62 L101.0,518.53 L102.5,517.45 L104.0,516.38 L105.5,515.32 L107.0,514.26 L108.5,513.22 L110.0,512.19 L111.5,511.17 L113.0,510.15 L114.5,509.15 L116.0,508.16 L117.5,507.17 L119.0,506.20 L120.5,505.24 L122.0,504.29 L123.5,503.35 L125.0,502.42 L126.5,501.51 L128.0,500.60 L129.5,499.70 L131.0,498.82 L132.5,497.95 L134.0,497.09 L135.5,496.24 L137.0,495.40 L138.5,494.58 L140.0,493.77 L141.5,492.97 L143.0,492.18 L144.5,491.40 L146.0,490.64 L147.5,489.89 L149.0,489.15 L150.5,488.43 L152.0,487.71 L153.5,487.02 L155.0,486.33 L156.5,485.66 L158.0,485.00 L159.5,484.36 L161.0,483.72 L162.5,483.11 L164.0,482.50 L165.5,481.92 L167.0,481.34 L168.5,480.78 L170.0,480.23 L171.5,479.70 L173.0,479.19 L174.5,478.68 L176.0,478.20 L177.5,477.73 L179.0,477.27 L180.5,476.83 L182.0,476.40 L183.5,475.99 L185.0,475.59 L186.5,475.22 L188.0,474.85 L189.5,474.50 L191.0,474.17 L192.5,473.86 L194.0,473.56 L195.5,473.28 L197.0,473.01 L198.5,472.76 L200.0,472.53 L201.5,472.31 L203.0,472.11 L204.5,471.93 L206.0,471.77 L207.5,471.62 L209.0,471.49 L210.5,471.38 L212.0,471.28 L213.5,471.21 L215.0,471.15 L216.5,471.11 L218.0,471.09 L219.5,471.08 L221.0,471.10 L222.5,471.13 L224.0,471.18 L225.5,471.25 L227.0,471.34 L228.5,471.45 L230.0,471.58 L231.5,471.72 L233.0,471.89 L234.5,472.08 L236.0,472.28 L237.5,472.50 L239.0,472.75 L240.5,473.01 L242.0,473.30 L243.5,473.60 L245.0,473.93 L246.5,474.27 L248.0,474.64 L249.5,475.02 L251.0,475.43 L252.5,475.86 L254.0,476.31 L255.5,476.78 L257.0,477.26 L258.5,477.77 L260.0,478.30 L261.5,478.84 L263.0,479.41 L264.5,479.99 L266.0,480.58 L267.5,481.20 L269.0,481.83 L270.5,482.48 L272.0,483.15 L273.5,483.82 L275.0,484.52 L276.5,485.23 L278.0,485.95 L279.5,486.69 L281.0,487.45 L282.5,488.21 L284.0,488.99 L285.5,489.78 L287.0,490.58 L288.5,491.40 L290.0,492.23 L291.5,493.06 L293.0,493.91 L294.5,494.77 L296.0,495.64 L297.5,496.52 L299.0,497.40 L300.5,498.30 L302.0,499.20 L303.5,500.12 L305.0,501.04 L306.5,501.97 L308.0,502.90 L309.5,503.84 L311.0,504.79 L312.5,505.74 L314.0,506.70 L315.5,507.66 L317.0,508.63 L318.5,509.61 L320.0,510.58 L321.5,511.56 L323.0,512.55 L324.5,513.54 L326.0,514.53 L327.5,515.52 L329.0,516.52 L330.5,517.52 L332.0,518.52 L333.5,519.53 L335.0,520.54 L336.5,521.55 L338.0,522.56 L339.5,523.58 L341.0,524.59 L342.5,525.61 L344.0,526.63 L345.5,527.65 L347.0,528.67 L348.5,529.69 L350.0,530.72 L351.5,531.74 L353.0,532.76 L354.5,533.79 L356.0,534.81 L357.5,535.83 L359.0,536.86 L360.5,537.88 L362.0,538.90 L363.5,539.92 L365.0,540.95 L366.5,541.96 L368.0,542.98 L369.5,544.00 L371.0,545.01 L372.5,546.03 L374.0,547.04 L375.5,548.05 L377.0,549.05 L378.5,550.06 L380.0,551.06 L381.5,552.06 L383.0,553.05 L384.5,554.05 L386.0,555.04 L387.5,556.02 L389.0,557.01 L390.5,557.99 L392.0,558.96 L393.5,559.93 L395.0,560.90 L396.5,561.87 L398.0,562.83 L399.5,563.78 L401.0,564.73 L402.5,565.68 L404.0,566.62 L405.5,567.56 L407.0,568.49 L408.5,569.41 L410.0,570.33 L411.5,571.25 L413.0,572.16 L414.5,573.06 L416.0,573.96 L417.5,574.85 L419.0,575.74 L420.5,576.62 L422.0,577.49 L423.5,578.36 L425.0,579.22 L426.5,580.07 L428.0,580.92 L429.5,581.76 L431.0,582.59 L432.5,583.41 L434.0,584.23 L435.5,585.04 L437.0,585.84 L438.5,586.64 L440.0,587.42 L441.5,588.20 L443.0,588.97 L444.5,589.73 L446.0,590.48 L447.5,591.22 L449.0,591.96 L450.5,592.68 L452.0,593.40 L453.5,594.10 L455.0,594.80 L456.5,595.49 L458.0,596.17 L459.5,596.84 L461.0,597.49 L462.5,598.14 L464.0,598.78 L465.5,599.41 L467.0,600.02 L468.5,600.63 L470.0,601.23 L471.5,601.81 L473.0,602.38 L474.5,602.95 L476.0,603.50 L477.5,604.04 L479.0,604.57" stroke="#2f2c2c" stroke-width="4.6"/></g>
<rect x="81.6" y="371.5" width="398.4" height="277.6" fill="none" stroke="#000" stroke-width="3.1"/>
<rect x="334.6" y="383.7" width="133.9" height="107.1" fill="#fff" stroke="#000" stroke-width="2.8"/>
<line x1="342" y1="401" x2="370.6" y2="401" stroke="#333030" stroke-width="5.2"/>
<line x1="342.7" y1="435" x2="370.3" y2="435" stroke="#4a4646" stroke-width="4"/>
<line x1="343.1" y1="469.9" x2="370" y2="469.9" stroke="#8a8888" stroke-width="3.2"/>
<path d="M566.2,20.6 h8.5 M959.5,20.6 h-8.5 M566.2,108.5 h8.5 M959.5,108.5 h-8.5 M566.2,196.3 h8.5 M959.5,196.3 h-8.5 M697.3,284.7 v-8.7 M697.3,2.7 v9.1 M828.4,284.7 v-8.7 M828.4,2.7 v9.1" stroke="#000" stroke-width="2.8" fill="none"/>
<g clip-path="url(#cpC)"><path d="M566.00,188.90 L645.00,188.70 L658.00,187.30 L671.10,185.50 L684.20,180.00 L697.30,173.80 L710.40,160.60 L723.50,150.00 L736.60,139.00 L743.00,125.00 L749.70,106.00 L756.00,84.00 L763.00,61.00 L776.00,61.30 L789.10,84.00 L800.00,91.80 L815.30,86.00 L828.40,87.40 L841.50,102.50 L854.60,101.50 L867.70,92.80 L880.80,88.60 L893.90,68.00 L907.00,37.50 L921.50,37.50 L933.30,64.50 L946.40,92.00 L952.00,100.50" fill="none" stroke="#000" stroke-width="3.3" stroke-dasharray="11.5 10.5" stroke-linejoin="round"/></g>
<path d="M566.2,386.6 h8.5 M959.5,386.6 h-8.5 M566.2,474.5 h8.5 M959.5,474.5 h-8.5 M566.2,562.3 h8.5 M959.5,562.3 h-8.5 M697.3,651 v-8.7 M697.3,371.1 v8.7 M828.4,651 v-8.7 M828.4,371.1 v8.7" stroke="#000" stroke-width="2.8" fill="none"/>
<g clip-path="url(#cpD)"><path d="M566.00,554.90 L645.00,554.70 L658.00,553.30 L671.10,551.50 L684.20,546.00 L697.30,539.80 L710.40,526.60 L723.50,516.00 L736.60,505.00 L743.00,491.00 L749.70,472.00 L756.00,450.00 L763.00,427.00 L776.00,427.30 L789.10,450.00 L800.00,457.80 L815.30,452.00 L828.40,453.40 L841.50,468.50 L854.60,467.50 L867.70,458.80 L880.80,454.60 L893.90,434.00 L907.00,403.50 L921.50,403.50 L933.30,430.50 L946.40,458.00 L952.00,466.50" fill="none" stroke="#000" stroke-width="3.3" stroke-dasharray="11.5 10.5" stroke-linejoin="round"/></g>
<g clip-path="url(#cpC)"><path d="M566.0,205.72 L567.0,205.69 L568.0,205.67 L569.0,205.65 L570.0,205.63 L571.0,205.62 L572.0,205.60 L573.0,205.59 L574.0,205.58 L575.0,205.56 L576.0,205.55 L577.0,205.54 L578.0,205.53 L579.0,205.51 L580.0,205.50 L581.0,205.48 L582.0,205.46 L583.0,205.44 L584.0,205.42 L585.0,205.40 L586.0,205.37 L587.0,205.34 L588.0,205.30 L589.0,205.26 L590.0,205.21 L591.0,205.17 L592.0,205.11 L593.0,205.05 L594.0,204.99 L595.0,204.91 L596.0,204.84 L597.0,204.75 L598.0,204.66 L599.0,204.56 L600.0,204.45 L601.0,204.34 L602.0,204.21 L603.0,204.08 L604.0,203.94 L605.0,203.79 L606.0,203.63 L607.0,203.46 L608.0,203.28 L609.0,203.09 L610.0,202.88 L611.0,202.67 L612.0,202.45 L613.0,202.21 L614.0,201.96 L615.0,201.70 L616.0,201.42 L617.0,201.13 L618.0,200.83 L619.0,200.51 L620.0,200.18 L621.0,199.84 L622.0,199.48 L623.0,199.10 L624.0,198.71 L625.0,198.30 L626.0,197.88 L627.0,197.44 L628.0,196.98 L629.0,196.51 L630.0,196.02 L631.0,195.51 L632.0,194.98 L633.0,194.44 L634.0,193.87 L635.0,193.29 L636.0,192.68 L637.0,192.06 L638.0,191.42 L639.0,190.75 L640.0,190.07 L641.0,189.36 L642.0,188.63 L643.0,187.88 L644.0,187.11 L645.0,186.32 L646.0,185.50 L647.0,184.66 L648.0,183.79 L649.0,182.91 L650.0,182.00 L651.0,181.06 L652.0,180.10 L653.0,179.11 L654.0,178.10 L655.0,177.06 L656.0,176.00 L657.0,174.91 L658.0,173.79 L659.0,172.66 L660.0,171.49 L661.0,170.31 L662.0,169.10 L663.0,167.88 L664.0,166.63 L665.0,165.37 L666.0,164.09 L667.0,162.80 L668.0,161.49 L669.0,160.17 L670.0,158.84 L671.0,157.50 L672.0,156.15 L673.0,154.79 L674.0,153.43 L675.0,152.06 L676.0,150.68 L677.0,149.30 L678.0,147.92 L679.0,146.54 L680.0,145.16 L681.0,143.78 L682.0,142.40 L683.0,141.02 L684.0,139.65 L685.0,138.29 L686.0,136.93 L687.0,135.58 L688.0,134.25 L689.0,132.92 L690.0,131.60 L691.0,130.30 L692.0,129.01 L693.0,127.73 L694.0,126.48 L695.0,125.24 L696.0,124.01 L697.0,122.81 L698.0,121.63 L699.0,120.47 L700.0,119.33 L701.0,118.20 L702.0,117.09 L703.0,115.99 L704.0,114.90 L705.0,113.83 L706.0,112.77 L707.0,111.72 L708.0,110.67 L709.0,109.64 L710.0,108.61 L711.0,107.58 L712.0,106.56 L713.0,105.54 L714.0,104.52 L715.0,103.50 L716.0,102.48 L717.0,101.46 L718.0,100.44 L719.0,99.41 L720.0,98.37 L721.0,97.33 L722.0,96.28 L723.0,95.22 L724.0,94.15 L725.0,93.07 L726.0,91.98 L727.0,90.87 L728.0,89.74 L729.0,88.60 L730.0,87.45 L731.0,86.27 L732.0,85.07 L733.0,83.86 L734.0,82.62 L735.0,81.36 L736.0,80.07 L737.0,78.76 L738.0,77.42 L739.0,76.05 L740.0,74.67 L741.0,73.28 L742.0,71.88 L743.0,70.47 L744.0,69.06 L745.0,67.65 L746.0,66.25 L747.0,64.87 L748.0,63.50 L749.0,62.15 L750.0,60.83 L751.0,59.53 L752.0,58.27 L753.0,57.05 L754.0,55.87 L755.0,54.74 L756.0,53.65 L757.0,52.63 L758.0,51.66 L759.0,50.76 L760.0,49.93 L761.0,49.17 L762.0,48.48 L763.0,47.88 L764.0,47.37 L765.0,46.94 L766.0,46.61 L767.0,46.38 L768.0,46.25 L769.0,46.22 L770.0,46.29 L771.0,46.45 L772.0,46.69 L773.0,47.00 L774.0,47.38 L775.0,47.82 L776.0,48.31 L777.0,48.85 L778.0,49.43 L779.0,50.04 L780.0,50.68 L781.0,51.34 L782.0,52.01 L783.0,52.68 L784.0,53.36 L785.0,54.03 L786.0,54.71 L787.0,55.38 L788.0,56.05 L789.0,56.71 L790.0,57.37 L791.0,58.02 L792.0,58.66 L793.0,59.29 L794.0,59.91 L795.0,60.53 L796.0,61.13 L797.0,61.71 L798.0,62.28 L799.0,62.84 L800.0,63.37 L801.0,63.89 L802.0,64.39 L803.0,64.88 L804.0,65.34 L805.0,65.79 L806.0,66.22 L807.0,66.62 L808.0,67.02 L809.0,67.39 L810.0,67.74 L811.0,68.07 L812.0,68.39 L813.0,68.68 L814.0,68.96 L815.0,69.22 L816.0,69.46 L817.0,69.67 L818.0,69.87 L819.0,70.05 L820.0,70.21 L821.0,70.35 L822.0,70.47 L823.0,70.57 L824.0,70.65 L825.0,70.71 L826.0,70.75 L827.0,70.77 L828.0,70.77 L829.0,70.75 L830.0,70.71 L831.0,70.65 L832.0,70.57 L833.0,70.46 L834.0,70.34 L835.0,70.19 L836.0,70.03 L837.0,69.84 L838.0,69.64 L839.0,69.41 L840.0,69.17 L841.0,68.91 L842.0,68.63 L843.0,68.33 L844.0,68.02 L845.0,67.69 L846.0,67.35 L847.0,66.99 L848.0,66.62 L849.0,66.24 L850.0,65.84 L851.0,65.43 L852.0,65.01 L853.0,64.58 L854.0,64.13 L855.0,63.68 L856.0,63.22 L857.0,62.75 L858.0,62.27 L859.0,61.79 L860.0,61.29 L861.0,60.79 L862.0,60.29 L863.0,59.78 L864.0,59.27 L865.0,58.75 L866.0,58.23 L867.0,57.70 L868.0,57.18 L869.0,56.65 L870.0,56.12 L871.0,55.59 L872.0,55.06 L873.0,54.53 L874.0,54.01 L875.0,53.48 L876.0,52.96 L877.0,52.44 L878.0,51.92 L879.0,51.41 L880.0,50.91 L881.0,50.41 L882.0,49.91 L883.0,49.42 L884.0,48.94 L885.0,48.47 L886.0,48.00 L887.0,47.55 L888.0,47.10 L889.0,46.66 L890.0,46.24 L891.0,45.82 L892.0,45.42 L893.0,45.03 L894.0,44.65 L895.0,44.29 L896.0,43.94 L897.0,43.61 L898.0,43.29 L899.0,42.99 L900.0,42.70 L901.0,42.43 L902.0,42.18 L903.0,41.95 L904.0,41.73 L905.0,41.54 L906.0,41.37 L907.0,41.22 L908.0,41.09 L909.0,41.00 L910.0,40.93 L911.0,40.90 L912.0,40.91 L913.0,40.96 L914.0,41.05 L915.0,41.19 L916.0,41.38 L917.0,41.62 L918.0,41.91 L919.0,42.26 L920.0,42.66 L921.0,43.10 L922.0,43.59 L923.0,44.12 L924.0,44.69 L925.0,45.29 L926.0,45.93 L927.0,46.59 L928.0,47.29 L929.0,48.01 L930.0,48.75 L931.0,49.50 L932.0,50.27 L933.0,51.05 L934.0,51.84 L935.0,52.63 L936.0,53.42 L937.0,54.20 L938.0,54.98 L939.0,55.75 L940.0,56.50 L941.0,57.23 L942.0,57.94 L943.0,58.63 L944.0,59.28 L945.0,59.91 L946.0,60.50 L947.0,61.04 L948.0,61.55 L949.0,62.00 L950.0,62.41 L951.0,62.76 L952.0,63.06 L953.0,63.29 L954.0,63.46 L955.0,63.56 L956.0,63.59 L957.0,63.55 L958.0,63.42 L959.0,63.21 L959.5,63.08" fill="none" stroke="#3b54a6" stroke-width="3.6" stroke-linejoin="round"/></g>
<g clip-path="url(#cpD)"><path d="M566.0,571.80 L567.0,571.72 L568.0,571.65 L569.0,571.59 L570.0,571.53 L571.0,571.48 L572.0,571.43 L573.0,571.39 L574.0,571.36 L575.0,571.33 L576.0,571.30 L577.0,571.28 L578.0,571.26 L579.0,571.25 L580.0,571.24 L581.0,571.23 L582.0,571.22 L583.0,571.22 L584.0,571.22 L585.0,571.22 L586.0,571.22 L587.0,571.22 L588.0,571.22 L589.0,571.22 L590.0,571.22 L591.0,571.22 L592.0,571.22 L593.0,571.22 L594.0,571.22 L595.0,571.22 L596.0,571.21 L597.0,571.20 L598.0,571.19 L599.0,571.17 L600.0,571.15 L601.0,571.13 L602.0,571.10 L603.0,571.07 L604.0,571.03 L605.0,570.99 L606.0,570.94 L607.0,570.89 L608.0,570.83 L609.0,570.76 L610.0,570.69 L611.0,570.61 L612.0,570.52 L613.0,570.42 L614.0,570.32 L615.0,570.20 L616.0,570.08 L617.0,569.95 L618.0,569.81 L619.0,569.66 L620.0,569.50 L621.0,569.32 L622.0,569.14 L623.0,568.95 L624.0,568.74 L625.0,568.52 L626.0,568.29 L627.0,568.04 L628.0,567.77 L629.0,567.48 L630.0,567.17 L631.0,566.84 L632.0,566.48 L633.0,566.08 L634.0,565.66 L635.0,565.21 L636.0,564.71 L637.0,564.18 L638.0,563.62 L639.0,563.00 L640.0,562.35 L641.0,561.65 L642.0,560.90 L643.0,560.10 L644.0,559.24 L645.0,558.33 L646.0,557.37 L647.0,556.34 L648.0,555.26 L649.0,554.11 L650.0,552.89 L651.0,551.62 L652.0,550.28 L653.0,548.89 L654.0,547.45 L655.0,545.97 L656.0,544.45 L657.0,542.90 L658.0,541.32 L659.0,539.72 L660.0,538.10 L661.0,536.46 L662.0,534.82 L663.0,533.18 L664.0,531.54 L665.0,529.90 L666.0,528.28 L667.0,526.67 L668.0,525.09 L669.0,523.54 L670.0,522.01 L671.0,520.51 L672.0,519.04 L673.0,517.58 L674.0,516.15 L675.0,514.74 L676.0,513.35 L677.0,511.98 L678.0,510.62 L679.0,509.28 L680.0,507.95 L681.0,506.63 L682.0,505.32 L683.0,504.01 L684.0,502.72 L685.0,501.42 L686.0,500.14 L687.0,498.85 L688.0,497.56 L689.0,496.27 L690.0,494.98 L691.0,493.69 L692.0,492.39 L693.0,491.08 L694.0,489.76 L695.0,488.43 L696.0,487.09 L697.0,485.73 L698.0,484.36 L699.0,482.99 L700.0,481.61 L701.0,480.24 L702.0,478.88 L703.0,477.54 L704.0,476.22 L705.0,474.92 L706.0,473.66 L707.0,472.44 L708.0,471.26 L709.0,470.13 L710.0,469.06 L711.0,468.05 L712.0,467.11 L713.0,466.24 L714.0,465.45 L715.0,464.75 L716.0,464.13 L717.0,463.61 L718.0,463.15 L719.0,462.77 L720.0,462.43 L721.0,462.14 L722.0,461.87 L723.0,461.62 L724.0,461.38 L725.0,461.13 L726.0,460.87 L727.0,460.57 L728.0,460.23 L729.0,459.84 L730.0,459.38 L731.0,458.85 L732.0,458.23 L733.0,457.51 L734.0,456.68 L735.0,455.72 L736.0,454.63 L737.0,453.39 L738.0,451.99 L739.0,450.43 L740.0,448.70 L741.0,446.82 L742.0,444.78 L743.0,442.61 L744.0,440.30 L745.0,437.86 L746.0,435.31 L747.0,432.65 L748.0,429.88 L749.0,427.03 L750.0,424.08 L751.0,421.05 L752.0,417.96 L753.0,414.80 L754.0,411.60 L755.0,408.40 L756.0,405.26 L757.0,402.21 L758.0,399.30 L759.0,396.59 L760.0,394.11 L761.0,391.89 L762.0,389.94 L763.0,388.28 L764.0,386.91 L765.0,385.86 L766.0,385.13 L767.0,384.74 L768.0,384.69 L769.0,385.00 L770.0,385.65 L771.0,386.62 L772.0,387.90 L773.0,389.48 L774.0,391.33 L775.0,393.45 L776.0,395.82 L777.0,398.42 L778.0,401.21 L779.0,404.17 L780.0,407.25 L781.0,410.43 L782.0,413.68 L783.0,416.95 L784.0,420.23 L785.0,423.48 L786.0,426.66 L787.0,429.74 L788.0,432.70 L789.0,435.49 L790.0,438.09 L791.0,440.46 L792.0,442.58 L793.0,444.41 L794.0,445.96 L795.0,447.20 L796.0,448.12 L797.0,448.72 L798.0,448.98 L799.0,448.89 L800.0,448.45 L801.0,447.71 L802.0,446.71 L803.0,445.49 L804.0,444.09 L805.0,442.57 L806.0,440.96 L807.0,439.31 L808.0,437.67 L809.0,436.07 L810.0,434.52 L811.0,433.03 L812.0,431.63 L813.0,430.33 L814.0,429.13 L815.0,428.06 L816.0,427.14 L817.0,426.36 L818.0,425.75 L819.0,425.33 L820.0,425.10 L821.0,425.08 L822.0,425.28 L823.0,425.68 L824.0,426.28 L825.0,427.03 L826.0,427.94 L827.0,428.98 L828.0,430.12 L829.0,431.36 L830.0,432.66 L831.0,434.02 L832.0,435.41 L833.0,436.82 L834.0,438.22 L835.0,439.59 L836.0,440.92 L837.0,442.19 L838.0,443.37 L839.0,444.45 L840.0,445.41 L841.0,446.23 L842.0,446.89 L843.0,447.38 L844.0,447.66 L845.0,447.73 L846.0,447.57 L847.0,447.20 L848.0,446.63 L849.0,445.89 L850.0,444.99 L851.0,443.94 L852.0,442.77 L853.0,441.49 L854.0,440.11 L855.0,438.67 L856.0,437.16 L857.0,435.62 L858.0,434.05 L859.0,432.47 L860.0,430.91 L861.0,429.37 L862.0,427.88 L863.0,426.46 L864.0,425.11 L865.0,423.86 L866.0,422.72 L867.0,421.72 L868.0,420.86 L869.0,420.17 L870.0,419.66 L871.0,419.35 L872.0,419.26 L873.0,419.37 L874.0,419.66 L875.0,420.09 L876.0,420.62 L877.0,421.23 L878.0,421.87 L879.0,422.52 L880.0,423.13 L881.0,423.68 L882.0,424.13 L883.0,424.45 L884.0,424.60 L885.0,424.54 L886.0,424.25 L887.0,423.74 L888.0,423.01 L889.0,422.09 L890.0,421.00 L891.0,419.75 L892.0,418.37 L893.0,416.87 L894.0,415.26 L895.0,413.58 L896.0,411.83 L897.0,410.04 L898.0,408.22 L899.0,406.39 L900.0,404.57 L901.0,402.78 L902.0,401.04 L903.0,399.36 L904.0,397.77 L905.0,396.28 L906.0,394.91 L907.0,393.67 L908.0,392.60 L909.0,391.70 L910.0,390.99 L911.0,390.50 L912.0,390.24 L913.0,390.22 L914.0,390.48 L915.0,391.00 L916.0,391.77 L917.0,392.77 L918.0,393.98 L919.0,395.38 L920.0,396.95 L921.0,398.66 L922.0,400.51 L923.0,402.46 L924.0,404.49 L925.0,406.60 L926.0,408.75 L927.0,410.93 L928.0,413.11 L929.0,415.28 L930.0,417.41 L931.0,419.48 L932.0,421.48 L933.0,423.39 L934.0,425.18 L935.0,426.83 L936.0,428.32 L937.0,429.64 L938.0,430.78 L939.0,431.76 L940.0,432.58 L941.0,433.25 L942.0,433.79 L943.0,434.19 L944.0,434.47 L945.0,434.64 L946.0,434.70 L947.0,434.67 L948.0,434.56 L949.0,434.36 L950.0,434.10 L951.0,433.78 L952.0,433.41 L953.0,432.99 L954.0,432.55 L955.0,432.08 L956.0,431.59 L957.0,431.10 L958.0,430.61 L959.0,430.13 L959.5,429.90" fill="none" stroke="#e0321f" stroke-width="3.6" stroke-linejoin="round"/></g>
<rect x="566.2" y="2.7" width="393.3" height="282" fill="none" stroke="#000" stroke-width="3"/>
<rect x="566.2" y="368.7" width="393.3" height="282.3" fill="none" stroke="#000" stroke-width="3"/>
<path d="M562.0,330.50 L585.6,330.28 L585.9,330.17 L586.2,330.07 L586.5,329.99 L586.8,329.94 L587.1,329.91 L587.4,329.91 L587.7,329.95 L588.0,330.02 L588.3,330.11 L588.6,330.23 L588.9,330.37 L589.2,330.53 L589.5,330.68 L589.8,330.84 L590.1,330.98 L590.4,331.10 L590.7,331.20 L591.0,331.26 L591.3,331.28 L591.6,331.26 L591.9,331.20 L592.2,331.10 L592.5,330.96 L592.8,330.79 L593.1,330.60 L593.4,330.40 L593.7,330.19 L594.0,329.99 L594.3,329.81 L594.6,329.66 L594.9,329.55 L595.2,329.49 L595.5,329.48 L595.8,329.52 L596.1,329.62 L596.4,329.77 L596.7,329.97 L597.0,330.20 L597.3,330.46 L597.6,330.73 L597.9,330.99 L598.2,331.25 L598.5,331.47 L598.8,331.64 L599.1,331.77 L599.4,331.83 L599.7,331.81 L600.0,331.73 L600.3,331.58 L600.6,331.37 L600.9,331.09 L601.2,330.78 L601.5,330.44 L601.8,330.09 L602.1,329.75 L602.4,329.44 L602.7,329.17 L603.0,328.97 L603.3,328.84 L603.6,328.80 L603.9,328.84 L604.2,328.98 L604.5,329.20 L604.8,329.50 L605.1,329.87 L605.4,330.28 L605.7,330.72 L606.0,331.16 L606.3,331.59 L606.6,331.97 L606.9,332.28 L607.2,332.51 L607.5,332.64 L607.8,332.65 L608.1,332.56 L608.4,332.34 L608.7,332.02 L609.0,331.61 L609.3,331.13 L609.6,330.59 L609.9,330.03 L610.2,329.48 L610.5,328.97 L610.8,328.52 L611.1,328.16 L611.4,327.91 L611.7,327.80 L612.0,327.83 L612.3,328.00 L612.6,328.31 L612.9,328.75 L613.2,329.30 L613.5,329.93 L613.8,330.62 L614.1,331.31 L614.4,331.99 L614.7,332.61 L615.0,333.13 L615.3,333.53 L615.6,333.78 L615.9,333.86 L616.2,333.76 L616.5,333.48 L616.8,333.04 L617.1,332.44 L617.4,331.73 L617.7,330.92 L618.0,330.07 L618.3,329.22 L618.6,328.40 L618.9,327.68 L619.2,327.09 L619.5,326.66 L619.8,326.42 L620.1,326.40 L620.4,326.60 L620.7,327.01 L621.0,327.62 L621.3,328.40 L621.6,329.32 L621.9,330.33 L622.2,331.37 L622.5,332.40 L622.8,333.36 L623.1,334.19 L623.4,334.85 L623.7,335.29 L624.0,335.48 L624.3,335.42 L624.6,335.09 L624.9,334.51 L625.2,333.69 L625.5,332.68 L625.8,331.53 L626.1,330.29 L626.4,329.03 L626.7,327.81 L627.0,326.71 L627.3,325.78 L627.6,325.07 L627.9,324.64 L628.2,324.51 L628.5,324.70 L628.8,325.20 L629.1,326.00 L629.4,327.06 L629.7,328.34 L630.0,329.76 L630.3,331.25 L630.6,332.75 L630.9,334.16 L631.2,335.41 L631.5,336.43 L631.8,337.16 L632.1,337.55 L632.4,337.57 L632.7,337.21 L633.0,336.49 L633.3,335.43 L633.6,334.08 L633.9,332.51 L634.2,330.79 L634.5,329.02 L634.8,327.28 L635.1,325.68 L635.4,324.29 L635.7,323.21 L636.0,322.48 L636.3,322.17 L636.6,322.30 L636.9,322.87 L637.2,323.86 L637.5,325.22 L637.8,326.90 L638.1,328.81 L638.4,330.84 L638.7,332.91 L639.0,334.89 L639.3,336.68 L639.6,338.18 L639.9,339.31 L640.2,339.98 L640.5,340.17 L640.8,339.84 L641.1,339.01 L641.4,337.71 L641.7,335.99 L642.0,333.95 L642.3,331.68 L642.6,329.31 L642.9,326.94 L643.2,324.72 L643.5,322.76 L643.8,321.18 L644.1,320.06 L644.4,319.48 L644.7,319.47 L645.0,320.05 L645.3,321.19 L645.6,322.86 L645.9,324.96 L646.2,327.40 L646.5,330.05 L646.8,332.77 L647.1,335.42 L647.4,337.86 L647.7,339.96 L648.0,341.58 L648.3,342.65 L648.6,343.09 L648.9,342.87 L649.2,341.98 L649.5,340.47 L649.8,338.41 L650.1,335.88 L650.4,333.03 L650.7,329.99 L651.0,326.92 L651.3,324.00 L651.6,321.37 L651.9,319.19 L652.2,317.56 L652.5,316.60 L652.8,316.37 L653.1,316.88 L653.4,318.12 L653.7,320.04 L654.0,322.55 L654.3,325.52 L654.6,328.80 L654.9,332.22 L655.2,335.60 L655.5,338.76 L655.8,341.54 L656.1,343.76 L656.4,345.32 L656.7,346.11 L657.0,346.09 L657.3,345.24 L657.6,343.59 L657.9,341.22 L658.2,338.25 L658.5,334.83 L658.8,331.13 L659.1,327.35 L659.4,323.68 L659.7,320.32 L660.0,317.46 L660.3,315.25 L660.6,313.82 L660.9,313.26 L661.2,313.61 L661.5,314.85 L661.8,316.94 L662.1,319.78 L662.4,323.22 L662.7,327.09 L663.0,331.19 L663.3,335.30 L663.6,339.21 L663.9,342.70 L664.2,345.58 L664.5,347.70 L664.8,348.93 L665.1,349.20 L665.4,348.48 L665.7,346.80 L666.0,344.24 L666.3,340.92 L666.6,337.02 L666.9,332.72 L667.2,328.27 L667.5,323.88 L667.8,319.80 L668.1,316.24 L668.4,313.41 L668.7,311.45 L669.0,310.48 L669.3,310.56 L669.6,311.70 L669.9,313.84 L670.2,316.88 L670.5,320.68 L670.8,325.03 L671.1,329.71 L671.4,334.47 L671.7,339.06 L672.0,343.24 L672.3,346.78 L672.6,349.49 L672.9,351.22 L673.2,351.87 L673.5,351.39 L673.8,349.80 L674.1,347.18 L674.4,343.66 L674.7,339.41 L675.0,334.66 L675.3,329.66 L675.6,324.66 L675.9,319.94 L676.2,315.74 L676.5,312.30 L676.8,309.79 L677.1,308.36 L677.4,308.09 L677.7,309.00 L678.0,311.06 L678.3,314.15 L678.6,318.13 L678.9,322.79 L679.2,327.88 L679.5,333.13 L679.8,338.28 L680.1,343.04 L680.4,347.17 L680.7,350.44 L681.0,352.67 L681.3,353.74 L681.6,353.59 L681.9,352.22 L682.2,349.70 L682.5,346.15 L682.8,341.76 L683.1,336.76 L683.4,331.41 L683.7,325.98 L684.0,320.78 L684.3,316.06 L684.6,312.10 L684.9,309.08 L685.2,307.19 L685.5,306.52 L685.8,307.12 L686.1,308.95 L686.4,311.92 L686.7,315.88 L687.0,320.62 L687.3,325.90 L687.6,331.43 L687.9,336.92 L688.2,342.09 L688.5,346.66 L688.8,350.39 L689.1,353.07 L689.4,354.57 L689.7,354.81 L690.0,353.76 L690.3,351.48 L690.6,348.10 L690.9,343.79 L691.2,338.77 L691.5,333.31 L691.8,327.69 L692.1,322.22 L692.4,317.19 L692.7,312.85 L693.0,309.44 L693.3,307.14 L693.6,306.07 L693.9,306.29 L694.2,307.78 L694.5,310.47 L694.8,314.21 L695.1,318.80 L695.4,324.01 L695.7,329.56 L696.0,335.16 L696.3,340.50 L696.6,345.31 L696.9,349.33 L697.2,352.36 L697.5,354.24 L697.8,354.86 L698.1,354.20 L698.4,352.29 L698.7,349.24 L699.0,345.21 L699.3,340.42 L699.6,335.11 L699.9,329.57 L700.2,324.10 L700.5,318.98 L700.8,314.47 L701.1,310.83 L701.4,308.23 L701.7,306.80 L702.0,306.63 L702.3,307.72 L702.6,309.99 L702.9,313.34 L703.2,317.58 L703.5,322.48 L703.8,327.78 L704.1,333.21 L704.4,338.47 L704.7,343.29 L705.0,347.41 L705.3,350.63 L705.6,352.78 L705.9,353.74 L706.2,353.48 L706.5,352.01 L706.8,349.42 L707.1,345.85 L707.4,341.49 L707.7,336.58 L708.0,331.38 L708.3,326.16 L708.6,321.19 L708.9,316.75 L709.2,313.05 L709.5,310.29 L709.8,308.62 L710.1,308.10 L710.4,308.76 L710.7,310.56 L711.0,313.39 L711.3,317.10 L711.6,321.49 L711.9,326.32 L712.2,331.34 L712.5,336.27 L712.8,340.87 L713.1,344.89 L713.4,348.12 L713.7,350.40 L714.0,351.62 L714.3,351.72 L714.6,350.71 L714.9,348.64 L715.2,345.64 L715.5,341.87 L715.8,337.54 L716.1,332.88 L716.4,328.13 L716.7,323.55 L717.0,319.38 L717.3,315.82 L717.6,313.07 L717.9,311.26 L718.2,310.48 L718.5,310.75 L718.8,312.06 L719.1,314.32 L719.4,317.40 L719.7,321.14 L720.0,325.34 L720.3,329.76 L720.6,334.17 L720.9,338.34 L721.2,342.06 L721.5,345.13 L721.8,347.41 L722.1,348.77 L722.4,349.15 L722.7,348.56 L723.0,347.03 L723.3,344.64 L723.6,341.55 L723.9,337.91 L724.2,333.93 L724.5,329.81 L724.8,325.79 L725.1,322.05 L725.4,318.81 L725.7,316.22 L726.0,314.41 L726.3,313.46 L726.6,313.42 L726.9,314.28 L727.2,315.97 L727.5,318.40 L727.8,321.43 L728.1,324.90 L728.4,328.61 L728.7,332.37 L729.0,335.99 L729.3,339.26 L729.6,342.03 L729.9,344.16 L730.2,345.54 L730.5,346.11 L730.8,345.86 L731.1,344.81 L731.4,343.03 L731.7,340.61 L732.0,337.71 L732.3,334.47 L732.6,331.07 L732.9,327.69 L733.2,324.51 L733.5,321.70 L733.8,319.39 L734.1,317.69 L734.4,316.70 L734.7,316.44 L735.0,316.92 L735.3,318.10 L735.6,319.92 L735.9,322.25 L736.2,324.98 L736.5,327.95 L736.8,331.01 L737.1,333.99 L737.4,336.73 L737.7,339.10 L738.0,340.98 L738.3,342.28 L738.6,342.94 L738.9,342.94 L739.2,342.29 L739.5,341.04 L739.8,339.25 L740.1,337.04 L740.4,334.53 L740.7,331.86 L741.0,329.16 L741.3,326.58 L741.6,324.26 L741.9,322.30 L742.2,320.81 L742.5,319.86 L742.8,319.48 L743.1,319.68 L743.4,320.44 L743.7,321.72 L744.0,323.43 L744.3,325.47 L744.6,327.74 L744.9,330.10 L745.2,332.44 L745.5,334.63 L745.8,336.56 L746.1,338.14 L746.4,339.28 L746.7,339.94 L747.0,340.10 L747.3,339.74 L747.6,338.92 L747.9,337.67 L748.2,336.07 L748.5,334.22 L748.8,332.21 L749.1,330.16 L749.4,328.17 L749.7,326.34 L750.0,324.77 L750.3,323.54 L750.6,322.69 L750.9,322.27 L751.2,322.29 L751.5,322.74 L751.8,323.58 L752.1,324.77 L752.4,326.23 L752.7,327.87 L753.0,329.62 L753.3,331.37 L753.6,333.04 L753.9,334.53 L754.2,335.78 L754.5,336.72 L754.8,337.32 L755.1,337.55 L755.4,337.40 L755.7,336.90 L756.0,336.07 L756.3,334.98 L756.6,333.67 L756.9,332.24 L757.2,330.75 L757.5,329.28 L757.8,327.91 L758.1,326.72 L758.4,325.75 L758.7,325.05 L759.0,324.65 L759.3,324.57 L759.6,324.80 L759.9,325.32 L760.2,326.10 L760.5,327.09 L760.8,328.23 L761.1,329.46 L761.4,330.71 L761.7,331.91 L762.0,333.01 L762.3,333.95 L762.6,334.69 L762.9,335.19 L763.2,335.43 L763.5,335.40 L763.8,335.12 L764.1,334.61 L764.4,333.90 L764.7,333.03 L765.0,332.05 L765.3,331.02 L765.6,329.99 L765.9,329.01 L766.2,328.15 L766.5,327.42 L766.8,326.88 L767.1,326.54 L767.4,326.42 L767.7,326.52 L768.0,326.82 L768.3,327.30 L768.6,327.93 L768.9,328.69 L769.2,329.51 L769.5,330.36 L769.8,331.19 L770.1,331.96 L770.4,332.64 L770.7,333.18 L771.0,333.56 L771.3,333.78 L771.6,333.82 L771.9,333.68 L772.2,333.38 L772.5,332.94 L772.8,332.39 L773.1,331.76 L773.4,331.08 L773.7,330.39 L774.0,329.72 L774.3,329.12 L774.6,328.61 L774.9,328.22 L775.2,327.95 L775.5,327.83 L775.8,327.85 L776.1,328.01 L776.4,328.29 L776.7,328.68 L777.0,329.15 L777.3,329.67 L777.6,330.22 L777.9,330.77 L778.2,331.29 L778.5,331.75 L778.8,332.12 L779.1,332.40 L779.4,332.58 L779.7,332.64 L780.0,332.58 L780.3,332.42 L780.6,332.16 L780.9,331.83 L781.2,331.44 L781.5,331.01 L781.8,330.57 L782.1,330.14 L782.4,329.75 L782.7,329.41 L783.0,329.13 L783.3,328.94 L783.6,328.84 L783.9,328.82 L784.2,328.89 L784.5,329.05 L784.8,329.27 L785.1,329.55 L785.4,329.87 L785.7,330.21 L786.0,330.56 L786.3,330.89 L786.6,331.18 L786.9,331.43 L787.2,331.62 L787.5,331.75 L787.8,331.81 L788.1,331.80 L788.4,331.72 L788.7,331.58 L789.0,331.39 L789.3,331.16 L789.6,330.90 L789.9,330.63 L790.2,330.37 L790.5,330.12 L790.8,329.90 L791.1,329.72 L791.4,329.59 L791.7,329.51 L792.0,329.49 L792.3,329.52 L792.6,329.59 L792.9,329.72 L793.2,329.87 L793.5,330.06 L793.8,330.26 L794.1,330.47 L794.4,330.67 L794.7,330.85 L795.0,331.01 L795.3,331.13 L795.6,331.22 L795.9,331.26 L796.2,331.27 L796.5,331.23 L796.8,331.16 L797.1,331.06 L797.4,330.93 L797.7,330.78 L798.0,330.63 L798.3,330.47 L798.6,330.33 L798.9,330.19 L799.2,330.08 L799.5,330.00 L799.8,329.94 L800.1,329.92 L800.4,329.93 L800.7,329.96 L801.0,330.03 L801.3,330.11 L801.6,330.21 L947.0,330.50" fill="none" stroke="#7b797d" stroke-width="1.9" stroke-linejoin="round"/>
<path d="M940.2,320.3 L964,330.1 L940.2,339.7 L946.8,330.3 Z" fill="#79777c"/>
<text transform="translate(90.85,34.24) scale(0.8776,1)" font-family='"Liberation Sans", sans-serif' font-size="36.16" font-weight="bold" fill="#fff">a</text>
<text transform="translate(310.01,35.35) scale(1.0701,1)" font-family='"Liberation Sans", sans-serif' font-size="25.44" fill="#fff">0</text>
<text transform="translate(400.48,36.13) scale(0.9623,1)" font-family='"Liberation Sans", sans-serif' font-size="27.28" fill="#fff">8x10</text>
<text transform="translate(457.32,26.34) scale(0.9640,1)" font-family='"Liberation Sans", sans-serif' font-size="15.69" fill="#fff">-3</text>
<text transform="translate(51.96,68.20) scale(1.0954,1)" font-family='"Liberation Sans", sans-serif' font-size="34.62" fill="#000">1</text>
<text transform="translate(51.81,166.34) scale(1.0302,1)" font-family='"Liberation Sans", sans-serif' font-size="36.18" fill="#000">0</text>
<text transform="translate(39.82,255.80) scale(1.1119,1)" font-family='"Liberation Sans", sans-serif' font-size="33.60" fill="#000">-1</text>
<text transform="translate(80.13,288.35) scale(1.0724,1)" font-family='"Liberation Sans", sans-serif' font-size="34.63" fill="#000">-10</text>
<text transform="translate(195.25,288.35) scale(1.1188,1)" font-family='"Liberation Sans", sans-serif' font-size="34.63" fill="#000">0</text>
<text transform="translate(313.92,288.35) scale(1.0711,1)" font-family='"Liberation Sans", sans-serif' font-size="34.63" fill="#000">10</text>
<text transform="translate(441.41,288.35) scale(1.0930,1)" font-family='"Liberation Sans", sans-serif' font-size="34.63" fill="#000">20</text>
<text transform="translate(687.63,723.46) scale(1.1207,1)" font-family='"Liberation Sans", sans-serif' font-size="33.74" fill="#000">time</text>
<text transform="translate(770.79,722.36) scale(0.9586,1)" font-family='"Liberation Sans", sans-serif' font-size="34.42" fill="#000">[</text>
<text transform="translate(782.61,723.47) scale(1.1200,1)" font-family='"Liberation Sans", sans-serif' font-size="32.67" font-style="italic" fill="#000">t</text>
<text transform="translate(794.92,737.00) scale(1.0571,1)" font-family='"Liberation Sans", sans-serif' font-size="20.55" font-style="italic" fill="#000">h</text>
<text transform="translate(806.45,710.90) scale(1.0020,1)" font-family='"Liberation Sans", sans-serif' font-size="21.09" fill="#000">-1</text>
<text transform="translate(827.37,722.75) scale(0.8724,1)" font-family='"Liberation Sans", sans-serif' font-size="34.96" fill="#000">]</text>
<text transform="translate(197.63,322.26) scale(1.1207,1)" font-family='"Liberation Sans", sans-serif' font-size="33.74" fill="#000">time</text>
<text transform="translate(280.79,321.16) scale(0.9586,1)" font-family='"Liberation Sans", sans-serif' font-size="34.42" fill="#000">[</text>
<text transform="translate(292.61,322.27) scale(1.1200,1)" font-family='"Liberation Sans", sans-serif' font-size="32.67" font-style="italic" fill="#000">t</text>
<text transform="translate(304.92,335.80) scale(1.0571,1)" font-family='"Liberation Sans", sans-serif' font-size="20.55" font-style="italic" fill="#000">h</text>
<text transform="translate(316.45,309.70) scale(1.0020,1)" font-family='"Liberation Sans", sans-serif' font-size="21.09" fill="#000">-1</text>
<text transform="translate(337.37,321.55) scale(0.8724,1)" font-family='"Liberation Sans", sans-serif' font-size="34.96" fill="#000">]</text>
<text transform="translate(28.70,189.17) rotate(-90) scale(1.0323,1)" font-family='"Liberation Serif", serif' font-size="40.42" fill="#000">ω</text>
<text transform="translate(26.70,160.15) rotate(-90) scale(0.9524,1)" font-family='"Liberation Sans", sans-serif' font-size="35.17" fill="#000">[</text>
<text transform="translate(27.55,148.48) rotate(-90) scale(1.1200,1)" font-family='"Liberation Sans", sans-serif' font-size="35.11" font-style="italic" fill="#000">t</text>
<text transform="translate(41.30,136.37) rotate(-90) scale(0.9690,1)" font-family='"Liberation Sans", sans-serif' font-size="21.79" font-style="italic" fill="#000">h</text>
<text transform="translate(26.70,122.85) rotate(-90) scale(0.9524,1)" font-family='"Liberation Sans", sans-serif' font-size="35.17" fill="#000">]</text>
<text transform="translate(77.33,356.00) scale(0.9858,1)" font-family='"Liberation Sans", sans-serif' font-size="30.11" fill="#000">x10</text>
<text transform="translate(125.13,345.40) scale(1.0059,1)" font-family='"Liberation Sans", sans-serif' font-size="17.06" fill="#000">-2</text>
<text transform="translate(89.60,405.03) scale(0.9578,1)" font-family='"Liberation Sans", sans-serif' font-size="37.01" font-weight="bold" fill="#000">b</text>
<text transform="translate(51.03,397.40) scale(0.9262,1)" font-family='"Liberation Sans", sans-serif' font-size="36.95" fill="#000">1</text>
<text transform="translate(48.03,651.35) scale(1.1127,1)" font-family='"Liberation Sans", sans-serif' font-size="35.19" fill="#000">0</text>
<text transform="translate(136.56,683.85) scale(1.0418,1)" font-family='"Liberation Sans", sans-serif' font-size="34.63" fill="#000">0.2</text>
<text transform="translate(293.74,683.84) scale(1.0264,1)" font-family='"Liberation Sans", sans-serif' font-size="35.62" fill="#000">0.6</text>
<text transform="translate(466.48,684.10) scale(0.9303,1)" font-family='"Liberation Sans", sans-serif' font-size="37.53" fill="#000">1</text>
<text transform="translate(229.86,727.80) scale(1.0976,1)" font-family='"Liberation Serif", serif' font-size="39.58" fill="#000">ω</text>
<text transform="translate(258.99,727.27) scale(0.9213,1)" font-family='"Liberation Sans", sans-serif' font-size="35.82" fill="#000">[</text>
<text transform="translate(270.88,727.87) scale(1.1200,1)" font-family='"Liberation Sans", sans-serif' font-size="32.82" font-style="italic" fill="#000">t</text>
<text transform="translate(283.64,740.80) scale(0.9944,1)" font-family='"Liberation Sans", sans-serif' font-size="20.83" font-style="italic" fill="#000">h</text>
<text transform="translate(296.12,727.27) scale(1.0330,1)" font-family='"Liberation Sans", sans-serif' font-size="35.82" fill="#000">]</text>
<text transform="translate(34.31,588.26) rotate(-90) scale(1.0954,1)" font-family='"Liberation Sans", sans-serif' font-size="34.64" fill="#000">intensity</text>
<text transform="translate(373.23,407.84) scale(1.1200,1)" font-family='"Liberation Sans", sans-serif' font-size="25.80" font-style="italic" fill="#000">t</text>
<text transform="translate(381.80,407.85) scale(1.0044,1)" font-family='"Liberation Sans", sans-serif' font-size="25.23" fill="#000">=-5</text>
<text transform="translate(422.28,407.84) scale(1.1200,1)" font-family='"Liberation Sans", sans-serif' font-size="25.80" font-style="italic" fill="#000">t</text>
<text transform="translate(432.42,418.50) scale(0.9898,1)" font-family='"Liberation Sans", sans-serif' font-size="16.00" font-style="italic" fill="#000">h</text>
<text transform="translate(440.26,398.70) scale(1.0507,1)" font-family='"Liberation Sans", sans-serif' font-size="15.56" fill="#000">-1</text>
<text transform="translate(373.30,442.45) scale(1.1200,1)" font-family='"Liberation Sans", sans-serif' font-size="25.50" font-style="italic" fill="#000">t</text>
<text transform="translate(381.70,442.45) scale(1.0790,1)" font-family='"Liberation Sans", sans-serif' font-size="25.30" fill="#000">=0</text>
<text transform="translate(373.19,477.84) scale(1.1169,1)" font-family='"Liberation Sans", sans-serif' font-size="26.11" font-style="italic" fill="#000">t</text>
<text transform="translate(382.66,477.84) scale(0.9367,1)" font-family='"Liberation Sans", sans-serif' font-size="25.66" fill="#000">=5</text>
<text transform="translate(412.34,477.84) scale(1.0739,1)" font-family='"Liberation Sans", sans-serif' font-size="26.11" font-style="italic" fill="#000">t</text>
<text transform="translate(423.03,487.80) scale(0.9356,1)" font-family='"Liberation Sans", sans-serif' font-size="16.28" font-style="italic" fill="#000">h</text>
<text transform="translate(431.26,468.20) scale(1.0038,1)" font-family='"Liberation Sans", sans-serif' font-size="16.29" fill="#000">-1</text>
<text transform="translate(583.10,34.15) scale(0.8496,1)" font-family='"Liberation Sans", sans-serif' font-size="35.25" font-weight="bold" fill="#000">c</text>
<text transform="translate(615.83,34.83) scale(0.9440,1)" font-family='"Liberation Sans", sans-serif' font-size="37.26" fill="#000">snapshot QFI</text>
<text transform="translate(505.47,31.33) scale(0.9798,1)" font-family='"Liberation Sans", sans-serif' font-size="36.61" fill="#000">0.3</text>
<text transform="translate(504.24,208.73) scale(0.9939,1)" font-family='"Liberation Sans", sans-serif' font-size="36.61" fill="#000">0.2</text>
<rect x="488.8" y="141.6" width="2.2" height="17.9" fill="#000"/>
<path d="M498.2,148.1 C497.2,150.5 497.8,153.5 500.5,154.8 C503,156 508,156.7 514.6,157.8 L524.5,159.8 C528.2,160.8 529.6,162.8 529.5,166.1" fill="none" stroke="#000" stroke-width="2.5" stroke-linecap="round"/><path d="M506.5,150.5 V160.2" stroke="#000" stroke-width="2.4"/><ellipse cx="529.6" cy="143" rx="6.7" ry="5.7" transform="rotate(18 529.6 143)" fill="none" stroke="#000" stroke-width="1.6"/><path d="M535.4,140.6 L538.5,137.2" stroke="#000" stroke-width="1.7" stroke-linecap="round"/>
<text transform="translate(582.89,404.63) scale(0.9490,1)" font-family='"Liberation Sans", sans-serif' font-size="37.14" font-weight="bold" fill="#000">d</text>
<text transform="translate(615.54,405.00) scale(0.8981,1)" font-family='"Liberation Sans", sans-serif' font-size="36.65" fill="#000">QFI</text>
<text transform="translate(503.37,398.34) scale(0.9889,1)" font-family='"Liberation Sans", sans-serif' font-size="36.04" fill="#000">0.3</text>
<text transform="translate(505.46,574.53) scale(0.9817,1)" font-family='"Liberation Sans", sans-serif' font-size="36.75" fill="#000">0.2</text>
<g transform="translate(-1.8,367.1)"><path d="M498.2,148.1 C497.2,150.5 497.8,153.5 500.5,154.8 C503,156 508,156.7 514.6,157.8 L524.5,159.8 C528.2,160.8 529.6,162.8 529.5,166.1" fill="none" stroke="#000" stroke-width="2.5" stroke-linecap="round"/><path d="M506.5,150.5 V160.2" stroke="#000" stroke-width="2.4"/><ellipse cx="529.6" cy="143" rx="6.7" ry="5.7" transform="rotate(18 529.6 143)" fill="none" stroke="#000" stroke-width="1.6"/><path d="M535.4,140.6 L538.5,137.2" stroke="#000" stroke-width="1.7" stroke-linecap="round"/></g>
<text transform="translate(540.28,683.65) scale(1.0158,1)" font-family='"Liberation Sans", sans-serif' font-size="35.48" fill="#000">-10</text>
<text transform="translate(686.07,683.25) scale(1.0299,1)" font-family='"Liberation Sans", sans-serif' font-size="34.77" fill="#000">0</text>
<text transform="translate(803.20,683.25) scale(1.0351,1)" font-family='"Liberation Sans", sans-serif' font-size="34.77" fill="#000">10</text>
<text transform="translate(931.44,683.25) scale(1.0126,1)" font-family='"Liberation Sans", sans-serif' font-size="34.77" fill="#000">20</text>
</svg>
</body></html>
